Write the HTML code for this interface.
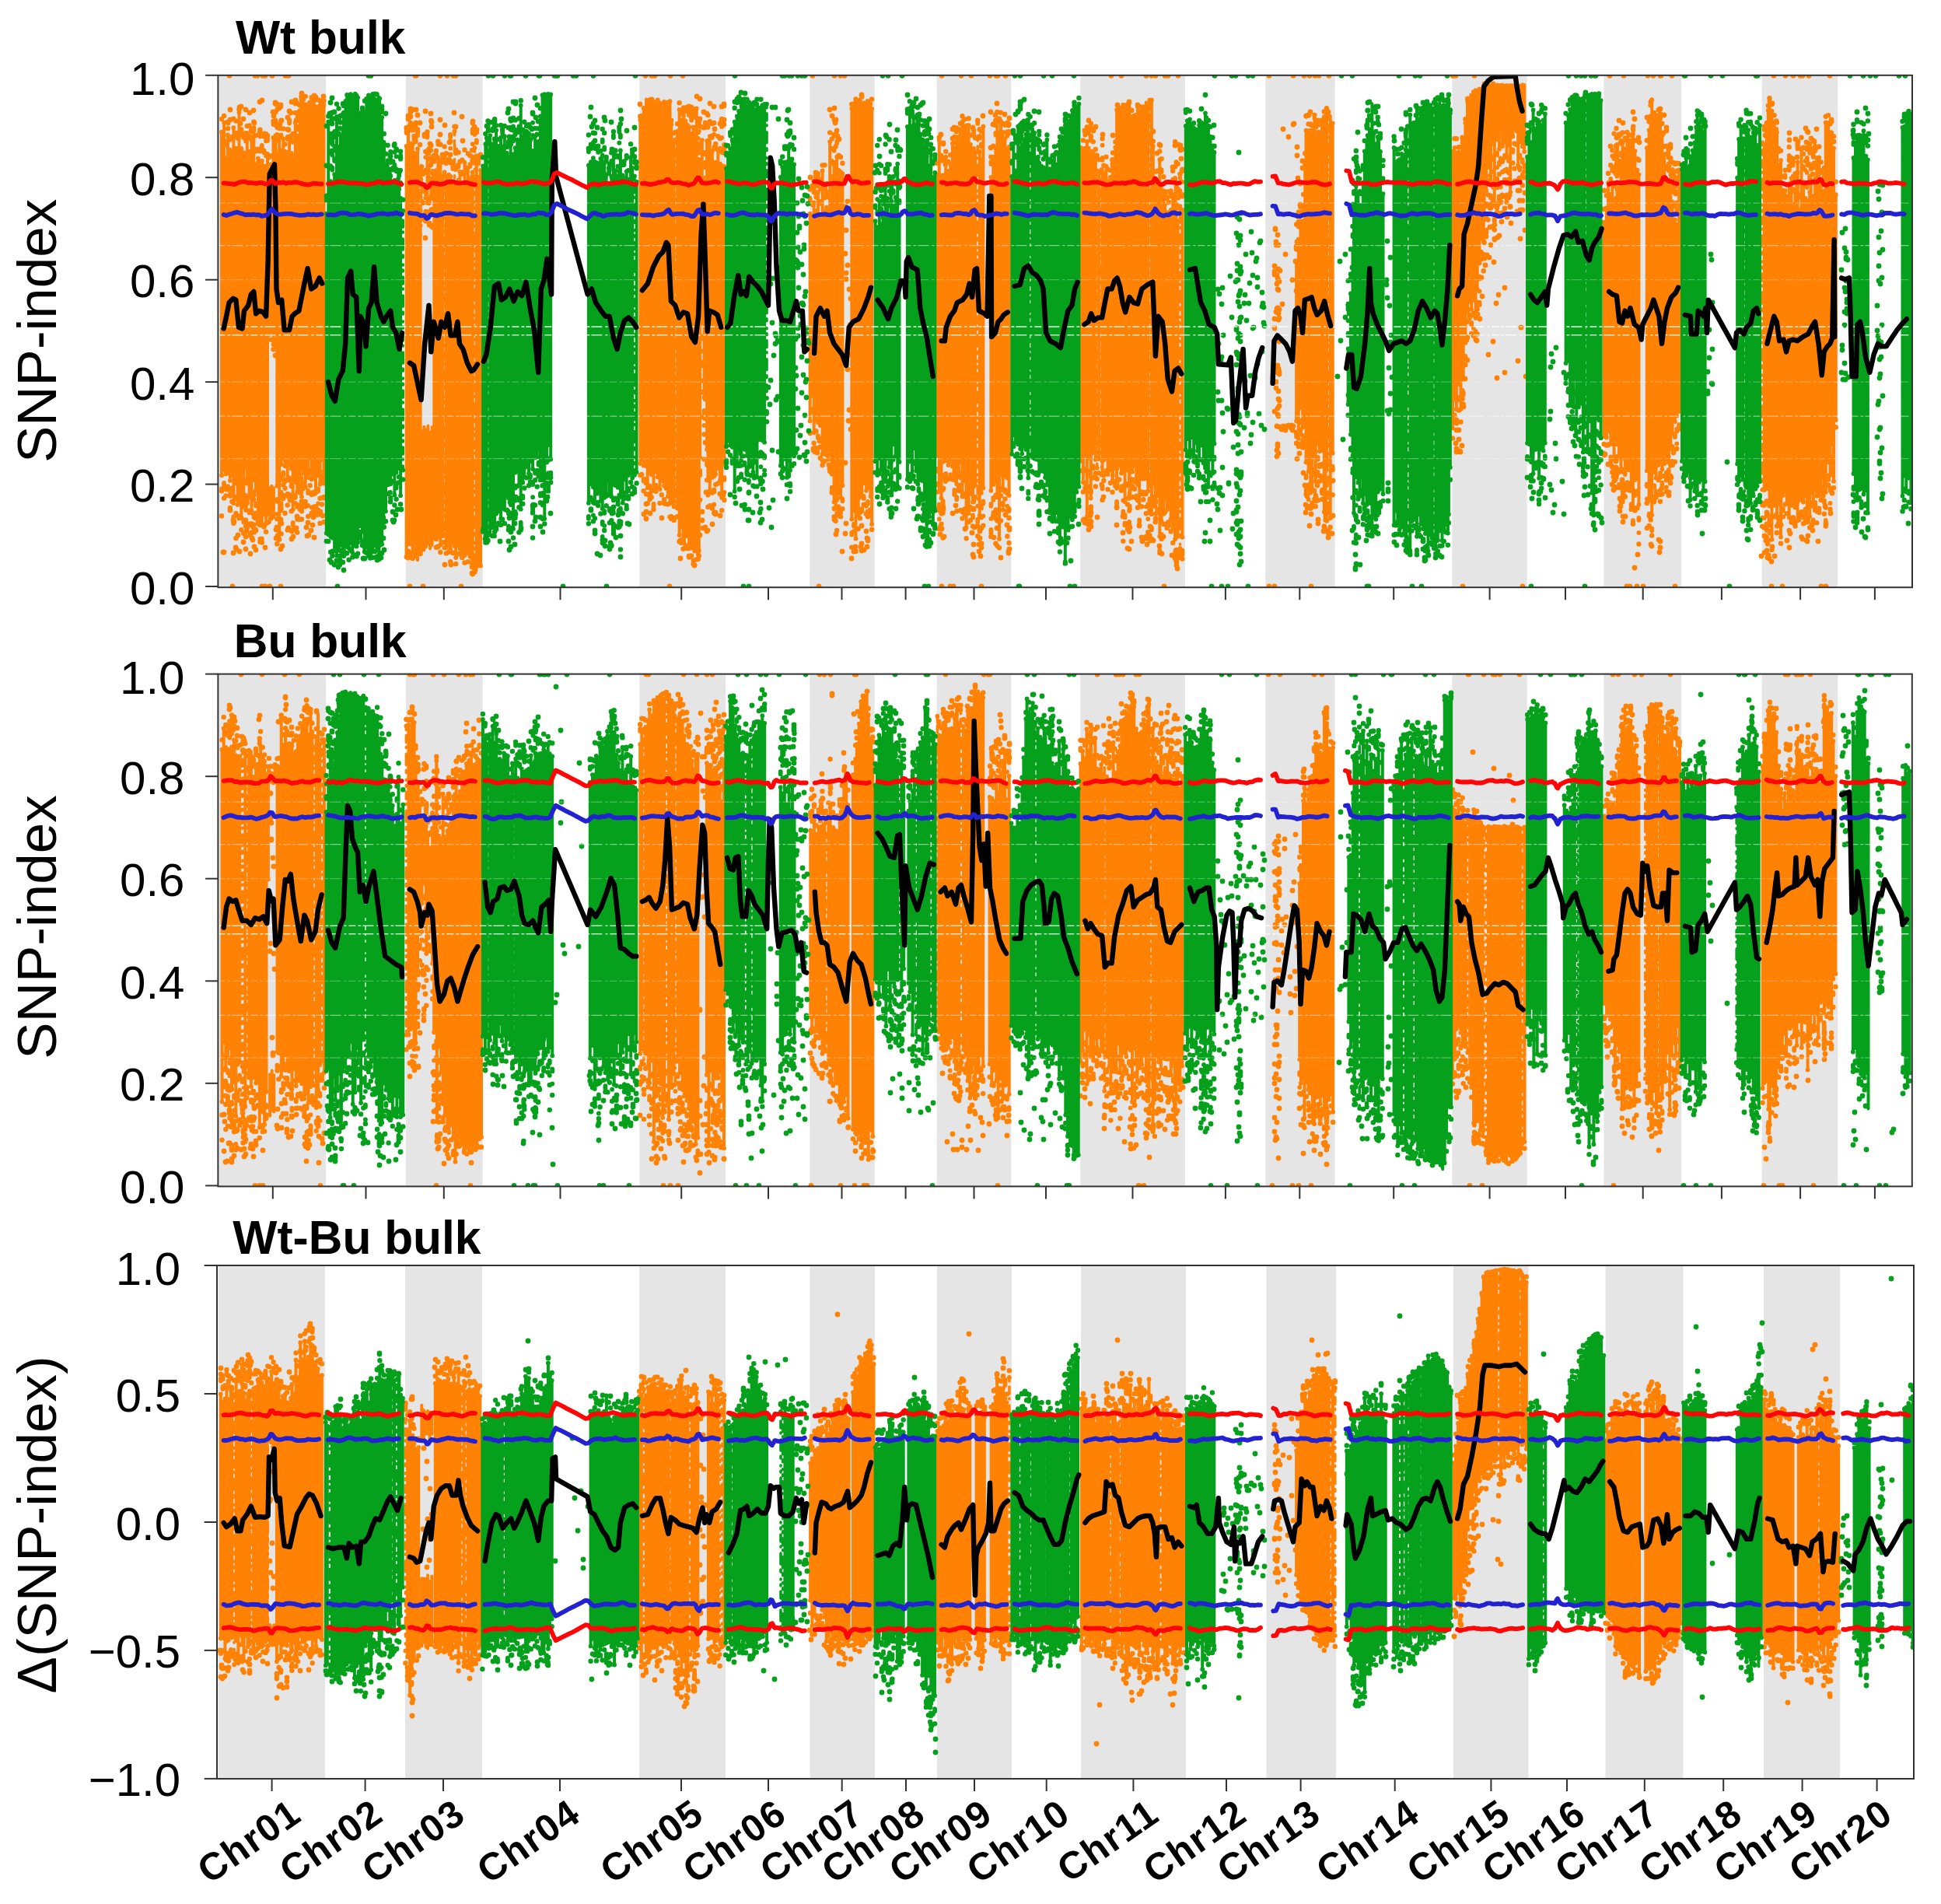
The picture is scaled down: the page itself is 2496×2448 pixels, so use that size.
<!DOCTYPE html><html><head><meta charset="utf-8"><title>SNP-index</title><style>html,body{margin:0;padding:0;background:#fff}</style></head><body><svg width="2496" height="2448" viewBox="0 0 2496 2448" style="display:block;font-family:'Liberation Sans',Arial,sans-serif">
<rect width="2496" height="2448" fill="#fff"/>
<g>
<rect x="281.8" y="96.8" width="137.2" height="658.4" fill="#E5E5E5"/>
<rect x="521.8" y="96.8" width="98.8" height="658.4" fill="#E5E5E5"/>
<rect x="822.3" y="96.8" width="110.8" height="658.4" fill="#E5E5E5"/>
<rect x="1041.4" y="96.8" width="83.3" height="658.4" fill="#E5E5E5"/>
<rect x="1204.6" y="96.8" width="95.8" height="658.4" fill="#E5E5E5"/>
<rect x="1389.2" y="96.8" width="134.7" height="658.4" fill="#E5E5E5"/>
<rect x="1627.3" y="96.8" width="89.3" height="658.4" fill="#E5E5E5"/>
<rect x="1867.3" y="96.8" width="96.3" height="658.4" fill="#E5E5E5"/>
<rect x="2062.4" y="96.8" width="99.8" height="658.4" fill="#E5E5E5"/>
<rect x="2265.6" y="96.8" width="97.8" height="658.4" fill="#E5E5E5"/>
<clipPath id="cp0"><rect x="280.4" y="96.3" width="2179.6" height="659.4"/></clipPath>
<g clip-path="url(#cp0)">
<path d="M285 172.8V608.1M288.1 160.8V600.7M290.4 206.4V606.3M293 176.6V605M295.9 195.7V614.8M298.4 197.7V607.3M300.4 167.2V644M303.4 193.8V618.5M305.6 194.1V645.8M307.5 147.7V644.7M310.3 194V662.3M313.3 199.3V648.3M316 201.7V597.8M317.8 174.3V618.6M320.6 198V636.3M323.4 183.3V652.8M326.2 177.8V614.3M326.4 170.4V593M329 214.8V627.5M332 211.8V661.5M334.4 214.6V672.5M336.8 210.1V672.3M339.5 216.5V657.8M342.1 220.5V669.8M344 201.1V657.8M346 222.4V427.1M348.4 214.5V423.9M351.5 180.1V440M353.6 214V424.8M354.4 177.4V425.7M356.3 199.8V621.7M359.2 179V682.4M361.5 196.6V593.9M364.3 181.5V587.4M366.5 197.7V596.2M369.7 199V614.6M372.1 178.7V594M374.7 200V599.4M376.7 202.9V651.8M379.8 160.8V616.9M381.8 197.7V588.3M382.2 181.7V628.7M385.6 145V630.6M388 137.4V599.5M387.5 131.1V594.2M390 136.2V605.3M392.7 137.4V623.2M396.2 136.9V610.9M398.7 138.7V584.5M400.6 138.6V613.2M403.6 138.6V612.3M406 141.2V630.9M409.1 140V608.4M411.5 133.1V619.7M414.1 131.9V587.4M416.5 138.1V618.4M346.7 627V671.9M349.3 624.7V667.4M351.9 627.3V665.4M522.6 191.1V712.7M525 167.2V696.3M528.1 187.4V696.5M530.6 188.6V706.3M532.6 199.9V708.6M534.6 202.4V705.8M537 194.4V720.3M540.1 304.5V703.8M540.6 293V705.5M547.3 241.4V251.5M549.5 196.6V258M551.6 217.2V236.6M554.4 232.4V249M556.3 243.1V252.1M558.3 228V688.6M560.9 222.2V690.5M563.3 205.8V686.5M566.3 208V697.3M569.2 229.5V686.2M573.8 230.3V700.8M577.1 227.8V697.4M579.2 229.8V703.4M582.3 237.2V694.9M586.2 238V714M589.5 234.6V698M591.5 223.9V702.5M594.3 244.3V706.5M597.5 211.9V711.2M599.2 242.1V708.3M601.8 218.4V708.3M604.4 234.2V712.4M607.1 229.8V714.7M607.7 224.4V724.2M612.8 203.6V718M615.2 230.7V720.4M618 222.1V724.3M542.7 554.2V708.2M545.3 548.8V707.3M547.9 552.8V703.5M550.5 547.5V699.4M553.1 555.8V705.5M555.7 549V701M823.3 157.2V592.9M825.2 152V587.2M827.7 142.1V595.5M831 127.6V595.9M832.7 132.3V624.1M835.6 135.4V604.2M837.7 131V607.2M840.5 133.7V627.8M843.5 135.9V603.5M845.8 131.5V610.3M848.5 135.4V626M850.8 136.8V614.9M854 133.9V621.4M856.6 135.2V625M858.8 134.4V635.1M861.5 133.2V644.2M863.2 162.7V643.6M866.5 183.2V648.3M871.1 171.8V650.5M873.6 144.1V684.9M875.9 157.9V674.1M878.5 161.1V691.7M879.1 152V672.5M881.5 158.6V686.1M883.8 163.7V685.7M886.2 166.1V702.1M889.1 174.9V701.5M891.6 166.6V700.1M893.2 172.7V705.5M895.7 142.5V703.5M897.7 217.2V709.4M898.8 207.9V705M900.1 232.2V584.9M902.8 183.2V412.2M905.5 235.2V507.8M906.9 231.7V434.3M909.1 184.3V575M910.4 184V613.6M912.8 178.2V628M915.9 197.2V610.8M918.3 211.9V609.3M920.3 211.8V606.7M923.3 196V598.9M926 213.7V614.4M928.2 216.1V636.8M931.4 217.1V593.8M1041.6 277.7V538.2M1044.7 280.7V505.9M1046.7 263.5V553.2M1049.5 274V536.3M1051.9 249.9V540.1M1054.7 281.9V543.9M1057.6 222.4V580.8M1060.5 274.7V578.7M1062.9 269.7V576.2M1065.2 273.9V574.2M1067.2 185.2V581.7M1069.8 230.1V606.6M1072.6 213.9V642.3M1074.6 211.4V649.9M1076.2 204.7V639.9M1078.5 222.1V631.1M1081 224.1V636.4M1083.4 226.3V621.2M1095.3 142.6V664.5M1098 141V653.6M1100.5 135.5V689.3M1103.7 128.7V658.6M1105.9 131.3V636.2M1108.3 137.3V633.8M1110.7 135.5V617.9M1114 141.5V627.7M1115.9 140.4V624.7M1119.4 136.5V635.1M1121.1 143.1V670.8M1205.3 228V582.8M1207.8 183.4V628.3M1210.5 229V637.3M1212.6 228.5V590.7M1215.8 227.6V589.3M1216.2 204.8V588.9M1219.5 222.9V594.8M1222.2 214.5V590M1224.9 187.5V596.7M1227.4 193.8V609.9M1227.3 196.3V584.7M1230.2 179.4V619.1M1232.9 179.1V603.9M1234.9 169.1V591.2M1237.5 160V635.5M1238 158.9V611.4M1240.5 169.2V615M1242.6 174V675.1M1245.6 164V656.9M1248 189V631.8M1251 194.7V642.4M1254.2 198.3V620.6M1259.7 197.9V659.5M1261.8 208.5V630.6M1264.4 165.4V624.4M1274.4 231.1V627.7M1277.3 205V619.8M1280.4 193.9V616.1M1282.4 160.1V635.9M1285 173.2V689.8M1287 158.8V607.5M1289.7 173.1V626.3M1292.4 181.3V609.4M1295.3 194.6V611.5M1297.5 191.9V633.8M1389.7 199.4V589.7M1392.9 194.6V617M1395.4 193.8V582.5M1397.8 185V660.9M1399.7 193.6V585.9M1402.9 197.7V610.2M1402.7 200.7V637.5M1405.8 198.6V579.1M1408.8 203.2V587.8M1413.1 223.9V587M1417.6 225.9V605.3M1419.4 226V588.5M1422.5 216.7V586.1M1424.6 235.8V606.8M1427.9 230.7V601.6M1430.5 233.4V616.2M1431 214.9V607.9M1434.3 192.6V599.2M1436.1 144.2V624.7M1436.5 144.2V599.1M1439.3 141.5V595.2M1442 143.5V605.4M1444.3 137.8V604.2M1446.6 141.4V642.1M1449.9 142V601.5M1452.1 135.4V617.7M1452.6 143.8V630.4M1455.3 153.2V595.9M1456.1 184.1V603.6M1459 155.5V596.4M1461.2 151.3V617.3M1462.9 139.6V620.4M1465.2 143V648.4M1468.1 142.3V612.1M1470.3 140.2V612.6M1473.8 131.4V612.3M1476.3 140.4V628.1M1480.9 131.3V658.1M1482.8 190.9V618.5M1486.2 233.1V623.2M1485.7 250V648.3M1488.2 239.1V634.7M1491.3 208.3V686.7M1493.6 241.3V666.7M1496.3 248.4V657.8M1498 266V639.5M1500.7 276V652.3M1503 278.1V650.3M1505.7 273V664M1508.2 253.8V675.2M1511.1 252V690.2M1512.6 265.5V686.6M1514.6 287.4V686.7M1520.4 273V687.6M1667.1 339.8V538.5M1669.8 310.7V560.8M1672.4 287.2V520.7M1675.2 292.1V546.3M1676.1 286.9V540.1M1678.2 213.8V543.4M1679.5 170.8V591.3M1682.6 171.2V603.1M1685.2 171V630.6M1687.2 170.9V626.3M1690.4 155.6V583.5M1691.8 179.4V616M1694.7 172.8V567.7M1696.8 173V577.2M1700.1 163.6V576.2M1702.8 153.3V655.2M1704.6 160V645M1706 151.1V601M1710.7 148.8V663.2M1713.6 161.5V579.5M1868 197.9V547.3M1870.5 193V511.1M1872.9 200.1V523.1M1875.7 198.6V490.9M1878.5 199.7V523.2M1880.6 186.4V481.8M1881.7 198.8V484.6M1884.4 161.4V437.8M1887.3 134.5V394M1887 131.5V377.6M1889.7 130.3V384.1M1892.2 125.3V394.8M1894.9 121.3V382.7M1897.6 119.2V405.9M1899.7 117.1V368.3M1902.5 117.5V335.4M1904.7 114.8V303.6M1907.7 109.2V306.5M1908.6 111.1V278.9M1911.2 110.6V241.9M1913.5 109.6V211.9M1915.9 109.3V186.6M1917 109.5V231.3M1919.6 109.3V181.7M1921.8 109.1V261.1M1925.1 108.6V176.2M1927.9 108.9V188.7M1929.6 108.9V164.3M1932.2 108.6V184.9M1935.1 109.5V179.6M1937.5 109V197.2M1940 109.5V183.8M1942.2 109V243.8M1945.4 109.3V172.4M1947.5 109.2V161.6M1950.4 108.9V165.5M1952.2 109.2V209.3M1954.4 109.4V179.4M1957.9 108.2V185.3M1960.3 109V191.8M2062.6 288.8V558.1M2065.8 270.5V559.4M2068.1 237.9V551.4M2071.3 253V567.3M2073.3 239.7V568M2075.6 259.8V584.6M2078.5 257.4V568.1M2079.4 246.8V566.7M2081.9 244.8V583.9M2084.5 220.1V602M2086.5 186.9V583.4M2089.8 198.6V606.9M2089.3 194.2V586.8M2092.4 180.6V600M2094.8 184.2V601.1M2097.7 183.5V628.1M2099.9 175.4V649.1M2100.2 170.9V607.4M2102.5 197.2V613.9M2105.6 221.7V611M2107.4 227.4V645.7M2117.8 193.3V602.2M2120.6 170.6V640.6M2122.6 152.3V640.3M2124.2 131.2V659.2M2127.3 147.7V604M2129.6 151V611.5M2132.6 153.6V594.8M2135 163.3V591M2135 153.7V587.7M2137.4 177.6V600.5M2140.2 201.2V593.1M2142.9 237.1V587.4M2145.8 255.3V583.9M2145.6 236.9V571.7M2148.4 227.2V573.9M2150.6 262.6V553.9M2153.9 285.4V539M2156.3 291.9V531.4M2159.1 221.6V525.9M2268.8 189.1V626.9M2271.8 167.9V623.9M2273.8 145V625.2M2275.5 133.2V647.6M2278.5 145.7V690.6M2281.6 160.6V646.7M2284.2 168.9V641M2285.1 173.1V660.8M2286.8 215.5V644.6M2290 209.2V687.4M2290.3 256.2V661M2292.9 247.5V633.8M2295.6 248.3V628.4M2297.7 255.8V644.2M2300.7 239.2V662.2M2303.5 232.3V646.8M2305.7 265.9V644.7M2308.5 247.5V649.5M2311.6 211.5V666.4M2313.4 273.1V640M2316.5 195V639.7M2319 236.9V642.4M2321.7 258V634.4M2323.8 261V649.8M2327.2 250.1V660.8M2328.7 237.5V630M2331.7 255.2V648.2M2334.2 233.1V625.8M2336.2 205.9V634.7M2339.3 205.4V633.9M2341.6 242.1V628.2M2344.5 248.8V609.9M2345.9 249.4V623.4M2347.7 160.4V629.8M2351 160.9V591.2M2353.5 173.2V607.7M2355.2 173.4V567M2358 193.8V615.6M2360.7 253.2V536.8" stroke="#FF8205" stroke-width="4" stroke-linecap="round" fill="none"/>
<path d="M285 169.8V156.1M285 611.1V628.2M288.1 157.8V152.1M288.1 603.7V637.4M290.4 203.4V184.9M290.4 609.3V634.4M293 173.6V168.2M293 608V626.4M295.9 192.7V182.4M295.9 617.8V650M298.4 194.7V179M298.4 610.3V641.9M300.4 164.2V155.8M300.4 647V669.7M303.4 190.8V158.6M303.4 621.5V656.9M305.6 191.1V180.7M305.6 648.8V659.9M307.5 144.7V144M307.5 647.7V663.2M310.3 191V169.6M310.3 665.3V678.2M313.3 196.3V179.8M313.3 651.3V682.7M316 198.7V174.3M316 600.8V673.5M317.8 171.3V165M317.8 621.6V643.7M320.6 195V164.6M320.6 639.3V670.5M323.4 180.3V168.1M323.4 655.8V681.4M326.2 174.8V167.5M326.2 617.3V639.4M326.4 167.4V159.9M326.4 596V633.5M329 211.8V177.1M329 630.5V678.1M331.9 203.7V194.8M331.9 661V668.2M332 208.8V196.7M332 664.5V670.2M334.4 211.6V169.9M334.4 675.5V693.7M336.8 207.1V177.7M336.8 675.3V694.5M339.5 213.5V178.3M339.5 660.8V674.4M342.1 217.5V175.4M342.1 672.8V680.6M344 198.1V177.3M344 660.8V668.9M346 219.4V205.5M346 430.1V436.3M348.4 211.5V203.6M348.4 426.9V433.7M351.5 177.1V159.1M351.5 443V446.2M353.6 211V185.7M353.6 427.8V440.6M354.4 174.4V146.9M354.4 428.7V436.8M356.3 196.8V176.2M356.3 624.7V664.2M359.2 176V166M359.2 685.4V690.5M361.5 193.6V158.1M361.5 596.9V651.2M364.3 178.5V168.5M364.3 590.4V620.4M366.5 194.7V188.2M366.5 599.2V624.7M369.7 196V169.2M369.7 617.6V646.4M372.1 175.7V157.8M372.1 597V632.9M374.7 197V177.6M374.7 602.4V622M376.7 199.9V175M376.7 654.8V678.1M379.8 157.8V148.1M379.8 619.9V644.2M381.8 194.7V169.2M381.8 591.3V613.2M382.2 178.7V166M382.2 631.7V681.4M385.6 142V138.4M385.6 633.6V664.8M388 134.4V131.6M388 602.5V664.5M387.5 128.1V127.2M387.5 597.2V647M390 133.2V130.5M390 608.3V648.2M392.7 134.4V127.1M392.7 626.2V642M396.2 133.9V126.5M396.2 613.9V660.9M398.7 135.7V134.9M398.7 587.5V621.1M400.6 135.6V128.4M400.6 616.2V658.7M403.6 135.6V132.9M403.6 615.3V653.6M406 138.2V127.9M406 633.9V648.3M409.1 137V131.4M409.1 611.4V658.3M411.5 130.1V129.4M411.5 622.7V637.7M414.1 128.9V128.8M414.1 590.4V613.3M416.5 135.1V132.5M416.5 621.4V636M522.6 188.1V167.4M525 164.2V154.9M525 699.3V711.8M528.1 184.4V161.4M528.1 699.5V709.9M530.6 185.6V170.2M530.6 709.3V714.9M532.6 196.9V178.1M532.6 711.6V712.8M534.6 199.4V160.7M534.6 708.8V712.2M537 191.4V169.3M540.1 301.5V221.2M540.1 706.8V717.3M540.6 290V249.3M540.6 708.5V708.8M542.1 240.1V217.3M542.1 246.1V255.9M544 240.1V226.7M544 246.1V257.8M547.3 238.4V198.1M547.3 254.5V281.1M549.5 193.6V172.6M549.5 261V269.1M551.6 214.2V194.2M551.6 239.6V258M554.4 229.4V190.1M554.4 252V286.4M556.3 240.1V204.8M556.3 255.1V266.5M558.3 225V202.9M558.3 691.6V694.1M560.9 219.2V197.1M560.9 693.5V700.6M563.3 202.8V184.9M563.3 689.5V699.9M566.3 205V188.7M566.3 700.3V707M569.2 226.5V211.6M569.2 689.2V694.3M571.6 221.4V191.6M571.6 696.9V701.2M573.8 227.3V200.4M573.8 703.8V708.4M577.1 224.8V207.7M577.1 700.4V706.6M579.2 226.8V176.3M579.2 706.4V719.2M582.3 234.2V211.8M582.3 697.9V707.9M584.5 168.7V165.7M584.5 701.9V707.5M586.2 235V199.9M586.2 717V722M589.5 231.6V199M589.5 701V708.6M591.5 220.9V210.9M591.5 705.5V709.5M594.3 241.3V208.7M594.3 709.5V713.8M597.5 208.9V195.7M597.5 714.2V720.4M599.2 239.1V218.9M599.2 711.3V717.9M601.8 215.4V200.5M601.8 711.3V719.1M604.4 231.2V202.9M604.4 715.4V716.9M607.1 226.8V196.3M607.1 717.7V720.8M607.7 221.4V161.2M607.7 727.2V735.2M610.4 190.2V166.1M610.4 723.5V732.5M612.8 200.6V172.9M612.8 721V725.2M615.2 227.7V209.9M615.2 723.4V723.9M618 219.1V201.9M618 727.3V727.7M823.3 154.2V152.6M823.3 595.9V607.9M825.2 149V148.2M825.2 590.2V606.9M827.7 139.1V132.2M827.7 598.5V628.2M831 598.9V632.2M832.7 129.3V124.9M832.7 627.1V644.1M835.6 132.4V131.6M835.6 607.2V638.9M837.7 128V127.9M837.7 610.2V636.3M840.5 130.7V128.9M840.5 630.8V652M843.5 132.9V133.3M843.5 606.5V628.6M845.8 128.5V129.2M845.8 613.3V624.2M848.5 132.4V132.7M848.5 629V643.9M850.8 133.8V131.2M850.8 617.9V633.1M854 130.9V129M854 624.4V639.2M856.6 132.2V130.4M856.6 628V645M858.8 131.4V131.7M858.8 638.1V645.3M861.5 130.2V129.4M861.5 647.2V661.7M863.2 159.7V157.9M863.2 646.6V663.8M866.5 180.2V174.2M866.5 651.3V665.8M868.5 179.6V173.3M868.5 651.5V662.4M871.1 168.8V162.2M871.1 653.5V661.2M873.6 141.1V135.2M873.6 687.9V693.3M875.9 154.9V148.8M875.9 677.1V694.8M878.5 158.1V143.6M878.5 694.7V702.6M879.1 149V141.5M879.1 675.5V694.5M881.5 155.6V143.2M881.5 689.1V700.4M883.8 160.7V140.7M883.8 688.7V698.4M886.2 163.1V150.7M886.2 705.1V713.3M889.1 171.9V146.2M889.1 704.5V711.4M891.6 163.6V143.4M891.6 703.1V721.8M893.2 169.7V153.5M893.2 708.5V723.6M895.7 139.5V136.6M895.7 706.5V716.1M897.7 214.2V173.1M897.7 712.4V715.8M898.8 204.9V156M898.8 708V711.5M900.1 229.2V187.8M900.1 587.9V607.5M902.8 180.2V166.4M902.8 415.2V501M905.5 232.2V199.3M905.5 510.8V555.4M906.9 228.7V201.3M906.9 437.3V503.1M909.1 181.3V165.8M909.1 578V614.1M910.4 181V151M910.4 616.6V648.6M912.8 175.2V159.4M912.8 631V647.3M915.9 194.2V162.1M915.9 613.8V650.6M918.3 208.9V161M918.3 612.3V656.6M920.3 208.8V188M920.3 609.7V619.9M923.3 193V178.2M923.3 601.9V618.4M926 210.7V181M926 617.4V632.1M928.2 213.1V156M928.2 639.8V653.2M931.4 214.1V189.2M931.4 596.8V639.9M1041.6 274.7V246.6M1041.6 541.2V554M1044.7 277.7V266.1M1044.7 508.9V526.4M1046.7 260.5V235.7M1046.7 556.2V566.7M1049.5 271V237.2M1049.5 539.3V551.3M1051.9 246.9V226.3M1051.9 543.1V573.3M1054.7 278.9V234.7M1054.7 546.9V571.4M1057.6 219.4V215.5M1057.6 583.8V595M1060.5 271.7V247.3M1060.5 581.7V589.6M1062.9 266.7V239.4M1062.9 579.2V581.7M1065.2 270.9V239.5M1065.2 577.2V587.5M1067.2 182.2V173.5M1067.2 584.7V603M1069.8 227.1V181.5M1069.8 609.6V630.3M1072.6 210.9V176.7M1072.6 645.3V661.5M1074.6 208.4V191.5M1074.6 652.9V666.6M1076.2 201.7V178.2M1076.2 642.9V678.9M1078.5 219.1V202.7M1078.5 634.1V651.4M1081 221.1V204.9M1081 639.4V661.2M1083.4 223.3V212.9M1083.4 624.2V651.2M1095.3 139.6V137.1M1095.3 667.5V700.6M1098 138V136.6M1098 656.6V680.4M1100.5 132.5V130.6M1100.5 692.3V705.8M1103.7 661.6V676.8M1105.9 128.3V129.2M1105.9 639.2V663.3M1108.3 134.3V127.4M1108.3 636.8V653.9M1110.7 132.5V131.2M1110.7 620.9V645.8M1114 138.5V137M1114 630.7V658M1115.9 137.4V133.2M1115.9 627.7V657.5M1119.4 133.5V132M1119.4 638.1V652.1M1121.1 140.1V130.6M1121.1 673.8V677.6M1205.3 225V212.9M1205.3 585.8V629.4M1207.8 180.4V179.7M1207.8 631.3V677M1210.5 226V209.5M1210.5 640.3V670.7M1212.6 225.5V209.3M1212.6 593.7V656.4M1215.8 224.6V214.4M1215.8 592.3V615.7M1216.2 201.8V197.8M1216.2 591.9V612.5M1219.5 219.9V210.9M1219.5 597.8V613M1222.2 211.5V202.4M1222.2 593V610.5M1224.9 184.5V181M1224.9 599.7V613.3M1227.4 190.8V179M1227.4 612.9V632.7M1227.3 193.3V186.4M1227.3 587.7V613.9M1230.2 176.4V167.6M1230.2 622.1V654.2M1232.9 176.1V169.8M1232.9 606.9V627.9M1234.9 166.1V161.7M1234.9 594.2V621M1237.5 157V152.4M1237.5 638.5V663.5M1238 155.9V150.7M1238 614.4V631.3M1240.5 166.2V156.2M1240.5 618V658M1242.6 171V167M1242.6 678.1V689.1M1245.6 161V155.4M1245.6 659.9V668.1M1248 186V177M1248 634.8V666M1251 191.7V176.2M1251 645.4V673.4M1252.1 191V170.4M1252.1 625.3V651.8M1254.2 195.3V180.6M1254.2 623.6V635.9M1257.2 176V157.7M1257.2 650.6V686.1M1259.7 194.9V169.4M1259.7 662.5V689.6M1261.8 205.5V171.8M1261.8 633.6V662.1M1264.4 162.4V149.5M1264.4 627.4V672.6M1274.4 228.1V204.8M1274.4 630.7V686.8M1277.3 202V190.9M1277.3 622.8V659.9M1280.4 190.9V157.8M1280.4 619.1V663.7M1282.4 157.1V147M1282.4 638.9V666.5M1285 170.2V155.6M1285 692.8V701.1M1287 155.8V147.7M1287 610.5V634.4M1289.7 170.1V161.9M1289.7 629.3V652.5M1292.4 178.3V163.7M1292.4 612.4V638.4M1295.3 191.6V160.9M1295.3 614.5V654.3M1297.5 188.9V162.5M1297.5 636.8V662.8M1389.7 196.4V193.3M1389.7 592.7V602.1M1392.9 191.6V183.5M1392.9 620V629.5M1395.4 190.8V171.9M1395.4 585.5V624.4M1397.8 182V166.3M1397.8 663.9V665.9M1399.7 190.6V174.4M1399.7 588.9V622.8M1402.9 194.7V162.1M1402.9 613.2V648.4M1402.7 197.7V178.8M1402.7 640.5V651.4M1405.8 195.6V185.2M1405.8 582.1V611.3M1408.8 200.2V195.1M1408.8 590.8V622.4M1410.7 219.4V202.9M1410.7 601.6V612.6M1413.1 220.9V208.2M1413.1 590V605.1M1416.7 231.7V221.2M1416.7 610.6V619.8M1417.6 222.9V181.3M1417.6 608.3V639.8M1419.4 223V215.9M1419.4 591.5V614.7M1422.5 213.7V204.8M1422.5 589.1V602.3M1424.6 232.8V220.6M1424.6 609.8V626.1M1427.9 227.7V222M1427.9 604.6V617.9M1430.5 230.4V208.4M1430.5 619.2V629.7M1431 211.9V199.6M1431 610.9V615.3M1434.3 189.6V185.5M1434.3 602.2V621.7M1436.1 141.2V141.9M1436.1 627.7V649.8M1436.5 141.2V140.6M1436.5 602.1V623.1M1439.3 138.5V137.1M1439.3 598.2V613.4M1442 140.5V141.3M1442 608.4V627.6M1444.3 134.8V134.5M1444.3 607.2V660.6M1446.6 138.4V133.2M1446.6 645.1V671.9M1449.9 139V137.6M1449.9 604.5V645.4M1452.1 132.4V132.1M1452.1 620.7V680.7M1452.6 140.8V137M1452.6 633.4V651.7M1455.3 150.2V144.9M1455.3 598.9V625M1456.1 181.1V175.7M1456.1 606.6V622.1M1459 152.5V151.6M1459 599.4V625.7M1461.2 148.3V146.1M1461.2 620.3V637.4M1462.9 136.6V137.8M1462.9 623.4V649.6M1465.2 140V140M1465.2 651.4V672.5M1468.1 139.3V138.9M1468.1 615.1V648.1M1470.3 137.2V136.7M1470.3 615.6V639.3M1473.8 615.3V657.1M1476.3 137.4V136.2M1476.3 631.1V681.1M1478.5 135.4V132.1M1478.5 624V653.1M1480.9 128.3V129.1M1480.9 661.1V689.9M1482.8 187.9V184.8M1482.8 621.5V645.2M1486.2 230.1V223.5M1486.2 626.2V657.5M1485.7 247V234.5M1485.7 651.3V668.2M1488.2 236.1V222.9M1488.2 637.7V655.8M1491.3 205.3V197.5M1491.3 689.7V708M1493.6 238.3V207.3M1493.6 669.7V689.8M1496.3 245.4V230.4M1496.3 660.8V670.9M1498 263V252.1M1498 642.5V655.5M1500.7 273V249.5M1500.7 655.3V675.8M1503 275.1V263.1M1503 653.3V672.3M1505.7 270V248.6M1505.7 667V680.3M1508.2 250.8V222.8M1508.2 678.2V694.9M1511.1 249V217.3M1511.1 693.2V714.8M1512.6 262.5V243.6M1512.6 689.6V717.7M1514.6 284.4V245.8M1514.6 689.7V705.8M1517.5 265.2V226.9M1517.5 704.9V714M1520.4 270V220.7M1520.4 690.6V715.4M1667.1 336.8V323.6M1667.1 541.5V566.8M1669.8 307.7V288.4M1669.8 563.8V570.9M1672.4 284.2V269.3M1672.4 523.7V554.9M1675.2 289.1V275.4M1675.2 549.3V572.3M1676.1 283.9V253.1M1676.1 543.1V562.7M1678.2 210.8V200.3M1678.2 546.4V567.3M1679.5 167.8V152.2M1679.5 594.3V632.3M1682.6 168.2V162.5M1682.6 606.1V648.1M1685.2 168V162.6M1685.2 633.6V650.7M1687.2 167.9V164.5M1687.2 629.3V649M1690.4 152.6V151M1690.4 586.5V606.5M1691.8 176.4V166.3M1691.8 619V648.2M1694.7 169.8V163M1694.7 570.7V608.1M1696.8 170V162.8M1696.8 580.2V615.7M1700.1 160.6V157.6M1700.1 579.2V638.9M1702.8 150.3V146.6M1702.8 658.2V673.5M1704.6 157V143.5M1704.6 648V665.6M1706 148.1V142.3M1706 604V666.4M1708.1 148.7V143.3M1708.1 597.2V649.1M1710.7 145.8V145.8M1710.7 666.2V674.7M1713.6 158.5V155.8M1713.6 582.5V601M1868 194.9V186.8M1868 550.3V560.5M1870.5 190V181.2M1870.5 514.1V530.6M1872.9 197.1V181.4M1872.9 526.1V540.4M1875.7 195.6V192.3M1875.7 493.9V524.5M1878.5 196.7V192.4M1878.5 526.2V539.4M1880.6 183.4V179.9M1880.6 484.8V509.7M1881.7 195.8V190.1M1881.7 487.6V516.5M1884.4 158.4V156.4M1884.4 440.8V466.2M1887.3 131.5V129.7M1887.3 397V410.6M1887 128.5V125.9M1887 380.6V410.1M1889.7 127.3V125.1M1889.7 387.1V405.9M1892.2 122.3V123.6M1892.2 397.8V425.9M1894.9 118.3V118.1M1894.9 385.7V428.6M1897.6 116.2V115.9M1897.6 408.9V433.4M1899.7 371.3V394.3M1902.5 114.5V113.7M1902.5 338.4V388.7M1904.7 306.6V330.3M1907.7 309.5V345.3M1908.6 281.9V308.8M1911.2 244.9V292.9M1913.5 214.9V247.4M1915.9 189.6V232.4M1917 234.3V264.5M1919.6 184.7V256.8M1921.8 264.1V292.4M1925.1 179.2V237.9M1927.9 191.7V221M1929.6 167.3V205M1932.2 187.9V217.9M1935.1 182.6V228.1M1937.5 200.2V257M1940 186.8V218.9M1942.2 246.8V262.3M1945.4 175.4V206.4M1947.5 164.6V181.5M1950.4 168.5V183M1952.2 212.3V228.4M1954.4 182.4V228M1957.9 188.3V235.3M1960.3 194.8V217.4M2062.6 285.8V271.8M2062.6 561.1V568M2065.8 267.5V254.6M2065.8 562.4V569.5M2068.1 234.9V225.9M2068.1 554.4V568.7M2071.3 250V215.4M2071.3 570.3V591.9M2073.3 236.7V196.3M2073.3 571V604.1M2075.6 256.8V206.8M2075.6 587.6V615.3M2078.5 254.4V200.2M2078.5 571.1V610.4M2079.4 243.8V189.4M2079.4 569.7V606.7M2081.9 241.8V210.1M2081.9 586.9V624M2084.5 217.1V175.6M2084.5 605V641.9M2086.5 183.9V173.6M2086.5 586.4V642M2089.8 195.6V180.6M2089.8 609.9V635.6M2089.3 191.2V182.7M2089.3 589.8V602.6M2092.4 177.6V173M2092.4 603V620.3M2094.8 181.2V176.5M2094.8 604.1V627.2M2097.7 180.5V176.8M2097.7 631.1V651.8M2099.9 172.4V168.6M2099.9 652.1V670.7M2100.2 167.9V165.7M2100.2 610.4V627.5M2102.5 194.2V183.8M2102.5 616.9V653.3M2105.6 218.7V207.2M2105.6 614V650.1M2107.4 224.4V208.9M2107.4 648.7V696.4M2117.8 190.3V183.6M2117.8 605.2V643.9M2120.6 167.6V159.4M2120.6 643.6V673M2122.6 149.3V138.2M2122.6 643.3V665.3M2124.2 128.2V126.2M2124.2 662.2V685.5M2127.3 144.7V141.1M2127.3 607V636.2M2129.6 148V142.9M2129.6 614.5V636.5M2132.6 150.6V144.3M2132.6 597.8V614M2135 160.3V154.7M2135 594V632.8M2135 150.7V149.2M2135 590.7V609.6M2137.4 174.6V161.9M2137.4 603.5V632.1M2140.2 198.2V191.4M2140.2 596.1V609M2142.9 234.1V190.9M2142.9 590.4V628.9M2145.8 252.3V205.4M2145.8 586.9V612.8M2145.6 233.9V196M2145.6 574.7V613.3M2148.4 224.2V206.3M2148.4 576.9V595.3M2150.6 259.6V221.3M2150.6 556.9V594.8M2153.9 282.4V213.9M2153.9 542V590.7M2156.3 288.9V263.9M2156.3 534.4V573.9M2159.1 218.6V213.3M2159.1 528.9V548.5M2266.2 194.1V186.7M2266.2 629.6V673.6M2268.8 186.1V169.8M2268.8 629.9V675.3M2271.8 164.9V161.3M2271.8 626.9V687.3M2273.8 142V138.7M2273.8 628.2V659.9M2275.5 130.2V129.4M2275.5 650.6V672.3M2278.5 142.7V137.1M2278.5 693.6V703.8M2281.6 157.6V151.3M2281.6 649.7V661.3M2284.2 165.9V158.6M2284.2 644V658.9M2285.1 170.1V160.4M2285.1 663.8V673.4M2286.8 212.5V193.7M2286.8 647.6V670.2M2290 206.2V196.8M2290 690.4V695.6M2290.3 253.2V238M2290.3 664V671.6M2292.9 244.5V230M2292.9 636.8V661.4M2295.6 245.3V221.8M2295.6 631.4V645.4M2297.7 252.8V240.5M2297.7 647.2V657.1M2300.7 236.2V192.1M2300.7 665.2V678.9M2303.5 229.3V209.4M2303.5 649.8V668.4M2305.7 262.9V207.4M2305.7 647.7V665.1M2308.5 244.5V226.4M2308.5 652.5V673.4M2311 258.2V225M2311 634.3V642.3M2311.6 208.5V188.4M2311.6 669.4V680.6M2313.4 270.1V238.1M2313.4 643V664.8M2316.5 192V179.7M2316.5 642.7V655.2M2319 233.9V201.1M2319 645.4V670.1M2321.7 255V210.2M2321.7 637.4V655.6M2323.8 258V194.9M2323.8 652.8V662.5M2327.2 247.1V188.1M2327.2 663.8V675.3M2328.7 234.5V217.4M2328.7 633V642.9M2331.7 252.2V194.4M2331.7 651.2V669.4M2334.2 230.1V191M2334.2 628.8V653M2336.2 202.9V192.7M2336.2 637.7V669.1M2339.3 202.4V191.6M2339.3 636.9V656M2341.6 239.1V211.6M2341.6 631.2V639.8M2344.5 245.8V232.7M2344.5 612.9V634.5M2345.9 246.4V225.5M2345.9 626.4V657.6M2347.7 157.4V152.7M2347.7 632.8V673.4M2351 157.9V151.3M2351 594.2V613.6M2353.5 170.2V162.3M2353.5 610.7V651.7M2355.2 170.4V159.5M2355.2 570V592.8M2358 190.8V178.3M2358 618.6V624.2M2360.7 250.2V236.7M2360.7 539.8V546.1" stroke="#FF8205" stroke-width="5.8" stroke-linecap="round" stroke-dasharray="0.1 17 3 16 0.1 14 5 19 0.1 15 1 20" fill="none"/>
<path d="M285 153.1V145.1M285 631.2V683.8M288.1 149.1V143.5M288.1 640.4V662.3M290.4 181.9V171.6M290.4 637.4V649.7M293 165.2V153.3M293 629.4V657.2M295.9 179.4V169.2M295.9 653V667.8M298.4 176V169.5M298.4 644.9V664.8M300.4 152.8V149.1M300.4 672.7V698.2M303.4 155.6V137.1M303.4 659.9V700.3M305.6 177.7V152.2M305.6 662.9V689.2M307.5 141V139.4M307.5 666.2V686.1M310.3 166.6V153.3M310.3 681.2V701.7M313.3 176.8V165.6M313.3 685.7V701.1M316 171.3V142.8M316 676.5V687.7M317.8 162V147.3M317.8 646.7V681M320.6 161.6V142.8M320.6 673.5V699.7M323.4 165.1V148.3M323.4 684.4V704.1M326.2 164.5V156M326.2 642.4V676M326.4 156.9V142.5M326.4 636.5V662.6M329 174.1V163.4M329 681.1V703.4M331.9 191.8V181M331.9 671.2V677.1M332 193.7V176.4M332 673.2V676M334.4 166.9V138.5M334.4 696.7V698.6M336.8 174.7V153.1M336.8 697.5V704.3M339.5 175.3V152M339.5 677.4V698M342.1 172.4V141.9M342.1 683.6V704.6M344 174.3V168.5M344 671.9V676.7M346 202.5V178.3M348.4 200.6V193.3M348.4 436.7V440.5M351.5 156.1V144.6M351.5 449.2V453.1M353.6 182.7V169M353.6 443.6V450.7M354.4 143.9V134.3M354.4 439.8V455.6M356.3 173.2V139.5M356.3 667.2V701.9M359.2 163V148.4M359.2 693.5V704.7M361.5 155.1V144.3M361.5 654.2V701.9M364.3 165.5V162.8M364.3 623.4V637.6M366.5 185.2V172.8M366.5 627.7V661.8M369.7 166.2V160M369.7 649.4V684.8M372.1 154.8V144.8M372.1 635.9V654.7M374.7 174.6V156M374.7 625V660.8M376.7 172V161M376.7 681.1V701.8M379.8 145.1V138M379.8 647.2V690.9M381.8 166.2V142.5M381.8 616.2V645.6M382.2 163V145.8M382.2 684.4V707.6M385.6 135.4V129.3M385.6 667.8V686.5M388 128.6V122.6M388 667.5V673.8M387.5 124.2V120.6M387.5 650V663.2M390 127.5V121.5M390 651.2V669.2M392.7 124.1V121.2M392.7 645V660.3M396.2 663.9V674.1M398.7 131.9V130.1M398.7 624.1V644.7M400.6 125.4V122.2M400.6 661.7V683.4M403.6 129.9V122.1M403.6 656.6V668.6M406 124.9V123.3M406 651.3V668M409.1 128.4V126.3M409.1 661.3V686.1M411.5 640.7V676M414.1 616.3V655.1M416.5 129.5V126.3M416.5 639V672.1M522.6 164.4V157.2M525 151.9V144.1M525 714.8V716.6M528.1 158.4V153.8M528.1 712.9V714M530.6 167.2V156.9M530.6 717.9V720.7M532.6 175.1V157.6M534.6 157.7V141.8M534.6 715.2V719.8M537 166.3V145.7M540.1 218.2V180.3M540.6 246.3V225.7M540.6 711.8V713.7M542.1 214.3V209M542.1 258.9V271.5M544 223.7V202.8M544 260.8V270.1M547.3 195.1V175.9M547.3 284.1V297.9M549.5 169.6V163.9M549.5 272.1V278.2M551.6 191.2V177.9M551.6 261V284.6M554.4 187.1V153.8M554.4 289.4V304.3M556.3 201.8V174.9M556.3 269.5V288.1M558.3 199.9V180.7M560.9 194.1V175.2M560.9 703.6V708.1M563.3 181.9V159.9M563.3 702.9V710.9M566.3 185.7V157.3M566.3 710V711.4M569.2 208.6V191.1M569.2 697.3V703.3M571.6 188.6V177.4M571.6 704.2V706.2M573.8 197.4V173.7M573.8 711.4V715.1M577.1 204.7V198.7M577.1 709.6V713.8M579.2 173.3V153.6M579.2 722.2V730.4M582.3 208.8V187.3M582.3 710.9V714.3M584.5 162.7V156M584.5 710.5V723M586.2 196.9V184M586.2 725V729.1M589.5 196V189.1M589.5 711.6V716.2M591.5 207.9V187.4M591.5 712.5V716.8M594.3 205.7V191.7M594.3 716.8V720.6M597.5 192.7V179.7M597.5 723.4V726.7M599.2 215.9V203.3M601.8 197.5V175.7M601.8 722.1V726.9M604.4 199.9V182.9M607.1 193.3V167.7M607.1 723.8V727.7M607.7 158.2V149M607.7 738.2V739.3M610.4 163.1V153.8M610.4 735.5V738.3M612.8 169.9V156.4M612.8 728.2V731.3M615.2 206.9V190M615.2 726.9V729.1M618 198.9V190.4M823.3 149.6V147.2M823.3 610.9V633.9M825.2 609.9V619.7M827.7 631.2V658.7M831 635.2V657.2M832.7 647.1V653.5M835.6 128.6V124.6M835.6 641.9V655.3M837.7 639.3V658.8M840.5 655V668.9M843.5 631.6V643.9M845.8 627.2V643.5M848.5 646.9V660.3M850.8 636.1V646.9M854 642.2V649.9M856.6 648V665M858.8 648.3V664.7M861.5 664.7V680.5M863.2 154.9V149.3M863.2 666.8V675.1M866.5 171.2V163.6M866.5 668.8V671.4M868.5 170.3V159.2M868.5 665.4V673.5M871.1 159.2V157.8M871.1 664.2V676.6M873.6 132.2V126.7M873.6 696.3V703.5M875.9 145.8V140.6M875.9 697.8V709.9M878.5 140.6V137.8M878.5 705.6V714.6M879.1 138.5V132.3M879.1 697.5V702.6M881.5 140.2V132.7M881.5 703.4V718.1M883.8 137.7V133.7M883.8 701.4V718.8M886.2 147.7V133.4M886.2 716.3V717.4M889.1 143.2V134.8M889.1 714.4V723.9M891.6 140.4V130.5M891.6 724.8V731.8M893.2 150.5V131.3M893.2 726.6V731.3M895.7 719.1V721.1M897.7 170.1V151.6M897.7 718.8V724M898.8 153V146.1M898.8 714.5V723.2M900.1 184.8V151.9M900.1 610.5V645.1M902.8 163.4V146.3M902.8 504V544.3M905.5 196.3V162M905.5 558.4V601.9M906.9 198.3V174.2M906.9 506.1V540.9M909.1 162.8V154.2M909.1 617.1V642.4M910.4 148V129M910.4 651.6V660.9M912.8 156.4V129.7M912.8 650.3V665.4M915.9 159.1V148.5M915.9 653.6V673.2M918.3 158V139.4M918.3 659.6V668.1M920.3 185V167.8M920.3 622.9V639.8M923.3 175.2V170.8M923.3 621.4V631.9M926 178V172.3M926 635.1V649.5M928.2 153V141.3M928.2 656.2V672.7M931.4 186.2V146.6M931.4 642.9V653.2M1041.6 243.6V235.7M1041.6 557V570.2M1044.7 263.1V256.9M1044.7 529.4V543.8M1046.7 232.7V229.7M1046.7 569.7V573.3M1049.5 234.2V221.5M1049.5 554.3V574.1M1051.9 223.3V219.5M1051.9 576.3V589.8M1054.7 231.7V218.6M1054.7 574.4V586.6M1057.6 212.5V206.9M1057.6 598V601.1M1060.5 244.3V182M1060.5 592.6V600.2M1062.9 236.4V214.3M1062.9 584.7V590.9M1065.2 236.5V222.9M1065.2 590.5V594.2M1067.2 170.5V144.2M1067.2 606V611.7M1069.8 178.5V168.3M1069.8 633.3V645.8M1072.6 173.7V150.6M1072.6 664.5V671.6M1074.6 188.5V178.9M1074.6 669.6V692M1076.2 175.2V153M1076.2 681.9V700.8M1078.5 199.7V181.3M1078.5 654.4V669.7M1081 201.9V197.5M1081 664.2V674.3M1083.4 209.9V196.6M1083.4 654.2V664.5M1095.3 134.1V125.9M1095.3 703.6V720.1M1098 133.6V131M1098 683.4V701.1M1100.5 127.6V125.6M1100.5 708.8V717.1M1103.7 679.8V699.1M1105.9 666.3V675.1M1108.3 124.4V122.9M1108.3 656.9V688.3M1110.7 648.8V679.8M1114 134V127.6M1114 661V684.9M1115.9 130.2V127.7M1115.9 660.5V696.1M1119.4 655.1V665.6M1121.1 127.6V125.9M1121.1 680.6V682.7M1205.3 209.9V192.1M1205.3 632.4V652.2M1207.8 176.7V170M1207.8 680V694.1M1210.5 206.5V184.2M1210.5 673.7V682.7M1212.6 206.3V191.6M1212.6 659.4V698M1215.8 211.4V202.5M1215.8 618.7V639.4M1216.2 194.8V192.8M1216.2 615.5V625.9M1219.5 207.9V205.3M1219.5 616V633.1M1222.2 199.4V195.4M1222.2 613.5V641.1M1224.9 178V171.3M1224.9 616.3V637.5M1227.4 176V171.6M1227.4 635.7V644M1227.3 183.4V180.7M1227.3 616.9V633.1M1230.2 164.6V159.2M1230.2 657.2V667.9M1232.9 166.8V164M1232.9 630.9V637.6M1234.9 158.7V153.3M1234.9 624V677.4M1237.5 149.4V148.2M1237.5 666.5V688.7M1238 634.3V665.5M1240.5 153.2V145.2M1240.5 661V672.2M1242.6 164V158.9M1242.6 692.1V702.8M1245.6 152.4V146.6M1245.6 671.1V688.4M1248 174V167M1248 669V699.6M1251 173.2V157.1M1251 676.4V685.9M1252.1 167.4V158.4M1252.1 654.8V681.1M1254.2 177.6V170.7M1254.2 638.9V665.5M1257.2 154.7V147M1257.2 689.1V720.3M1259.7 166.4V159.1M1259.7 692.6V724.1M1261.8 168.8V159.6M1261.8 665.1V696.6M1264.4 675.6V706.5M1274.4 201.8V175.5M1274.4 689.8V718M1277.3 187.9V178.7M1277.3 662.9V682.7M1280.4 154.8V147.3M1280.4 666.7V727.5M1282.4 144V140.2M1282.4 669.5V714.9M1285 152.6V138.2M1285 704.1V727.3M1287 144.7V142.4M1287 637.4V679M1289.7 158.9V154.2M1289.7 655.5V675.1M1292.4 160.7V155.7M1292.4 641.4V664.3M1295.3 157.9V149.1M1295.3 657.3V689.5M1297.5 159.5V137M1297.5 665.8V698.6M1389.7 190.3V187.9M1389.7 605.1V630.4M1392.9 180.5V174.2M1392.9 632.5V642.9M1395.4 168.9V165.2M1395.4 627.4V650.5M1397.8 163.3V155.6M1397.8 668.9V670.8M1399.7 171.4V159M1399.7 625.8V642.4M1402.9 159.1V156.2M1402.9 651.4V667.7M1402.7 175.8V160.6M1402.7 654.4V678.7M1405.8 182.2V171.1M1405.8 614.3V642.4M1408.8 192.1V180.3M1408.8 625.4V651.5M1410.7 199.9V181.5M1410.7 615.6V640.9M1413.1 205.2V195.6M1413.1 608.1V623.4M1416.7 218.2V213.6M1416.7 622.8V636.1M1417.6 178.3V166.7M1417.6 642.8V664.4M1419.4 212.9V199.7M1419.4 617.7V638.3M1422.5 201.8V195.9M1422.5 605.3V626.8M1424.6 217.6V200.2M1424.6 629.1V637.6M1427.9 219V199.5M1427.9 620.9V624.5M1430.5 205.4V183.4M1430.5 632.7V644.6M1431 196.6V191.5M1431 618.3V627.5M1434.3 182.5V176.9M1434.3 624.7V635.4M1436.1 652.8V669.3M1436.5 626.1V636.2M1439.3 616.4V644.5M1442 630.6V659.8M1444.3 663.6V695.9M1446.6 674.9V698.9M1449.9 134.6V133.1M1449.9 648.4V694.6M1452.1 683.7V703.1M1452.6 654.7V677.9M1455.3 141.9V140.6M1455.3 628V654.5M1456.1 172.7V169.1M1456.1 625.1V638.8M1459 148.6V144.1M1459 628.7V653.1M1461.2 640.4V653.8M1462.9 134.8V132.3M1462.9 652.6V675M1465.2 137V133.1M1465.2 675.5V684.3M1468.1 651.1V662.3M1470.3 642.3V661.1M1473.8 660.1V711.1M1476.3 684.1V704.9M1478.5 129.1V125.8M1478.5 656.1V697.4M1480.9 692.9V710M1482.8 181.8V171M1482.8 648.2V669.9M1486.2 220.5V205.9M1486.2 660.5V671.9M1485.7 231.5V219.3M1485.7 671.2V674.6M1488.2 219.9V216.7M1488.2 658.8V670.5M1491.3 194.5V186.1M1491.3 711V725.4M1493.6 204.3V190.5M1493.6 692.8V706.9M1496.3 227.4V212.6M1496.3 673.9V691.8M1498 249.1V242.9M1498 658.5V671.8M1500.7 246.5V228.7M1500.7 678.8V686.5M1503 260.1V245.2M1503 675.3V689.4M1505.7 245.6V232.5M1505.7 683.3V689.9M1508.2 219.8V193.6M1508.2 697.9V711.5M1511.1 214.3V181.9M1511.1 717.8V721M1512.6 240.6V188.2M1512.6 720.7V728.3M1514.6 242.8V210.4M1514.6 708.8V724.1M1517.5 223.9V191.4M1517.5 717V727.8M1520.4 217.7V194.1M1520.4 718.4V730.7M1667.1 320.6V287.6M1667.1 569.8V588.2M1669.8 285.4V276.9M1669.8 573.9V583.9M1672.4 266.3V242.7M1672.4 557.9V576.4M1675.2 272.4V257.1M1675.2 575.3V595.4M1676.1 250.1V228.7M1676.1 565.7V584.3M1678.2 197.3V174.5M1678.2 570.3V587.8M1679.5 149.2V143.2M1679.5 635.3V657.6M1682.6 159.5V144.6M1682.6 651.1V673.7M1685.2 159.6V146.3M1685.2 653.7V677.4M1687.2 161.5V149.4M1687.2 652V673.4M1690.4 148V146.2M1690.4 609.5V648.9M1691.8 163.3V151.9M1691.8 651.2V673M1694.7 160V152M1694.7 611.1V650.2M1696.8 159.8V149.4M1696.8 618.7V633.9M1700.1 154.6V152.3M1700.1 641.9V662.4M1702.8 143.6V142.4M1702.8 676.5V689.9M1704.6 668.6V693.3M1706 139.3V136M1706 669.4V680.5M1708.1 652.1V688.6M1710.7 677.7V687.1M1713.6 604V645.1M1868 563.5V570.7M1870.5 178.2V174.5M1870.5 533.6V550.6M1872.9 178.4V173.6M1872.9 543.4V574.2M1875.7 189.3V185.6M1875.7 527.5V550.8M1878.5 189.4V180.5M1878.5 542.4V555.9M1880.6 176.9V175.2M1880.6 512.7V520.9M1881.7 187.1V184.8M1881.7 519.5V525.9M1884.4 153.4V150.7M1884.4 469.2V480.7M1887.3 126.7V125.4M1887.3 413.6V438.4M1887 413.1V425.9M1889.7 408.9V422.3M1892.2 428.9V434.4M1894.9 431.6V441.3M1897.6 436.4V438.5M1899.7 397.3V429.9M1902.5 391.7V403.9M1904.7 333.3V351.5M1907.7 348.3V356.5M1908.6 311.8V340.5M1911.2 295.9V332.1M1913.5 250.4V285.4M1915.9 235.4V270.4M1917 267.5V282.4M1919.6 259.8V297.8M1921.8 295.4V301.3M1925.1 240.9V303.1M1927.9 224V296.8M1929.6 208V249.5M1932.2 220.9V261.6M1935.1 231.1V257M1937.5 260V272.1M1940 221.9V261.3M1942.2 265.3V291.6M1945.4 209.4V226.3M1947.5 184.5V227.8M1950.4 186V216.6M1952.2 231.4V249.1M1954.4 231V252.3M1957.9 238.3V258.1M1960.3 220.4V242.4M2062.6 268.8V237.4M2062.6 571V575.7M2065.8 251.6V236.4M2065.8 572.5V583.1M2068.1 222.9V213M2068.1 571.7V589.9M2071.3 212.4V198.7M2071.3 594.9V607.1M2073.3 193.3V188.8M2073.3 607.1V619.2M2075.6 203.8V166.2M2075.6 618.3V627.4M2078.5 197.2V153.6M2078.5 613.4V637.1M2079.4 186.4V173M2079.4 609.7V635.9M2081.9 207.1V154.3M2081.9 627V640.6M2084.5 172.6V151.7M2084.5 644.9V659M2086.5 170.6V166.3M2086.5 645V663.2M2089.8 177.6V175.2M2089.8 638.6V653.9M2089.3 179.7V176.9M2089.3 605.6V638.9M2092.4 170V165.2M2092.4 623.3V629.7M2094.8 173.5V166.7M2094.8 630.2V642.2M2097.7 173.8V165.6M2097.7 654.8V662.5M2099.9 165.6V156.2M2099.9 673.7V680.1M2100.2 162.7V158.4M2100.2 630.5V661.9M2102.5 180.8V174.1M2102.5 656.3V683.9M2105.6 204.2V197.4M2105.6 653.1V669.3M2107.4 205.9V185.7M2107.4 699.4V722M2117.8 180.6V165.1M2117.8 646.9V684M2120.6 156.4V148.9M2120.6 676V683M2122.6 135.2V131.7M2122.6 668.3V690.9M2124.2 688.5V707.5M2127.3 639.2V665.9M2129.6 639.5V650.3M2132.6 141.3V139.8M2132.6 617V644.4M2135 151.7V147.7M2135 635.8V660.5M2135 146.2V141M2135 612.6V645.7M2137.4 158.9V154.2M2137.4 635.1V650.4M2140.2 188.4V177.6M2140.2 612V630.1M2142.9 187.9V158.8M2142.9 631.9V653.9M2145.8 202.4V179.1M2145.8 615.8V640.7M2145.6 193V177.6M2145.6 616.3V630.8M2148.4 203.3V186.9M2148.4 598.3V618.5M2150.6 218.3V197.4M2150.6 597.8V612.1M2153.9 210.9V186.9M2153.9 593.7V617M2156.3 260.9V196.2M2156.3 576.9V590.2M2159.1 210.3V204.2M2159.1 551.5V564.8M2266.2 183.7V178.2M2266.2 676.6V690.9M2268.8 166.8V162.9M2268.8 678.3V713.2M2271.8 158.3V144.9M2271.8 690.3V705.7M2273.8 135.7V133.8M2273.8 662.9V700.9M2275.5 126.4V122.6M2275.5 675.3V693.5M2278.5 134.1V126.1M2278.5 706.8V726.2M2281.6 148.3V143.6M2281.6 664.3V686.8M2284.2 155.6V147.2M2284.2 661.9V677.7M2285.1 157.4V148.9M2285.1 676.4V683.6M2286.8 190.7V180.8M2286.8 673.2V690.7M2290 193.8V190.7M2290 698.6V702.9M2290.3 235V205.2M2290.3 674.6V686.5M2292.9 227V214.3M2292.9 664.4V672.8M2295.6 218.8V207.5M2295.6 648.4V664.1M2297.7 237.5V219.5M2297.7 660.1V678M2300.7 189.1V183.8M2300.7 681.9V696.5M2303.5 206.4V200.7M2303.5 671.4V688.5M2305.7 204.4V176.2M2305.7 668.1V691.1M2308.5 223.4V199.1M2308.5 676.4V689.3M2311 222V206.4M2311 645.3V654.4M2311.6 185.4V175.6M2313.4 235.1V219.7M2313.4 667.8V679.2M2316.5 176.7V157.6M2316.5 658.2V696.3M2319 198.1V186.1M2319 673.1V680.6M2321.7 207.2V178.3M2321.7 658.6V688.9M2323.8 191.9V173.8M2323.8 665.5V684M2327.2 185.1V176.8M2327.2 678.3V690.2M2328.7 214.4V197.5M2328.7 645.9V667.3M2331.7 191.4V178M2331.7 672.4V681M2334.2 188V169.6M2334.2 656V664.7M2336.2 189.7V177.3M2336.2 672.1V688.8M2339.3 188.6V171.5M2339.3 659V682.9M2341.6 208.6V199.7M2341.6 642.8V657.6M2344.5 229.7V219.7M2344.5 637.5V644.6M2345.9 222.5V200.5M2345.9 660.6V677.5M2347.7 149.7V135.8M2347.7 676.4V690.1M2351 148.3V146.5M2351 616.6V643.1M2353.5 159.3V152.9M2353.5 654.7V671.3M2355.2 156.5V151.3M2355.2 595.8V659.9M2358 175.3V174.1M2358 627.2V643.2M2360.7 233.7V230.6M2360.7 549.1V556.6" stroke="#FF8205" stroke-width="6.4" stroke-linecap="round" stroke-dasharray="0.1 32 0.1 44 2 36 0.1 54 0.1 28 2 40" fill="none"/>
<path d="M331.9 206.7V658M571.6 224.4V693.9M584.5 171.7V698.9M610.4 193.2V720.5M868.5 182.6V648.5M1252.1 194V622.3M1257.2 179V647.6M1410.7 222.4V598.6M1416.7 234.7V607.6M1478.5 138.4V621M1517.5 268.2V701.9M1708.1 151.7V594.2M2266.2 197.1V626.6M2311 261.2V631.3" stroke="#FF8205" stroke-width="3.6" stroke-linecap="round" stroke-dasharray="2 7 9 6 1 8 14 7 3 9 1 6" fill="none"/>
<path d="M288 710h0m-1 0h0M293 157h0m0 1h0M296 141h0m0 13h0m0 502h0M300 669h0m1 2h0m-1 40h0M303 704h0m1 2h0M306 688h0M308 138h0m0 571h0M310 137h0m-1 22h0M313 153h0m0 544h0M316 141h0m1 502h0m-1 26h0m1 14h0m-1 7h0m0 16h0M318 675h0M321 145h0M323 169h0m-1 519h0m2 4h0m-2 20h0M326 661h0m0 17h0m0 0h0m1 6h0m-2 10h0m2 9h0M326 142h0m1 16h0m-1 478h0m0 25h0m1 4h0M329 660h0m0 4h0m0 18h0m0 25h0M334 131h0m0 40h0m1 1h0M337 129h0M340 172h0m0 503h0M342 177h0m-1 527h0M351 144h0m1 5h0M354 132h0m1 2h0m-1 323h0M354 133h0m-1 303h0m1 6h0M356 134h0m-1 27h0m2 3h0m-1 514h0m-1 3h0m2 8h0m-2 3h0M359 139h0m1 20h0m-2 533h0M361 135h0m0 2h0m1 18h0m-2 10h0m1 491h0m0 12h0m1 5h0m-1 33h0M364 637h0m0 4h0m-1 61h0M370 151h0m1 16h0M372 143h0m0 496h0m1 4h0m-2 36h0M375 131h0m-1 14h0m1 538h0m0 10h0M377 690h0M380 129h0m0 4h0M382 664h0M382 133h0m1 12h0m0 6h0m-2 4h0m0 524h0M386 655h0M388 645h0m0 3h0M388 120h0m1 530h0M393 651h0m1 27h0M396 672h0m1 16h0m-2 1h0M401 132h0m0 528h0m1 15h0m-2 7h0M404 123h0m-1 542h0m1 26h0M406 662h0M409 656h0m1 5h0M412 658h0M414 620h0m1 20h0M416 124h0m0 516h0m-1 23h0M367 97.3h0M341 754h0M295 97.3h0M350 97.3h0M338 97.3h0M371 97.3h0M299 754h0M341 97.3h0M361 754h0M337 754h0M295 97.3h0M350 97.3h0M328 97.3h0M331 97.3h0M347 754h0M523 716h0M525 149h0m0 4h0m0 556h0m1 2h0m-1 6h0M528 140h0m0 4h0m0 6h0m-1 12h0m2 5h0M531 141h0m-1 21h0M535 141h0m-1 20h0m1 552h0M537 148h0m0 21h0M540 158h0m1 63h0m0 10h0M547 143h0m-1 30h0m0 2h0m0 107h0m1 24h0M552 287h0m0 2h0M554 146h0m1 11h0m0 6h0m-2 22h0m0 19h0m2 87h0M556 292h0M563 703h0M566 154h0m0 19h0M569 199h0M572 161h0m0 565h0M579 182h0m-1 1h0m1 16h0m1 527h0M584 145h0M586 163h0m0 30h0M594 150h0m1 31h0M607 729h0M608 156h0m-1 581h0M610 164h0m1 569h0M613 167h0M593 754h0M534 97.3h0M544 754h0M535 97.3h0M583 97.3h0M566 97.3h0M586 97.3h0M575 97.3h0M527 754h0M823 134h0M828 661h0M831 618h0m0 3h0m0 27h0m0 10h0m0 9h0M836 635h0m-1 2h0m1 23h0M838 128h0m0 501h0M851 666h0M854 647h0M876 143h0m-1 552h0m0 23h0M881 143h0M884 705h0M886 137h0m0 578h0M889 138h0m0 11h0M892 148h0M893 727h0M896 124h0M898 154h0M899 162h0M900 127h0m-1 29h0m2 40h0m-1 492h0M903 658h0m0 11h0M905 144h0m-1 535h0M907 158h0m0 355h0m0 56h0m0 109h0M909 146h0m-1 487h0m1 0h0M910 682h0m-1 1h0M913 133h0M916 674h0M918 137h0m1 29h0M920 659h0m0 2h0M926 159h0m0 476h0m0 28h0M928 137h0m0 18h0m1 5h0M931 134h0m0 2h0m0 24h0m1 29h0m-2 448h0m0 0h0M838 97.3h0M878 97.3h0M830 97.3h0M861 754h0M842 97.3h0M862 97.3h0M1042 228h0M1045 239h0m-1 3h0M1047 247h0m1 329h0m-2 1h0m0 2h0m2 2h0M1049 222h0m0 5h0m1 11h0M1052 239h0m-1 343h0M1055 234h0m-1 333h0m1 22h0M1058 592h0M1061 242h0M1067 141h0m-1 457h0m1 5h0M1070 149h0M1073 139h0m0 15h0m1 3h0m0 1h0m-1 15h0m0 481h0m0 14h0M1075 154h0m0 19h0m-1 1h0M1076 168h0m1 7h0m-2 512h0M1079 179h0M1083 709h0M1095 718h0M1098 709h0M1100 703h0M1108 122h0m0 554h0m0 23h0m-1 4h0m1 5h0M1111 707h0M1114 683h0m1 20h0M1116 658h0m0 3h0m0 3h0m-1 28h0m1 3h0M1087 686h0M1087 326h0M1092 527h0M1094 552h0M1092 456h0M1092 428h0M1087 595h0M1087 266h0M1090 341h0M1093 418h0M1092 372h0M1088 351h0M1093 541h0M1090 475h0M1088 359h0M1091 541h0M1088 673h0M1088 296h0M1090 259h0M1094 384h0M1086 97.3h0M1053 754h0M1073 97.3h0M1081 97.3h0M1045 97.3h0M1205 623h0m1 32h0M1208 656h0m1 22h0m0 9h0M1210 173h0m0 27h0m1 460h0m0 20h0M1213 184h0m0 1h0m-1 18h0m1 425h0m0 24h0m0 3h0m1 35h0M1225 166h0m0 494h0M1227 164h0M1230 169h0m-1 481h0M1241 680h0M1243 162h0M1251 164h0m-1 521h0m2 15h0m0 16h0M1252 654h0m1 24h0m-2 35h0M1257 676h0M1260 683h0m0 9h0m-1 8h0m0 9h0M1262 679h0m0 20h0m0 5h0m-1 11h0M1264 149h0M1274 144h0m0 46h0M1277 160h0m1 531h0M1280 148h0m0 9h0m1 4h0m-1 500h0M1282 133h0m0 546h0M1287 717h0M1292 147h0m1 515h0M1295 170h0m0 505h0M1298 152h0m-1 9h0m1 9h0m0 509h0m0 2h0m0 25h0m-1 3h0m0 2h0M1262 754h0M1273 97.3h0M1293 97.3h0M1249 97.3h0M1222 754h0M1236 97.3h0M1211 97.3h0M1211 754h0M1281 97.3h0M1283 97.3h0M1226 754h0M1281 97.3h0M1393 669h0M1395 168h0m1 454h0m-2 46h0m1 4h0M1400 155h0m0 12h0m1 506h0m-2 1h0m1 7h0M1403 659h0m0 12h0M1403 165h0m-1 498h0m0 7h0m1 7h0M1406 168h0M1409 163h0M1411 665h0M1418 173h0m1 466h0M1431 174h0m0 32h0M1436 652h0M1437 135h0m-1 540h0M1444 664h0m0 21h0M1447 673h0M1450 705h0M1452 131h0m1 547h0m-1 28h0M1455 696h0M1456 161h0m0 478h0M1465 676h0M1468 691h0m1 5h0M1474 690h0M1476 692h0m-1 8h0M1479 131h0m0 526h0m0 2h0m0 18h0m0 18h0M1483 169h0m0 526h0M1486 667h0M1488 197h0M1491 186h0m1 1h0m-1 515h0M1494 712h0M1496 690h0M1508 215h0m-1 499h0M1511 187h0m1 521h0M1513 723h0m0 4h0M1515 186h0m0 66h0m0 2h0m0 460h0m-1 17h0M1518 187h0m0 6h0m1 11h0M1520 192h0m0 28h0m0 493h0M1481 97.3h0M1474 97.3h0M1497 754h0M1429 97.3h0M1442 97.3h0M1515 97.3h0M1498 97.3h0M1502 97.3h0M1502 97.3h0M1486 97.3h0M1667 317h0m0 2h0m0 237h0m1 34h0M1670 273h0m0 18h0m1 292h0M1672 236h0m0 27h0m0 1h0m0 289h0m0 18h0M1675 207h0m0 9h0M1676 608h0M1678 624h0m1 1h0M1680 149h0m1 489h0m-2 11h0m2 4h0m-2 6h0M1683 148h0m-1 481h0M1685 144h0m-1 532h0M1687 651h0m-1 10h0M1690 631h0M1692 163h0m0 476h0m0 5h0M1695 155h0m-1 469h0m1 44h0m0 5h0M1697 160h0m1 452h0M1700 617h0m0 15h0M1703 678h0m1 2h0m-2 3h0M1705 663h0M1706 635h0m0 1h0m0 23h0m-1 3h0M1708 144h0m0 539h0m0 2h0m0 6h0M1714 618h0m0 45h0m-1 23h0M1653 552h0M1653 553h0M1657 547h0M1654 548h0M1661 547h0M1660 549h0M1663 548h0M1648 552h0M1650 548h0M1662 553h0M1662 553h0M1660 550h0M1668 189h0M1667 374h0M1669 229h0M1669 278h0M1657 176h0M1662 360h0M1663 160h0M1649 391h0M1664 159h0M1666 336h0M1650 166h0M1668 311h0M1668 200h0M1653 327h0M1644 403h0M1641 401h0M1643 574h0M1639 478h0M1645 362h0M1639 342h0M1644 535h0M1639 349h0M1643 372h0M1643 533h0M1646 348h0M1644 360h0M1643 358h0M1639 410h0M1639 473h0M1644 397h0M1643 302h0M1642 548h0M1643 396h0M1641 491h0M1645 409h0M1645 398h0M1639 353h0M1643 470h0M1644 373h0M1645 478h0M1645 515h0M1640 295h0M1642 365h0M1643 472h0M1645 549h0M1644 474h0M1640 294h0M1644 346h0M1642 397h0M1643 525h0M1645 481h0M1644 315h0M1641 311h0M1644 480h0M1645 439h0M1641 470h0M1645 522h0M1642 354h0M1639 422h0M1644 583h0M1641 315h0M1639 529h0M1644 513h0M1641 499h0M1644 503h0M1643 571h0M1644 411h0M1642 579h0M1642 587h0M1663 97.3h0M1632 754h0M1691 97.3h0M1639 754h0M1709 97.3h0M1696 97.3h0M1684 97.3h0M1632 97.3h0M1677 97.3h0M1686 754h0M1873 540h0m0 4h0m0 9h0M1876 553h0m0 12h0M1881 179h0M1882 523h0M1884 487h0M1887 463h0M1887 434h0m-1 3h0M1900 404h0m-1 34h0M1903 410h0M1905 357h0m1 24h0M1909 108h0m0 0h0m0 224h0m1 9h0M1911 280h0m0 19h0m0 5h0m1 24h0M1914 263h0M1916 292h0M1917 315h0M1920 108h0m1 133h0m-1 23h0m0 27h0M1922 289h0m0 18h0m0 1h0M1925 262h0m1 1h0m-1 4h0m1 38h0M1928 253h0m0 50h0M1930 260h0m1 14h0m0 11h0M1932 251h0m0 1h0m1 22h0M1935 268h0M1938 279h0M1940 231h0m1 20h0M1942 266h0m1 21h0M1948 233h0M1952 245h0M1954 216h0m0 13h0m0 5h0m0 11h0m0 13h0m1 12h0M1958 258h0m0 12h0M1960 228h0m1 20h0M1915 331h0M1962 484h0M1920 439h0M1927 379h0M1955 307h0M1925 486h0M1921 337h0M1952 464h0M1951 272h0M1914 456h0M1935 370h0M1935 479h0M1924 390h0M1956 421h0M1961 296h0M1872 570h0M1873 577h0M1873 581h0M1877 580h0M1880 573h0M1878 581h0M1945 97.3h0M1868 97.3h0M1881 754h0M1872 97.3h0M1896 97.3h0M1958 754h0M2063 245h0m-1 338h0m2 1h0m-1 1h0M2068 572h0m0 25h0M2071 188h0M2073 600h0m0 23h0M2076 215h0m-1 390h0m0 8h0m2 2h0m-1 11h0m-1 4h0M2078 188h0m0 10h0m0 2h0m1 2h0m-1 21h0m0 378h0m-1 16h0M2079 177h0m0 34h0m-1 382h0m0 8h0m0 26h0M2082 155h0m1 18h0m-1 0h0m1 35h0m0 7h0m0 426h0M2084 184h0m-1 467h0m1 0h0m-1 6h0M2087 158h0m-1 459h0m1 5h0m0 8h0m0 2h0m0 32h0m0 7h0M2090 664h0M2100 144h0M2102 153h0m0 577h0M2106 713h0M2107 177h0m1 6h0M2118 151h0M2123 131h0m0 569h0M2124 702h0M2127 645h0M2133 694h0M2135 696h0m-1 14h0M2135 140h0m0 564h0M2137 628h0M2140 148h0m-1 23h0M2143 164h0m0 4h0m0 449h0M2146 211h0m0 2h0m0 6h0m1 395h0m-1 23h0M2146 633h0M2148 186h0m0 2h0m0 2h0m0 422h0m1 2h0m-1 7h0M2151 209h0m1 17h0m0 356h0M2154 240h0m-1 7h0m1 1h0M2156 210h0m0 10h0m0 27h0m-1 2h0M2119 97.3h0M2105 754h0M2135 97.3h0M2092 754h0M2150 97.3h0M2096 754h0M2126 97.3h0M2070 97.3h0M2113 754h0M2088 97.3h0M2154 754h0M2136 97.3h0M2266 185h0m-1 530h0M2269 163h0m1 11h0m-1 515h0M2272 659h0m0 15h0m0 18h0m-1 3h0m2 4h0m-1 9h0m1 9h0M2274 714h0m1 4h0M2275 683h0m1 2h0M2279 133h0m0 570h0m-1 19h0M2282 715h0M2285 685h0M2298 695h0M2301 171h0m0 9h0m0 25h0m0 1h0m0 8h0m0 490h0M2303 203h0m-1 483h0M2306 232h0m0 434h0m0 6h0M2309 179h0M2311 202h0M2312 182h0m0 6h0M2319 190h0m-1 503h0M2322 165h0m0 491h0m0 5h0m0 10h0m1 24h0M2324 169h0m1 1h0m-2 13h0m1 7h0m1 22h0m0 453h0m0 5h0m-1 1h0m1 18h0m-1 7h0M2327 190h0M2329 178h0m1 497h0M2332 181h0m1 1h0m0 28h0m-2 14h0m1 448h0m-1 10h0M2334 651h0M2336 166h0M2339 654h0m-1 42h0M2346 216h0m1 435h0M2348 673h0M2351 624h0M2354 660h0M2355 154h0m1 451h0m-1 5h0m1 24h0M2358 182h0M2306 97.3h0M2326 97.3h0M2281 97.3h0M2353 97.3h0M2342 754h0M2296 97.3h0M2292 754h0M2315 97.3h0M2348 754h0M2318 97.3h0M2278 754h0" stroke="#FF8205" stroke-width="6.8" stroke-linecap="round" fill="none"/>
<path d="M419.8 277.7V682.5M422.3 159.4V684.1M425.2 236.2V687M427.4 238.7V688.4M430.1 227.2V704.9M433 153V711.3M435.6 192.1V703.7M437.7 177V697.7M440.9 169.4V709.2M442 147.8V694.8M444.5 132.9V699.9M446.1 125.1V698.8M448.6 121.6V701.7M450.9 124.2V694.8M453.3 126.9V707.5M456.7 123.6V698.7M458.6 125.8V699.5M460.1 128.5V694.2M462.8 153.6V672.9M463.4 161.4V668.1M466 145.8V680.8M469 146.8V701.2M471.3 133.2V700.2M474 125.5V712M473.7 127.6V711.1M476.3 130.1V707.6M479.4 128.1V705.8M481.8 130.7V698.5M484.6 132.3V704.2M487.4 129.1V710M488.2 129.7V698.1M491.2 153.9V696.7M493.8 190.3V648.4M493.3 194.8V662.2M496 214.4V654.2M498.6 209.2V620.3M501.7 220.6V619.2M502.3 229.1V619.1M505.3 238.7V606.3M507.4 234.9V633.4M509.6 240.4V604.5M512.2 232.4V599.1M513.1 246.2V594.8M515.1 257.9V634.1M621.1 216.5V677.2M624.3 188.3V685.3M625.8 180.6V688.2M630.2 177.2V684.7M633.4 188.4V675.2M636.2 182.4V669M635.7 181.6V671.3M638.1 170.5V657.5M641.6 191V654.3M644.1 179.8V663.3M646.1 191.4V648.1M648.9 178.3V651.9M651.9 200.1V634.2M653.9 204.8V637.4M657.2 205.8V611.4M656.6 186.7V639.4M660 201.6V676.8M662.6 193.3V604.5M665.2 182.4V602.4M667.4 185.4V620.2M669.7 138.5V651.6M672.3 179.3V617.5M674.3 173.7V609.6M677.1 171.7V597.3M680 174.5V605.6M682 183.4V590.5M685.1 196.9V600M688.1 178.2V585.5M690.7 189V584.5M692.5 185V574.6M694.9 152.5V614.3M697.8 122.5V613.9M697.5 125.1V592M700.3 124.2V663.8M703.1 124.9V591.3M705 123.9V569M708.2 124.5V587.5M756.9 215.4V643.7M759.9 211.3V619.2M762.9 206.3V623.2M764.9 211.1V644.3M768.1 212.6V631.6M769.2 215.9V628.2M772.4 206.9V641.3M774.7 202.8V650.9M777.2 212.4V636.7M779.7 227.6V635M783.1 243.3V615.3M783.9 238.9V633.7M786.3 229.9V635.4M788.9 197.2V620.3M791.5 222.2V621M794.6 229.6V623.7M796.3 222.9V616.6M797.9 196.6V633.5M800.8 228.4V643.4M802.5 232.2V613.3M805.7 223.6V629.6M808 233.8V607.9M811.1 205.3V605.3M813.1 219.1V611.4M818.6 236.8V603.8M934 219.8V571.2M936.1 200.1V563.8M939.1 194.6V569.3M941.8 182.7V569.5M941.8 184.2V571.7M944.7 159.8V628.7M947.8 152.4V595.9M950.1 145.9V575.9M953.1 135.9V589.2M955.4 137.5V572.7M957.7 134.4V574.8M960.5 139.9V582.8M962.9 139.9V597.5M965.4 140.8V596.3M968.4 136.5V603.8M969.9 143.9V591.6M973.5 136.9V610.5M975.5 142.1V562.5M978.4 141.5V561M980.6 142.2V563.1M983.1 141.6V565.6M1003.8 230.7V595.7M1006.2 217.9V597.1M1009 211.7V587M1011.9 211.3V610.8M1014.2 193.9V589.1M1016.1 208.4V601.6M1018.5 207.6V580.9M1021.1 214.6V583.3M1125.6 287.2V590.1M1128.2 295.3V607.8M1130.8 261.5V586.2M1133.1 291.3V600.3M1135.9 276.2V609.3M1135.5 282.6V622.8M1138.6 243.2V610.4M1141.3 258V586.3M1143.6 284.8V597.6M1145.8 252.9V591.3M1146.4 261.7V633.4M1148.7 268V568M1151.6 256.8V583.4M1154.2 213.8V622.2M1156.5 280.9V590.8M1166.9 166V613.5M1169.9 142.3V590.4M1173 165.6V607.6M1174.7 153.8V573.1M1178 163.4V602.5M1180.4 179.3V619.3M1181.5 163V608.1M1183.9 175.5V614.2M1186.9 182.8V615.3M1188.9 191.9V635.8M1191.6 204.1V685.2M1192.4 183.3V649.4M1195.1 216.2V661.3M1197.2 188.6V654.6M1199.8 230.7V671.7M1202.3 225.1V653.7M1301.3 230.1V580.8M1303.3 187.8V556.1M1305.9 222.5V565.6M1309.2 165.4V568.1M1311.8 202.1V568.8M1312.1 193.4V574M1314.2 189.3V580.3M1316.8 182.2V570.6M1319.3 175.7V575M1321.7 163.1V592.2M1322.3 162.1V611.5M1327.3 169.3V584.8M1330.1 173.9V586.4M1332.7 206.1V587.4M1335 204.8V587.9M1336.3 212.7V603.8M1339 216.6V601.9M1341.7 218.2V603M1344.1 220.1V610.9M1346.4 182.7V620.4M1349.8 220.3V636M1350.2 227.9V651.7M1353.5 209.8V660.6M1355.9 201.7V662.6M1358.3 214.7V655.9M1361.1 202.3V667.3M1362.9 184.7V696.4M1364.7 195.8V672M1366.6 179.4V674.6M1369.8 164.6V719M1372 164.1V676.1M1373.6 159.7V678.6M1376.8 152.3V661.2M1378.9 145V665.2M1381.5 138.8V646M1381.8 143.4V651.4M1384.4 141.2V629.6M1387.4 136.7V622.6M1524.8 165V575.3M1526.7 158.3V561.1M1530 156.6V585M1532.2 170.7V559.1M1535.1 167.5V590.4M1537.5 171V566.5M1540 169.4V576.4M1542.1 163.8V588.5M1544.7 163.6V569.4M1547.6 162.9V592.2M1550 148.4V578.6M1551.1 161.3V603.7M1553.9 164.7V622.8M1556.4 178.8V587.4M1559.4 190.4V605.3M1561.5 198.9V567.5M1733.6 451.4V517M1736.9 380.5V555.7M1739.5 324.4V582.5M1741 269V656.5M1743.8 241.9V610.3M1746.4 251.7V617.4M1748.6 269.1V632.5M1750 267.2V610.3M1752.8 238V644M1754.8 197.5V632.1M1757.5 184.9V646M1758.6 177.2V636.3M1761 169.3V643.8M1764.4 133.3V681.1M1766.5 174.9V661.2M1769.3 188.3V664.6M1771.7 178.9V629.4M1773 181.3V626.6M1775 198V625.6M1778.5 252.3V632M1792.6 193V672.1M1795 212.5V653.6M1797.3 209.9V672.2M1799.7 208.2V678.1M1802.4 201V674.5M1805.6 202.9V682.1M1808.2 181.5V686.6M1807.7 195.6V685M1813.3 150.8V704.6M1815.5 171.2V666.9M1818 167.3V664.8M1820.8 160.3V662.8M1822 142V686.7M1824.8 156.2V658.6M1827 151.3V670.5M1830.2 151.8V677M1832.9 147.8V683M1834.9 141.9V681.4M1836.5 142.3V705.4M1839.1 142.3V684.4M1841.7 142.8V689.1M1846.3 144.4V701.8M1846.6 144.7V692.3M1848.8 140V691.7M1851.4 131.6V679.4M1854.5 139.6V691.9M1856.8 138.8V676.9M1859.3 137V671.5M1861.9 135.9V682.5M1862.9 136.2V658.1M1864.9 148.7V597.8M1964 204.7V566.7M1966.4 173.2V568M1969 186.3V590.9M1971.6 144.5V605.8M1974.5 168.5V575M1977.1 162.6V573.3M1979.1 159.2V611.7M1982.2 164.1V574.5M1984.6 157.5V576.4M1986.8 149.4V566.4M2013.6 161.1V463.8M2016.7 151.5V460.7M2019.1 144V517.5M2021.7 134.3V463.6M2023.1 127.4V519.4M2025.4 132.4V483.3M2027.3 130.6V536.2M2029.9 129.8V520.3M2033.4 130.8V515.7M2035.8 129.5V578.3M2037.2 121.5V546.2M2041.6 125.7V578.1M2044.8 124.8V538.5M2047.1 123.9V630.5M2049.4 124.5V659.5M2051.2 119.8V584.5M2053.1 126.4V534M2056 126.9V536.9M2058.6 132.3V560.1M2163 220.8V589.8M2165.5 213.1V606.6M2168.4 206.4V600.9M2170.3 218.3V603.3M2173.6 215.5V639.4M2174 206.4V611.6M2176.7 196.4V610.8M2179.3 186.6V628.4M2181.3 166.4V616.8M2182.7 150.9V633.2M2185 161V616.6M2187.9 166.9V613.5M2190.5 173V627.1M2192.6 166V616.2M2234.1 231.7V593.3M2236.1 182V615.9M2238.6 165.8V608.8M2241.2 181.3V613.6M2245.6 166V623.5M2248.2 170.3V646.5M2251.2 179.6V643.8M2253.8 180.9V632M2254.7 173.4V634.3M2257.4 175.5V625.6M2259.6 190.1V622M2263 164.3V616.2M2383.5 206V605.9M2386 187V625.8M2388.1 177.3V640M2388.3 177.4V637.4M2390.7 182.7V626.6M2393.6 177.7V624.9M2396.5 171.3V632.5M2399.4 203.8V627.5M2401.9 208.5V656.4M2446.5 167.1V634.6M2448.8 165.9V608.6M2451.3 157.9V629.5M2454.5 153.9V611.4M2457.4 156.4V643.1" stroke="#05A01C" stroke-width="4" stroke-linecap="round" fill="none"/>
<path d="M419.8 274.7V254.7M419.8 685.5V692.7M422.3 156.4V152.4M422.3 687.1V693M425.2 233.2V175.1M425.2 690V706.7M427.4 235.7V175.1M427.4 691.4V711.6M430.1 224.2V155.6M430.1 707.9V717.2M433 150V136.7M433 714.3V717.6M435.6 189.1V174.6M435.6 706.7V718M437.7 174V160.5M437.7 700.7V711.5M440.9 166.4V136.4M440.9 712.2V719.8M442 144.8V139.1M442 697.8V711.6M444.5 129.9V128.2M444.5 702.9V708.1M446.1 122.1V121.5M446.1 701.8V708.3M448.6 704.7V716.6M450.9 121.2V120.9M450.9 697.8V704.6M453.3 123.9V122.5M453.3 710.5V713.3M456.7 120.6V121M456.7 701.7V711M458.6 122.8V122.6M458.6 702.5V712.2M460.1 125.5V126.1M460.1 697.2V708.6M462.8 150.6V148.8M462.8 675.9V681.1M463.4 158.4V151.3M463.4 671.1V688.4M466 142.8V141.9M466 683.8V692.8M469 143.8V132.8M469 704.2V706.2M471.3 130.2V130.4M471.3 703.2V707.7M474 122.5V122.9M474 715V714M473.7 124.6V125M473.7 714.1V714.1M476.3 127.1V124.5M476.3 710.6V714.4M479.4 125.1V124.4M479.4 708.8V713.6M481.8 127.7V125.3M481.8 701.5V706.2M484.6 129.3V124.4M484.6 707.2V712.8M487.4 126.1V122.9M487.4 713V716M488.2 126.7V122.4M488.2 701.1V711.1M491.2 150.9V143.6M491.2 699.7V708M493.8 187.3V175.1M493.8 651.4V674.6M493.3 191.8V186.3M493.3 665.2V674.3M496 211.4V200.8M496 657.2V667.2M498.6 206.2V189.7M498.6 623.3V631.8M501.7 217.6V202.5M501.7 622.2V630.3M502.3 226.1V198.2M502.3 622.1V636.9M505.3 235.7V210.7M505.3 609.3V615.8M507.4 231.9V188.3M507.4 636.4V646.5M509.6 237.4V194.6M509.6 607.5V638.7M512.2 229.4V222M512.2 602.1V617.4M513.1 243.2V224.4M513.1 597.8V610.1M515.1 254.9V197.8M515.1 637.1V645.2M518.2 271.1V259.7M518.2 604.4V613.5M621.1 213.5V205.4M621.1 680.2V680.5M624.3 185.3V175M624.3 688.3V694.4M625.8 177.6V165M625.8 691.2V694.2M627.5 180.9V158.6M627.5 685.4V691.8M630.2 174.2V160.4M630.2 687.7V698.1M633.4 185.4V159.8M633.4 678.2V686M636.2 179.4V156.4M636.2 672V680.6M635.7 178.6V160.3M635.7 674.3V686M638.1 167.5V164.2M638.1 660.5V677.7M641.6 188V182.3M641.6 657.3V669.5M644.1 176.8V164.1M644.1 666.3V671.6M646.1 188.4V169.5M646.1 651.1V664.8M648.9 175.3V165.1M648.9 654.9V670M651.9 197.1V191.9M651.9 637.2V652.8M653.9 201.8V167.2M653.9 640.4V678.1M657.2 202.8V158M657.2 614.4V645.8M656.6 183.7V155.9M656.6 642.4V679.1M660 198.6V154.9M660 679.8V688.4M662.6 190.3V157.4M662.6 607.5V663M665.2 179.4V173.3M665.2 605.4V621.9M667.4 182.4V155.4M667.4 623.2V649.3M669.7 135.5V132.4M669.7 654.6V678.5M672.3 176.3V169.9M672.3 620.5V644.7M674.3 170.7V159.9M674.3 612.6V624.4M677.1 168.7V165.1M677.1 600.3V611.1M680 171.5V163.3M680 608.6V621.2M682 180.4V166.8M682 593.5V616.3M685.1 193.9V149.5M685.1 603V656.3M688.1 175.2V168M688.1 588.5V614.3M690.7 186V175.8M690.7 587.5V622.6M692.5 182V168.4M692.5 577.6V609.4M694.9 149.5V142.3M694.9 617.3V643.3M697.8 616.9V644M697.5 122.1V123.6M697.5 595V621.3M700.3 121.2V121.7M700.3 666.8V670.4M703.1 121.9V123M703.1 594.3V618.3M705 120.9V120M705 572V628.3M708.2 121.5V122.3M708.2 590.5V617.1M756.9 212.4V176.6M756.9 646.7V670.2M759.9 208.3V188.9M759.9 622.2V651.5M762.9 203.3V173.9M762.9 626.2V667.2M764.9 208.1V174.3M764.9 647.3V663.5M768.1 209.6V192.8M768.1 634.6V642.9M769.2 212.9V190.7M769.2 631.2V647M772.4 203.9V197M772.4 644.3V657.5M774.7 199.8V169.1M774.7 653.9V691.2M777.2 209.4V174.1M777.2 639.7V678.8M779.7 224.6V205.1M779.7 638V647.3M783.1 240.3V219.3M783.1 618.3V632.6M783.9 235.9V215.5M783.9 636.7V669.2M786.3 226.9V199.4M786.3 638.4V666.1M788.9 194.2V172.2M788.9 623.3V678.8M791.5 219.2V196.5M791.5 624V637.7M794.6 226.6V217M794.6 626.7V645.1M796.3 219.9V166.3M796.3 619.6V674.2M797.9 193.6V162.4M797.9 636.5V671.4M800.8 225.4V214.7M800.8 646.4V657.3M802.5 229.2V210.5M802.5 616.3V637.9M805.7 220.6V203.3M805.7 632.6V651.2M808 230.8V222.3M808 610.9V635.1M811.1 202.3V188.2M811.1 608.3V616.9M813.1 216.1V195.7M813.1 614.4V623M816 226.6V204.4M816 610.7V630.1M818.6 233.8V211.4M818.6 606.8V618.3M934 216.8V189.7M934 574.2V597.8M936.1 197.1V190.2M936.1 566.8V577.8M939.1 191.6V173.2M939.1 572.3V582.2M941.8 179.7V169.6M941.8 572.5V592.3M941.8 181.2V173.7M941.8 574.7V590.6M944.7 156.8V141.9M944.7 631.7V636M947.8 149.4V130.4M947.8 598.9V616M950.1 142.9V132.9M950.1 578.9V610.9M953.1 132.9V129.8M953.1 592.2V609.9M952.6 132.1V130.7M952.6 583.7V595.5M955.4 134.5V135M955.4 575.7V583.4M957.7 131.4V130.6M957.7 577.8V613.7M960.5 136.9V130.9M960.5 585.8V604.1M962.9 136.9V134.5M962.9 600.5V630.7M965.4 137.8V136.8M965.4 599.3V608.3M968.4 133.5V134.1M968.4 606.8V621.5M969.9 140.9V137.3M969.9 594.6V622.5M973.5 133.9V130.8M973.5 613.5V622.5M975.5 139.1V134.3M975.5 565.5V583.8M978.4 138.5V130.7M978.4 564V619M980.6 139.2V138.6M980.6 566.1V583.7M983.1 138.6V137.4M983.1 568.6V607.3M986 133.7V130.8M986 511.8V539.1M1003.8 227.7V210.2M1003.8 598.7V606.2M1006.2 214.9V204.5M1006.2 600.1V602.5M1009 208.7V191.5M1009 590V600M1011.9 208.3V175.9M1011.9 613.8V620.1M1014.2 190.9V172.2M1014.2 592.1V619.4M1016.1 205.4V171.2M1016.1 604.6V629M1018.5 204.6V189.5M1018.5 583.9V596M1021.1 211.6V195M1021.1 586.3V593.2M1125.6 284.2V249.9M1125.6 593.1V604.4M1128.2 292.3V222.1M1128.2 610.8V635.9M1130.8 258.5V214.3M1130.8 589.2V626.7M1133.1 288.3V248.1M1133.1 603.3V628.7M1135.9 273.2V242.1M1135.9 612.3V632.4M1135.5 279.6V247.3M1135.5 625.8V636.9M1138.6 240.2V220.6M1138.6 613.4V633.7M1141.3 255V214.3M1141.3 589.3V642.5M1143.6 281.8V214.5M1143.6 600.6V619M1145.8 249.9V232M1145.8 594.3V629.6M1146.4 258.7V233.7M1146.4 636.4V649.7M1148.7 265V230.2M1148.7 571V624.7M1151.6 253.8V222M1151.6 586.4V626.1M1154.2 210.8V191.9M1154.2 625.2V641.5M1156.5 277.9V236.1M1156.5 593.8V624.7M1166.9 163V143.5M1166.9 616.5V623.3M1169.9 139.3V133.2M1169.9 593.4V615.8M1173 162.6V140.6M1173 610.6V624.1M1174.7 150.8V139.7M1174.7 576.1V609M1178 160.4V153.7M1178 605.5V616.1M1180.4 176.3V159M1180.4 622.3V640.2M1181.5 160V151.7M1181.5 611.1V643.4M1183.9 172.5V157.3M1183.9 617.2V639.3M1186.9 179.8V164.5M1186.9 618.3V665.3M1188.9 188.9V158.3M1188.9 638.8V659.1M1191.6 201.1V172.2M1191.6 688.2V699.6M1192.4 180.3V158.7M1192.4 652.4V687.3M1195.1 213.2V188.7M1195.1 664.3V690.7M1197.2 185.6V180M1197.2 657.6V668M1199.8 227.7V194.2M1199.8 674.7V684M1202.3 222.1V202M1202.3 656.7V676.3M1301.3 227.1V188.3M1301.3 583.8V583.9M1303.3 184.8V174.6M1303.3 559.1V570.8M1305.9 219.5V181.6M1305.9 568.6V583.5M1309.2 162.4V147M1309.2 571.1V586.4M1311.8 199.1V166.4M1311.8 571.8V599.4M1312.1 190.4V172.8M1312.1 577V595.5M1314.2 186.3V161M1314.2 583.3V597.4M1316.8 179.2V158.9M1316.8 573.6V586.9M1319.3 172.7V169.3M1319.3 578V586M1321.7 160.1V157.3M1321.7 595.2V601.9M1322.3 159.1V150.1M1322.3 614.5V638M1324.7 160.5V153M1324.7 584.8V596.2M1327.3 166.3V163.8M1327.3 587.8V603.1M1330.1 170.9V161.2M1330.1 589.4V605.2M1332.7 203.1V181.6M1332.7 590.4V619.7M1335 201.8V182.7M1335 590.9V623.9M1336.3 209.7V172M1336.3 606.8V659.3M1339 213.6V199.6M1339 604.9V616.8M1341.7 215.2V207.5M1341.7 606V634.3M1344.1 217.1V197.9M1344.1 613.9V636.3M1346.4 179.7V176.5M1346.4 623.4V654.9M1349.8 217.3V211.4M1349.8 639V664.1M1350.2 224.9V210.7M1350.2 654.7V662.9M1353.5 206.8V203.1M1353.5 663.6V666.9M1355.9 198.7V191.6M1355.9 665.6V680.1M1358.3 211.7V199M1358.3 658.9V666.9M1361.1 199.3V190.1M1361.1 670.3V676.2M1362.9 181.7V179M1362.9 699.4V706.4M1364.7 192.8V186M1364.7 675V694.8M1366.6 176.4V173M1366.6 677.6V693.9M1369.8 161.6V159M1369.8 722V721.3M1372 161.1V158.4M1372 679.1V695.2M1373.6 156.7V151.8M1373.6 681.6V688.6M1376.8 149.3V144.4M1376.8 664.2V674.3M1378.9 142V142.2M1378.9 668.2V673.6M1381.5 135.8V134.9M1381.5 649V654.7M1381.8 140.4V139.2M1381.8 654.4V660.9M1384.4 138.2V136.1M1384.4 632.6V646.2M1387.4 133.7V129.1M1387.4 625.6V648M1524.8 162V144.2M1524.8 578.3V602.5M1526.7 155.3V144.1M1526.7 564.1V583.3M1530 153.6V145.7M1530 588V623.7M1532.2 167.7V166.2M1532.2 562.1V581M1535.1 164.5V161.2M1535.1 593.4V607.9M1537.5 168V160.7M1537.5 569.5V591.2M1540 166.4V160.2M1540 579.4V603M1542.1 160.8V158.3M1542.1 591.5V611.4M1544.7 160.6V160.8M1544.7 572.4V588.1M1547.6 159.9V157.1M1547.6 595.2V622.7M1550 145.4V147.1M1550 581.6V630.1M1551.1 158.3V154.6M1551.1 606.7V641.9M1553.9 161.7V157.7M1553.9 625.8V641.9M1556.4 175.8V166M1556.4 590.4V608.3M1559.4 187.4V179.9M1559.4 608.3V639.5M1561.5 195.9V190.9M1561.5 570.5V621.9M1733.6 448.4V396.1M1733.6 520V530.8M1736.9 377.5V355.5M1736.9 558.7V587.5M1739.5 321.4V294M1739.5 585.5V604.6M1741 266V239.3M1741 659.5V694.5M1743.8 238.9V196.9M1743.8 613.3V695.1M1746.4 248.7V218.7M1746.4 620.4V638.4M1748.6 266.1V222.8M1748.6 635.5V654.1M1750 264.2V252.1M1750 613.3V634.2M1752.8 235V215.7M1752.8 647V671.2M1754.8 194.5V184M1754.8 635.1V657.6M1757.5 181.9V164.6M1757.5 649V672.9M1758.6 174.2V145.3M1758.6 639.3V684.5M1761 166.3V151.7M1761 646.8V669.7M1764.4 684.1V686.2M1766.5 171.9V161.5M1766.5 664.2V674.1M1769.3 185.3V172M1769.3 667.6V681.1M1771.7 175.9V153.9M1771.7 632.4V652M1773 178.3V163.4M1773 629.6V652M1775 195V174.8M1775 628.6V648.4M1778.5 249.3V209.2M1778.5 635V641M1792.6 190V178.6M1792.6 675.1V684.7M1795 209.5V194.8M1795 656.6V672.3M1797.3 206.9V200.9M1797.3 675.2V684M1799.7 205.2V194.5M1799.7 681.1V683.4M1802.4 198V192.8M1802.4 677.5V684.7M1805.6 199.9V186.7M1805.6 685.1V697.4M1808.2 178.5V170M1808.2 689.6V698.9M1807.7 192.6V173.7M1807.7 688V692.5M1810.2 180.8V165.6M1810.2 682V702.2M1813.3 147.8V144.1M1813.3 707.6V710.1M1815.5 168.2V164.4M1815.5 669.9V679.4M1818 164.3V161.2M1818 667.8V672.9M1820.8 157.3V151.2M1820.8 665.8V675.6M1822 139V135.4M1822 689.7V710.2M1824.8 153.2V142.5M1824.8 661.6V684.5M1827 148.3V148.2M1827 673.5V686.6M1830.2 148.8V144.1M1830.2 680V690.1M1832.9 144.8V139.5M1832.9 686V705.2M1834.9 138.9V134M1834.9 684.4V702.3M1836.5 139.3V130.9M1836.5 708.4V709.9M1839.1 139.3V138.6M1839.1 687.4V695M1841.7 139.8V137.4M1841.7 692.1V697.1M1844.2 139.9V134.7M1844.2 695.2V701.8M1846.3 141.4V136.9M1846.3 704.8V708.8M1846.6 141.7V138.5M1846.6 695.3V710.2M1848.8 137V128.6M1848.8 694.7V705.8M1851.4 128.6V127.1M1851.4 682.4V699M1854.5 136.6V129.1M1854.5 694.9V698.4M1856.8 135.8V132.5M1856.8 679.9V692.9M1859.3 134V134M1859.3 674.5V681.1M1861.9 132.9V130.7M1861.9 685.5V697.6M1862.9 133.2V130.5M1862.9 661.1V669.2M1864.9 145.7V144.6M1864.9 600.8V613.7M1964 201.7V179.8M1964 569.7V587.1M1966.4 170.2V165.1M1966.4 571V587.7M1969 183.3V169.6M1969 593.9V615.2M1971.6 141.5V139.2M1971.6 608.8V615.2M1974.5 165.5V156.1M1974.5 578V599M1977.1 159.6V157.5M1977.1 576.3V591.5M1979.1 156.2V148.7M1979.1 614.7V644.9M1982.2 161.1V138.1M1982.2 577.5V624.7M1984.6 154.5V141.6M1984.6 579.4V611.9M1986.8 146.4V142.4M1986.8 569.4V597M2013.6 158.1V148.7M2013.6 466.8V489.7M2016.7 148.5V137.5M2016.7 463.7V500.6M2019.1 141V131.4M2019.1 520.5V540.5M2021.7 131.3V128.4M2021.7 466.6V526.3M2023.1 124.4V122.3M2023.1 522.4V544.6M2025.4 129.4V125.6M2025.4 486.3V547M2027.3 127.6V125.7M2027.3 539.2V551.5M2029.9 126.8V123.9M2029.9 523.3V552.3M2033.4 127.8V127.5M2033.4 518.7V537.9M2035.8 126.5V122.1M2035.8 581.3V603.4M2037.2 549.2V577.2M2039.2 121V121.1M2039.2 544.4V575M2041.6 122.7V123.3M2041.6 581.1V597.1M2044.8 121.8V122.1M2044.8 541.5V580.4M2047.1 120.9V121.7M2047.1 633.5V657.3M2049.4 121.5V120M2049.4 662.5V669.2M2051.2 587.5V622.8M2053.1 123.4V122.9M2053.1 537V596.6M2056 123.9V123.5M2056 539.9V627.3M2058.6 129.3V126.8M2058.6 563.1V588.3M2163 217.8V215M2163 592.8V599.4M2165.5 210.1V197.6M2165.5 609.6V615.9M2168.4 203.4V194.3M2168.4 603.9V607.9M2170.3 215.3V196.4M2170.3 606.3V622.1M2173.6 212.5V204.6M2173.6 642.4V647.5M2174 203.4V188.1M2174 614.6V623.6M2176.7 193.4V178.5M2176.7 613.8V619.1M2179.3 183.6V178.3M2179.3 631.4V638M2181.3 163.4V159.3M2181.3 619.8V628.9M2182.7 147.9V145.6M2182.7 636.2V647M2185 158V147.5M2185 619.6V632.7M2187.9 163.9V157M2187.9 616.5V641.7M2190.5 170V162M2190.5 630.1V638.4M2192.6 163V159.5M2192.6 619.2V628.2M2234.1 228.7V207.1M2234.1 596.3V620M2236.1 179V161.7M2236.1 618.9V648.6M2238.6 162.8V156.8M2238.6 611.8V630.5M2241.2 178.3V172.6M2241.2 616.6V638.7M2243.4 165.8V164.4M2243.4 637.9V653.8M2245.6 163V144.7M2245.6 626.5V647.2M2248.2 167.3V160.3M2248.2 649.5V672M2251.2 176.6V149M2251.2 646.8V677.9M2253.8 177.9V166.2M2253.8 635V652.6M2254.7 170.4V167.7M2254.7 637.3V651.9M2257.4 172.5V168.2M2257.4 628.6V645.9M2259.6 187.1V160.2M2259.6 625V653.9M2263 161.3V154.5M2263 619.2V641.9M2383.5 203V162.9M2383.5 608.9V667.4M2386 184V178.2M2386 628.8V636M2388.1 174.3V157.4M2388.1 643V665.8M2388.3 174.4V159.5M2388.3 640.4V655.8M2390.7 179.7V177.1M2390.7 629.6V637.3M2393.6 174.7V160.6M2393.6 627.9V649.5M2396.5 168.3V162.4M2396.5 635.5V646.8M2399.4 200.8V178.3M2399.4 630.5V656.1M2401.9 205.5V190.6M2401.9 659.4V675.5M2446.5 164.1V159.1M2446.5 637.6V654.3M2448.8 162.9V153.4M2448.8 611.6V640M2451.3 154.9V149.9M2451.3 632.5V648.4M2454.5 150.9V146M2454.5 614.4V642.6M2457.4 153.4V150.1M2457.4 646.1V651.1" stroke="#05A01C" stroke-width="5.8" stroke-linecap="round" stroke-dasharray="0.1 17 3 16 0.1 14 5 19 0.1 15 1 20" fill="none"/>
<path d="M419.8 251.7V229M419.8 695.7V699.5M422.3 149.4V146.6M422.3 696V701.2M425.2 172.1V142.7M425.2 709.7V715.9M427.4 172.1V153.5M427.4 714.6V717.5M430.1 152.6V145.1M433 133.7V130.8M433 720.6V727.1M435.6 171.6V131.7M437.7 157.5V147.1M437.7 714.5V727.8M440.9 133.4V125.8M440.9 722.8V726.5M442 136.1V133.6M442 714.6V719.1M444.5 711.1V713.4M446.1 711.3V732.5M448.6 719.6V723.4M450.9 707.6V718.1M453.3 716.3V720.5M456.7 714V722M458.6 715.2V724.4M460.1 711.6V714.4M462.8 145.8V137.8M462.8 684.1V692.5M463.4 148.3V139.7M463.4 691.4V704.3M466 138.9V135.6M466 695.8V704.2M469 129.8V126.9M469 709.2V712.3M471.3 127.4V124.2M471.3 710.7V713.3M476.3 717.4V723.1M479.4 121.4V119M479.4 716.6V722.4M481.8 709.2V715.4M484.6 121.4V119M484.6 715.8V722.6M487.4 719V722.3M488.2 714.1V718.9M491.2 140.6V134.6M491.2 711V713.9M493.8 172.1V164.6M493.8 677.6V695.6M493.3 183.3V173.6M493.3 677.3V685.5M496 197.8V184.5M496 670.2V684.1M498.6 186.7V182.3M498.6 634.8V654.4M501.7 199.5V185.1M501.7 633.3V648.3M502.3 195.2V189.1M502.3 639.9V659.6M505.3 207.7V199.4M505.3 618.8V629.4M507.4 185.3V173.9M507.4 649.5V659.4M509.6 191.6V174.4M509.6 641.7V654.5M512.2 219V209.3M512.2 620.4V626.3M513.1 221.4V200M513.1 613.1V628.8M515.1 194.8V180.9M515.1 648.2V654.3M518.2 256.7V250M518.2 616.5V618.6M621.1 202.4V192.3M621.1 683.5V686.4M624.3 172V161.1M624.3 697.4V699.7M625.8 162V149.7M625.8 697.2V700.4M627.5 155.6V148.5M627.5 694.8V700.3M630.2 157.4V142.7M633.4 156.8V153.5M633.4 689V703.2M636.2 153.4V138.7M636.2 683.6V697.3M635.7 157.3V144.7M635.7 689V709.1M638.1 161.2V156.3M638.1 680.7V691.9M641.6 179.3V169.2M641.6 672.5V686.1M644.1 161.1V156.7M644.1 674.6V686M646.1 166.5V154.3M646.1 667.8V671.9M648.9 162.1V155.2M648.9 673V678.9M651.9 188.9V176.2M651.9 655.8V666.9M653.9 164.2V135.5M653.9 681.1V688M657.2 155V133.6M657.2 648.8V698.5M656.6 152.9V143.3M656.6 682.1V697.9M660 151.9V135.7M660 691.4V698.3M662.6 154.4V132.4M662.6 666V683.1M665.2 170.3V162.1M665.2 624.9V636M667.4 152.4V134.7M667.4 652.3V692.1M669.7 129.4V127.1M669.7 681.5V686.8M672.3 166.9V155.7M672.3 647.7V655.7M674.3 156.9V151.2M674.3 627.4V634.9M677.1 162.1V159.6M677.1 614.1V631.8M680 160.3V154.2M680 624.2V639M682 163.8V159.8M682 619.3V629.7M685.1 146.5V141.7M685.1 659.3V696.3M688.1 165V160.3M688.1 617.3V652.6M690.7 172.8V164.5M690.7 625.6V639.5M692.5 165.4V153.7M692.5 612.4V643M694.9 139.3V128M694.9 646.3V670.4M697.8 647V673.3M697.5 624.3V639.7M700.3 673.4V679.1M703.1 621.3V634.8M705 631.3V650.5M708.2 620.1V644.7M756.9 173.6V154.2M756.9 673.2V700.1M759.9 185.9V154.6M759.9 654.5V680.2M762.9 170.9V162M762.9 670.2V685.7M764.9 171.3V146.9M764.9 666.5V688M768.1 189.8V178.4M768.1 645.9V659.1M769.2 187.7V179.2M769.2 650V672.8M772.4 194V173.5M772.4 660.5V674.3M774.7 166.1V155M774.7 694.2V706.6M777.2 171.1V160.6M777.2 681.8V697.8M779.7 202.1V193.8M779.7 650.3V658.6M783.1 216.3V203.7M783.1 635.6V652.6M783.9 212.5V182.3M783.9 672.2V684.1M786.3 196.4V165.4M786.3 669.1V701.4M788.9 169.2V164M788.9 681.8V703.2M791.5 193.5V189M791.5 640.7V665M794.6 214V194.8M794.6 648.1V663.4M796.3 163.3V143.7M796.3 677.2V697.5M797.9 159.4V150.6M797.9 674.4V714.1M800.8 211.7V206.4M800.8 660.3V663.8M802.5 207.5V198.4M802.5 640.9V648.8M805.7 200.3V190.4M805.7 654.2V666.9M808 219.3V207.7M808 638.1V657.1M811.1 185.2V181.7M811.1 619.9V642.4M813.1 192.7V181.4M813.1 626V637.2M816 201.4V187.2M816 633.1V653.1M818.6 208.4V190.8M818.6 621.3V644.2M934 186.7V167.5M934 600.8V605.7M936.1 187.2V173.9M936.1 580.8V594.4M939.1 170.2V158.1M939.1 585.2V600.5M941.8 166.6V157.2M941.8 595.3V606.4M941.8 170.7V155M941.8 593.6V606.5M944.7 138.9V131.8M944.7 639V643.7M947.8 127.4V125.8M947.8 619V638.6M950.1 129.9V126.8M950.1 613.9V631M953.1 612.9V633.9M952.6 127.7V126.7M952.6 598.5V626.2M955.4 132V129.6M955.4 586.4V598.8M957.7 127.6V124.2M957.7 616.7V653.9M960.5 127.9V125.7M960.5 607.1V634M962.9 131.5V129.9M962.9 633.7V641M965.4 133.8V132M965.4 611.3V623.7M968.4 624.5V640.1M969.9 134.3V131.9M969.9 625.5V641.5M973.5 127.8V126.2M973.5 625.5V642.1M975.5 586.8V598.7M978.4 127.7V124.6M978.4 622V660.2M980.6 135.6V130.4M980.6 586.7V624.7M983.1 134.4V128.9M983.1 610.3V635.9M986 542.1V573M1003.8 207.2V199.6M1003.8 609.2V614.1M1006.2 201.5V189.5M1006.2 605.5V610.7M1009 188.5V176.9M1009 603V609.9M1011.9 172.9V147M1011.9 623.1V637.6M1014.2 169.2V151.2M1014.2 622.4V647.7M1016.1 168.2V150.3M1016.1 632V638M1018.5 186.5V177.4M1018.5 599V606.1M1021.1 192V177.4M1021.1 596.2V603.2M1125.6 246.9V220.1M1125.6 607.4V618.6M1128.2 219.1V183.4M1128.2 638.9V657.7M1130.8 211.3V171.6M1130.8 629.7V660.8M1133.1 245.1V182.1M1133.1 631.7V642.5M1135.9 239.1V231.4M1135.9 635.4V645.2M1135.5 244.3V232M1135.5 639.9V654.3M1138.6 217.6V173.2M1138.6 636.7V646.3M1141.3 211.3V200M1141.3 645.5V666.9M1143.6 211.5V170.6M1143.6 622V658.5M1145.8 229V204.2M1145.8 632.6V670.2M1146.4 230.7V210.7M1146.4 652.7V677.8M1148.7 227.2V206.5M1148.7 627.7V659.5M1151.6 219V176.6M1151.6 629.1V641M1154.2 188.9V179.1M1154.2 644.5V654.2M1156.5 233.1V190.2M1156.5 627.7V643.7M1166.9 140.5V126.7M1166.9 626.3V633.2M1169.9 130.2V127.1M1169.9 618.8V625.1M1173 137.6V131.6M1173 627.1V643.9M1174.7 136.7V125.5M1174.7 612V626.3M1178 150.7V133.7M1178 619.1V640.6M1180.4 156V132.7M1180.4 643.2V666.1M1181.5 148.7V130M1181.5 646.4V669M1183.9 154.3V129.3M1183.9 642.3V673.3M1186.9 161.5V142.1M1186.9 668.3V678.7M1188.9 155.3V144.8M1188.9 662.1V693.8M1191.6 169.2V161.9M1191.6 702.6V704.6M1192.4 155.7V150M1192.4 690.3V707.4M1195.1 185.7V170.5M1195.1 693.7V703.6M1197.2 177V168.6M1197.2 671V692.1M1199.8 191.2V167.2M1199.8 687V691.3M1202.3 199V180.5M1202.3 679.3V693.3M1301.3 185.3V171.6M1303.3 171.6V152.9M1303.3 573.8V579M1305.9 178.6V162.9M1305.9 586.5V592.3M1309.2 144V134.8M1309.2 589.4V599.2M1311.8 163.4V136.4M1311.8 602.4V612.6M1312.1 169.8V132.3M1312.1 598.5V612.2M1314.2 158V147.1M1314.2 600.4V608.8M1316.8 155.9V141.3M1316.8 589.9V616.9M1319.3 166.3V158.8M1319.3 589V598M1321.7 154.3V151.3M1321.7 604.9V619.9M1322.3 147.1V135.5M1322.3 641V647.6M1324.7 150V144.4M1324.7 599.2V622.9M1327.3 160.8V156.7M1327.3 606.1V614.9M1330.1 158.2V154.2M1330.1 608.2V627.2M1332.7 178.6V173.1M1332.7 622.7V641.9M1335 179.7V169.1M1335 626.9V633.1M1336.3 169V159.7M1336.3 662.3V685.4M1339 196.6V179.4M1339 619.8V646M1341.7 204.5V184.3M1341.7 637.3V644.3M1344.1 194.9V170.4M1344.1 639.3V671.2M1346.4 173.5V171.9M1346.4 657.9V675.4M1349.8 208.4V202.9M1349.8 667.1V678.5M1350.2 207.7V201.7M1350.2 665.9V677.5M1353.5 200.1V197.7M1353.5 669.9V674.9M1355.9 188.6V186.1M1355.9 683.1V696.6M1358.3 196V186.8M1358.3 669.9V676.8M1361.1 187.1V173.6M1361.1 679.2V685.2M1362.9 176V172.9M1362.9 709.4V713.9M1364.7 183V169.4M1364.7 697.8V709.6M1366.6 170V156.9M1366.6 696.9V702.9M1369.8 156V154.7M1369.8 724.3V726M1372 155.4V148.3M1372 698.2V714.9M1373.6 148.8V147.7M1373.6 691.6V694.9M1376.8 677.3V688.6M1378.9 676.6V678.8M1381.5 131.9V130.5M1381.5 657.7V663.6M1381.8 136.2V133.5M1381.8 663.9V677.6M1384.4 649.2V659.9M1387.4 126.1V123.5M1387.4 651V664.7M1524.8 141.2V137.7M1524.8 605.5V621.9M1526.7 141.1V135.8M1526.7 586.3V621M1530 142.7V137.5M1530 626.7V636.2M1532.2 163.2V160.7M1532.2 584V603.4M1535.1 158.2V154.2M1535.1 610.9V614.2M1537.5 594.2V604.9M1540 606V611.9M1542.1 155.3V153.3M1542.1 614.4V623.9M1544.7 157.8V154.2M1544.7 591.1V618.9M1547.6 625.7V639.7M1550 633.1V647.7M1551.1 151.6V147.9M1551.1 644.9V664.3M1553.9 154.7V152.2M1553.9 644.9V675.2M1556.4 163V158.1M1556.4 611.3V638.1M1559.4 176.9V166.5M1559.4 642.5V670.2M1561.5 187.9V176.9M1561.5 624.9V645.8M1733.6 393.1V359.4M1733.6 533.8V549.8M1736.9 352.5V311.5M1736.9 590.5V598.7M1739.5 291V275.2M1739.5 607.6V650.3M1741 236.3V196M1741 697.5V719.7M1743.8 193.9V181.1M1743.8 698.1V711.1M1746.4 215.7V205.5M1746.4 641.4V657.3M1748.6 219.8V203.4M1748.6 657.1V674.3M1750 249.1V220.8M1750 637.2V666.1M1752.8 212.7V188.9M1752.8 674.2V683.4M1754.8 181V178.5M1754.8 660.6V679.5M1757.5 161.6V152.7M1757.5 675.9V691.3M1758.6 142.3V138.3M1758.6 687.5V694.9M1761 148.7V139.2M1761 672.7V700.1M1764.4 689.2V695.2M1766.5 158.5V149.5M1766.5 677.1V697M1769.3 169V133.2M1769.3 684.1V691M1771.7 150.9V141.6M1771.7 655V670.8M1773 160.4V141.3M1773 655V663.2M1775 171.8V164.6M1775 651.4V662M1778.5 206.2V179.7M1778.5 644V647.7M1792.6 175.6V169.5M1792.6 687.7V702.5M1795 191.8V182.3M1795 675.3V685M1797.3 197.9V189.3M1797.3 687V690.3M1799.7 191.5V185M1799.7 686.4V691.5M1802.4 189.8V178.4M1802.4 687.7V692.4M1805.6 183.7V165.6M1805.6 700.4V706.8M1808.2 167V144.1M1808.2 701.9V714M1807.7 170.7V160.5M1807.7 695.5V706.3M1810.2 162.6V152.2M1810.2 705.2V715.2M1813.3 141.1V138.9M1813.3 713.1V714.4M1815.5 161.4V153.5M1815.5 682.4V693.8M1818 158.2V151.2M1818 675.9V689.6M1820.8 148.2V145.5M1820.8 678.6V687.2M1822 713.2V720.6M1824.8 139.5V132.8M1824.8 687.5V706.5M1827 145.2V140.8M1827 689.6V694.3M1830.2 141.1V134.9M1830.2 693.1V716M1832.9 136.5V133.7M1832.9 708.2V714.8M1834.9 131V126M1834.9 705.3V716.1M1836.5 712.9V717.2M1839.1 135.6V133.8M1839.1 698V704M1841.7 700.1V702.2M1844.2 131.7V127.8M1844.2 704.8V706.8M1846.3 133.9V123.1M1846.3 711.8V720M1846.6 135.5V127.1M1846.6 713.2V719.9M1848.8 125.6V122.2M1848.8 708.8V715.8M1851.4 702V704.8M1854.5 126.1V122M1854.5 701.4V707.7M1856.8 129.5V124.3M1856.8 695.9V698.6M1859.3 684.1V691M1861.9 127.7V124.1M1861.9 700.6V706.9M1862.9 672.2V680M1864.9 141.6V140.1M1864.9 616.7V633.6M1964 176.8V165.9M1964 590.1V603.2M1966.4 162.1V158.9M1966.4 590.7V609.9M1969 166.6V141.2M1969 618.2V628.1M1971.6 618.2V625.5M1974.5 153.1V148.5M1974.5 602V621.6M1977.1 154.5V150.6M1977.1 594.5V616M1979.1 145.7V129.8M1979.1 647.9V651.4M1982.2 135.1V131M1982.2 627.7V655.9M1984.6 138.6V135M1984.6 614.9V629.2M1986.8 139.4V133.7M1986.8 600V616.5M2013.6 145.7V141.9M2013.6 492.7V510.2M2016.7 134.5V123.5M2016.7 503.6V539.6M2019.1 128.4V123.8M2019.1 543.5V552.9M2021.7 125.4V123.2M2021.7 529.3V552.5M2023.1 547.6V563.4M2025.4 122.6V118.6M2025.4 550V569.5M2027.3 122.7V118.9M2027.3 554.5V586M2029.9 555.3V602.1M2033.4 540.9V574.8M2035.8 606.4V629.7M2037.2 580.2V618M2039.2 578V612.2M2041.6 600.1V615.2M2044.8 583.4V594.2M2047.1 660.3V665.3M2049.4 672.2V680.3M2051.2 625.8V642.7M2053.1 599.6V636.7M2056 120.5V119M2056 630.3V654.3M2058.6 591.3V647.4M2163 212V198.7M2163 602.4V610.7M2165.5 194.6V189.7M2165.5 618.9V624.3M2168.4 191.3V189.6M2168.4 610.9V618.2M2170.3 193.4V185.1M2170.3 625.1V636.9M2173.6 201.6V193.1M2173.6 650.5V653.8M2174 185.1V174.6M2174 626.6V641.5M2176.7 175.5V166.2M2176.7 622.1V626.1M2179.3 175.3V165.7M2179.3 641V645.1M2181.3 156.3V154.8M2181.3 631.9V639.5M2182.7 142.6V138.2M2182.7 650V662.4M2185 144.5V142M2185 635.7V656.2M2187.9 154V150.8M2187.9 644.7V658M2190.5 159V156M2190.5 641.4V644.9M2192.6 156.5V154.8M2192.6 631.2V639.5M2234.1 204.1V189.8M2234.1 623V630.1M2236.1 158.7V147.8M2236.1 651.6V673.8M2238.6 153.8V151.1M2238.6 633.5V651.3M2241.2 169.6V163M2241.2 641.7V655.6M2243.4 161.4V155.1M2243.4 656.8V662.8M2245.6 141.7V139.3M2245.6 650.2V676.7M2248.2 157.3V148.6M2248.2 675V686.1M2251.2 146V134.2M2251.2 680.9V689.7M2253.8 163.2V155.7M2253.8 655.6V659.8M2254.7 164.7V156.7M2254.7 654.9V662.1M2257.4 165.2V162M2257.4 648.9V652.4M2259.6 157.2V147M2259.6 656.9V672.1M2263 151.5V144.3M2263 644.9V652.7M2383.5 159.9V149.3M2383.5 670.4V683.3M2386 175.2V169.5M2386 639V658.6M2388.1 154.4V144.6M2388.1 668.8V674.2M2388.3 156.5V153.3M2388.3 658.8V687.3M2390.7 174.1V165.8M2390.7 640.3V655.3M2393.6 157.6V154.1M2393.6 652.5V675.2M2396.5 159.4V149.8M2396.5 649.8V657.1M2399.4 175.3V158.3M2399.4 659.1V682.5M2401.9 187.6V141.4M2401.9 678.5V693M2446.5 156.1V151.3M2446.5 657.3V664.4M2448.8 150.4V147.2M2448.8 643V662.1M2451.3 146.9V144.3M2451.3 651.4V681.5M2454.5 143V141.6M2454.5 645.6V672.1M2457.4 147.1V141.9M2457.4 654.1V661.5" stroke="#05A01C" stroke-width="6.4" stroke-linecap="round" stroke-dasharray="0.1 32 0.1 44 2 36 0.1 54 0.1 28 2 40" fill="none"/>
<path d="M518.2 274.1V601.4M627.5 183.9V682.4M816 229.6V607.7M952.6 135.1V580.7M986 136.7V508.8M1324.7 163.5V581.8M1810.2 183.8V679M1844.2 142.9V692.2M2039.2 124V541.4M2243.4 168.8V634.9" stroke="#05A01C" stroke-width="3.6" stroke-linecap="round" stroke-dasharray="2 7 9 6 1 8 14 7 3 9 1 6" fill="none"/>
<path d="M420 162h0m0 51h0M425 132h0m-1 14h0m1 2h0m-1 572h0m2 3h0M427 126h0m0 19h0m0 8h0m0 6h0m0 35h0m1 0h0M430 144h0m-1 32h0m2 17h0m-1 533h0M433 721h0M436 155h0m1 10h0m0 561h0m-2 3h0M438 149h0m0 559h0m-1 12h0M442 709h0m0 24h0M466 701h0m1 17h0M469 718h0M476 712h0M482 121h0M485 720h0M491 137h0m0 7h0m-1 573h0M494 707h0M493 692h0M496 146h0M502 201h0m0 444h0M505 658h0m0 11h0M507 187h0m0 482h0m-1 2h0M510 193h0m1 462h0m-2 7h0M515 203h0m-1 17h0m2 435h0M434 754h0M477 97.3h0M474 97.3h0M474 97.3h0M624 693h0M626 697h0M628 168h0M636 156h0M642 674h0m1 22h0M654 140h0m-1 5h0m2 31h0m0 490h0m-1 30h0m1 11h0M657 154h0m0 25h0m0 1h0m-1 466h0m1 57h0M657 155h0m0 529h0M660 131h0m-1 36h0m1 9h0M663 131h0m0 2h0m-1 34h0m1 472h0m0 22h0m-1 12h0m0 27h0M670 679h0M685 145h0m-1 21h0m2 483h0m-1 1h0m0 27h0M688 126h0m1 25h0m0 514h0m-1 5h0M691 135h0m1 21h0M695 665h0m0 12h0M698 649h0m0 18h0m0 17h0M703 644h0M705 614h0m-1 25h0M708 614h0m0 46h0M757 191h0M760 138h0m-1 12h0m2 13h0m-1 493h0M763 159h0M765 155h0m0 26h0m0 501h0m0 4h0M768 164h0m0 548h0M772 714h0M775 698h0M777 151h0m1 4h0m0 540h0m0 7h0M784 211h0m0 492h0m0 0h0m0 3h0M786 157h0m1 35h0m0 468h0m-2 38h0m1 4h0M789 652h0m-1 5h0m2 19h0m-1 10h0M792 691h0M796 657h0m-1 5h0m1 15h0m-1 1h0M798 142h0m1 11h0m-1 518h0m0 18h0m0 27h0M806 168h0M808 641h0m-1 32h0m2 1h0M813 635h0M816 164h0m0 28h0M717 97.3h0M713 97.3h0M676 97.3h0M737 97.3h0M657 97.3h0M741 97.3h0M817 97.3h0M649 97.3h0M780 754h0M628 97.3h0M724 754h0M694 97.3h0M715 97.3h0M693 97.3h0M634 97.3h0M693 97.3h0M656 97.3h0M763 97.3h0M934 595h0M939 636h0M945 131h0m1 516h0M948 618h0M950 125h0m1 504h0M953 119h0m1 531h0M958 120h0m0 535h0M961 610h0M963 633h0m0 22h0m-1 14h0m1 0h0M968 659h0M970 132h0M973 638h0M978 617h0m0 29h0m-1 13h0m1 13h0M981 629h0m-1 39h0M1006 614h0M1012 154h0m0 487h0M1014 141h0m-1 1h0m0 33h0M1016 158h0m0 13h0M1021 177h0M1001 153h0M1000 438h0M1000 344h0M997 138h0M991 489h0M993 415h0M1001 439h0M997 442h0M992 678h0M993 138h0M994 358h0M991 365h0M989 653h0M995 286h0M995 457h0M993 579h0M994 643h0M998 514h0M990 520h0M1001 581h0M989 284h0M988 498h0M1000 510h0M997 429h0M998 432h0M1037 287h0M1031 459h0M1024 434h0M1039 262h0M1036 491h0M1038 581h0M1034 447h0M1031 390h0M1033 353h0M1037 429h0M1030 417h0M1035 534h0M1037 488h0M1027 230h0M1025 261h0M1032 258h0M1031 505h0M1030 547h0M1029 406h0M1027 278h0M1033 275h0M1025 336h0M1035 586h0M1026 318h0M1040 441h0M1037 593h0M1034 320h0M1040 554h0M1023 582h0M1034 315h0M1031 340h0M1036 375h0M1024 553h0M1028 293h0M1035 278h0M1033 392h0M1025 577h0M1035 251h0M1038 464h0M1037 511h0M1026 344h0M1026 525h0M1039 438h0M1034 585h0M1032 390h0M1028 588h0M1025 299h0M1038 240h0M1026 422h0M1027 370h0M1023 473h0M1024 335h0M1024 483h0M1026 432h0M1023 436h0M1029 560h0M1026 338h0M1038 252h0M1031 406h0M1028 291h0M1031 241h0M1023 334h0M1029 324h0M1035 381h0M1033 444h0M1035 569h0M1033 482h0M1032 258h0M1037 422h0M1023 500h0M1031 97.3h0M1026 97.3h0M1009 97.3h0M1006 97.3h0M963 754h0M1035 97.3h0M956 754h0M1018 97.3h0M945 97.3h0M1015 97.3h0M1126 213h0m-1 9h0m2 20h0M1131 201h0m0 447h0M1139 174h0m1 2h0M1141 217h0m-1 402h0M1144 160h0m-1 78h0m1 395h0M1146 659h0m1 1h0M1146 195h0m0 466h0M1152 180h0m0 37h0m1 6h0m-1 431h0M1154 167h0M1157 192h0m1 1h0m-1 47h0M1167 122h0M1170 610h0M1173 136h0m0 12h0m1 480h0M1175 132h0m-1 483h0m1 39h0M1178 127h0m-1 24h0M1180 138h0m0 10h0m0 14h0m1 486h0m0 16h0m-1 0h0m-1 3h0M1182 147h0m1 493h0M1184 135h0m1 502h0m-2 6h0m1 36h0m0 3h0M1187 132h0m-1 1h0m1 509h0m1 7h0m-2 18h0m1 2h0m0 11h0m1 2h0m-1 8h0M1189 173h0m-1 490h0m2 23h0m0 15h0M1192 158h0m0 5h0m0 533h0M1192 685h0M1195 153h0m0 13h0m-1 6h0m1 530h0M1197 698h0M1200 686h0M1142 97.3h0M1189 754h0M1135 97.3h0M1160 97.3h0M1194 754h0M1303 168h0M1306 147h0m0 28h0m1 8h0M1309 143h0m-1 441h0m1 10h0m0 3h0M1312 131h0m1 0h0m-1 4h0m-1 39h0m2 1h0m-1 438h0M1312 140h0m0 21h0m-1 429h0m0 8h0m1 8h0m0 8h0M1314 166h0m0 462h0M1317 128h0m-1 32h0m1 440h0M1330 143h0M1333 625h0m-1 1h0M1335 642h0M1336 144h0m0 0h0m1 38h0m-1 456h0m0 20h0m0 3h0m0 1h0m0 12h0M1342 186h0M1344 185h0M1350 205h0m0 481h0M1361 685h0m0 12h0M1365 166h0M1370 147h0m0 6h0M1377 721h0M1387 674h0M1353 97.3h0M1312 97.3h0M1310 754h0M1342 97.3h0M1376 754h0M1381 97.3h0M1311 754h0M1305 97.3h0M1382 754h0M1525 598h0m0 3h0m0 7h0M1527 594h0m0 11h0m-1 4h0m0 1h0m1 4h0m0 4h0m-1 5h0m1 4h0m0 2h0M1532 628h0M1545 140h0m-1 505h0M1548 629h0M1550 685h0m-1 11h0M1551 633h0M1556 669h0m0 27h0M1561 161h0M1568 634h0M1570 463h0M1573 431h0M1572 531h0M1571 391h0M1572 601h0M1568 378h0M1580 622h0M1578 525h0M1573 555h0M1571 459h0M1585 680h0M1567 442h0M1565 648h0M1584 408h0M1586 575h0M1569 627h0M1580 621h0M1566 655h0M1586 660h0M1572 637h0M1571 515h0M1567 515h0M1569 682h0M1566 628h0M1579 526h0M1572 370h0M1582 355h0M1566 372h0M1566 504h0M1616 332h0M1607 364h0M1613 482h0M1611 543h0M1603 412h0M1608 483h0M1601 490h0M1623 394h0M1625 395h0M1609 559h0M1626 552h0M1599 476h0M1600 390h0M1617 357h0M1623 376h0M1617 369h0M1623 452h0M1604 531h0M1622 547h0M1619 532h0M1608 570h0M1612 421h0M1600 550h0M1625 415h0M1610 325h0M1602 327h0M1620 312h0M1613 484h0M1614 486h0M1611 422h0M1624 390h0M1621 310h0M1604 534h0M1626 419h0M1601 379h0M1609 298h0M1615 336h0M1606 390h0M1617 468h0M1611 354h0M1550 122h0M1593 196h0M1590 424h0M1593 611h0M1590 622h0M1594 282h0M1592 435h0M1591 674h0M1591 279h0M1592 388h0M1595 309h0M1595 546h0M1595 690h0M1594 536h0M1590 609h0M1592 503h0M1593 429h0M1596 408h0M1590 515h0M1592 583h0M1590 453h0M1595 704h0M1591 700h0M1594 378h0M1595 631h0M1593 684h0M1593 533h0M1593 692h0M1592 305h0M1595 431h0M1592 572h0M1594 414h0M1595 439h0M1596 722h0M1593 702h0M1592 499h0M1595 607h0M1590 658h0M1595 374h0M1591 670h0M1594 394h0M1594 545h0M1590 555h0M1590 604h0M1593 544h0M1591 360h0M1591 348h0M1596 274h0M1590 300h0M1590 656h0M1593 461h0M1591 516h0M1596 349h0M1595 343h0M1596 611h0M1591 456h0M1595 409h0M1592 558h0M1595 681h0M1596 670h0M1594 636h0M1590 422h0M1590 469h0M1595 352h0M1594 726h0M1590 687h0M1591 339h0M1596 607h0M1592 652h0M1593 455h0M1590 644h0M1593 315h0M1591 626h0M1590 672h0M1593 380h0M1589 362h0M1595 303h0M1595 712h0M1595 614h0M1592 360h0M1596 581h0M1594 491h0M1589 97.3h0M1571 754h0M1584 97.3h0M1611 97.3h0M1558 754h0M1562 97.3h0M1605 97.3h0M1589 97.3h0M1605 754h0M1579 754h0M1734 391h0m1 12h0M1739 232h0m1 31h0m-1 419h0M1744 202h0m0 6h0m1 5h0m-2 450h0m1 29h0m-1 21h0m1 12h0m-1 5h0m0 2h0M1746 170h0m0 501h0m1 20h0M1749 726h0M1758 161h0m-1 534h0M1759 132h0m0 10h0m-1 539h0M1761 131h0m0 23h0m0 524h0m0 10h0M1767 139h0m1 544h0M1769 138h0m0 6h0m1 533h0m-1 7h0M1772 137h0m0 521h0m0 1h0m-1 3h0m1 24h0M1773 659h0M1793 181h0m0 516h0M1795 672h0m0 15h0m1 14h0M1802 166h0M1808 147h0m0 561h0M1808 145h0M1810 693h0m0 17h0M1813 710h0M1821 136h0M1830 132h0m0 7h0m0 557h0m0 10h0M1833 135h0m-1 582h0m1 3h0m-1 1h0M1835 131h0M1837 714h0M1846 128h0m-1 4h0m1 585h0M1847 135h0M1851 714h0M1854 122h0m0 594h0M1857 129h0M1862 131h0M1863 122h0M1789 431h0M1790 485h0M1785 644h0M1787 393h0M1788 506h0M1784 310h0M1788 440h0M1788 527h0M1784 528h0M1785 632h0M1786 532h0M1785 629h0M1785 621h0M1788 331h0M1783 366h0M1783 360h0M1784 383h0M1786 473h0M1723 336h0M1720 484h0M1740 447h0M1735 516h0M1727 565h0M1734 508h0M1730 327h0M1724 438h0M1730 408h0M1739 344h0M1799 97.3h0M1758 754h0M1826 97.3h0M1861 97.3h0M1739 97.3h0M1725 97.3h0M1816 754h0M1828 754h0M1820 97.3h0M1760 754h0M1964 161h0m1 10h0m-1 10h0m0 433h0M1969 134h0m1 1h0m-1 23h0m0 454h0m-1 14h0m2 15h0M1972 633h0M1974 154h0M1979 146h0m0 489h0m0 8h0M1982 621h0m-1 11h0M1985 616h0M1987 640h0M2017 503h0m0 18h0M2019 539h0M2022 536h0m-1 15h0M2023 568h0M2025 523h0m0 15h0m0 8h0m1 14h0m-1 13h0M2027 587h0M2030 565h0m1 32h0M2033 550h0m0 0h0m0 18h0M2036 612h0M2037 590h0m0 5h0m1 31h0m-1 11h0M2039 119h0M2042 636h0M2045 625h0M2047 649h0m-1 5h0M2049 675h0M2051 617h0m0 15h0m0 10h0m0 3h0m0 36h0M2053 589h0m1 72h0M2056 606h0m-1 55h0m1 2h0M2059 666h0m1 6h0M1997 659h0M2011 661h0M2011 479h0M1993 539h0M1995 630h0M2001 590h0M1999 649h0M1997 465h0M2000 570h0M1994 529h0M2009 619h0M1994 472h0M1993 623h0M2001 447h0M1995 455h0M2046 97.3h0M2027 97.3h0M2038 97.3h0M2017 97.3h0M2052 97.3h0M2038 754h0M2051 97.3h0M2033 97.3h0M1969 754h0M2165 199h0m0 415h0M2168 177h0M2170 625h0m1 19h0M2174 165h0M2183 658h0m0 4h0M2188 147h0m0 2h0m0 498h0m0 9h0M2191 154h0m1 502h0M2193 162h0m0 479h0m-1 8h0m1 1h0M2236 649h0m0 7h0M2239 640h0M2241 665h0m0 5h0M2246 650h0m0 32h0M2248 146h0m1 0h0m-2 547h0m1 1h0M2260 660h0m0 5h0M2263 669h0M2198 424h0M2202 494h0M2196 506h0M2198 460h0M2196 503h0M2200 327h0M2202 395h0M2202 389h0M2201 493h0M2202 449h0M2201 334h0M2196 478h0M2221 594h0M2189 686h0M2167 97.3h0M2215 97.3h0M2200 97.3h0M2258 97.3h0M2260 97.3h0M2166 97.3h0M2224 754h0M2383 168h0m0 5h0m1 4h0m-1 459h0M2386 678h0M2388 665h0M2388 144h0m0 528h0M2394 684h0M2396 667h0M2399 139h0m-1 551h0m1 1h0M2402 146h0m1 26h0m-1 8h0m0 501h0M2449 147h0m1 504h0m-2 1h0M2454 673h0M2369 444h0M2373 480h0M2372 418h0M2374 331h0M2368 479h0M2372 370h0M2372 319h0M2375 385h0M2377 485h0M2368 347h0M2376 334h0M2372 401h0M2374 324h0M2373 294h0M2373 488h0M2375 403h0M2370 488h0M2375 389h0M2374 361h0M2374 333h0M2369 450h0M2375 397h0M2373 375h0M2372 467h0M2369 299h0M2414 425h0M2419 608h0M2417 446h0M2415 246h0M2416 438h0M2415 520h0M2419 459h0M2420 273h0M2420 357h0M2421 509h0M2418 481h0M2421 238h0M2417 552h0M2417 596h0M2418 444h0M2421 321h0M2418 365h0M2421 635h0M2420 576h0M2418 550h0M2415 432h0M2421 275h0M2416 256h0M2420 418h0M2420 641h0M2414 562h0M2416 516h0M2418 582h0M2419 297h0M2416 361h0M2416 342h0M2416 305h0M2417 325h0M2414 393h0M2417 237h0M2418 615h0M2417 486h0M2419 440h0M2417 462h0M2417 593h0M2405 97.3h0M2450 97.3h0M2396 97.3h0M2442 97.3h0M2412 97.3h0M2379 97.3h0" stroke="#05A01C" stroke-width="6.8" stroke-linecap="round" fill="none"/>
<line x1="280.4" x2="2459" y1="420.1" y2="420.1" stroke="#fff" stroke-opacity="0.75" stroke-width="1.6" stroke-dasharray="9 3 4 2 14 4 3 3"/>
<line x1="280.4" x2="2459" y1="430.7" y2="430.7" stroke="#fff" stroke-opacity="0.75" stroke-width="1.6" stroke-dasharray="9 3 4 2 14 4 3 3"/>
<line x1="280.4" x2="2459" y1="535.2" y2="535.2" stroke="#fff" stroke-opacity="0.5" stroke-width="1.2" stroke-dasharray="9 3 4 2 14 4 3 3"/>
<line x1="280.4" x2="2459" y1="315.6" y2="315.6" stroke="#fff" stroke-opacity="0.5" stroke-width="1.2" stroke-dasharray="9 3 4 2 14 4 3 3"/>
<line x1="280.4" x2="2459" y1="589.7" y2="589.7" stroke="#fff" stroke-opacity="0.4" stroke-width="1.0" stroke-dasharray="9 3 4 2 14 4 3 3"/>
<line x1="280.4" x2="2459" y1="261.1" y2="261.1" stroke="#fff" stroke-opacity="0.4" stroke-width="1.0" stroke-dasharray="9 3 4 2 14 4 3 3"/>
<line x1="280.4" x2="2459" y1="491.1" y2="491.1" stroke="#fff" stroke-opacity="0.35" stroke-width="1.0" stroke-dasharray="9 3 4 2 14 4 3 3"/>
<line x1="280.4" x2="2459" y1="359.7" y2="359.7" stroke="#fff" stroke-opacity="0.35" stroke-width="1.0" stroke-dasharray="9 3 4 2 14 4 3 3"/>
<polyline points="287.6,422.5 291.1,406.7 294.6,389.1 299.9,383.8 303.4,385.6 306.9,420.8 311.5,422.5 314,399.6 319.3,392.6 322.8,378.5 326.3,375 329.1,403.2 333.3,399.6 338.6,401.4 342.1,406.7 344.6,336.3 346.7,223.7 350.2,216.7 353,211.4 354.4,265.9 355.5,371.5 358,389.1 362.2,385.6 365.7,424.3 372,424.3 375.6,406.7 379.1,403.2 384.4,399.6 387.9,382 391.4,364.5 395.6,345.1 400.2,371.5 405.5,368 410.7,357.4 414.3,364.5" fill="none" stroke="#000" stroke-width="6.4" stroke-linejoin="round" stroke-linecap="round"/>
<polyline points="422,491.1 426.6,508.7 430.8,515.8 435.4,487.6 440.7,477.1 444.2,441.9 447,357.4 451.2,348.6 453.7,378.5 458.2,382 461.8,477.1 463.5,406.7 467,413.7 470.6,445.4 474.1,396.1 477.6,389.1 481.1,343.3 484.6,389.1 489.9,406.7 493.4,413.7 497,406.7 502.2,399.6 505,420.8 509.3,427.8 513.5,448.9 517,427.8" fill="none" stroke="#000" stroke-width="6.4" stroke-linejoin="round" stroke-linecap="round"/>
<polyline points="526.9,466.5 532.1,470 537.4,494.6 541.6,514 546.2,441.9 551.5,392.6 554.3,452.4 557.8,413.7 563.8,434.8 567.3,413.7 571.9,420.8 576.1,403.2 579.6,431.3 584.9,431.3 588.4,413.7 590.9,441.9 595.5,448.9 600.8,466.5 606,477.1 609.5,475.3 614.1,468.3" fill="none" stroke="#000" stroke-width="6.4" stroke-linejoin="round" stroke-linecap="round"/>
<polyline points="621.9,464.7 625.4,455.9 630.7,420.8 635.9,368 641.2,364.5 644.7,385.6 650,382 655.3,371.5 660.6,387.3 665.8,375 671.1,380.3 676.4,362.7 681.7,396.1 687,424.3 692.2,478.8 695.8,371.5 699.3,360.9 703.5,332.8 706.3,357.4 709.1,378.5 709.8,230.7 713.3,182.2 715.1,227.2 755.6,378.5 760.9,371.5 766.1,389.1 773.2,399.6 778.4,406.7 783.7,406.7 789,434.8 793.6,448.9 797.8,427.8 803.1,412 808.4,408.4 813.6,413.7 818.2,420.8" fill="none" stroke="#000" stroke-width="6.4" stroke-linejoin="round" stroke-linecap="round"/>
<polyline points="825.9,373.3 833,364.5 840,343.3 847.1,329.3 852.3,324 856.9,311.7 859.4,315.2 862.9,387.3 868.2,392.6 873.4,408.4 878.7,401.4 884,403.2 889.3,433.1 893.9,440.1 898.1,406.7 901.6,301.1 904.4,262.4 906.9,336.3 909.7,426 912.2,399.6 917.4,401.4 922.7,404.9 927.3,420.8" fill="none" stroke="#000" stroke-width="6.4" stroke-linejoin="round" stroke-linecap="round"/>
<polyline points="935.2,420.8 939.4,415.5 944,382 949.3,353.9 952.8,378.5 956.3,375 959.8,380.3 963.3,355.7 968.6,362.7 973.9,368 979.2,375 984.4,385.6 988,392.6 989.7,301.1 990.8,202.6 993.2,213.2 995.7,258.9 998.5,343.3 1002,399.6 1005.6,412 1010.8,412 1016.1,413.7 1021.4,396.1 1023.9,387.3 1026.7,399.6 1031.9,399.6 1034.4,452.4 1037.9,448.9" fill="none" stroke="#000" stroke-width="6.4" stroke-linejoin="round" stroke-linecap="round"/>
<polyline points="1047.1,454.2 1049.5,406.7 1054.8,396.1 1060.1,406.7 1063.6,399.6 1067.1,427.8 1072.4,441.9 1077.7,448.9 1083,455.9 1088.2,470 1091.8,420.8 1097,413.7 1104.1,410.2 1111.1,396.1 1116.4,382 1119.9,369.7" fill="none" stroke="#000" stroke-width="6.4" stroke-linejoin="round" stroke-linecap="round"/>
<polyline points="1128.7,385.6 1135.7,396.1 1142.1,410.2 1146.3,396.1 1153.3,382 1158.6,360.9 1163.2,360.9 1164.6,382 1165.7,336.3 1168.1,331 1172.7,343.3 1179.7,346.9 1183.3,396.1 1186.8,413.7 1192,434.8 1196.3,463 1199.8,484.1" fill="none" stroke="#000" stroke-width="6.4" stroke-linejoin="round" stroke-linecap="round"/>
<polyline points="1210.7,438.3 1214.9,438.3 1216.7,420.8 1222,406.7 1227.2,399.6 1230.8,389.1 1237.8,385.6 1243.1,378.5 1246.6,364.5 1250.1,382 1253.6,346.9 1256.1,345.1 1258.9,399.6 1265.9,403.2 1269.5,406.7 1272.3,251.9 1274.4,251.9 1275.1,433.1 1280,427.8 1283.5,413.7 1287.1,410.2 1290.6,404.9 1295.8,401.4" fill="none" stroke="#000" stroke-width="6.4" stroke-linejoin="round" stroke-linecap="round"/>
<polyline points="1304.6,368 1311.7,366.2 1317,345.1 1322.2,341.6 1327.5,350.4 1332.8,353.9 1338.1,360.9 1341.6,371.5 1345.1,427.8 1350.4,438.3 1357.4,441.9 1363.8,447.1 1368,424.3 1373.3,399.6 1378.5,392.6 1382.1,371.5 1385.6,362.7" fill="none" stroke="#000" stroke-width="6.4" stroke-linejoin="round" stroke-linecap="round"/>
<polyline points="1394.4,417.2 1399.6,413.7 1403.2,403.2 1406.7,412 1412,408.4 1417.2,408.4 1420.1,392.6 1424.3,371.5 1429.6,371.5 1433.1,360.9 1436.6,357.4 1440.1,368 1443.6,389.1 1447.1,401.4 1452.4,382 1457.7,389.1 1463,390.8 1468.3,371.5 1475.3,366.2 1482.3,362.7 1484.1,406.7 1485.9,457.7 1489.4,406.7 1494.7,413.7 1498.2,441.9 1501.7,487.6 1507,503.4 1510.5,477.1 1515.1,473.5 1519.3,480.6" fill="none" stroke="#000" stroke-width="6.4" stroke-linejoin="round" stroke-linecap="round"/>
<polyline points="1530,346.9 1537,345.1 1540.6,368 1544.1,389.1 1549.4,399.6 1554.6,417.2 1561.7,420.8 1565.2,429.5 1566.9,468.3 1579.3,469.3 1582.8,459.5 1586.3,543.9 1589.1,540.4 1593.3,494.6 1598.6,448.9 1602.1,524.6 1604.6,508.7 1610.2,508.7 1614.4,477.1 1618.7,459.5 1623.2,447.1" fill="none" stroke="#000" stroke-width="6.4" stroke-linejoin="round" stroke-linecap="round"/>
<polyline points="1636.6,492.9 1638.4,438.3 1642.6,431.3 1647.9,436.6 1653.2,441.9 1658.4,452.4 1661.9,464.7 1665.5,399.6 1669,396.1 1672.5,406.7 1675,427.8 1677.8,385.6 1683.1,383.8 1686.6,382 1690.1,396.1 1693.6,404.9 1698.9,399.6 1703.1,387.3 1707.7,406.7 1711.2,419" fill="none" stroke="#000" stroke-width="6.4" stroke-linejoin="round" stroke-linecap="round"/>
<polyline points="1731.3,473.5 1734.1,455.9 1738.3,455.9 1741.1,498.2 1744.6,499.9 1749.9,484.1 1755.2,441.9 1758.7,399.6 1761.2,345.1 1762.9,389.1 1765.7,403.2 1771,417.2 1776.3,427.8 1781.6,438.3 1786.2,450.7 1792.1,441.9 1797.4,440.1 1802.7,438.3 1808,441.9 1813.3,438.3 1818.5,424.3 1823.8,399.6 1829.1,387.3 1834.4,396.1 1839.6,408.4 1844.9,399.6 1848.4,403.2 1852,424.3 1854.4,443.6 1857.9,413.7 1861.5,371.5 1864.3,315.2" fill="none" stroke="#000" stroke-width="6.4" stroke-linejoin="round" stroke-linecap="round"/>
<polyline points="1874.1,380.3 1876.6,371.5 1880.1,368 1882.6,301.1 1887.1,287 1892.4,262.4 1897.7,237.8 1901.2,213.2 1904.7,160.4 1908.3,111.1 1913.5,104.1 1920.6,98.8 1948.7,97.7 1950.5,111.1 1954,130.5 1957.5,142.8" fill="none" stroke="#000" stroke-width="6.4" stroke-linejoin="round" stroke-linecap="round"/>
<polyline points="1968.1,378.5 1972.6,385.6 1976.9,389.1 1982.1,382 1986.7,375 1989.2,392.6 1990.9,371.5 1998,343.3 2005,318.7 2010.3,302.9 2015.6,301.1 2020.9,304.6 2026.1,297.6 2029.6,311.7 2034.9,309.9 2040.2,329.3 2043.7,334.5 2047.2,318.7 2050.8,311.7 2056,304.6 2059.6,294.1" fill="none" stroke="#000" stroke-width="6.4" stroke-linejoin="round" stroke-linecap="round"/>
<polyline points="2069.1,375 2073.6,378.5 2078.9,380.3 2082.4,413.7 2085.9,415.5 2089.5,399.6 2093,406.7 2096.5,396.1 2101.8,417.2 2107.1,420.8 2110.6,436.6 2112.3,417.2 2117.6,406.7 2122.9,396.1 2126.4,385.6 2129.9,396.1 2133.4,406.7 2137,441.9 2140.5,413.7 2144,396.1 2149.3,382 2154.6,376.8 2158.1,369.7" fill="none" stroke="#000" stroke-width="6.4" stroke-linejoin="round" stroke-linecap="round"/>
<polyline points="2166.9,404.9 2173.9,406.7 2174.9,429.5 2181.6,429.5 2183.7,399.6 2188,403.2 2190.8,406.7 2193.2,396.1 2195,427.8 2196.8,385.6 2230.9,447.1 2233,427.8 2237.2,424.3 2242.5,429.5 2246,420.8 2251.3,415.5 2254.8,399.6 2259,396.1 2261.2,403.2" fill="none" stroke="#000" stroke-width="6.4" stroke-linejoin="round" stroke-linecap="round"/>
<polyline points="2272.4,441.9 2275.9,427.8 2281.2,406.7 2284.7,413.7 2288.2,438.3 2293.5,436.6 2297,452.4 2300.6,438.3 2305.8,436.6 2311.1,438.3 2318.2,433.1 2325.2,429.5 2330.5,419 2334,413.7 2338.6,441.9 2342.8,482.3 2345.6,452.4 2349.8,445.4 2353.3,441.9 2356.2,434.8 2358.6,308.2 2359.3,433.1" fill="none" stroke="#000" stroke-width="6.4" stroke-linejoin="round" stroke-linecap="round"/>
<polyline points="2368.1,357.4 2372.7,359.2 2378,357.4 2379.7,406.7 2381.5,484.1 2386.8,484.1 2388.5,417.2 2392,413.7 2394.9,427.8 2399.1,459.5 2404.4,478.8 2409.6,455.9 2414.9,441.9 2420.2,445.4 2425.5,445.4 2432.5,434.8 2439.5,424.3 2446.6,415.5 2451.9,410.2" fill="none" stroke="#000" stroke-width="6.4" stroke-linejoin="round" stroke-linecap="round"/>
<polyline points="287.6,235.5 291.1,235.6 294.6,236.2 298.1,236.3 301.6,237.1 305.1,235.5 308.6,234.2 312.1,233.6 315.6,233.7 319.1,235.2 322.6,234.9 326.1,235.3 329.6,235.9 333.1,235 336.6,234.8 340.1,236.2 343.6,236.5 345.5,235.2 347.1,233.8 348,231.9 350,232.1 350.6,232 352.5,234.3 354.1,236.1 357.6,234.5 361.1,234.9 364.6,234.3 368.1,235.8 371.6,234.7 375.1,235.1 378.6,234 382.1,234.3 385.6,235.4 389.1,236.4 392.6,237.1 396.1,237.7 399.6,236.9 403.1,235.6 406.6,235.9 410.1,236.3 413.6,236.5" fill="none" stroke="#FF0505" stroke-width="5.8" stroke-linejoin="round" stroke-linecap="round"/>
<polyline points="287.6,275.9 291.1,277 294.6,275.7 298.1,274.7 301.6,273.6 305.1,272.8 308.6,274.1 312.1,274.9 315.6,276.4 319.1,275.8 322.6,276.1 326.1,275.7 329.6,276.5 333.1,276.2 336.6,277.9 340.1,277.1 343.6,276.3 345.5,273.7 347.1,271.9 348,270.2 350,268.7 350.6,270.5 352.5,272.2 354.1,273.7 357.6,275.3 361.1,275.7 364.6,275.2 368.1,274.8 371.6,274.8 375.1,275 378.6,275.8 382.1,276.4 385.6,276.8 389.1,276.7 392.6,276.5 396.1,275.4 399.6,276.2 403.1,275.6 406.6,276.4 410.1,275.8 413.6,275.4" fill="none" stroke="#2222D2" stroke-width="5.8" stroke-linejoin="round" stroke-linecap="round"/>
<polyline points="422,236.4 425.5,235.8 429,235.7 432.5,234.4 436,233.7 439.5,234 443,234 446.5,235 450,235.5 453.5,235.2 457,235.4 460.5,235.7 464,236 467.5,236.1 471,237.6 474.5,237 478,235.8 481.5,235.6 485,234 488.5,233.8 492,235.5 495.5,235.1 499,234.9 502.5,234.5 506,233.7 509.5,234 513,235.9 516.5,237" fill="none" stroke="#FF0505" stroke-width="5.8" stroke-linejoin="round" stroke-linecap="round"/>
<polyline points="422,276.3 425.5,276 429,276.5 432.5,276.2 436,274.4 439.5,273.7 443,273.8 446.5,274.2 450,276.1 453.5,276.2 457,275.9 460.5,274.8 464,275.1 467.5,275.8 471,276.6 474.5,277.6 478,276.6 481.5,276.2 485,274.8 488.5,274.7 492,274.4 495.5,275 499,275.6 502.5,274.9 506,274.8 509.5,273.5 513,274.9 516.5,275.7" fill="none" stroke="#2222D2" stroke-width="5.8" stroke-linejoin="round" stroke-linecap="round"/>
<polyline points="526.9,234.7 530.4,234.1 533.9,233.8 537.4,234.2 540.9,236.2 544.4,237.1 546.2,238.5 547.9,240.7 548.7,241.4 550.7,240.6 551.4,239.6 553.2,236.9 554.9,235.5 558.4,235.6 561.9,236 565.4,236.9 568.9,236.5 572.4,235.6 575.9,233.8 579.4,233.8 582.9,233.3 586.4,234.9 589.9,235.4 593.4,235.4 596.9,234.9 600.4,234.6 603.9,235.9 607.4,236.9 610.9,237.3" fill="none" stroke="#FF0505" stroke-width="5.8" stroke-linejoin="round" stroke-linecap="round"/>
<polyline points="526.9,273.8 530.4,274.4 533.9,274.7 537.4,275.2 540.9,277.3 544.4,276.8 546.2,277.4 547.9,280.4 548.7,280.9 550.7,280.2 551.4,279.1 553.2,276.5 554.9,275.7 558.4,276.6 561.9,277.3 565.4,276.1 568.9,275.3 572.4,274.1 575.9,274 579.4,274 582.9,274.5 586.4,275.6 589.9,275.3 593.4,274.9 596.9,275.4 600.4,275.3 603.9,275.5 607.4,277.5 610.9,277.3" fill="none" stroke="#2222D2" stroke-width="5.8" stroke-linejoin="round" stroke-linecap="round"/>
<polyline points="621.9,234.4 625.4,235.4 628.9,235.1 632.4,235.3 635.9,234.3 639.4,233.5 642.9,234 646.4,236.1 649.9,236.4 653.4,237.2 656.9,236.3 660.4,236.6 663.9,235.2 667.4,235.6 670.9,236.6 674.4,235.7 677.9,235.3 681.4,233.6 684.9,233.1 688.4,234.1 691.9,234.2 695.4,235.3 698.9,236.6 702.4,235.8 705.9,235.6 709.4,232.1 712.9,223.4 716.4,221.8 719.9,223.7 723.4,225.5 726.9,227.1 730.4,228.8 733.9,230.4 737.4,232.2 740.9,234.1 744.4,235.9 747.9,237.8 751.4,239.4 754.9,241.3 758.4,237.8 761.9,236.7 765.4,236.5 768.9,237.8 772.4,237 775.9,236 779.4,235.9 782.9,235.9 786.4,236.2 789.9,235.3 793.4,235 796.9,234.9 800.4,233.5 803.9,233.8 807.4,234.5 810.9,235.8 814.4,236.7 817.9,237" fill="none" stroke="#FF0505" stroke-width="5.8" stroke-linejoin="round" stroke-linecap="round"/>
<polyline points="621.9,274.6 625.4,274.2 628.9,275.2 632.4,275.9 635.9,275.4 639.4,274.8 642.9,273.9 646.4,274 649.9,274.4 653.4,275.5 656.9,276.2 660.4,277 663.9,277.2 667.4,276 670.9,276.1 674.4,275.6 677.9,276.8 681.4,276.6 684.9,275.3 688.4,275.3 691.9,273.5 695.4,274.1 698.9,274.1 702.4,276 705.9,276.5 709.4,272.3 712.9,263.6 716.4,261.8 719.9,263.7 723.4,265.5 726.9,267.5 730.4,269.3 733.9,270.9 737.4,272.5 740.9,274.1 744.4,275.8 747.9,277.9 751.4,279.6 754.9,281.4 758.4,278 761.9,274.4 765.4,274 768.9,275.6 772.4,276.3 775.9,278.1 779.4,276.6 782.9,276 786.4,275.8 789.9,275.6 793.4,275.4 796.9,275.9 800.4,275.5 803.9,274.8 807.4,273 810.9,273.5 814.4,274.4 817.9,275.6" fill="none" stroke="#2222D2" stroke-width="5.8" stroke-linejoin="round" stroke-linecap="round"/>
<polyline points="825.9,235.9 829.4,235.7 832.9,236.4 836.4,237.4 839.9,236.5 843.4,235.9 846.9,234.5 850.4,234.3 853.9,233.3 855.5,233.2 857.4,230.9 858,231 860,230.8 860.9,232.5 862.5,234 864.4,234.9 867.9,235.2 871.4,234.5 874.9,235.2 878.4,236.3 881.9,236.6 885.4,238.1 888.9,237.1 892.4,235.8 894.5,232.9 895.9,230.1 897,228.6 899,228.7 899.4,229.7 901.5,233 902.9,235.1 906.4,235.7 909.9,235.5 913.4,235 916.9,234.2 920.4,233.4 923.9,234.7" fill="none" stroke="#FF0505" stroke-width="5.8" stroke-linejoin="round" stroke-linecap="round"/>
<polyline points="825.9,276.2 829.4,276.4 832.9,276.5 836.4,276.5 839.9,277.5 843.4,276.5 846.9,276 850.4,275.6 853.9,274.7 855.5,273.2 857.4,271.2 858,270.6 860,269.7 860.9,271 862.5,274.1 864.4,275.8 867.9,275.2 871.4,274.9 874.9,274.9 878.4,274.7 881.9,275.9 885.4,276.4 888.9,278 892.4,278 894.5,274.7 895.9,272.7 897,270.6 899,269.8 899.4,270.6 901.5,273.2 902.9,275.7 906.4,275.3 909.9,275.2 913.4,276.2 916.9,274.6 920.4,273.6 923.9,274.3" fill="none" stroke="#2222D2" stroke-width="5.8" stroke-linejoin="round" stroke-linecap="round"/>
<polyline points="935.2,233.3 938.7,233.3 942.2,234.9 945.7,235.4 949.2,236.4 952.7,236.2 956.2,235.3 959.7,235.3 963.2,236.3 966.7,237.3 970.2,237.5 973.7,235.9 977.2,234.9 980.7,234 984.2,234.2 987.7,234.3 988.5,236.2 991,241.6 991.2,241.8 993,241.9 994.7,238.4 995.5,237 998.2,235.2 1001.7,235.4 1005.2,234.8 1008.7,236 1012.2,236.6 1015.7,237.9 1019.2,237.9 1022.7,237.1 1026.2,236.4 1029.7,235.5 1033.2,234.8 1036.7,234.6" fill="none" stroke="#FF0505" stroke-width="5.8" stroke-linejoin="round" stroke-linecap="round"/>
<polyline points="935.2,275.6 938.7,276.9 942.2,277 945.7,276.5 949.2,275.1 952.7,273.6 956.2,273.5 959.7,274.7 963.2,275.9 966.7,276.4 970.2,276.5 973.7,275.6 977.2,276.1 980.7,276.3 984.2,276.3 987.7,278.5 988.5,278.9 991,284.3 991.2,284.1 993,284 994.7,279.5 995.5,278.5 998.2,275.7 1001.7,273.9 1005.2,274.7 1008.7,274.3 1012.2,275.7 1015.7,274.5 1019.2,275 1022.7,274.5 1026.2,275.2 1029.7,275.7 1033.2,276.6 1036.7,277" fill="none" stroke="#2222D2" stroke-width="5.8" stroke-linejoin="round" stroke-linecap="round"/>
<polyline points="1047.1,233.7 1050.6,233.5 1054.1,234.4 1057.6,236.4 1061.1,237.4 1064.6,236.3 1068.1,236.1 1071.6,235.7 1075.1,235.7 1078.6,235.9 1082.1,236.5 1085.6,236 1086.5,234.4 1089,227.5 1089.1,226.9 1091,226.5 1092.6,229.5 1093.5,231.2 1096.1,233.9 1099.6,233.2 1103.1,233.9 1106.6,235.5 1110.1,235.7 1113.6,235 1117.1,234.7" fill="none" stroke="#FF0505" stroke-width="5.8" stroke-linejoin="round" stroke-linecap="round"/>
<polyline points="1047.1,277.9 1050.6,276.8 1054.1,275.8 1057.6,275.6 1061.1,275.4 1064.6,276.1 1068.1,276.4 1071.6,275.4 1075.1,274 1078.6,272.9 1082.1,274.1 1085.6,273.9 1086.5,272.9 1089,267.1 1089.1,266.8 1091,267.4 1092.6,271.2 1093.5,274.3 1096.1,276.3 1099.6,275.8 1103.1,275.1 1106.6,275.6 1110.1,277.1 1113.6,276.9 1117.1,276.8" fill="none" stroke="#2222D2" stroke-width="5.8" stroke-linejoin="round" stroke-linecap="round"/>
<polyline points="1128.7,237.8 1132.2,236.9 1135.7,236.9 1139.2,236.3 1142.7,234.7 1146.2,234.9 1149.7,234.9 1153.2,235.2 1156.7,234.9 1159.5,233.2 1160.2,233.2 1162,230.3 1163.7,229.6 1164,230 1166.5,233.2 1167.2,234 1170.7,234.8 1174.2,236.6 1177.7,237.5 1181.2,237.3 1184.7,237.2 1188.2,235.6 1191.7,235 1195.2,236.1 1198.7,236.5" fill="none" stroke="#FF0505" stroke-width="5.8" stroke-linejoin="round" stroke-linecap="round"/>
<polyline points="1128.7,275.6 1132.2,275.1 1135.7,274.3 1139.2,275.3 1142.7,276 1146.2,277.2 1149.7,277.2 1153.2,277.3 1156.7,276.5 1159.5,274.7 1160.2,272.9 1162,271.5 1163.7,271.1 1164,271.4 1166.5,273.8 1167.2,275.4 1170.7,275.2 1174.2,275.3 1177.7,274.3 1181.2,274 1184.7,273.7 1188.2,275.3 1191.7,275.8 1195.2,277.1 1198.7,276.6" fill="none" stroke="#2222D2" stroke-width="5.8" stroke-linejoin="round" stroke-linecap="round"/>
<polyline points="1210.7,234.5 1214.2,234.9 1217.7,236.5 1221.2,235.8 1224.7,235.5 1228.2,235 1231.7,235.4 1235.2,236.5 1238.7,236.5 1242.2,236.9 1245.7,236 1248.5,234.2 1249.2,232.6 1251,230 1252.7,229.3 1253,229.3 1255.5,232.7 1256.2,233.6 1259.7,233.9 1263.2,235 1266.7,235.8 1270.2,234.9 1273.7,234.4 1277.2,234.1 1280.7,235.1 1284.2,237 1287.7,237.2 1291.2,237.3 1294.7,235.9" fill="none" stroke="#FF0505" stroke-width="5.8" stroke-linejoin="round" stroke-linecap="round"/>
<polyline points="1210.7,276.3 1214.2,275.8 1217.7,276.4 1221.2,276.5 1224.7,276.6 1228.2,274.3 1231.7,273.9 1235.2,274.2 1238.7,275 1242.2,274.8 1245.7,276.2 1248.5,274.5 1249.2,272.8 1251,270.8 1252.7,270.6 1253,269.9 1255.5,273.4 1256.2,275.5 1259.7,276.6 1263.2,276.6 1266.7,278 1270.2,277.5 1273.7,276.7 1277.2,275.9 1280.7,274.5 1284.2,274.8 1287.7,275.9 1291.2,274.7 1294.7,274.9" fill="none" stroke="#2222D2" stroke-width="5.8" stroke-linejoin="round" stroke-linecap="round"/>
<polyline points="1304.6,233.6 1308.1,233.3 1311.6,234.5 1315.1,235.8 1318.6,236 1322.1,237.4 1325.6,237.1 1329.1,236.4 1332.6,235.9 1336.1,235.3 1339.6,236.7 1343.1,236.5 1346.6,235.5 1350.1,234 1353.6,233.2 1357.1,233.3 1360.6,234.7 1364.1,235 1367.6,235.9 1371.1,236 1374.6,235.3 1378.1,234.6 1381.6,235.5 1385.1,236.9" fill="none" stroke="#FF0505" stroke-width="5.8" stroke-linejoin="round" stroke-linecap="round"/>
<polyline points="1304.6,273.6 1308.1,274.1 1311.6,274.9 1315.1,275.7 1318.6,276.6 1322.1,277.5 1325.6,276.6 1329.1,275.5 1332.6,275.8 1336.1,275.8 1339.6,276.4 1343.1,275.9 1346.6,276.4 1350.1,274.7 1353.6,273 1357.1,273.7 1360.6,274.8 1364.1,274.9 1367.6,275.2 1371.1,275.1 1374.6,275.1 1378.1,275.8 1381.6,275.6 1385.1,277" fill="none" stroke="#2222D2" stroke-width="5.8" stroke-linejoin="round" stroke-linecap="round"/>
<polyline points="1394.4,235.2 1397.9,235.3 1401.4,235.1 1404.9,234.3 1408.4,234.4 1411.9,234.2 1415.4,235.4 1418.9,236.4 1422.4,237.7 1425.9,237.3 1429.4,236.7 1432.9,235.2 1436.4,235.6 1439.9,235.6 1443.4,235.1 1446.9,235.9 1450.4,234.7 1453.9,234.4 1457.4,233.2 1460.9,234 1464.4,236 1467.9,236.4 1471.4,236.6 1474.9,236.9 1478.4,235.1 1481.9,234.6 1482.5,234 1485,229.6 1485.4,229.4 1487,231.1 1488.9,234.6 1489.5,234.8 1492.4,237.4 1495.9,236.7 1499.4,234.2 1502.9,234 1506.4,234.4 1509.9,234.6 1513.4,235.7 1516.9,235.1" fill="none" stroke="#FF0505" stroke-width="5.8" stroke-linejoin="round" stroke-linecap="round"/>
<polyline points="1394.4,273.6 1397.9,273.9 1401.4,274.5 1404.9,274.8 1408.4,275.1 1411.9,274.6 1415.4,274.5 1418.9,275.3 1422.4,276.1 1425.9,277.9 1429.4,277.3 1432.9,276.7 1436.4,276.1 1439.9,275 1443.4,275.9 1446.9,276.3 1450.4,275.3 1453.9,275.1 1457.4,274.5 1460.9,272.9 1464.4,273.3 1467.9,274.1 1471.4,275.8 1474.9,277.1 1478.4,276.8 1481.9,274.6 1482.5,273.7 1485,269.8 1485.4,268.6 1487,270.2 1488.9,273.5 1489.5,274.2 1492.4,276.3 1495.9,277.6 1499.4,276.3 1502.9,276.3 1506.4,274.1 1509.9,273.3 1513.4,274.7 1516.9,274.3" fill="none" stroke="#2222D2" stroke-width="5.8" stroke-linejoin="round" stroke-linecap="round"/>
<polyline points="1530,237.4 1533.5,238.2 1537,237.2 1540.5,236 1544,234.8 1547.5,234.5 1551,234.2 1554.5,234.9 1558,235.8 1561.5,234.8 1565,233.4 1568.5,233.2 1572,235 1575.5,235.2 1579,236.3 1582.5,237.5 1586,236 1589.5,236.2 1593,235.6 1596.5,235.7 1600,236.1 1603.5,236.8 1607,236.3 1610.5,234.5 1614,233 1617.5,233.8 1621,233.7" fill="none" stroke="#FF0505" stroke-width="5.8" stroke-linejoin="round" stroke-linecap="round"/>
<polyline points="1530,275 1533.5,274.4 1537,275.5 1540.5,275.7 1544,275.2 1547.5,274.6 1551,274 1554.5,275.4 1558,276.2 1561.5,277.3 1565,276.8 1568.5,276.5 1572,276.2 1575.5,275.3 1579,275.9 1582.5,276.7 1586,276.4 1589.5,275 1593,274.1 1596.5,273.2 1600,273.8 1603.5,275.5 1607,276.6 1610.5,276.2 1614,275.9 1617.5,275.8 1621,275.2" fill="none" stroke="#2222D2" stroke-width="5.8" stroke-linejoin="round" stroke-linecap="round"/>
<polyline points="1636.6,226.8 1640.1,226.4 1643.6,235.4 1647.1,235.6 1650.6,236.7 1654.1,237 1657.6,237.6 1661.1,236.4 1664.6,235.3 1668.1,234.3 1671.6,234 1675.1,234.7 1678.6,234.8 1682.1,235.2 1685.6,234.3 1689.1,233.8 1692.6,234.2 1696.1,235.7 1699.6,236.9 1703.1,237.8 1706.6,237.4 1710.1,236.3" fill="none" stroke="#FF0505" stroke-width="5.8" stroke-linejoin="round" stroke-linecap="round"/>
<polyline points="1636.6,264.8 1640.1,265.2 1643.6,275.3 1647.1,275 1650.6,275.9 1654.1,275.1 1657.6,274.9 1661.1,275.8 1664.6,276.6 1668.1,277.8 1671.6,278.2 1675.1,276.6 1678.6,275.8 1682.1,275.1 1685.6,275.5 1689.1,275.4 1692.6,275 1696.1,274.9 1699.6,274.2 1703.1,273.1 1706.6,273.8 1710.1,274.3" fill="none" stroke="#2222D2" stroke-width="5.8" stroke-linejoin="round" stroke-linecap="round"/>
<polyline points="1731.3,219.5 1734.8,220.1 1738.3,234.1 1741.8,235 1745.3,235.6 1748.8,235.8 1752.3,235.6 1755.8,235.7 1759.3,235.3 1762.8,237.3 1766.3,237.2 1769.8,237.4 1773.3,236 1776.8,235.3 1780.3,234.5 1783.8,234 1787.3,234.4 1790.8,234.6 1794.3,235.1 1797.8,234.6 1801.3,234.6 1804.8,234.8 1808.3,235.4 1811.8,236.2 1815.3,237.1 1818.8,237.1 1822.3,235.5 1825.8,235.3 1829.3,235.3 1832.8,235.9 1836.3,235.4 1839.8,236 1843.3,234.3 1846.8,233.6 1850.3,233.8 1853.8,234.3 1857.3,234.8 1860.8,236.7 1864.3,236.7" fill="none" stroke="#FF0505" stroke-width="5.8" stroke-linejoin="round" stroke-linecap="round"/>
<polyline points="1731.3,261.8 1734.8,263.3 1738.3,276.2 1741.8,275.4 1745.3,276 1748.8,276.7 1752.3,276.6 1755.8,276.8 1759.3,275.9 1762.8,274.8 1766.3,274.7 1769.8,273.1 1773.3,274.1 1776.8,274.8 1780.3,276 1783.8,274.9 1787.3,274.2 1790.8,274.8 1794.3,276 1797.8,276.7 1801.3,277.7 1804.8,277.4 1808.3,277.2 1811.8,275.6 1815.3,274.3 1818.8,274.7 1822.3,275.6 1825.8,274.8 1829.3,274.3 1832.8,274.1 1836.3,274.2 1839.8,274.4 1843.3,275.3 1846.8,277 1850.3,277.3 1853.8,276.9 1857.3,276.2 1860.8,275.8 1864.3,276" fill="none" stroke="#2222D2" stroke-width="5.8" stroke-linejoin="round" stroke-linecap="round"/>
<polyline points="1874.1,236.9 1877.6,236.1 1881.1,235 1884.6,234.1 1888.1,233.4 1891.6,233.7 1895.1,234.8 1898.6,235.6 1902.1,235.5 1905.6,234.7 1909.1,234.9 1912.6,235.8 1916.1,237.5 1919.6,237 1923.1,237.1 1926.6,236.9 1930.1,234.8 1933.6,234.6 1937.1,234.7 1940.6,235.6 1944.1,235.8 1947.6,234.9 1951.1,234.1 1954.6,234.3" fill="none" stroke="#FF0505" stroke-width="5.8" stroke-linejoin="round" stroke-linecap="round"/>
<polyline points="1874.1,276.1 1877.6,277 1881.1,276.9 1884.6,276.5 1888.1,274.7 1891.6,274.8 1895.1,273.2 1898.6,274.5 1902.1,274.4 1905.6,275.9 1909.1,274.8 1912.6,275 1916.1,274.8 1919.6,275.6 1923.1,276.4 1926.6,278.1 1930.1,277.8 1933.6,276.1 1937.1,274.9 1940.6,275.1 1944.1,274.9 1947.6,275.9 1951.1,275.6 1954.6,274.9" fill="none" stroke="#2222D2" stroke-width="5.8" stroke-linejoin="round" stroke-linecap="round"/>
<polyline points="1968.1,234.2 1971.6,234.7 1975.1,236.9 1978.6,237.4 1982.1,237.2 1985.6,235.7 1989.1,235.9 1992.6,235.5 1996.1,236.8 1999.5,238.3 1999.6,239 2002,242 2003.1,243.6 2004,242.7 2006.5,236.9 2006.6,236.5 2010.1,233.2 2013.6,233.1 2017.1,233.7 2020.6,234.9 2024.1,235.8 2027.6,235.1 2031.1,235.6 2034.6,234.4 2038.1,236.1 2041.6,236.4 2045.1,237.7 2048.6,237.7 2052.1,236.4 2055.6,235.7 2059.1,235.1" fill="none" stroke="#FF0505" stroke-width="5.8" stroke-linejoin="round" stroke-linecap="round"/>
<polyline points="1968.1,275.8 1971.6,274.2 1975.1,274 1978.6,273.6 1982.1,274.8 1985.6,275.1 1989.1,276.7 1992.6,276.4 1996.1,276.3 1999.5,278 1999.6,277.4 2002,281.8 2003.1,284.2 2004,282.2 2006.5,278.5 2006.6,278 2010.1,277.3 2013.6,277 2017.1,275.8 2020.6,274.3 2024.1,273.6 2027.6,274.2 2031.1,275 2034.6,275.1 2038.1,275.3 2041.6,274.9 2045.1,275.2 2048.6,275.8 2052.1,275.6 2055.6,277.6 2059.1,277.2" fill="none" stroke="#2222D2" stroke-width="5.8" stroke-linejoin="round" stroke-linecap="round"/>
<polyline points="2069.1,236.8 2072.6,235.5 2076.1,235.5 2079.6,234.7 2083.1,235.4 2086.6,235 2090.1,234.8 2093.6,234 2097.1,233.8 2100.6,234.2 2104.1,234.5 2107.6,235.7 2111.1,236.7 2114.6,236.3 2118.1,235.8 2121.6,236 2125.1,236.3 2128.6,236.8 2132.1,237.1 2135.6,236 2136.5,234.1 2139,228.2 2139.1,229.1 2141,227.9 2142.6,229.9 2143.5,231.3 2146.1,233 2149.6,233.7 2153.1,235.5 2156.6,236.2" fill="none" stroke="#FF0505" stroke-width="5.8" stroke-linejoin="round" stroke-linecap="round"/>
<polyline points="2069.1,274.5 2072.6,274.5 2076.1,274.8 2079.6,275 2083.1,274.9 2086.6,274.1 2090.1,273.5 2093.6,274.8 2097.1,275.6 2100.6,277.2 2104.1,277.7 2107.6,276.9 2111.1,276 2114.6,276.4 2118.1,275.9 2121.6,276.3 2125.1,276.2 2128.6,275.8 2132.1,274.8 2135.6,273.8 2136.5,271.6 2139,266.7 2139.1,267.7 2141,267.7 2142.6,270.1 2143.5,273 2146.1,275.6 2149.6,275.8 2153.1,275.5 2156.6,275.3" fill="none" stroke="#2222D2" stroke-width="5.8" stroke-linejoin="round" stroke-linecap="round"/>
<polyline points="2166.9,236.6 2170.4,237.4 2173.9,238 2177.4,236.3 2180.9,234.9 2184.4,234.7 2187.9,234.4 2191.4,234.4 2194.9,235.8 2198.4,235.3 2201.9,233.8 2205.4,234.2 2208.9,233.7 2212.4,234.8 2215.9,236.5 2219.4,237.8 2222.9,236.6 2226.4,235.8 2229.9,236 2233.4,235 2236.9,235.8 2240.4,236.6 2243.9,235.4 2247.4,234.9 2250.9,233.2 2254.4,233.1 2257.9,233.5" fill="none" stroke="#FF0505" stroke-width="5.8" stroke-linejoin="round" stroke-linecap="round"/>
<polyline points="2166.9,273.8 2170.4,273.7 2173.9,275.2 2177.4,275.4 2180.9,274.7 2184.4,275 2187.9,274.1 2191.4,274.5 2194.9,276.5 2198.4,277.4 2201.9,277.1 2205.4,277.8 2208.9,275.8 2212.4,274.8 2215.9,275.2 2219.4,275.1 2222.9,275.7 2226.4,275.1 2229.9,275 2233.4,273.4 2236.9,273.6 2240.4,274.9 2243.9,276 2247.4,276.9 2250.9,276.7 2254.4,276.2 2257.9,276.1" fill="none" stroke="#2222D2" stroke-width="5.8" stroke-linejoin="round" stroke-linecap="round"/>
<polyline points="2272.4,234.6 2275.9,236 2279.4,235.2 2282.9,235 2286.4,235.2 2289.9,235.1 2293.4,236 2296.9,237.3 2300.4,237.5 2303.9,236.1 2307.4,234.5 2310.9,234.1 2314.4,233.7 2317.9,235.2 2321.4,235.4 2324.9,234.5 2328.4,234.4 2331.9,233.7 2335.4,234 2337.5,233.7 2338.9,232.1 2340,230.8 2342,231.4 2342.4,231.8 2344.5,236 2345.9,237.7 2349.4,237.8 2352.9,236 2356.4,236.1" fill="none" stroke="#FF0505" stroke-width="5.8" stroke-linejoin="round" stroke-linecap="round"/>
<polyline points="2272.4,274.6 2275.9,275.7 2279.4,275.3 2282.9,275.2 2286.4,275.9 2289.9,275.2 2293.4,276.6 2296.9,276.6 2300.4,278.2 2303.9,276.5 2307.4,275.9 2310.9,275 2314.4,274.9 2317.9,275.2 2321.4,275.6 2324.9,275.3 2328.4,275.2 2331.9,273.9 2335.4,274.4 2337.5,273.3 2338.9,270.9 2340,269.9 2342,271.2 2342.4,271.9 2344.5,275.3 2345.9,277.8 2349.4,277.8 2352.9,277.3 2356.4,276.5" fill="none" stroke="#2222D2" stroke-width="5.8" stroke-linejoin="round" stroke-linecap="round"/>
<polyline points="2368.1,233.9 2371.6,233.3 2375.1,235.3 2378.6,235.6 2382.1,236.1 2385.6,236.5 2389.1,235.7 2392.6,235.8 2396.1,235.8 2399.6,236.2 2403.1,236.7 2406.6,236.8 2410.1,235.6 2413.6,234.7 2417.1,233.4 2420.6,233.9 2424.1,234.3 2427.6,235.6 2431.1,235.7 2434.6,235.4 2438.1,234.8 2441.6,235.4 2445.1,235.9 2448.6,236.9" fill="none" stroke="#FF0505" stroke-width="5.8" stroke-linejoin="round" stroke-linecap="round"/>
<polyline points="2368.1,275.4 2371.6,275.9 2375.1,273.9 2378.6,273.4 2382.1,273.4 2385.6,274.6 2389.1,275 2392.6,276.2 2396.1,276.9 2399.6,275.7 2403.1,275.4 2406.6,275.8 2410.1,276.6 2413.6,277.3 2417.1,276.4 2420.6,276.5 2424.1,273.9 2427.6,274 2431.1,274 2434.6,275.1 2438.1,275.6 2441.6,275.1 2445.1,274.6 2448.6,275.3" fill="none" stroke="#2222D2" stroke-width="5.8" stroke-linejoin="round" stroke-linecap="round"/>
</g>
<rect x="280.4" y="96.8" width="2178.6" height="658.4" fill="none" stroke="#333" stroke-width="2"/>
<line x1="264.1" x2="280.4" y1="754" y2="754" stroke="#333" stroke-width="2"/>
<text x="250.4" y="776.5" font-size="60" text-anchor="end">0.0</text>
<line x1="264.1" x2="280.4" y1="622.6" y2="622.6" stroke="#333" stroke-width="2"/>
<text x="250.4" y="645.1" font-size="60" text-anchor="end">0.2</text>
<line x1="264.1" x2="280.4" y1="491.1" y2="491.1" stroke="#333" stroke-width="2"/>
<text x="250.4" y="513.6" font-size="60" text-anchor="end">0.4</text>
<line x1="264.1" x2="280.4" y1="359.7" y2="359.7" stroke="#333" stroke-width="2"/>
<text x="250.4" y="382.2" font-size="60" text-anchor="end">0.6</text>
<line x1="264.1" x2="280.4" y1="228.2" y2="228.2" stroke="#333" stroke-width="2"/>
<text x="250.4" y="250.7" font-size="60" text-anchor="end">0.8</text>
<line x1="264.1" x2="280.4" y1="96.8" y2="96.8" stroke="#333" stroke-width="2"/>
<text x="250.4" y="121.8" font-size="60" text-anchor="end">1.0</text>
<line x1="350.8" x2="350.8" y1="755.2" y2="771.2" stroke="#333" stroke-width="2"/>
<line x1="470.5" x2="470.5" y1="755.2" y2="771.2" stroke="#333" stroke-width="2"/>
<line x1="570.8" x2="570.8" y1="755.2" y2="771.2" stroke="#333" stroke-width="2"/>
<line x1="720.5" x2="720.5" y1="755.2" y2="771.2" stroke="#333" stroke-width="2"/>
<line x1="876.2" x2="876.2" y1="755.2" y2="771.2" stroke="#333" stroke-width="2"/>
<line x1="988" x2="988" y1="755.2" y2="771.2" stroke="#333" stroke-width="2"/>
<line x1="1082.5" x2="1082.5" y1="755.2" y2="771.2" stroke="#333" stroke-width="2"/>
<line x1="1164.6" x2="1164.6" y1="755.2" y2="771.2" stroke="#333" stroke-width="2"/>
<line x1="1252.5" x2="1252.5" y1="755.2" y2="771.2" stroke="#333" stroke-width="2"/>
<line x1="1345" x2="1345" y1="755.2" y2="771.2" stroke="#333" stroke-width="2"/>
<line x1="1456.5" x2="1456.5" y1="755.2" y2="771.2" stroke="#333" stroke-width="2"/>
<line x1="1575.9" x2="1575.9" y1="755.2" y2="771.2" stroke="#333" stroke-width="2"/>
<line x1="1671.3" x2="1671.3" y1="755.2" y2="771.2" stroke="#333" stroke-width="2"/>
<line x1="1792.2" x2="1792.2" y1="755.2" y2="771.2" stroke="#333" stroke-width="2"/>
<line x1="1915.6" x2="1915.6" y1="755.2" y2="771.2" stroke="#333" stroke-width="2"/>
<line x1="2013" x2="2013" y1="755.2" y2="771.2" stroke="#333" stroke-width="2"/>
<line x1="2112.7" x2="2112.7" y1="755.2" y2="771.2" stroke="#333" stroke-width="2"/>
<line x1="2213.9" x2="2213.9" y1="755.2" y2="771.2" stroke="#333" stroke-width="2"/>
<line x1="2315.1" x2="2315.1" y1="755.2" y2="771.2" stroke="#333" stroke-width="2"/>
<line x1="2410.9" x2="2410.9" y1="755.2" y2="771.2" stroke="#333" stroke-width="2"/>
<text x="303" y="68.7" font-size="60.5" font-weight="bold">Wt bulk</text>
<text transform="translate(72 425.4) rotate(-90)" font-size="71" text-anchor="middle">SNP-index</text>
</g>
<g>
<rect x="281.8" y="866.6" width="137.2" height="658.8" fill="#E5E5E5"/>
<rect x="521.8" y="866.6" width="98.8" height="658.8" fill="#E5E5E5"/>
<rect x="822.3" y="866.6" width="110.8" height="658.8" fill="#E5E5E5"/>
<rect x="1041.4" y="866.6" width="83.3" height="658.8" fill="#E5E5E5"/>
<rect x="1204.6" y="866.6" width="95.8" height="658.8" fill="#E5E5E5"/>
<rect x="1389.2" y="866.6" width="134.7" height="658.8" fill="#E5E5E5"/>
<rect x="1627.3" y="866.6" width="89.3" height="658.8" fill="#E5E5E5"/>
<rect x="1867.3" y="866.6" width="96.3" height="658.8" fill="#E5E5E5"/>
<rect x="2062.4" y="866.6" width="99.8" height="658.8" fill="#E5E5E5"/>
<rect x="2265.6" y="866.6" width="97.8" height="658.8" fill="#E5E5E5"/>
<clipPath id="cp1"><rect x="280.4" y="866.1" width="2179.4" height="659.8"/></clipPath>
<g clip-path="url(#cp1)">
<path d="M285.5 966.8V1413.3M287.7 939.5V1336.6M290.3 963.9V1369.6M293 966V1356.1M295.4 968.5V1344.1M298 963.9V1396.7M298 963.3V1359.1M301 954.5V1388.2M303.3 974.5V1431.8M305.5 975.6V1365.5M308.2 975.5V1362.3M315.3 968.3V1419.7M320.2 967.6V1382.4M322.9 965.9V1393.9M325.1 1006.9V1382.2M326.2 1001.9V1382.5M329.2 990.6V1389.5M331.3 985.7V1386.9M333.8 976.5V1446.4M335.1 962.2V1399.8M337.8 978.1V1426.5M340.1 981.7V1442.8M342.5 999V1400.7M344.9 997.8V1127.5M345.9 994.6V1001.8M348.1 997.5V1001.5M351.5 997.8V1003.3M353.6 989.9V999.6M356.5 988.1V1349.2M358.4 989.6V1350.8M361.7 926.5V1380.7M364.2 961.1V1372.2M367 948.8V1348.1M367.1 947.4V1352.9M369.4 963V1365.8M371.8 959V1373.9M374.9 971.5V1373.2M375.4 962.2V1404.6M377.8 973.1V1370.8M380.8 969.3V1393.2M382.9 955V1386.6M386.3 949.2V1385.5M388.2 936.9V1390.2M391.3 929.8V1409.7M391.8 928.1V1403.7M394.5 934.9V1402.2M396.6 947.8V1414.8M399.5 919.6V1394M401.4 943.9V1388.3M406.7 950.4V1421.2M409 917.5V1397.9M411.2 959.7V1366.2M417 954V1375.9M347.1 1381.2V1434.7M349.7 1376.5V1427.4M352.3 1382.2V1429.4M525.5 935.3V1327.5M527.5 942.3V1320.1M530 927.5V1318.6M532.6 931.7V1346.1M534.6 982.7V1338M537 1012.6V1249.7M537.7 1009V1195.3M539.9 1036.7V1161.1M542.6 1054.6V1158.4M545.4 1053.3V1132.5M548.3 1094.5V1223M547.9 1065.5V1148M550.2 1077.2V1182.9M553.2 1093.2V1195.6M556.1 1067.9V1235.6M558.1 1058.6V1324.2M561.3 981.2V1284.9M561.9 1071.3V1438.8M564.3 1077.8V1342.8M567.2 1081.7V1374.9M569.7 1023.8V1416.2M572.1 1081.9V1430.7M572.8 1078.9V1428.8M575.3 1071.3V1447.1M577.4 1064.3V1452.9M580.3 1061V1443.3M582.9 1026.9V1459.6M585.5 1044.1V1490.6M586.7 1011.6V1466.5M589.7 1026.3V1465.8M591.7 1020.8V1459.3M594.1 996.5V1465.4M597 995.2V1475.1M599.9 985.1V1468M600.3 988.5V1471.5M603.3 980.8V1475.9M605.9 974.2V1469.5M608.7 986.9V1465.2M611.5 985.9V1469.3M613.4 978.3V1469.4M616.3 980.7V1461.2M619 984.7V1458.8M823.2 960V1351.6M825.3 944V1344.9M830.2 937.9V1351.4M833.5 929.5V1368.4M835.2 915.5V1389.4M838 923.3V1360.3M840.9 907.9V1464.7M843.6 912.3V1406.5M845.8 904.7V1368.4M849.8 896.7V1390.3M852.2 901.6V1433.8M854.4 901.8V1407M860 900.4V1436.2M861 898.7V1349.3M863.4 903.7V1395.1M866.6 910.9V1377.4M871.6 926.4V1361.4M874.1 923.3V1376.2M874.8 931.4V1372.3M877.7 930V1397.9M879.9 949.1V1406.2M883.3 959.9V1412M885.7 967.7V1422.1M887.8 974V1448.6M889.8 981.4V1429.4M891.8 991.9V1438.9M894.7 973.6V1467.8M897.4 972.8V1459.4M908.9 984.2V1379M911.5 987.5V1469.9M914.1 986.7V1373.6M916.9 994.2V1398.4M919.4 1026.8V1383.1M920.9 995.1V1382.1M923.6 1008.2V1382.9M925.8 1019.9V1374.9M928.3 1034V1410.8M931 983.6V1473.1M1042.3 1070.7V1304.5M1044.2 1076.4V1318.5M1047 1057.4V1303.5M1049.3 1075.6V1319.3M1052.7 1066.4V1323.1M1055 1066.3V1327.8M1057.4 1065.2V1351.7M1060.2 1062.3V1344.3M1065.4 1051.8V1364.6M1067.6 1040.9V1357.4M1068.7 1067.2V1366.1M1071.3 1067V1372.7M1074.1 1070.7V1388.3M1076.4 1072.3V1389.6M1079.7 1056V1417.5M1081.7 1066.3V1410.5M1082.7 1056V1421.3M1085.3 1009.7V1413.4M1088.2 1005.4V1404.6M1090.5 1038V1434.7M1096.9 999.3V1448.8M1100.1 979V1453.4M1101.8 959.9V1449.3M1104.7 933.8V1452.6M1107.7 909.9V1456M1107.6 913V1462.9M1110.4 903V1464.9M1113 900V1466M1114.7 892V1453.8M1116.7 922.1V1487.7M1120 952.9V1449.4M1122.3 969.3V1457.9M1207.4 948.5V1323.4M1210.7 949.5V1338.5M1213 933V1347.3M1215.5 935.4V1346.4M1216.5 947.4V1326.7M1219.4 940.8V1343.8M1221.7 940.8V1337.2M1224.2 939.4V1330.3M1227.6 925.6V1361.8M1229.8 921.5V1347.1M1230.7 916.7V1368.7M1233.2 932.9V1349.2M1239 937V1346.6M1241.6 942.7V1352.9M1243.4 946.7V1351.4M1244.4 916.8V1386.4M1247.3 916V1408.7M1249.6 913.7V1375.1M1253.1 898.7V1364.1M1254.1 894.5V1399.3M1256.7 897.3V1375.4M1258.6 899.4V1375.6M1261.7 903.1V1353.5M1264.2 900.1V1367.6M1272.6 1028V1365M1275.3 1029.5V1392.2M1277.9 1032.9V1372.9M1281.3 1001.2V1386.2M1283.6 1022.6V1434.2M1286 1005.1V1376.3M1287.5 1017.8V1384M1289.6 981.5V1409.8M1292.1 969.6V1392.5M1295 1031.6V1390.4M1297.6 1000.8V1403.7M1389.5 985V1361.4M1392.2 968.7V1347.7M1394.9 978.6V1320.1M1397.5 940.4V1378.9M1400 968.2V1327M1402.4 944.7V1354.6M1403 943.4V1325M1406 974.6V1360.4M1408.4 951.9V1331.4M1410.6 991.6V1343.2M1413.4 992.8V1330M1416.1 986.1V1346.6M1418.6 998.8V1349M1423.2 1001.8V1355.4M1426.4 1007.7V1368.5M1428.4 1005.5V1402.7M1431.6 957.7V1374.3M1433.5 996.3V1354.7M1435.2 998.8V1370.1M1437.6 969.2V1338.6M1440.5 962.3V1376M1442.2 938.6V1366.1M1443.4 933.3V1344.3M1446 928.1V1350.7M1448.3 919.8V1355.5M1451.9 920.2V1344.4M1453.7 911.3V1347.1M1456 903.7V1413.7M1458.3 911.4V1344.8M1461 940.1V1359.2M1462.5 951.4V1386.7M1465.3 946.5V1369.9M1468.3 944.3V1365.3M1470.6 928.3V1354M1473.8 934.7V1386.9M1476 930.3V1356.6M1477.5 908.5V1405.2M1482.5 939.5V1443.8M1482.5 988.6V1385.4M1484.9 977.3V1410.7M1487.3 982.4V1355.4M1490 988.4V1362.3M1492.9 963.3V1371.3M1495.2 1001.8V1356.8M1498.3 1011.9V1358.3M1498.6 990.9V1352.8M1501.1 977.6V1358.8M1503 997.8V1358.2M1505.8 1000.7V1378.9M1508.8 1005.8V1367.1M1510.9 1016.8V1398.5M1512.5 997.7V1409M1514.4 991.7V1389.9M1517.3 1017.6V1398.1M1520.2 1000.8V1367.3M1671.2 1138.9V1358.8M1672.9 1115.7V1389.6M1676 1033.1V1383.6M1677.4 1016V1434.2M1680 1035.6V1388.1M1682.5 1026.8V1397.8M1684.5 1014.9V1402.4M1687.8 1000.8V1439.7M1690 986.2V1441.9M1692.2 959.8V1408M1695 963V1406.7M1694.9 964.7V1399.4M1697.7 971.1V1416.2M1700.3 973V1405.3M1702.9 920.8V1428.2M1705.8 955.7V1454.6M1706 940.5V1404.9M1708.9 965.6V1410.6M1711.5 970.8V1403.7M1714.1 964.5V1426.6M1867.9 1040.9V1382.3M1870.7 1045.2V1358.7M1872.8 1050.3V1319.9M1875.4 1032.7V1315.9M1878.4 1051.8V1324.6M1880.7 1041.6V1338.4M1881.7 1051.2V1321.2M1884.7 1061.4V1342.6M1890.2 1063.1V1368M1892.1 1065.9V1395M1895.1 1043.9V1441.2M1899 1064.6V1438.4M1901.4 1066.9V1437.6M1903.7 1063V1449.8M1906.5 1070.4V1456.9M1913.9 1062V1487.8M1914 1061.4V1492M1916 1062.6V1481.4M1918.9 1062.4V1480M1921.6 1061.6V1483M1924.3 1062V1484.8M1927 1062V1480.2M1928.7 1062.2V1481.7M1932.2 1062.6V1482.2M1934 1061.2V1481.8M1935 1061.3V1486.7M1937.2 1062.4V1491.5M1940 1062.4V1478.5M1942.1 1062.5V1482.4M1944.6 1061.6V1485.1M1948.1 1062.3V1483.7M1950.2 1061.9V1485.3M1951.9 1062.2V1477.1M1954.9 1063.7V1474M1960.4 1066.3V1465M2063.1 1052.4V1287M2066.1 1055V1302.9M2067.9 1034.2V1301.3M2070.9 1041.1V1307.5M2073.5 1037.9V1315.1M2077 1041.9V1367M2079.7 1006.5V1340.3M2082 990.6V1348.9M2085.1 961.1V1348.3M2085.7 933.9V1422.7M2088.4 933.4V1409.4M2090.8 941.9V1396M2093.5 938.4V1391M2096.8 929.9V1397.3M2098.6 947.4V1393.6M2101.4 965.3V1417.9M2104.4 974.7V1393.3M2107.3 1000.3V1373M2118.3 936.4V1388.9M2120.9 918.5V1412.6M2124.3 909.6V1413.1M2127.7 909.9V1399.2M2130 918.4V1427.8M2134.8 932.2V1386.5M2134.7 926.2V1390.6M2137.5 930.9V1408.3M2140.7 949V1377.3M2141.9 965.9V1368M2144.7 941.1V1350M2147.2 946.9V1423.8M2149.9 925.4V1353.3M2153 966.3V1337.5M2155 969.7V1354.7M2157.5 978.2V1316M2160 962.2V1363.2M2266.6 988.3V1396.2M2268.6 957.1V1388.9M2271.7 946.7V1386.5M2274.2 922.4V1422.8M2275.9 912.4V1442.8M2278.5 925.5V1392.7M2281.2 930.1V1402.5M2283.4 944.5V1416.1M2284.3 944.8V1378.9M2287.2 987.7V1368.7M2290.3 1017.4V1350.5M2291.8 1045.6V1345.7M2294.9 1023.1V1326M2297 1033.8V1354.4M2299.6 1002.6V1317M2301.8 1016.6V1319.2M2305 1019.3V1315.8M2307.6 1021.2V1313.3M2307.2 1021.4V1327.5M2310.5 988.7V1341.2M2310.8 957.2V1307.1M2313.4 967.9V1309.8M2316.8 973.2V1343.8M2318.9 993.2V1308.9M2321.5 989V1311.3M2324.6 985.7V1372.3M2325.4 1006.1V1331M2328.1 1003.4V1332.2M2330.7 991V1298.8M2333.2 997.3V1322.2M2335.4 991.8V1300.4M2338.2 994.8V1330.7M2341 1013.3V1285.6M2342.6 1011V1280.4M2345.7 937.9V1294.7M2345.8 909.6V1299.7M2349.3 917.9V1288.9M2351.8 923.6V1291.6M2353.7 921.3V1286.6M2355.1 919.9V1306M2357.4 956V1256M2360.3 1001V1248.8" stroke="#FF8205" stroke-width="4" stroke-linecap="round" fill="none"/>
<path d="M285.5 963.8V954.3M285.5 1416.3V1430.5M287.7 936.5V925M287.7 1339.6V1394.4M290.3 960.9V935.1M290.3 1372.6V1416.9M293 963V945.1M293 1359.1V1412.7M295.4 965.5V930.6M295.4 1347.1V1434.3M298 960.9V922.6M298 1399.7V1437.2M298 960.3V929.9M298 1362.1V1397.5M301 951.5V937.3M301 1391.2V1452.2M303.3 971.5V955.6M303.3 1434.8V1475.2M305.5 972.6V962.1M305.5 1368.5V1405.8M308.2 972.5V961.2M308.2 1365.3V1411.9M311.5 964.4V959.6M311.5 1371.1V1439.6M312.5 964V957.1M312.5 1436.1V1466.3M315.3 965.3V958.9M315.3 1422.7V1464.7M317.4 987V974.8M317.4 1380.2V1408.4M320.2 964.6V965.6M320.2 1385.4V1402.1M322.9 1396.9V1433M325.1 1003.9V988.4M325.1 1385.2V1413M326.2 998.9V980.4M326.2 1385.5V1451.7M329.2 987.6V967M329.2 1392.5V1419.6M331.3 982.7V973.7M331.3 1389.9V1418.1M333.8 973.5V952.5M333.8 1449.4V1460M335.1 959.2V943.6M335.1 1402.8V1424.4M337.8 975.1V964.1M337.8 1429.5V1451.9M340.1 978.7V973.5M340.1 1445.8V1451.5M342.5 996V988.6M342.5 1403.7V1430.5M344.9 994.8V988.8M344.9 1130.5V1152.7M345.9 991.6V978.1M345.9 1004.8V1008.1M348.1 994.5V988.2M348.1 1004.5V1003.5M351.5 994.8V988.8M351.5 1006.3V1004.7M353.6 986.9V986.4M353.6 1002.6V1002.4M356.5 985.1V978.6M356.5 1352.2V1373.4M358.4 986.6V977.8M358.4 1353.8V1384.5M361.7 923.5V922.6M361.7 1383.7V1401.2M364.2 958.1V947.6M364.2 1375.2V1396.9M367 945.8V939.4M367 1351.1V1372M367.1 944.4V915.2M367.1 1355.9V1383M369.4 960V931.5M369.4 1368.8V1404.2M371.8 956V947.9M371.8 1376.9V1403.8M374.9 968.5V960.1M374.9 1376.2V1396.9M375.4 959.2V945.9M375.4 1407.6V1433.3M377.8 970.1V955M377.8 1373.8V1386.4M380.8 966.3V949.4M380.8 1396.2V1421.9M382.9 952V939.5M382.9 1389.6V1421.8M386.3 946.2V933.3M386.3 1388.5V1421.6M388.2 933.9V923.8M388.2 1393.2V1423.3M391.3 926.8V915.8M391.3 1412.7V1432.2M391.8 925.1V912.8M391.8 1406.7V1419.4M394.5 931.9V910.2M394.5 1405.2V1462.2M396.6 944.8V919.2M396.6 1417.8V1463.3M399.5 916.6V915.1M399.5 1397V1455.1M401.4 940.9V932.8M401.4 1391.3V1409.5M403.4 960.5V949.7M403.4 1395.1V1417.3M406.7 947.4V940.1M406.7 1424.2V1451M409 1400.9V1443.1M411.2 956.7V945.1M411.2 1369.2V1405.8M414.1 951V946.9M414.1 1364.2V1385.6M417 951V940.8M417 1378.9V1395.8M522.4 933.4V927.9M522.4 1330.7V1346.5M525.5 932.3V929.1M525.5 1330.5V1342.8M527.5 939.3V927.9M527.5 1323.1V1342.7M530 924.5V916.5M530 1321.6V1361.7M532.6 928.7V913.8M532.6 1349.1V1368.3M534.6 979.7V961.8M534.6 1341V1355.1M537 1009.6V991.5M537 1252.7V1313.1M537.7 1006V985.7M537.7 1198.3V1265.1M539.9 1033.7V1020.9M539.9 1164.1V1232.3M542.6 1051.6V1030.5M542.6 1161.4V1205.7M545.4 1050.3V1017M545.4 1135.5V1217.5M548.3 1091.5V1039.4M548.3 1226V1257.5M547.9 1062.5V1044M547.9 1151V1178.6M550.2 1074.2V1056.9M550.2 1185.9V1211.5M553.2 1090.2V1053.8M553.2 1198.6V1219.6M556.1 1064.9V1037.6M556.1 1238.6V1281.3M558.1 1055.6V1026.9M558.1 1327.2V1405.4M561.3 978.2V975.9M561.3 1287.9V1356.6M561.9 1068.3V1025.2M561.9 1441.8V1464.7M564.3 1074.8V1009.4M564.3 1345.8V1439.7M567.2 1078.7V1066.6M567.2 1377.9V1405.6M569.7 1020.8V1013.2M569.7 1419.2V1439.3M572.1 1078.9V1062.5M572.1 1433.7V1461.8M572.8 1075.9V1063M572.8 1431.8V1475.9M575.3 1068.3V1028.2M575.3 1450.1V1481M577.4 1061.3V1029.7M577.4 1455.9V1469.6M580.3 1058V1037.6M580.3 1446.3V1462.4M582.9 1023.9V996.9M582.9 1462.6V1481.8M585.5 1041.1V994.2M585.5 1493.6V1496M586.7 1008.6V981.5M586.7 1469.5V1480.6M589.7 1023.3V1008.8M589.7 1468.8V1470.8M591.7 1017.8V993.2M591.7 1462.3V1469.9M594.1 993.5V980.6M594.1 1468.4V1476.8M597 992.2V975M597 1478.1V1478.4M599.9 982.1V973.3M599.9 1471V1474.9M600.3 985.5V962.4M600.3 1474.5V1480.7M603.3 977.8V971M603.3 1478.9V1479M605.9 971.2V961.4M605.9 1472.5V1478.3M608.7 983.9V956.9M608.7 1468.2V1472.9M611.5 982.9V975.4M611.5 1472.3V1474.9M613.4 975.3V967.1M613.4 1472.4V1476.3M616.3 977.7V946.6M616.3 1464.2V1471.6M619 981.7V971.2M619 1461.8V1471.8M823.2 957V934.4M823.2 1354.6V1390.8M825.3 941V926.8M825.3 1347.9V1387.2M828 937.8V927.4M828 1368.1V1403.9M830.2 934.9V929.1M830.2 1354.4V1370.6M833.5 926.5V924.5M833.5 1371.4V1394.3M835.2 912.5V908M835.2 1392.4V1410.8M838 920.3V911.2M838 1363.3V1422.6M840.9 904.9V901.3M840.9 1467.7V1473.3M843.6 909.3V903.4M843.6 1409.5V1437.4M845.8 901.7V900.1M845.8 1371.4V1404.4M847.4 900.1V895.6M847.4 1382.2V1417.1M849.8 893.7V894.9M849.8 1393.3V1460.7M852.2 898.6V895.3M852.2 1436.8V1463.7M854.4 898.8V894.4M854.4 1410V1451.5M857 894.4V893.1M857 1359.9V1418.2M860 897.4V896.9M860 1439.2V1462.7M861 895.7V895.7M861 1352.3V1382.2M863.4 900.7V901.8M863.4 1398.1V1426.6M866.6 907.9V907.7M866.6 1380.4V1392.1M868.4 907.5V905.6M868.4 1402.9V1412.3M871.6 923.4V907.5M871.6 1364.4V1389.8M874.1 920.3V907.3M874.1 1379.2V1408.3M874.8 928.4V920.9M874.8 1375.3V1439.3M877.7 927V918.3M877.7 1400.9V1424.9M879.9 946.1V929.5M879.9 1409.2V1454M883.3 956.9V928.5M883.3 1415V1457.9M885.7 964.7V943.6M885.7 1425.1V1443.1M887.8 971V962.7M887.8 1451.6V1471M889.8 978.4V971.6M889.8 1432.4V1450.1M891.8 988.9V969.1M891.8 1441.9V1469.4M894.7 970.6V957.1M894.7 1470.8V1484.6M897.4 969.8V952.8M897.4 1462.4V1481.8M908.9 981.2V952M908.9 1382V1419.4M911.5 984.5V950.2M911.5 1472.9V1478.1M914.1 983.7V943.6M914.1 1376.6V1416M916.9 991.2V967.1M916.9 1401.4V1437.8M919.4 1023.8V977.6M919.4 1386.1V1452.8M920.9 992.1V961.8M920.9 1385.1V1438.1M923.6 1005.2V935.1M923.6 1385.9V1460M925.8 1016.9V951.4M925.8 1377.9V1432.3M928.3 1031V946.7M928.3 1413.8V1446.5M931 980.6V962.2M931 1476.1V1487M1042.3 1067.7V1047.7M1042.3 1307.5V1324.9M1044.2 1073.4V1046.1M1044.2 1321.5V1337.8M1047 1054.4V1026.1M1047 1306.5V1334.7M1049.3 1072.6V1064M1049.3 1322.3V1329.4M1052.7 1063.4V1044.3M1052.7 1326.1V1331.3M1055 1063.3V1058.4M1055 1330.8V1343.8M1057.4 1062.2V1020.4M1057.4 1354.7V1366.9M1060.2 1059.3V1048.3M1060.2 1347.3V1363.6M1062.3 1072.2V1060.1M1062.3 1351.7V1369.4M1065.4 1048.8V1035.3M1065.4 1367.6V1378.9M1067.6 1037.9V1011.1M1067.6 1360.4V1381M1068.7 1064.2V1036.7M1068.7 1369.1V1383.2M1071.3 1064V1036.8M1071.3 1375.7V1402.9M1074.1 1067.7V1055M1074.1 1391.3V1405.9M1076.4 1069.3V1052.1M1076.4 1392.6V1411.6M1079.7 1053V1031.4M1079.7 1420.5V1437.2M1081.7 1063.3V1040M1081.7 1413.5V1421.3M1082.7 1053V1030.7M1082.7 1424.3V1432.2M1085.3 1006.7V993.4M1085.3 1416.4V1437M1088.2 1002.4V998.5M1088.2 1407.6V1431.5M1090.5 1035V1018.7M1090.5 1437.7V1446.6M1096.9 996.3V984M1096.9 1451.8V1461.2M1100.1 976V961.2M1100.1 1456.4V1466.3M1101.8 956.9V951.9M1101.8 1452.3V1455.1M1104.7 930.8V928M1104.7 1455.6V1461.3M1107.7 906.9V905.6M1107.7 1459V1469.5M1107.6 910V905.2M1107.6 1465.9V1472M1110.4 900V895.1M1110.4 1467.9V1480.4M1113 897V897.3M1113 1469V1476.1M1114.7 889V888.8M1114.7 1456.8V1465.6M1116.7 919.1V913.9M1116.7 1490.7V1491.8M1120 949.9V940.3M1120 1452.4V1465.6M1122.3 966.3V950.5M1122.3 1460.9V1485.2M1205.4 920.7V918.4M1205.4 1325.5V1332.7M1207.4 945.5V936.3M1207.4 1326.4V1332.4M1210.7 946.5V939M1210.7 1341.5V1344.7M1213 930V915M1213 1350.3V1356.6M1215.5 932.4V921.5M1215.5 1349.4V1363.1M1216.5 944.4V930.3M1216.5 1329.7V1355.8M1219.4 937.8V928.9M1219.4 1346.8V1364.7M1221.7 937.8V912.3M1221.7 1340.2V1380.6M1224.2 936.4V912.2M1224.2 1333.3V1355.1M1227.6 922.6V909.6M1227.6 1364.8V1390.2M1229.8 918.5V909.8M1229.8 1350.1V1371M1230.7 913.7V911M1230.7 1371.7V1390.1M1233.2 929.9V909.7M1233.2 1352.2V1376.8M1235.5 912.6V909.9M1235.5 1340.3V1368.3M1239 934V928.1M1239 1349.6V1355.9M1241.6 939.7V930M1241.6 1355.9V1376M1243.4 943.7V934.2M1243.4 1354.4V1365.2M1244.4 913.8V908.5M1244.4 1389.4V1398.3M1247.3 913V902M1247.3 1411.7V1421.6M1249.6 910.7V902.8M1249.6 1378.1V1403.1M1253.1 895.7V892.2M1253.1 1367.1V1389.1M1254.1 891.5V886.7M1254.1 1402.3V1409M1256.7 894.3V887.9M1256.7 1378.4V1404.9M1258.6 896.4V894.1M1258.6 1378.6V1385.7M1261.7 900.1V896.6M1261.7 1356.5V1384.1M1264.2 897.1V893.6M1264.2 1370.6V1402.9M1272.6 1025V1011M1272.6 1368V1381.6M1275.3 1026.5V970.7M1275.3 1395.2V1412M1277.9 1029.9V963.4M1277.9 1375.9V1413M1281.3 998.2V960M1281.3 1389.2V1408.4M1283.6 1019.6V976.2M1283.6 1437.2V1438.8M1286 1002.1V959.5M1286 1379.3V1392.1M1287.5 1014.8V970.5M1287.5 1387V1413.1M1289.6 978.5V966.5M1289.6 1412.8V1420.1M1292.1 966.6V951.9M1292.1 1395.5V1406.4M1295 1028.6V968.6M1295 1393.4V1422.7M1297.6 997.8V968.7M1297.6 1406.7V1438.5M1389.5 982V954.7M1389.5 1364.4V1378.5M1392.2 965.7V954.9M1392.2 1350.7V1382.1M1394.9 975.6V955.9M1394.9 1323.1V1364.9M1397.5 937.4V931.8M1397.5 1381.9V1390.4M1400 965.2V956.8M1400 1330V1348.3M1402.4 941.7V935.4M1402.4 1357.6V1374M1403 940.4V937.8M1403 1328V1344M1406 971.6V952.8M1406 1363.4V1384.1M1408.4 948.9V940.8M1408.4 1334.4V1360.3M1410.6 988.6V974M1410.6 1346.2V1367.4M1413.4 989.8V977.8M1413.4 1333V1353.9M1416.1 983.1V975.6M1416.1 1349.6V1383.3M1418.6 995.8V977.9M1418.6 1352V1380.8M1420.3 974.8V960.3M1420.3 1402.7V1430.6M1423.2 998.8V970.3M1423.2 1358.4V1406.2M1426.4 1004.7V990.5M1426.4 1371.5V1402.4M1428.4 1002.5V967.7M1428.4 1405.7V1437.4M1431.6 954.7V944.3M1431.6 1377.3V1400.9M1433.5 993.3V965.5M1433.5 1357.7V1391.7M1435.2 995.8V975.9M1435.2 1373.1V1397.2M1437.6 966.2V953.5M1437.6 1341.6V1375.5M1440.5 959.3V933.8M1440.5 1379V1402.6M1442.2 935.6V930.2M1442.2 1369.1V1395.9M1443.4 930.3V920M1443.4 1347.3V1394.7M1446 925.1V918M1446 1353.7V1375M1448.3 916.8V910.9M1448.3 1358.5V1376.8M1451.9 917.2V914.3M1451.9 1347.4V1383.9M1453.7 908.3V900.3M1453.7 1350.1V1435.6M1456 900.7V898M1456 1416.7V1455.7M1458.3 908.4V906M1458.3 1347.8V1412.1M1461 937.1V928.5M1461 1362.2V1405.8M1462.5 948.4V943.8M1462.5 1389.7V1406.9M1465.3 943.5V935.4M1465.3 1372.9V1403.3M1468.3 941.3V934.5M1468.3 1368.3V1402M1470.6 925.3V920.8M1470.6 1357V1384.9M1473.8 931.7V918.9M1473.8 1389.9V1409.6M1476 927.3V916.3M1476 1359.6V1412.1M1477.5 905.5V903M1477.5 1408.2V1427.9M1479.4 937.8V927.4M1479.4 1385.3V1428.1M1482.5 936.5V935M1482.5 1446.8V1451.6M1482.5 985.6V960.3M1482.5 1388.4V1415.5M1484.9 974.3V955.1M1484.9 1413.7V1425.9M1487.3 979.4V953.7M1487.3 1358.4V1396.4M1490 985.4V956.9M1490 1365.3V1408.7M1492.9 960.3V938.5M1492.9 1374.3V1411.2M1495.2 998.8V980.5M1495.2 1359.8V1396.2M1498.3 1008.9V996.1M1498.3 1361.3V1400.1M1498.6 987.9V974.4M1498.6 1355.8V1375.7M1501.1 974.6V954.2M1501.1 1361.8V1405.1M1503 994.8V974M1503 1361.2V1378.8M1505.8 997.7V976.7M1505.8 1381.9V1403.1M1508.8 1002.8V972.9M1508.8 1370.1V1399.6M1510.9 1013.8V972M1510.9 1401.5V1422.4M1512.5 994.7V958.7M1512.5 1412V1428.7M1514.4 988.7V941.1M1514.4 1392.9V1424.8M1517.3 1014.6V977.1M1517.3 1401.1V1413.5M1520.2 997.8V978.5M1520.2 1370.3V1388.3M1671.2 1135.9V1105M1671.2 1361.8V1403M1672.9 1112.7V1091.5M1672.9 1392.6V1404.2M1676 1030.1V1025.6M1676 1386.6V1436.1M1677.4 1013V1002.2M1677.4 1437.2V1446.7M1680 1032.6V1025M1680 1391.1V1406.8M1682.5 1023.8V1018.8M1682.5 1400.8V1424.1M1684.5 1011.9V1003.1M1684.5 1405.4V1431.8M1687.8 997.8V987.6M1687.8 1442.7V1454.6M1690 983.2V964.5M1690 1444.9V1464.5M1692.2 956.8V950.9M1692.2 1411V1432.2M1695 960V950M1695 1409.7V1429.8M1694.9 961.7V950.2M1694.9 1402.4V1429.6M1697.7 968.1V961M1697.7 1419.2V1441.5M1700.3 970V963.7M1700.3 1408.3V1430.4M1702.9 917.8V911.5M1702.9 1431.2V1458M1705.8 952.7V933.2M1705.8 1457.6V1475.1M1706 937.5V917.1M1706 1407.9V1439.9M1708.9 962.6V947.1M1708.9 1413.6V1427.4M1711.5 967.8V956.5M1711.5 1406.7V1418.8M1714.1 961.5V958.6M1714.1 1429.6V1439.8M1867.9 1037.9V1018.4M1867.9 1385.3V1390.4M1870.7 1042.2V1023.8M1870.7 1361.7V1380.5M1872.8 1047.3V1037.2M1872.8 1322.9V1355.3M1875.4 1029.7V1025M1875.4 1318.9V1380.1M1878.4 1048.8V1042.8M1878.4 1327.6V1367.8M1880.7 1038.6V1028.7M1880.7 1341.4V1378.6M1881.7 1048.2V1044.2M1881.7 1324.2V1357.9M1884.7 1058.4V1053.7M1884.7 1345.6V1371.6M1887.2 1052.6V1045.1M1887.2 1353.2V1383.5M1890.2 1060.1V1056.1M1890.2 1371V1388.5M1892.1 1062.9V1058.8M1892.1 1398V1407.7M1895.1 1040.9V1040.1M1895.1 1444.2V1464.2M1895.9 1063V1051.8M1895.9 1446.6V1452.8M1899 1061.6V1058.3M1899 1441.4V1465.6M1901.4 1063.9V1056.6M1901.4 1440.6V1463.1M1903.7 1060V1060.7M1903.7 1452.8V1466.9M1906.5 1067.4V1066M1906.5 1459.9V1467M1907.9 1069.4V1068.7M1907.9 1471.6V1480.1M1911.3 1476.1V1481.7M1913.9 1490.8V1492.7M1914 1495V1494.8M1916 1484.4V1488.7M1918.9 1483V1485.7M1921.6 1486V1489.9M1924.3 1487.8V1491.5M1927 1483.2V1489.5M1928.7 1484.7V1486.9M1932.2 1485.2V1486.4M1934 1484.8V1488.6M1935 1489.7V1490.3M1937.2 1494.5V1494.2M1940 1481.5V1480.9M1942.1 1485.4V1485.5M1944.6 1488.1V1489.8M1948.1 1486.7V1487.5M1950.2 1488.3V1493.2M1951.9 1480.1V1482.5M1954.9 1477V1479.7M1957.2 1470.4V1473M1960.4 1063.3V1065.5M1960.4 1468V1473.4M2063.1 1049.4V1039.6M2063.1 1290V1315.3M2066.1 1052V1032.1M2066.1 1305.9V1341.9M2067.9 1031.2V1023.9M2067.9 1304.3V1341.4M2070.9 1038.1V1035.3M2070.9 1310.5V1317.6M2073.5 1034.9V1005.8M2073.5 1318.1V1349.1M2075.9 1019.1V1000.3M2075.9 1357.2V1381.3M2077 1038.9V1021.3M2077 1370V1389.7M2079.7 1003.5V977M2079.7 1343.3V1368M2082 987.6V983.2M2082 1351.9V1380.9M2085.1 958.1V948.6M2085.1 1351.3V1382M2085.7 930.9V925.6M2085.7 1425.7V1434.5M2088.4 930.4V924.9M2088.4 1412.4V1421.4M2090.8 938.9V931.7M2090.8 1399V1417.1M2093.5 935.4V929.1M2093.5 1394V1407.3M2095.9 929.9V919.4M2095.9 1375.8V1419.7M2096.8 926.9V919.3M2096.8 1400.3V1419.2M2098.6 944.4V938.4M2098.6 1396.6V1412.4M2101.4 962.3V948.9M2101.4 1420.9V1447.1M2104.4 971.7V961.9M2104.4 1396.3V1430.8M2107.3 997.3V990.3M2107.3 1376V1411.9M2115.8 946.4V944.9M2115.8 1386.7V1399.9M2118.3 933.4V931.6M2118.3 1391.9V1414.9M2120.9 915.5V913.6M2120.9 1415.6V1434M2123.8 911.4V909.3M2123.8 1445.7V1457.4M2124.3 906.6V906.7M2124.3 1416.1V1445.1M2127.7 906.9V907.1M2127.7 1402.2V1438.2M2130 915.4V913.4M2130 1430.8V1442.3M2132.9 921.6V918M2132.9 1415V1439M2134.8 929.2V924M2134.8 1389.5V1420.2M2134.7 923.2V918.6M2134.7 1393.6V1411.2M2137.5 927.9V926.4M2137.5 1411.3V1437M2140.7 946V938.3M2140.7 1380.3V1387.3M2141.9 962.9V953.3M2141.9 1371V1383M2144.7 938.1V933.5M2144.7 1353V1403.1M2147.2 943.9V933.2M2147.2 1426.8V1429.8M2149.9 922.4V919.4M2149.9 1356.3V1401.2M2153 963.3V950.8M2153 1340.5V1380.9M2155 966.7V939.8M2155 1357.7V1393.3M2157.5 975.2V953.8M2157.5 1319V1375.5M2160 959.2V958.1M2160 1366.2V1379.1M2266.6 985.3V975.3M2266.6 1399.2V1414.7M2268.6 954.1V951.2M2268.6 1391.9V1407.5M2271.7 943.7V935.1M2271.7 1389.5V1406.3M2274.2 919.4V907.5M2274.2 1425.8V1447.9M2275.9 909.4V905.9M2275.9 1445.8V1464.1M2278.5 922.5V913.4M2278.5 1395.7V1427.5M2281.2 927.1V920.8M2281.2 1405.5V1417.4M2283.4 941.5V926.4M2283.4 1419.1V1431.7M2284.3 941.8V925.9M2284.3 1381.9V1405.6M2287.2 984.7V969.5M2287.2 1371.7V1381.8M2290.3 1014.4V996.3M2290.3 1353.5V1373.9M2291.8 1042.6V1030.5M2291.8 1348.7V1357.8M2294.9 1020.1V1005M2294.9 1329V1350.6M2297 1030.8V997.8M2297 1357.4V1383.1M2299.6 999.6V987.2M2299.6 1320V1362.4M2301.8 1013.6V960.9M2301.8 1322.2V1364.7M2305 1016.3V1006.4M2305 1318.8V1330.1M2307.6 1018.2V993.6M2307.6 1316.3V1327.8M2307.2 1018.4V1002.5M2307.2 1330.5V1356.6M2310.5 985.7V959.7M2310.5 1344.2V1362.2M2310.8 954.2V937M2310.8 1310.1V1323.2M2313.4 964.9V952.7M2313.4 1312.8V1326.9M2316.8 970.2V949.8M2316.8 1346.8V1355.7M2318.9 990.2V975.9M2318.9 1311.9V1335.9M2321.5 986V975.4M2321.5 1314.3V1333M2324.6 982.7V957.9M2324.6 1375.3V1380.9M2325.4 1003.1V975.6M2325.4 1334V1341.3M2328.1 1000.4V972.4M2328.1 1335.2V1349.9M2330.7 988V965.3M2330.7 1301.8V1322.6M2333.2 994.3V980.6M2333.2 1325.2V1338.6M2335.4 988.8V975.3M2335.4 1303.4V1334.9M2338.2 991.8V979.8M2338.2 1333.7V1340.4M2341 1010.3V996.1M2341 1288.6V1308.2M2342.6 1008V994.5M2342.6 1283.4V1295.9M2345.7 934.9V928.3M2345.7 1297.7V1334.6M2345.8 906.6V897.2M2345.8 1302.7V1340.3M2349.3 914.9V913.5M2349.3 1291.9V1303.7M2351.8 920.6V915.2M2351.8 1294.6V1300.4M2353.7 918.3V906.1M2353.7 1289.6V1305.9M2355.1 916.9V908.5M2355.1 1309V1324.9M2357.4 953V948M2357.4 1259V1291.8M2360.3 998V989.2M2360.3 1251.8V1265.8" stroke="#FF8205" stroke-width="5.8" stroke-linecap="round" stroke-dasharray="0.1 17 3 16 0.1 14 5 19 0.1 15 1 20" fill="none"/>
<path d="M285.5 951.3V933.1M285.5 1433.5V1466.2M287.7 922V919.4M287.7 1397.4V1421M290.3 932.1V925.3M290.3 1419.9V1463.2M293 942.1V932.5M293 1415.7V1461.5M295.4 927.6V915.9M295.4 1437.3V1493.5M298 919.6V910.2M298 1440.2V1473.9M298 926.9V906.8M298 1400.5V1491.7M301 934.3V912.6M301 1455.2V1470.4M303.3 952.6V932.2M303.3 1478.2V1496.3M305.5 959.1V933.4M305.5 1408.8V1477.9M308.2 958.2V947M308.2 1414.9V1458.9M311.5 956.6V954M311.5 1442.6V1472.7M312.5 954.1V951M312.5 1469.3V1477.9M315.3 955.9V953.9M315.3 1467.7V1491.9M317.4 971.8V966.4M317.4 1411.4V1426.2M320.2 1405.1V1455.1M322.9 1436V1452.8M325.1 985.4V966.7M325.1 1416V1486.4M326.2 977.4V968.7M326.2 1454.7V1477.3M329.2 964V953.8M329.2 1422.6V1476.3M331.3 970.7V963.7M331.3 1421.1V1433.1M333.8 949.5V945.3M333.8 1463V1470.4M335.1 940.6V931.5M335.1 1427.4V1446.8M337.8 961.1V948.9M337.8 1454.9V1465.6M340.1 970.5V969.1M340.1 1454.5V1474M342.5 985.6V975.2M342.5 1433.5V1462.4M344.9 985.8V980.4M344.9 1155.7V1159.3M345.9 975.1V971.8M348.1 985.2V982.2M351.5 985.8V979.6M353.6 983.4V981.9M356.5 975.6V964.2M356.5 1376.4V1390.2M358.4 974.8V967.9M358.4 1387.5V1400.4M361.7 919.6V917.3M361.7 1404.2V1451.3M364.2 944.6V931.6M364.2 1399.9V1409.7M367 936.4V931.4M367 1375V1399.3M367.1 912.2V906.5M367.1 1386V1452M369.4 928.5V922.5M369.4 1407.2V1445.7M371.8 944.9V939.3M371.8 1406.8V1436.7M374.9 957.1V948M374.9 1399.9V1421.4M375.4 942.9V939.4M375.4 1436.3V1456.7M377.8 952V943.7M377.8 1389.4V1412.6M380.8 946.4V937.1M380.8 1424.9V1443.5M382.9 936.5V929.3M382.9 1424.8V1449.1M386.3 930.3V926.3M386.3 1424.6V1451.6M388.2 920.8V915.5M388.2 1426.3V1437.3M391.3 912.8V902.3M391.3 1435.2V1450M391.8 909.8V905.4M391.8 1422.4V1437M394.5 907.2V899.7M394.5 1465.2V1497M396.6 916.2V909.2M396.6 1466.3V1496.3M399.5 912.1V910.5M399.5 1458.1V1484.9M401.4 929.8V924.1M401.4 1412.5V1435.6M403.4 946.7V934.3M403.4 1420.3V1449.2M406.7 937.1V924.3M406.7 1454V1467M409 1446.1V1464.9M411.2 942.1V935M411.2 1408.8V1475.3M414.1 943.9V942.3M414.1 1388.6V1413.7M417 937.8V930.6M417 1398.8V1408.8M522.4 924.9V920.4M522.4 1349.5V1359.3M525.5 926.1V925M525.5 1345.8V1351.5M527.5 924.9V904.9M527.5 1345.7V1372.2M530 913.5V907.6M530 1364.7V1372.1M532.6 1371.3V1380.4M534.6 958.8V944.3M534.6 1358.1V1369.7M537 988.5V976.8M537 1316.1V1335.6M537.7 982.7V971.6M537.7 1268.1V1313.2M539.9 1017.9V991.3M539.9 1235.3V1257.3M542.6 1027.5V1017M542.6 1208.7V1265.7M545.4 1014V978.6M545.4 1220.5V1313.1M548.3 1036.4V985.1M548.3 1260.5V1294.7M547.9 1041V1029.1M547.9 1181.6V1199.3M550.2 1053.9V1024.3M550.2 1214.5V1255.7M553.2 1050.8V1023.9M553.2 1222.6V1254.2M556.1 1034.6V1015.2M556.1 1284.3V1315.8M558.1 1023.9V985.1M558.1 1408.4V1436.6M561.3 972.9V967.7M561.3 1359.6V1421.9M561.9 1022.2V988.1M561.9 1467.7V1480.5M564.3 1006.4V988.5M564.3 1442.7V1476.8M567.2 1063.6V1046.5M567.2 1408.6V1425.2M569.7 1010.2V1005.9M569.7 1442.3V1464.4M572.1 1059.5V1031M572.1 1464.8V1491.6M572.8 1060V1048.1M572.8 1478.9V1496.9M575.3 1025.2V1016.5M575.3 1484V1498.1M577.4 1026.7V1004.2M577.4 1472.6V1495.1M580.3 1034.6V993.6M580.3 1465.4V1495.6M582.9 993.9V981M582.9 1484.8V1494.2M585.5 991.2V971.9M586.7 978.5V971.1M586.7 1483.6V1495.4M589.7 1005.8V985.4M589.7 1473.8V1482.2M591.7 990.2V980.1M591.7 1472.9V1476M594.1 977.6V971.7M597 972V959.8M597 1481.4V1482.7M599.9 970.3V961.9M600.3 959.4V929.5M600.3 1483.7V1492.2M603.3 968V957.4M605.9 958.4V942.2M605.9 1481.3V1489.7M608.7 953.9V925.8M608.7 1475.9V1481.2M611.5 972.4V963.7M611.5 1477.9V1480.3M613.4 964.1V946.4M616.3 943.6V932.8M616.3 1474.6V1484.9M619 968.2V939.3M619 1474.8V1479.6M823.2 931.4V917.4M823.2 1393.8V1405.5M825.3 923.8V915.8M825.3 1390.2V1416.8M828 924.4V918.7M828 1406.9V1440.4M830.2 926.1V923.7M830.2 1373.6V1393.4M833.5 1397.3V1415.9M835.2 905V902.6M835.2 1413.8V1453.7M838 1425.6V1466.1M840.9 1476.3V1490.6M843.6 1440.4V1478M845.8 897.1V892.7M845.8 1407.4V1453.7M847.4 1420.1V1479.3M849.8 1463.7V1493.1M852.2 892.3V891.2M852.2 1466.7V1483M854.4 891.4V889.3M854.4 1454.5V1491.7M857 890.1V889M857 1421.2V1449.8M860 893.9V888.2M860 1465.7V1490.8M861 1385.2V1421.1M863.4 1429.6V1438.2M866.6 904.7V901.2M866.6 1395.1V1427.1M868.4 1415.3V1423M871.6 904.5V899.3M871.6 1392.8V1458.9M874.1 904.3V898.1M874.1 1411.3V1437.1M874.8 917.9V907.2M874.8 1442.3V1462.9M877.7 915.3V910.7M877.7 1427.9V1463M879.9 926.5V915.7M879.9 1457V1464.5M883.3 925.5V917.6M883.3 1460.9V1480.5M885.7 940.6V926.8M885.7 1446.1V1497.1M887.8 959.7V948.6M887.8 1474V1485.2M889.8 968.6V960.9M889.8 1453.1V1458.8M891.8 966.1V952.9M891.8 1472.4V1487.9M894.7 954.1V947M894.7 1487.6V1494.3M897.4 949.8V940.8M897.4 1484.8V1493.3M908.9 949V938.1M908.9 1422.4V1478.3M911.5 947.2V938.9M911.5 1481.1V1494.7M914.1 940.6V929.4M914.1 1419V1454.1M916.9 964.1V917.9M916.9 1440.8V1475.1M919.4 974.6V947.9M919.4 1455.8V1497.7M920.9 958.8V918.6M920.9 1441.1V1475.3M923.6 932.1V921.5M923.6 1463V1490.5M925.8 948.4V926.6M925.8 1435.3V1492.7M928.3 943.7V912.1M928.3 1449.5V1463.7M931 959.2V934M931 1490V1492.7M1042.3 1044.7V1039.7M1042.3 1327.9V1351.2M1044.2 1043.1V1020.2M1044.2 1340.8V1349.2M1047 1023.1V1010.6M1047 1337.7V1368.9M1049.3 1061V1053.3M1049.3 1332.4V1338.7M1052.7 1041.3V1032.4M1052.7 1334.3V1343.9M1055 1055.4V1038.9M1055 1346.8V1352.6M1057.4 1017.4V994.7M1057.4 1369.9V1376.2M1060.2 1045.3V1039.7M1060.2 1366.6V1372.7M1062.3 1057.1V1034M1062.3 1372.4V1385M1065.4 1032.3V1021.1M1065.4 1381.9V1397.1M1067.6 1008.1V970.1M1067.6 1384V1418.1M1068.7 1033.7V1009.7M1068.7 1386.2V1397.2M1071.3 1033.8V1009.1M1071.3 1405.9V1426M1074.1 1052V1039.6M1074.1 1408.9V1424.3M1076.4 1049.1V1037.8M1076.4 1414.6V1437.7M1079.7 1028.4V1004.5M1079.7 1440.2V1454M1081.7 1037V1020.6M1081.7 1424.3V1431.5M1082.7 1027.7V1015.7M1082.7 1435.2V1446.9M1085.3 990.4V977.2M1085.3 1440V1453.4M1088.2 995.5V979.3M1088.2 1434.5V1460M1090.5 1015.7V991.2M1090.5 1449.6V1456.3M1096.9 981V976.5M1096.9 1464.2V1473.7M1100.1 958.2V948.9M1100.1 1469.3V1474.8M1101.8 948.9V946.1M1101.8 1458.1V1464.7M1104.7 1464.3V1471.1M1107.7 1472.5V1483.1M1107.6 902.2V900.9M1107.6 1475V1486.8M1110.4 1483.4V1496.9M1113 1479.1V1483.5M1114.7 1468.6V1477.5M1116.7 910.9V909.5M1120 937.3V916.6M1120 1468.6V1490.7M1122.3 947.5V920M1122.3 1488.2V1495.9M1205.4 1335.7V1344.1M1207.4 933.3V921.9M1207.4 1335.4V1341.5M1210.7 936V924.3M1210.7 1347.7V1353.2M1213 912V906.7M1213 1359.6V1371.6M1215.5 918.5V900.3M1215.5 1366.1V1384.6M1216.5 927.3V915M1216.5 1358.8V1365.4M1219.4 925.9V915.6M1219.4 1367.7V1383.7M1221.7 909.3V900M1221.7 1383.6V1393.6M1224.2 909.2V901.1M1224.2 1358.1V1386.5M1227.6 906.6V903.7M1227.6 1393.2V1411.4M1229.8 906.8V901.7M1229.8 1374V1380.3M1230.7 908V903.3M1230.7 1393.1V1409.9M1233.2 906.7V903.6M1233.2 1379.8V1420M1235.5 906.9V899M1235.5 1371.3V1420.1M1239 925.1V922.8M1239 1358.9V1377.5M1241.6 927V923.5M1241.6 1379V1393.6M1243.4 931.2V925.9M1243.4 1368.2V1376.5M1244.4 1401.3V1411.5M1247.3 899V896.7M1247.3 1424.6V1429.4M1249.6 899.8V898.2M1249.6 1406.1V1426.4M1253.1 889.2V886.2M1253.1 1392.1V1409.4M1254.1 883.7V881M1254.1 1412V1417.7M1256.7 1407.9V1434M1258.6 1388.7V1403.5M1261.7 893.6V886.6M1261.7 1387.1V1399.9M1264.2 890.6V889.6M1264.2 1405.9V1413.3M1272.6 1008V978.9M1272.6 1384.6V1394.3M1275.3 967.7V946.3M1275.3 1415V1433.9M1277.9 960.4V939.1M1277.9 1416V1438.9M1281.3 957V926.2M1281.3 1411.4V1432.7M1283.6 973.2V941.5M1286 956.5V943.9M1286 1395.1V1440M1287.5 967.5V931.5M1287.5 1416.1V1437.4M1289.6 963.5V939.7M1289.6 1423.1V1432.2M1292.1 948.9V939.8M1292.1 1409.4V1441.2M1295 965.6V943.4M1295 1425.7V1451.8M1297.6 965.7V960.2M1297.6 1441.5V1446.8M1389.5 951.7V933.2M1389.5 1381.5V1390.1M1392.2 951.9V943.5M1392.2 1385.1V1403.2M1394.9 952.9V946.2M1394.9 1367.9V1391M1397.5 928.8V926.5M1397.5 1393.4V1409.2M1400 953.8V945M1400 1351.3V1385.4M1402.4 932.4V928.1M1402.4 1377V1392.3M1403 934.8V931.8M1403 1347V1376.1M1406 949.8V937.1M1406 1387.1V1401.8M1408.4 937.8V933.2M1408.4 1363.3V1389.9M1410.6 971V958M1410.6 1370.4V1389.1M1413.4 974.8V960.8M1413.4 1356.9V1375.2M1416.1 972.6V961.9M1416.1 1386.3V1409.3M1418.6 974.9V953.7M1418.6 1383.8V1398.8M1420.3 957.3V943M1420.3 1433.6V1447.1M1423.2 967.3V936.1M1423.2 1409.2V1427M1426.4 987.5V940.5M1426.4 1405.4V1433.5M1428.4 964.7V936.1M1428.4 1440.4V1445.2M1431.6 941.3V930.7M1431.6 1403.9V1431.3M1433.5 962.5V945.7M1433.5 1394.7V1430.9M1435.2 972.9V954.3M1435.2 1400.2V1416.9M1437.6 950.5V940.1M1437.6 1378.5V1440.5M1440.5 930.8V924.6M1440.5 1405.6V1440.6M1442.2 927.2V919.5M1442.2 1398.9V1429.8M1443.4 917V912.5M1443.4 1397.7V1411.2M1446 915V911.5M1446 1378V1413M1448.3 907.9V903.7M1448.3 1379.8V1422.2M1451.9 911.3V903.8M1451.9 1386.9V1412.5M1453.7 897.3V890.3M1453.7 1438.6V1478.7M1456 895V892.6M1456 1458.7V1472.1M1458.3 903V899.4M1458.3 1415.1V1464.9M1461 1408.8V1439.3M1462.5 1409.9V1428M1465.3 1406.3V1425.1M1468.3 931.5V924.7M1468.3 1405V1421.1M1470.6 917.8V915.2M1470.6 1387.9V1415.1M1473.8 915.9V908.9M1473.8 1412.6V1452M1476 913.3V911.7M1476 1415.1V1460.9M1477.5 900V899M1477.5 1430.9V1458.3M1479.4 924.4V920.5M1479.4 1431.1V1453.9M1482.5 1454.6V1463.9M1482.5 957.3V952.4M1482.5 1418.5V1452.1M1484.9 952.1V947.2M1484.9 1428.9V1463.2M1487.3 950.7V930M1487.3 1399.4V1457.7M1490 953.9V929.4M1490 1411.7V1446.5M1492.9 935.5V921.3M1492.9 1414.2V1448.4M1495.2 977.5V968M1495.2 1399.2V1415M1498.3 993.1V964.1M1498.3 1403.1V1421.2M1498.6 971.4V945.1M1498.6 1378.7V1405.6M1501.1 951.2V929M1501.1 1408.1V1473.7M1503 971V944.8M1503 1381.8V1431.3M1505.8 973.7V932.3M1505.8 1406.1V1452.8M1508.8 969.9V928.6M1508.8 1402.6V1444.7M1510.9 969V907.7M1510.9 1425.4V1436.9M1512.5 955.7V937.5M1512.5 1431.7V1438.4M1514.4 938.1V924M1514.4 1427.8V1443.7M1517.3 974.1V955.3M1517.3 1416.5V1435.5M1520.2 975.5V965.7M1520.2 1391.3V1411.8M1671.2 1102V1093M1671.2 1406V1423.9M1672.9 1088.5V1075.7M1672.9 1407.2V1416.6M1676 1022.6V1008.3M1676 1439.1V1467.1M1677.4 999.2V997.7M1677.4 1449.7V1478.4M1680 1022V1006.2M1680 1409.8V1421.8M1682.5 1015.8V1007.5M1682.5 1427.1V1448.5M1684.5 1000.1V997.5M1684.5 1434.8V1442.4M1687.8 984.6V974.5M1687.8 1457.6V1477.1M1690 961.5V955.2M1690 1467.5V1484M1692.2 947.9V942.4M1692.2 1435.2V1470.8M1695 947V941.5M1695 1432.8V1441.6M1694.9 947.2V943.7M1694.9 1432.6V1446.8M1697.7 958V943.8M1697.7 1444.5V1460.7M1700.3 960.7V946.1M1700.3 1433.4V1441.7M1702.9 1461V1478.4M1705.8 930.2V918.7M1705.8 1478.1V1488.5M1706 914.1V909.4M1706 1442.9V1486.2M1708.9 944.1V934.1M1708.9 1430.4V1448.7M1711.5 953.5V939.1M1711.5 1421.8V1436.6M1714.1 955.6V952.8M1714.1 1442.8V1455.3M1867.9 1015.4V1002.6M1867.9 1393.4V1396.5M1870.7 1020.8V1015.3M1870.7 1383.5V1394.6M1872.8 1034.2V1009.9M1872.8 1358.3V1379.8M1875.4 1022V1009.8M1875.4 1383.1V1399M1878.4 1039.8V1029.3M1878.4 1370.8V1383.2M1880.7 1025.7V1021.8M1880.7 1381.6V1390.6M1881.7 1041.2V1029.7M1881.7 1360.9V1399M1884.7 1050.7V1045.8M1884.7 1374.6V1380M1887.2 1042.1V1041M1887.2 1386.5V1404.9M1890.2 1053.1V1048.6M1890.2 1391.5V1414.2M1892.1 1055.8V1049M1892.1 1410.7V1418.3M1895.1 1467.2V1470.8M1895.9 1048.8V1044.3M1895.9 1455.8V1473M1899 1055.3V1041.5M1899 1468.6V1479.7M1901.4 1053.6V1048.5M1901.4 1466.1V1470.5M1903.7 1057.7V1054.8M1903.7 1469.9V1472M1906.5 1063V1060.6M1906.5 1470V1474.8M1907.9 1065.7V1062.3M1911.3 1484.7V1491.5M1916 1491.7V1494.4M1918.9 1488.7V1490.3M1921.6 1492.9V1495.5M1927 1492.5V1495M1932.2 1489.4V1491.3M1934 1491.6V1493M1944.6 1492.8V1497.1M1948.1 1490.5V1493.3M1951.9 1485.5V1489.7M1954.9 1482.7V1485.5M1957.2 1476V1481.3M1960.4 1476.4V1479.8M2063.1 1036.6V1025.1M2063.1 1318.3V1336.5M2066.1 1029.1V1018.6M2066.1 1344.9V1361.2M2067.9 1020.9V1013.9M2067.9 1344.4V1353.6M2070.9 1032.3V1025.1M2070.9 1320.6V1331.8M2073.5 1002.8V993.8M2073.5 1352.1V1382.7M2075.9 997.3V995.3M2075.9 1384.3V1403.7M2077 1018.3V988.7M2077 1392.7V1407.8M2079.7 974V964M2079.7 1371V1420.9M2082 980.2V971.9M2082 1383.9V1399.2M2085.1 945.6V932.5M2085.1 1385V1411.6M2085.7 922.6V918.4M2085.7 1437.5V1445.9M2088.4 921.9V920.9M2088.4 1424.4V1435.8M2090.8 928.7V917.4M2090.8 1420.1V1448.5M2093.5 926.1V915.4M2093.5 1410.3V1435.1M2095.9 916.4V910.5M2095.9 1422.7V1440M2096.8 916.3V912.3M2096.8 1422.2V1442.2M2098.6 935.4V932M2098.6 1415.4V1437.6M2101.4 945.9V936M2101.4 1450.1V1455.5M2104.4 958.9V953.2M2104.4 1433.8V1459.2M2107.3 987.3V975.4M2107.3 1414.9V1446.8M2115.8 941.9V937.6M2115.8 1402.9V1416.1M2118.3 1417.9V1432.5M2120.9 910.6V908.2M2120.9 1437V1458.5M2123.8 906.3V904.3M2123.8 1460.4V1468.4M2124.3 1448.1V1454.8M2127.7 1441.2V1448.8M2130 910.4V907.6M2130 1445.3V1470.4M2132.9 915V910.6M2132.9 1442V1454.4M2134.8 921V918.1M2134.8 1423.2V1463.6M2134.7 915.6V913.1M2134.7 1414.2V1450.8M2137.5 923.4V918.5M2137.5 1440V1460.6M2140.7 935.3V930.4M2140.7 1390.3V1404.8M2141.9 950.3V940.7M2141.9 1386V1397.3M2144.7 930.5V922.4M2144.7 1406.1V1431.7M2147.2 930.2V923.4M2147.2 1432.8V1440.3M2149.9 1404.2V1416.9M2153 947.8V922.5M2153 1383.9V1408.6M2155 936.8V914.5M2155 1396.3V1430.5M2157.5 950.8V939M2157.5 1378.5V1401.7M2160 955.1V951M2266.6 972.3V964.6M2266.6 1417.7V1420.8M2268.6 948.2V941.6M2268.6 1410.5V1438.5M2271.7 1409.3V1419.2M2274.2 1450.9V1474.5M2275.9 902.9V897.6M2275.9 1467.1V1476.5M2278.5 910.4V906.3M2278.5 1430.5V1439M2281.2 917.8V915M2281.2 1420.4V1443M2283.4 923.4V918.6M2283.4 1434.7V1452.9M2284.3 922.9V908M2284.3 1408.6V1440.3M2287.2 966.5V959.9M2287.2 1384.8V1399M2290.3 993.3V977.3M2290.3 1376.9V1381.8M2291.8 1027.5V1013M2291.8 1360.8V1367.7M2294.9 1002V993.2M2294.9 1353.6V1371.6M2297 994.8V971.6M2297 1386.1V1400.8M2299.6 984.2V974.8M2299.6 1365.4V1374.7M2301.8 957.9V942.9M2301.8 1367.7V1380.7M2305 1003.4V982.1M2305 1333.1V1351.2M2307.6 990.6V977.5M2307.6 1330.8V1360.5M2307.2 999.5V973.1M2307.2 1359.6V1383.5M2310.5 956.7V934.8M2310.5 1365.2V1381.7M2310.8 934V930.6M2310.8 1326.2V1344.5M2313.4 949.7V942.2M2313.4 1329.9V1356.1M2316.8 946.8V936.4M2316.8 1358.7V1366.7M2318.9 972.9V962.4M2318.9 1338.9V1345.2M2321.5 972.4V950.8M2321.5 1336V1351.4M2324.6 954.9V945.5M2325.4 972.6V952.7M2325.4 1344.3V1355M2328.1 969.4V956.9M2328.1 1352.9V1369.7M2330.7 962.3V951.8M2330.7 1325.6V1349.8M2333.2 977.6V960.8M2333.2 1341.6V1349.4M2335.4 972.3V954.4M2335.4 1337.9V1349M2338.2 976.8V964M2338.2 1343.4V1360.2M2341 993.1V988.9M2341 1311.2V1330.7M2342.6 991.5V985.9M2342.6 1298.9V1322.5M2345.7 925.3V916.7M2345.7 1337.6V1354.2M2345.8 894.2V892.8M2345.8 1343.3V1371.3M2349.3 910.5V908.2M2349.3 1306.7V1330.6M2351.8 1303.4V1312.5M2353.7 903.1V897.9M2353.7 1308.9V1344.4M2355.1 905.5V901.8M2355.1 1327.9V1344.9M2357.4 945V936M2357.4 1294.8V1324.5M2360.3 986.2V966.3M2360.3 1268.8V1283.5" stroke="#FF8205" stroke-width="6.4" stroke-linecap="round" stroke-dasharray="0.1 32 0.1 44 2 36 0.1 54 0.1 28 2 40" fill="none"/>
<path d="M311.5 967.4V1368.1M312.5 967V1433.1M317.4 990V1377.2M403.4 963.5V1392.1M414.1 954V1361.2M522.4 936.4V1327.7M828 940.8V1365.1M847.4 903.1V1379.2M857 897.4V1356.9M868.4 910.5V1399.9M1062.3 1075.2V1348.7M1205.4 923.7V1322.5M1235.5 915.6V1337.3M1420.3 977.8V1399.7M1479.4 940.8V1382.3M1887.2 1055.6V1350.2M1895.9 1066V1443.6M1907.9 1072.4V1468.6M1911.3 1063V1473.1M1957.2 1064.6V1467.4M2075.9 1022.1V1354.2M2095.9 932.9V1372.8M2115.8 949.4V1383.7M2123.8 914.4V1442.7M2132.9 924.6V1412" stroke="#FF8205" stroke-width="3.6" stroke-linecap="round" stroke-dasharray="2 7 9 6 1 8 14 7 3 9 1 6" fill="none"/>
<path d="M288 1433h0m0 47h0M290 1409h0m-1 33h0m1 52h0M293 934h0m0 467h0m-1 92h0M295 907h0m1 3h0m-1 2h0m1 27h0m-1 0h0m0 488h0m0 4h0m-1 39h0M298 1490h0m0 4h0M298 933h0m1 512h0m-1 4h0m0 27h0M301 922h0m1 5h0m-1 7h0m-1 4h0m0 511h0m1 37h0M305 936h0m0 10h0m0 15h0m0 452h0m-1 39h0m1 1h0m0 23h0M308 1440h0M311 947h0m0 473h0m1 6h0m0 5h0m-2 47h0M313 949h0m1 3h0m-1 501h0m0 9h0m1 15h0M315 1446h0m0 2h0m0 4h0m1 32h0m-2 3h0M317 1441h0m0 6h0m-1 18h0M323 1441h0m0 8h0m1 4h0m-1 18h0m-1 5h0M325 974h0m0 503h0m1 10h0M326 1415h0m1 10h0m0 12h0m-2 0h0m0 38h0M329 963h0m0 504h0m0 5h0M334 920h0m-1 5h0M338 1479h0M342 1438h0M345 1166h0M357 1426h0m-1 21h0m1 4h0M358 928h0M362 1419h0m0 31h0M364 1432h0M367 896h0m0 1h0m1 9h0m-2 18h0m2 2h0m-1 468h0m-1 20h0m2 18h0M369 942h0m0 510h0m0 4h0M372 926h0m-1 536h0M375 1412h0M375 935h0m0 10h0m0 490h0m1 19h0m-2 7h0M381 1433h0M392 1462h0m0 9h0M394 900h0m-1 536h0m1 36h0m-1 2h0m1 19h0M397 911h0m-1 14h0m2 547h0m-2 4h0M399 1455h0M407 914h0m0 1h0M409 1448h0m1 47h0M411 1422h0m-1 39h0M414 1464h0m1 6h0M417 1457h0M352 1114h0M349 1058h0M352 1226h0M351 1103h0M351 1354h0M353 1246h0M350 1334h0M349 1079h0M348 1213h0M347 1223h0M351 1357h0M348 1052h0M349 1080h0M348 1020h0M310 867.1h0M338 1524.4h0M366 867.1h0M328 1524.4h0M337 867.1h0M334 1524.4h0M385 867.1h0M412 1524.4h0M527 916h0m0 451h0m0 17h0M530 909h0m1 462h0M533 918h0m-1 453h0m1 5h0M537 974h0m1 16h0m-2 1h0m1 329h0m1 51h0M538 1266h0m-1 82h0m1 24h0M540 1328h0M543 1250h0M545 989h0m-1 259h0m1 5h0m-1 0h0m1 16h0m0 36h0m0 6h0m0 1h0M548 987h0m0 25h0m0 21h0m-1 245h0M548 985h0M558 1001h0m-1 4h0m0 374h0m1 17h0m0 18h0m0 15h0m-1 13h0M561 1399h0m1 13h0m-1 15h0M562 992h0m-1 16h0m1 459h0m0 1h0M564 1014h0m0 24h0m0 354h0m0 33h0m-1 35h0m1 3h0m0 4h0m-1 10h0M567 1414h0m-1 44h0M572 1465h0m-1 31h0M573 1030h0m-1 4h0m1 3h0M575 1026h0m0 6h0m0 445h0M577 1000h0m0 21h0m0 21h0m0 447h0M583 991h0m1 11h0m-1 10h0M585 1005h0M587 979h0m1 12h0m-1 6h0M590 974h0M600 930h0m-1 11h0M606 1495h0M609 937h0M616 926h0M533 867.1h0M608 867.1h0M527 867.1h0M557 867.1h0M531 867.1h0M605 1524.4h0M605 867.1h0M571 867.1h0M590 867.1h0M561 1524.4h0M599 867.1h0M823 1434h0M828 1401h0M835 1435h0M838 1490h0M841 901h0M844 1487h0m0 8h0M846 1421h0m0 6h0m1 5h0m-2 2h0m1 0h0m1 29h0m-2 7h0m1 20h0M847 1452h0m0 11h0M850 1477h0M854 1448h0m0 1h0m1 40h0M857 1407h0M860 1455h0m1 15h0M861 1430h0M872 893h0m0 522h0m0 17h0m0 34h0M874 906h0m0 2h0m0 506h0m0 4h0M875 899h0m1 552h0m-1 2h0M878 906h0m1 11h0m-1 556h0M880 1454h0m1 16h0m-1 2h0m-1 22h0M883 916h0m0 531h0m0 6h0m1 26h0m-2 0h0M886 933h0m0 10h0m-1 518h0M897 948h0m1 9h0m-2 535h0M909 939h0m0 26h0m0 0h0m0 2h0m-1 465h0m1 14h0m0 20h0m0 7h0m0 11h0M912 957h0m1 8h0m-1 530h0M914 926h0m0 33h0m-1 456h0m2 1h0M917 938h0m0 19h0m0 477h0m0 9h0m-1 22h0m0 21h0M919 912h0m0 45h0m0 22h0m0 449h0m0 4h0m0 4h0m1 32h0m-2 2h0m1 21h0M921 903h0m1 27h0m-1 21h0m1 477h0m0 18h0m-1 15h0m0 10h0M924 921h0M926 929h0m-1 11h0m1 3h0m0 42h0m-1 431h0m1 57h0M928 928h0m1 13h0m0 10h0m-1 32h0m-1 459h0m2 10h0m0 22h0m-2 1h0M931 919h0m0 11h0m0 7h0m0 553h0M900 1298h0M900 1299h0M901 1484h0M905 1125h0M906 1179h0M907 1025h0M900 1154h0M901 917h0M906 973h0M900 1415h0M906 1086h0M907 1077h0M900 1435h0M904 1153h0M904 1446h0M900 1508h0M903 973h0M905 1396h0M906 1359h0M904 1017h0M831 867.1h0M872 1524.4h0M879 867.1h0M853 1524.4h0M909 867.1h0M834 867.1h0M896 867.1h0M862 1524.4h0M916 867.1h0M1042 1354h0M1044 1015h0m0 11h0m-1 1h0m1 21h0m0 313h0m1 6h0m0 1h0M1047 1035h0m-1 308h0m1 2h0m0 25h0m0 1h0M1049 1375h0M1053 1380h0M1057 995h0m1 32h0m-2 3h0m0 0h0m0 1h0m0 6h0m1 332h0m1 11h0m-1 6h0M1062 1043h0M1068 1013h0m0 378h0m-1 25h0M1076 1415h0M1080 1442h0M1083 1010h0M1085 968h0m1 18h0M1091 1449h0M1100 1480h0M1108 1489h0M1110 895h0m1 1h0M1115 889h0m1 595h0M1120 939h0m1 549h0M1122 938h0m1 16h0m0 526h0M1070 894h0M1070 892h0M1106 938h0M1098 918h0M1101 941h0M1103 915h0M1106 921h0M1101 867.1h0M1099 1524.4h0M1099 867.1h0M1081 1524.4h0M1054 867.1h0M1115 1524.4h0M1043 1524.4h0M1068 867.1h0M1060 867.1h0M1111 1524.4h0M1207 928h0M1213 917h0m-1 463h0M1215 918h0m0 3h0m0 442h0M1217 917h0M1219 923h0M1222 1386h0M1224 901h0M1228 1389h0m-1 17h0m2 5h0M1230 1394h0M1231 899h0m1 490h0m-2 24h0M1233 897h0m1 501h0m0 11h0m-1 6h0M1236 1366h0m0 9h0M1244 908h0M1247 898h0m0 531h0M1250 890h0m1 517h0m-1 14h0M1253 1397h0m0 5h0m1 30h0M1254 881h0m-1 548h0M1257 890h0M1262 1383h0m-1 5h0m0 49h0M1273 985h0m0 16h0m0 409h0M1275 962h0m0 1h0m1 7h0m-1 22h0m0 5h0M1278 978h0m-1 442h0M1281 953h0m-1 466h0m1 8h0m0 5h0m0 6h0m0 1h0M1284 951h0m0 40h0M1286 919h0m1 8h0M1290 1437h0M1292 946h0m0 3h0m-1 474h0m1 4h0M1295 1442h0m0 18h0M1298 956h0m0 1h0m-1 13h0m1 4h0m-1 460h0M1280 1434h0M1243 1478h0M1218 1468h0M1226 1478h0M1237 1466h0M1245 1448h0M1225 1458h0M1237 1475h0M1263 1443h0M1272 1445h0M1258 1479h0M1264 1460h0M1248 1466h0M1231 1478h0M1273 867.1h0M1265 867.1h0M1283 1524.4h0M1273 867.1h0M1271 867.1h0M1216 867.1h0M1389 1409h0M1392 1381h0m0 11h0M1395 1356h0m1 28h0m-1 16h0m0 11h0M1400 946h0m0 442h0M1402 1419h0M1403 1358h0m0 16h0m-1 11h0M1411 935h0M1419 933h0M1420 1437h0m0 14h0M1423 1388h0m-1 34h0m1 1h0M1426 924h0m-1 30h0m2 5h0m-2 2h0m1 12h0m1 7h0M1428 934h0m-1 9h0m1 478h0m1 6h0M1432 946h0m0 459h0M1434 930h0m1 463h0m-2 24h0M1438 943h0m0 453h0m0 10h0m0 45h0M1440 941h0M1442 905h0M1443 1396h0M1446 1468h0M1448 1405h0M1454 891h0m-1 558h0m1 28h0M1456 893h0m0 0h0M1458 901h0m-1 4h0m1 489h0m1 27h0m0 18h0m0 8h0m-1 29h0M1461 1472h0M1471 1411h0M1474 1427h0m-1 30h0m2 1h0m-1 5h0M1476 899h0m0 10h0m0 11h0m0 483h0m1 37h0M1478 1488h0M1479 1450h0M1483 1446h0m0 4h0M1485 931h0M1487 932h0m-1 32h0m0 430h0M1490 1410h0m0 16h0m0 3h0m0 19h0M1493 917h0m-1 26h0M1495 931h0m0 19h0m1 478h0M1498 973h0m0 479h0M1501 916h0m-1 12h0m2 13h0m0 461h0m0 15h0M1503 907h0m0 528h0M1506 952h0m1 1h0m-1 9h0m-1 5h0m2 443h0m-2 25h0M1509 1399h0m1 3h0m0 13h0m-1 12h0m0 9h0m0 22h0M1511 920h0m-1 4h0m0 45h0m1 472h0m1 17h0M1512 1444h0m1 7h0M1514 924h0M1517 937h0m-1 17h0M1520 964h0m1 434h0M1465 1524.4h0M1461 867.1h0M1444 867.1h0M1464 1524.4h0M1411 867.1h0M1465 867.1h0M1436 867.1h0M1439 867.1h0M1471 1524.4h0M1435 867.1h0M1671 1425h0M1673 1446h0M1676 1447h0M1677 989h0m-1 3h0m0 7h0m0 484h0M1683 1443h0M1684 1468h0M1690 963h0m0 516h0M1692 942h0m1 520h0M1698 1484h0M1703 916h0m0 534h0m0 1h0m1 18h0m-2 1h0m1 2h0M1706 910h0m-1 1h0m0 10h0m2 19h0m0 534h0m-1 23h0M1706 923h0m0 513h0m0 3h0m1 11h0M1666 1073h0M1650 1252h0M1651 1225h0M1659 1256h0M1652 1079h0M1666 1166h0M1662 1145h0M1654 1220h0M1652 1189h0M1664 1134h0M1664 1186h0M1654 1179h0M1667 1271h0M1665 1167h0M1665 1249h0M1660 1302h0M1648 1215h0M1662 1164h0M1659 1278h0M1665 1280h0M1665 1185h0M1648 1197h0M1668 1217h0M1649 1182h0M1652 1091h0M1645 1151h0M1645 1276h0M1642 1401h0M1641 1262h0M1645 1388h0M1642 1120h0M1642 1464h0M1641 1165h0M1645 1144h0M1644 1371h0M1639 1085h0M1641 1462h0M1643 1300h0M1639 1121h0M1640 1466h0M1642 1443h0M1644 1075h0M1643 1184h0M1644 1489h0M1640 1189h0M1641 1318h0M1639 1386h0M1642 1318h0M1641 1381h0M1645 1149h0M1639 1455h0M1645 1358h0M1641 1410h0M1640 1247h0M1639 1095h0M1639 1368h0M1640 1333h0M1645 1366h0M1644 1234h0M1640 1097h0M1645 1117h0M1642 1083h0M1639 1213h0M1643 1167h0M1642 1191h0M1644 1258h0M1642 1330h0M1644 1142h0M1641 1318h0M1645 1122h0M1641 1158h0M1640 1153h0M1645 1247h0M1642 1343h0M1642 1091h0M1642 1214h0M1639 1343h0M1645 1412h0M1645 1134h0M1643 1124h0M1641 1271h0M1640 1138h0M1640 1192h0M1644 1099h0M1640 1260h0M1642 1322h0M1639 1393h0M1645 1425h0M1646 1265h0M1641 1082h0M1640 1158h0M1639 1437h0M1641 1212h0M1644 1082h0M1643 1178h0M1631 867.1h0M1636 1524.4h0M1690 867.1h0M1670 1524.4h0M1700 867.1h0M1662 1524.4h0M1686 1524.4h0M1646 867.1h0M1873 1033h0m0 1h0m-1 369h0m1 8h0M1875 1354h0m1 49h0m-1 2h0M1878 1031h0M1882 1372h0M1885 1398h0M1896 1470h0M1899 1043h0M1901 1053h0m0 2h0M1911 1481h0M1916 1488h0M1940 1496h0M1945 1060h0M1941 997h0M1894 967h0M1946 1029h0M1921 988h0M1889 867.1h0M1920 867.1h0M1923 867.1h0M1929 867.1h0M1954 867.1h0M1906 1524.4h0M1908 867.1h0M1890 1524.4h0M1888 867.1h0M2063 1322h0M2066 1029h0m-1 299h0m0 10h0m2 21h0M2068 1343h0M2073 994h0m0 11h0m0 348h0M2076 995h0m0 4h0m0 373h0m0 21h0m0 2h0M2080 972h0m0 401h0m0 31h0M2082 964h0m-1 448h0M2085 934h0M2086 1448h0M2088 913h0m1 544h0M2091 908h0m0 9h0m0 10h0M2093 1419h0m1 4h0m-1 18h0m1 5h0M2097 908h0m0 3h0M2099 919h0m0 543h0M2104 951h0M2121 1452h0M2124 1442h0m0 8h0m0 11h0M2130 906h0m-1 551h0M2133 1479h0M2135 906h0m-1 543h0M2145 920h0m0 3h0m1 484h0M2147 916h0m0 16h0M2150 915h0M2153 929h0m1 13h0m-1 435h0m0 5h0m1 6h0m-1 44h0m0 2h0M2155 925h0m-1 476h0m0 17h0m1 3h0m-1 3h0M2158 950h0m0 416h0m1 33h0M2160 954h0M2148 867.1h0M2081 867.1h0M2075 1524.4h0M2111 867.1h0M2102 867.1h0M2074 867.1h0M2269 944h0m0 531h0M2272 926h0m-1 564h0M2274 914h0m0 534h0m0 8h0M2284 911h0m1 508h0M2297 957h0m0 6h0M2300 964h0m-1 433h0M2302 937h0m0 40h0m0 12h0m-1 406h0M2308 1367h0M2307 1398h0M2310 1384h0M2325 932h0m0 16h0m-1 17h0m1 424h0M2333 947h0m-1 11h0m1 12h0m1 395h0M2335 946h0m0 3h0M2341 976h0M2346 909h0m-1 19h0m1 399h0m0 21h0m0 14h0M2346 900h0m0 429h0m0 8h0m1 18h0M2349 1341h0M2354 907h0m1 427h0M2355 1344h0m0 4h0M2328 867.1h0M2332 1524.4h0M2314 867.1h0M2296 867.1h0M2288 1524.4h0M2299 867.1h0M2268 1524.4h0M2317 867.1h0M2292 1524.4h0M2310 867.1h0" stroke="#FF8205" stroke-width="6.8" stroke-linecap="round" fill="none"/>
<path d="M419.6 1047V1373.8M422.3 1006.2V1370.8M424.7 970.7V1433.6M427 1003V1422M428.6 991.2V1380.9M431.3 954.5V1411.2M433.8 945.1V1399.1M436 931V1377M438.9 907.4V1444.1M438.4 908.2V1447.2M441 898.5V1374.3M444.2 892.4V1368.5M446.3 895.3V1355.7M448.9 895.2V1349.4M450.8 889.9V1336M453.7 895.4V1416.7M456.5 894.3V1401.1M456.7 895.9V1332.2M459.3 903.6V1344.1M461.4 912.9V1335.1M461.8 903.9V1356.3M464.1 900.8V1415M467.3 897.7V1333.6M472.6 913.5V1346.2M473.9 913.9V1355.3M476.8 918.8V1368.7M479 921.4V1361.2M481.7 928.4V1379.3M484.4 930.3V1388.1M485.1 924.3V1396M487.6 954.4V1437.7M489.4 972.7V1442.6M491.3 976.8V1440.3M493.8 1005.3V1389.5M496.4 1005.9V1398.5M499.6 1010.5V1409.3M502.3 1025.5V1410.5M501.8 1050.8V1412.1M504.8 1038.7V1426.2M507.6 1065.2V1405.6M510.4 1049.8V1432.9M512.5 1002.1V1406.4M515.1 1062V1432.9M518.3 1037.4V1430.5M620.9 928V1329.3M623.8 953.9V1350.8M625.8 959.4V1330.6M630.1 954.9V1334.2M633.6 936.7V1325.7M635.9 958.4V1337.6M638.3 946.6V1365M640.9 982.1V1328.2M642.6 979.1V1312.6M645.5 981.7V1335.4M648 971.6V1327.8M650.7 974V1349.8M652.9 975V1332.7M656.3 1002.6V1340.1M658.9 984.6V1346M663.1 978.8V1362.1M665.4 1003.6V1358.2M668.1 1005.4V1376.6M670.8 991.6V1365.2M673.3 995.8V1360.5M674.3 999.9V1374.6M677.1 993.8V1371.9M680 991.8V1392.1M682.7 974.4V1389M685.3 984.9V1370.8M688 981.7V1371.2M688.5 971.6V1356.8M691.6 976.3V1352M694 972.3V1344.4M696.8 971.7V1343.7M699.2 966.7V1352.8M699.5 973.7V1333.3M701.4 969.8V1328.9M704.7 960.8V1348.9M706.8 972.2V1343.6M710.2 975.6V1354.3M758.8 1009.1V1357.5M761.9 999.2V1340.9M764.8 999.5V1396.9M766.7 975.1V1370.3M769.9 977.7V1354.2M771.6 963.3V1357.1M773.2 964.1V1355.7M776.1 963.9V1368M778.4 958V1376.1M781.4 949V1384.9M783.8 951.1V1378.5M786.1 938.6V1354.1M787.1 945.3V1361.5M789.7 944.8V1391.5M792.7 973.6V1356.9M795 984.1V1336.4M798.1 994V1378M797.8 997V1358.6M800.4 964V1349.8M802.9 996.5V1341M805.5 992.5V1361.8M807.7 1012.3V1326.3M811.2 975.6V1377.8M813.8 1014.5V1345.6M816.3 1015.9V1325.1M818.3 1019V1336.7M933.3 950.3V1269.4M936.1 939V1274.6M939.1 904.6V1290.2M940.7 912.3V1291.6M942.7 914.1V1321.5M945.5 936.5V1309.8M947.4 947.9V1323.6M950.3 958.2V1341.2M952.4 972.8V1331.4M955.4 971.3V1336.9M955.9 988.3V1336.2M961.6 974.4V1361.3M964.4 959.1V1348.5M969.5 953V1359.8M970.1 948.9V1356.7M972.7 944.5V1360.4M975.9 930.9V1357.1M978.4 935V1392.3M980.3 923.3V1412.7M983.2 933V1365.2M1003.7 1015.3V1350.2M1006.2 1023.4V1352.5M1008.8 1002.9V1327.2M1011.4 1037.6V1326M1014.6 1014.2V1318.7M1015.9 1045.2V1326.7M1018.9 1010.7V1315.7M1021.5 1047.5V1337M1125.6 1012.5V1256.4M1127.9 988.1V1259.8M1130.4 948.2V1274.9M1133.4 953.1V1260.9M1135.9 940.1V1277.1M1138.1 946.2V1265M1139.4 951.9V1316.1M1142 940.1V1242.9M1144.7 940.8V1290.5M1146.7 943.8V1259.7M1150.2 960.7V1265.5M1151.8 992.5V1253M1154 981.5V1256.5M1159.3 971.1V1270.3M1162.2 1007.4V1242.5M1168.4 1045.7V1260.8M1170.2 1033.8V1272.1M1173.6 1019.8V1327.3M1175.7 1006.1V1282.4M1180.8 981.3V1293.8M1181.1 985.2V1317.3M1183.6 957.7V1313.9M1186.6 951.6V1352.2M1189.7 912.4V1324.7M1192.1 921.3V1322.3M1191.8 935.5V1332.8M1194.6 942.4V1313.7M1200.1 954.6V1308.2M1202.6 959.9V1322.2M1300.5 1061.6V1315.6M1303.7 1067.5V1322.8M1306.2 1067.5V1326.2M1308.4 1046.2V1329.5M1311.7 1061.8V1323.1M1311.3 1062.2V1329.2M1314.5 1011V1325.5M1316.4 977.3V1319.2M1319.3 927.2V1319.7M1320.6 901.6V1325.8M1322.9 919.5V1367.5M1325.9 922.8V1338.2M1327.9 907V1328M1329.5 931.5V1339.5M1334.6 939.4V1333M1337.5 950.7V1329.4M1339.8 953.9V1339.5M1340 954.5V1343.3M1342.7 939.8V1338.9M1344.5 945.8V1341.7M1348 962.8V1350.6M1350.5 969V1338M1352.8 984.6V1338.9M1353.7 990V1340.4M1356.9 989.5V1344.4M1359 985.4V1349.9M1362.1 956V1384M1364 1002.7V1364.3M1367.2 966.4V1361.9M1367.5 959.2V1380.5M1370.3 977.8V1430.4M1373.3 1005.9V1457.3M1373 994.6V1458M1376.1 1017.6V1468.5M1378.6 1016.2V1469.9M1380.8 1018.7V1482M1381.6 1019.6V1485.8M1384.5 1022.5V1482.7M1386.8 1017.3V1481.9M1524.2 947.7V1325.6M1526.9 958.9V1346.8M1529.8 941.7V1316.7M1532.4 957.8V1342.5M1534.5 964.3V1317.6M1537.4 964.9V1319.6M1539.4 963.2V1330.9M1542.4 955.1V1327.4M1544.6 940.7V1336.4M1547.6 939.2V1337.7M1548 918.3V1329.7M1549.9 945.6V1352.1M1552.4 943.5V1317.8M1555.9 952.5V1313M1556.6 954.3V1370.9M1558.9 983.9V1320.7M1561.3 993V1326.6M1734.4 1105.2V1310.5M1737.1 1103.1V1342.9M1739.7 1022.6V1334M1741.4 980.6V1383M1743.1 973.8V1369.5M1745.2 970.9V1369.4M1750.7 975.3V1392.9M1753 942.8V1411.1M1755.3 1002.1V1383M1757.6 955.8V1379.5M1760.2 983.8V1390M1763.1 973.3V1411.3M1765.8 994.5V1391.2M1768.7 980.1V1417.1M1770.4 998.9V1408.1M1772.7 967.1V1437.7M1775.6 1003V1380.8M1777.8 968V1384M1792.6 1020.6V1429.1M1794.4 1006.9V1442.2M1797.3 999.8V1470.2M1800.3 971.1V1442.1M1802.2 955.9V1453.5M1807.7 973.5V1463.9M1808.5 978.3V1453.7M1810.2 946.8V1457.4M1813 965.7V1459.2M1815.6 952.8V1467.6M1820.9 975.2V1461.5M1823.2 979.2V1473.9M1826.2 974.4V1483.3M1828.7 953.1V1477.6M1828.8 984.5V1472M1831.5 988.5V1471.9M1833.9 975.7V1480.5M1837 991.1V1488M1839.2 943.4V1484.2M1841.8 982.8V1485.1M1844.6 988.8V1489.7M1846.2 986.7V1491.4M1849.7 999.1V1495.3M1851.7 985.1V1498.5M1854.6 995.8V1501.9M1855.2 1002.7V1503.2M1857.7 903.3V1492.3M1860.1 902.1V1459.4M1863.5 905.2V1419.7M1866.1 901.3V1420.3M1964.1 927.8V1313.7M1966.9 927.8V1312.5M1969.4 914V1292.2M1972.4 923.5V1368.2M1974.7 913.9V1315.9M1976.7 914.8V1352.2M1979.9 923.7V1307.2M1982.4 928.7V1292.6M1984.2 925.5V1322.1M1987.4 932.6V1353.9M2011.7 1038.3V1334.5M2014.4 1045.6V1346.6M2017.1 1048.4V1324.6M2020.2 1041.7V1395.1M2022.7 1041.6V1348.3M2022.6 1032.4V1358.8M2024.9 999.9V1362.9M2032.2 963.3V1410.3M2034.5 958.8V1413.9M2037.7 952.5V1416.4M2040.2 955.3V1412.2M2043.5 920.7V1471.5M2046.1 944.9V1428.1M2049.4 944.4V1468.2M2051.9 942.6V1433.2M2054.4 967.3V1418.8M2054.1 964.7V1438.9M2056.7 971.1V1400.8M2059.5 988.4V1394.4M2162.6 1009.3V1359.8M2165 993.4V1354.1M2167.6 1021.1V1381.5M2170.5 998.6V1362.5M2173 1018.3V1390.9M2175.7 1012.5V1370.4M2178.1 1016.6V1370.5M2180.7 987.9V1400.6M2183.5 1001.2V1371.8M2184.9 1001.7V1388M2186.7 1000.4V1400.8M2190.1 1010.2V1359M2192 997.6V1362.4M2235.2 1010.6V1367.5M2238.2 1005.9V1369.1M2241 963.5V1396M2242.9 973.4V1391.2M2246.3 969.4V1371.9M2248.8 957.4V1387.4M2249.1 948.3V1368.4M2252.5 961V1381.2M2254.7 958.9V1397.2M2256.5 952.7V1401.2M2258.7 963.2V1409.8M2261.7 995.6V1420.8M2382.9 932.3V1349.4M2385.4 950.5V1344M2388.3 919.1V1362.2M2390.5 899.9V1366.9M2393.1 911.6V1377.4M2395.1 916.1V1380M2397.7 918.3V1382.8M2400 979.2V1375.9M2402.5 984.8V1425.4M2447.2 1003.8V1352M2450.4 987.1V1381.4M2452.8 997.9V1393.8M2455.6 994.5V1376.5" stroke="#05A01C" stroke-width="4" stroke-linecap="round" fill="none"/>
<path d="M419.6 1044V1000M419.6 1376.8V1390.2M422.3 1003.2V949M422.3 1373.8V1438.8M424.7 967.7V932.9M424.7 1436.6V1458.3M427 1000V977.6M427 1425V1459.6M428.6 988.2V959.2M428.6 1383.9V1422.8M431.3 951.5V922.6M431.3 1414.2V1450.6M433.8 942.1V923.3M433.8 1402.1V1447.9M436 928V907.4M436 1380V1452M438.9 904.4V900.7M438.9 1447.1V1473.9M438.4 905.2V902.8M438.4 1450.2V1460.9M441 895.5V895.9M441 1377.3V1427.3M444.2 889.4V889M444.2 1371.5V1409.2M446.3 892.3V891.2M446.3 1358.7V1400.7M448.9 892.2V890.9M448.9 1352.4V1369.5M450.8 1339V1379.4M453.7 892.4V891.5M453.7 1419.7V1426.5M456.5 891.3V892.9M456.5 1404.1V1421.1M456.7 892.9V893.6M456.7 1335.2V1378M459.3 900.6V898.7M459.3 1347.1V1374.7M461.4 909.9V907.7M461.4 1338.1V1380.4M461.8 900.9V901M461.8 1359.3V1394.6M464.1 897.8V896.2M464.1 1418V1429.4M467.3 894.7V894.2M467.3 1336.6V1421.5M469.9 909.6V901.5M469.9 1403.2V1441.8M472.6 910.5V906.2M472.6 1349.2V1369.4M473.9 910.9V907M473.9 1358.3V1394.7M476.8 915.8V911M476.8 1371.7V1387M479 918.4V918M479 1364.2V1404.2M481.7 925.4V923.4M481.7 1382.3V1404M484.4 927.3V924.1M484.4 1391.1V1401.9M485.1 921.3V912.6M485.1 1399V1448.8M487.6 951.4V926.1M487.6 1440.7V1466.7M489.4 969.7V925.8M489.4 1445.6V1461.1M491.3 973.8V946.3M491.3 1443.3V1465.8M493.8 1002.3V984.2M493.8 1392.5V1431.8M496.4 1002.9V972M496.4 1401.5V1425M499.6 1007.5V990.7M499.6 1412.3V1434.4M502.3 1022.5V1003.2M502.3 1413.5V1435.3M501.8 1047.8V1003.4M501.8 1415.1V1436.8M504.8 1035.7V1024.3M504.8 1429.2V1445M507.6 1062.2V1052M507.6 1408.6V1431.1M510.4 1046.8V1014.1M510.4 1435.9V1449.1M512.5 999.1V984.2M512.5 1409.4V1465.4M515.1 1059V1044.5M515.1 1435.9V1450.2M518.3 1034.4V1018.4M518.3 1433.5V1445.5M620.9 925V921.1M620.9 1332.3V1352.9M623.8 950.9V933.1M623.8 1353.8V1365.6M625.8 956.4V948.8M625.8 1333.6V1358.3M628.3 961.4V951.9M628.3 1350.3V1362.3M630.1 951.9V947.6M630.1 1337.2V1363.9M633.6 933.7V927.4M633.6 1328.7V1378.7M635.9 955.4V938.2M635.9 1340.6V1364.8M638.3 943.6V934M638.3 1368V1380.6M640.9 979.1V955.1M640.9 1331.2V1353M642.6 976.1V970.7M642.6 1315.6V1328.6M645.5 978.7V956.6M645.5 1338.4V1360.8M648 968.6V962.4M648 1330.8V1341.5M650.7 971V961.7M650.7 1352.8V1361.5M652.9 972V963.4M652.9 1335.7V1350.6M656.3 999.6V991.7M656.3 1343.1V1350.5M658.9 981.6V969.1M658.9 1349V1370.1M660.4 997.1V985.3M660.4 1353.1V1361.5M663.1 975.8V957M663.1 1365.1V1378.7M665.4 1000.6V973.4M665.4 1361.2V1383.8M668.1 1002.4V961.4M668.1 1379.6V1402.8M670.8 988.6V961.2M670.8 1368.2V1395.6M673.3 992.8V965.8M673.3 1363.5V1431.9M674.3 996.9V968.8M674.3 1377.6V1423.1M677.1 990.8V975.4M677.1 1374.9V1391.3M680 988.8V981.7M680 1395.1V1406.6M682.7 971.4V964.3M682.7 1392V1404.8M685.3 981.9V943.4M685.3 1373.8V1423.1M688 978.7V965M688 1374.2V1431.9M688.5 968.6V944.2M688.5 1359.8V1421.3M691.6 973.3V953.2M691.6 1355V1389.7M694 969.3V954.5M694 1347.4V1365.5M696.8 968.7V959M696.8 1346.7V1379.9M699.2 963.7V946.7M699.2 1355.8V1374M699.5 970.7V961.4M699.5 1336.3V1357.2M701.4 966.8V959.9M701.4 1331.9V1353.5M704.7 957.8V950M704.7 1351.9V1375.7M706.8 969.2V957.6M706.8 1346.6V1391.9M710.2 972.6V958.5M710.2 1357.3V1405M758.8 1006.1V979.9M758.8 1360.5V1386.3M761.9 996.2V988.5M761.9 1343.9V1395.2M764.8 996.5V981.6M764.8 1399.9V1419.5M766.7 972.1V961.6M766.7 1373.3V1391.5M769.9 974.7V959.3M769.9 1357.2V1435.2M771.6 960.3V951.7M771.6 1360.1V1388.2M773.2 961.1V958.6M773.2 1358.7V1371.5M776.1 960.9V954.7M776.1 1371V1385.7M778.4 955V953.1M778.4 1379.1V1400.8M781.4 946V943.4M781.4 1387.9V1401.2M783.8 948.1V937.5M783.8 1381.5V1388.7M786.1 935.6V933.3M786.1 1357.1V1380.8M787.1 942.3V920.8M787.1 1364.5V1412.6M789.7 941.8V916.2M789.7 1394.5V1425.6M792.7 970.6V940.1M792.7 1359.9V1427.4M795 981.1V968.2M795 1339.4V1364.3M798.1 991V976.4M798.1 1381V1394.2M797.8 994V978.3M797.8 1361.6V1377.1M800.4 961V951.4M800.4 1352.8V1377M802.9 993.5V976.9M802.9 1344V1400.7M805.5 989.5V963.9M805.5 1364.8V1396.3M807.7 1009.3V973.6M807.7 1329.3V1361.5M811.2 972.6V962.2M811.2 1380.8V1408.6M813.8 1011.5V993.1M813.8 1348.6V1398.1M816.3 1012.9V995.8M816.3 1328.1V1347.7M818.3 1016V998.9M818.3 1339.7V1411.8M933.3 947.3V936.5M933.3 1272.4V1289.3M936.1 936V930.6M936.1 1277.6V1284.4M939.1 901.6V898.5M939.1 1293.2V1312.9M940.7 909.3V900M940.7 1294.6V1322.9M942.7 911.1V900.6M942.7 1324.5V1344.5M945.5 933.5V904.7M945.5 1312.8V1359.5M947.4 944.9V914.7M947.4 1326.6V1350.6M950.3 955.2V925.3M950.3 1344.2V1375.9M952.4 969.8V945.1M952.4 1334.4V1353.9M955.4 968.3V944.5M955.4 1339.9V1380.5M955.9 985.3V978.4M955.9 1339.2V1354.1M959.1 971.1V946.3M959.1 1368.1V1380M961.6 971.4V958.7M961.6 1364.3V1372M964.4 956.1V947.7M964.4 1351.5V1368.5M966.7 952.3V940.8M966.7 1367.2V1382.8M969.5 950V936.3M969.5 1362.8V1378.1M970.1 945.9V932.2M970.1 1359.7V1381.4M972.7 941.5V931.2M972.7 1363.4V1382.6M975.9 927.9V917.1M975.9 1360.1V1377.4M978.4 932V916M978.4 1395.3V1412.8M980.3 920.3V913.2M980.3 1415.7V1419.7M983.2 930V908.2M983.2 1368.2V1399.4M1003.7 1012.3V964.3M1003.7 1353.2V1374.2M1006.2 1020.4V953.9M1006.2 1355.5V1365M1008.8 999.9V963.1M1008.8 1330.2V1359.8M1011.4 1034.6V950.5M1011.4 1329V1373M1014.6 1011.2V985M1014.6 1321.7V1346.4M1015.9 1042.2V995.8M1015.9 1329.7V1364.4M1018.9 1007.7V978.9M1018.9 1318.7V1345.6M1021.5 1044.5V978.2M1021.5 1340V1369.1M1125.6 1009.5V985.1M1125.6 1259.4V1277.2M1127.9 985.1V957.5M1127.9 1262.8V1280.5M1130.4 945.2V929.1M1130.4 1277.9V1286.5M1133.4 950.1V929.9M1133.4 1263.9V1277.8M1135.9 937.1V920.2M1135.9 1280.1V1303.6M1138.1 943.2V936.4M1138.1 1268V1280.4M1139.4 948.9V923.8M1139.4 1319.1V1325.4M1142 937.1V923.4M1142 1245.9V1294.6M1144.7 937.8V931.2M1144.7 1293.5V1328.4M1146.7 940.8V928.3M1146.7 1262.7V1320.7M1150.2 957.7V939.6M1150.2 1268.5V1319.4M1151.8 989.5V967.4M1151.8 1256V1287.6M1154 978.5V958.1M1154 1259.5V1275.3M1156.5 945.5V929.6M1156.5 1257.8V1315.7M1159.3 968.1V955M1159.3 1273.3V1291.2M1162.2 1004.4V954.7M1162.2 1245.5V1282.3M1168.4 1042.7V1014.4M1168.4 1263.8V1294.4M1170.2 1030.8V1013.1M1170.2 1275.1V1294.4M1173.6 1016.8V975.2M1173.6 1330.3V1352.7M1175.7 1003.1V986.5M1175.7 1285.4V1298.5M1178 988.8V970.5M1178 1364V1367.2M1180.8 978.3V973.5M1180.8 1296.8V1330M1181.1 982.2V977.1M1181.1 1320.3V1333M1183.6 954.7V946.1M1183.6 1316.9V1333.3M1186.6 948.6V940M1186.6 1355.2V1364.3M1189.7 909.4V909.9M1189.7 1327.7V1334.1M1192.1 918.3V907.4M1192.1 1325.3V1344.6M1191.8 932.5V918.3M1191.8 1335.8V1346.4M1194.6 939.4V928.9M1194.6 1316.7V1326.1M1197.7 948.4V944.5M1197.7 1318.2V1322.7M1200.1 951.6V946.2M1200.1 1311.2V1317.4M1202.6 956.9V949.5M1202.6 1325.2V1330.6M1300.5 1058.6V1051.7M1300.5 1318.6V1331.5M1303.7 1064.5V1044.7M1303.7 1325.8V1336.4M1306.2 1064.5V1046.1M1306.2 1329.2V1341.3M1308.4 1043.2V1026.6M1308.4 1332.5V1338.5M1311.7 1058.8V1038.6M1311.7 1326.1V1345.9M1311.3 1059.2V1052.4M1311.3 1332.2V1340.8M1314.5 1008V1002.8M1314.5 1328.5V1338.8M1316.4 974.3V966.6M1316.4 1322.2V1337.3M1319.3 924.2V918.9M1319.3 1322.7V1330.7M1320.6 898.6V894.1M1320.6 1328.8V1353.6M1322.9 916.5V905.7M1322.9 1370.5V1375.3M1325.9 919.8V914.8M1325.9 1341.2V1363.5M1327.9 904V896M1327.9 1331V1344.8M1329.5 928.5V921.9M1329.5 1342.5V1356.6M1331.6 928.8V912.4M1331.6 1327.9V1342.6M1334.6 936.4V927.9M1334.6 1336V1342.6M1337.5 947.7V932.5M1337.5 1332.4V1341.7M1339.8 950.9V928.8M1339.8 1342.5V1346.6M1340 951.5V930M1340 1346.3V1347.9M1342.7 936.8V922.8M1342.7 1341.9V1352.1M1344.5 942.8V930.8M1344.5 1344.7V1355.7M1348 959.8V939.5M1348 1353.6V1357.6M1350.5 966V947.4M1350.5 1341V1356.7M1352.8 981.6V960.2M1352.8 1341.9V1363.8M1353.7 987V955.1M1353.7 1343.4V1355.9M1356.9 986.5V967.6M1356.9 1347.4V1350.4M1359 982.4V967.9M1359 1352.9V1364.1M1362.1 953V939.9M1362.1 1387V1390.7M1364 999.7V974.6M1364 1367.3V1376.8M1367.2 963.4V956.7M1367.2 1364.9V1382.6M1367.5 956.2V956.1M1367.5 1383.5V1396M1370.3 974.8V963.4M1370.3 1433.4V1441M1373.3 1002.9V995.4M1373.3 1460.3V1469.1M1373 991.6V979.2M1373 1461V1475.7M1376.1 1014.6V1003.2M1376.1 1471.5V1477.8M1378.6 1013.2V1003.3M1378.6 1472.9V1474.4M1380.8 1015.7V1009.1M1380.8 1485V1486.7M1381.6 1016.6V1007.2M1381.6 1488.8V1489.4M1384.5 1019.5V1009.1M1384.5 1485.7V1488M1386.8 1014.3V1007.2M1386.8 1484.9V1485.9M1524.2 944.7V938.3M1524.2 1328.6V1356.9M1526.9 955.9V946M1526.9 1349.8V1378.9M1529.8 938.7V926.9M1529.8 1319.7V1375.5M1532.4 954.8V951.2M1532.4 1345.5V1372M1534.5 961.3V944.5M1534.5 1320.6V1366.5M1537.4 961.9V952.2M1537.4 1322.6V1343.5M1539.4 960.2V954.7M1539.4 1333.9V1363.1M1542.4 952.1V940.6M1542.4 1330.4V1356.5M1544.6 937.7V922.5M1544.6 1339.4V1408.4M1547.6 936.2V929.7M1547.6 1340.7V1403.7M1548 915.3V910.1M1548 1332.7V1390.7M1549.9 942.6V933.4M1549.9 1355.1V1401.7M1552.4 940.5V934.1M1552.4 1320.8V1407.4M1555.9 949.5V941.3M1555.9 1316V1357.8M1556.6 951.3V935M1556.6 1373.9V1420.7M1558.9 980.9V972.6M1558.9 1323.7V1362.9M1561.3 990V979.5M1561.3 1329.6V1365.3M1734.4 1102.2V1095M1734.4 1313.5V1351.9M1737.1 1100.1V1061.1M1737.1 1345.9V1372.2M1739.7 1019.6V1007.1M1739.7 1337V1353.5M1741.4 977.6V961.9M1741.4 1386V1417.2M1743.1 970.8V956.6M1743.1 1372.5V1394.6M1745.2 967.9V950.7M1745.2 1372.4V1409.3M1748.2 947.1V937.7M1748.2 1424.9V1433.7M1750.7 972.3V948M1750.7 1395.9V1406.9M1753 939.8V933.3M1753 1414.1V1423M1755.3 999.1V963.3M1755.3 1386V1401.3M1757.6 952.8V936.7M1757.6 1382.5V1420.1M1760.2 980.8V928M1760.2 1393V1410.6M1763.1 970.3V943.6M1763.1 1414.3V1427M1765.8 991.5V952.4M1765.8 1394.2V1440.2M1768.7 977.1V957.1M1768.7 1420.1V1448.6M1770.4 995.9V956.2M1770.4 1411.1V1433M1772.7 964.1V942.3M1772.7 1440.7V1463.5M1775.6 1000V983.2M1775.6 1383.8V1413.8M1777.8 965V961.1M1777.8 1387V1422.2M1792.6 1017.6V1012M1792.6 1432.1V1437.8M1794.4 1003.9V1000.7M1794.4 1445.2V1456.5M1797.3 996.8V985.1M1797.3 1473.2V1481.9M1800.3 968.1V963.3M1800.3 1445.1V1466.1M1802.2 952.9V953.3M1802.2 1456.5V1466M1804.9 980.3V966.8M1804.9 1468.6V1474.9M1807.7 970.5V953.5M1807.7 1466.9V1473.6M1808.5 975.3V964.8M1808.5 1456.7V1468.1M1810.2 943.8V931.4M1810.2 1460.4V1485.5M1813 962.7V945.7M1813 1462.2V1486.2M1815.6 949.8V937.9M1815.6 1470.6V1483.3M1817.9 965.6V950.3M1817.9 1467.4V1481.6M1820.9 972.2V953.6M1820.9 1464.5V1479.7M1823.2 976.2V945.6M1823.2 1476.9V1490.2M1826.2 971.4V949.6M1826.2 1486.3V1490.2M1828.7 950.1V945.2M1828.7 1480.6V1488.9M1828.8 981.5V965.4M1828.8 1475V1483.2M1831.5 985.5V959.1M1831.5 1474.9V1490.1M1833.9 972.7V945.1M1833.9 1483.5V1486.3M1837 988.1V967M1837 1491V1495.1M1839.2 940.4V938.5M1839.2 1487.2V1488.9M1841.8 979.8V962.5M1841.8 1488.1V1489M1844.6 985.8V950.3M1844.6 1492.7V1494.4M1846.2 983.7V974.6M1846.2 1494.4V1492.6M1849.7 996.1V983.3M1851.7 982.1V974M1854.6 992.8V970.8M1855.2 999.7V967.8M1857.7 900.3V898.2M1857.7 1495.3V1494.3M1860.1 899.1V899.5M1860.1 1462.4V1477.2M1863.5 902.2V897.7M1863.5 1422.7V1432.9M1866.1 898.3V898.4M1866.1 1423.3V1435.9M1964.1 924.8V922.1M1964.1 1316.7V1329.7M1966.9 924.8V918.9M1966.9 1315.5V1340M1969.4 911V910.1M1969.4 1295.2V1332.4M1972.4 920.5V915.1M1972.4 1371.2V1373.8M1974.7 910.9V907.2M1974.7 1318.9V1333.1M1976.7 911.8V909.3M1976.7 1355.2V1366.3M1979.9 920.7V916.8M1979.9 1310.2V1321.6M1982.4 925.7V920.7M1982.4 1295.6V1322.9M1984.2 922.5V915.2M1984.2 1325.1V1340.9M1987.4 929.6V922.1M1987.4 1356.9V1366.7M2011.7 1035.3V1026.6M2011.7 1337.5V1348.5M2014.4 1042.6V1029.9M2014.4 1349.6V1358.1M2017.1 1045.4V1022M2017.1 1327.6V1347.9M2020.2 1038.7V1007.3M2020.2 1398.1V1411.2M2022.7 1038.6V1023.2M2022.7 1351.3V1366.2M2022.6 1029.4V1013.2M2022.6 1361.8V1392.4M2024.9 996.9V988.8M2024.9 1365.9V1396.6M2027.9 956.5V952.5M2027.9 1406.8V1423.3M2029.7 951.7V946.9M2029.7 1386.4V1410.6M2032.2 960.3V951.4M2032.2 1413.3V1438.5M2034.5 955.8V953.6M2034.5 1416.9V1424.9M2037.7 949.5V947.2M2037.7 1419.4V1429.2M2040.2 952.3V947.6M2040.2 1415.2V1437.9M2042.3 937V932.4M2042.3 1432.8V1441.7M2043.5 917.7V917.3M2043.5 1474.5V1481.1M2046.1 941.9V935.8M2046.1 1431.1V1458.7M2049.4 941.4V930.4M2049.4 1471.2V1487.8M2051.9 939.6V935.1M2051.9 1436.2V1449.7M2054.4 964.3V955.8M2054.4 1421.8V1431.2M2054.1 961.7V954.9M2054.1 1441.9V1449.3M2056.7 968.1V960.1M2056.7 1403.8V1423.4M2059.5 985.4V977.6M2059.5 1397.4V1421.9M2162.6 1006.3V1000.7M2162.6 1362.8V1368.4M2165 990.4V985.6M2165 1357.1V1372.7M2167.6 1018.1V1004M2167.6 1384.5V1401.3M2170.5 995.6V985.5M2170.5 1365.5V1398.5M2173 1015.3V1001.9M2173 1393.9V1421.7M2175.7 1009.5V997.5M2175.7 1373.4V1389.2M2178.1 1013.6V1001.5M2178.1 1373.5V1388.9M2180.7 984.9V975.4M2180.7 1403.6V1417.5M2183.5 998.2V981.3M2183.5 1374.8V1403.8M2184.9 998.7V972.2M2184.9 1391V1414.5M2186.7 997.4V977.4M2186.7 1403.8V1409.8M2190.1 1007.2V989M2190.1 1362V1396.3M2192 994.6V984M2192 1365.4V1392.9M2233.2 1037.8V1016.5M2233.2 1349.3V1363.3M2235.2 1007.6V983.3M2235.2 1370.5V1378.8M2238.2 1002.9V981.2M2238.2 1372.1V1382.8M2241 960.5V954.4M2241 1399V1408.9M2242.9 970.4V956.6M2242.9 1394.2V1403.5M2246.3 966.4V957.8M2246.3 1374.9V1382.5M2248.8 954.4V939.3M2248.8 1390.4V1395.4M2249.1 945.3V939.8M2249.1 1371.4V1382.6M2252.5 958V929.4M2252.5 1384.2V1425.3M2254.7 955.9V940.5M2254.7 1400.2V1434.6M2256.5 949.7V943.6M2256.5 1404.2V1441.9M2258.7 960.2V948M2258.7 1412.8V1453.3M2261.7 992.6V985M2261.7 1423.8V1433.7M2382.9 929.3V921.8M2382.9 1352.4V1374.7M2385.4 947.5V938.5M2385.4 1347V1372.2M2388.3 916.1V907.5M2388.3 1365.2V1373.3M2390.5 896.9V893.1M2390.5 1369.9V1390.1M2393.1 908.6V905.3M2393.1 1380.4V1387.6M2395.1 913.1V904.3M2395.1 1383V1392.2M2397.7 915.3V902.1M2397.7 1385.8V1398.3M2400 976.2V956M2400 1378.9V1392.8M2402.5 981.8V977.9M2447.2 1000.8V988.3M2447.2 1355V1375.4M2450.4 984.1V975.2M2450.4 1384.4V1395M2452.8 994.9V990.3M2452.8 1396.8V1403.8M2455.6 991.5V987.5M2455.6 1379.5V1386.7" stroke="#05A01C" stroke-width="5.8" stroke-linecap="round" stroke-dasharray="0.1 17 3 16 0.1 14 5 19 0.1 15 1 20" fill="none"/>
<path d="M419.6 997V965.8M419.6 1393.2V1414.8M422.3 946V910.5M422.3 1441.8V1478.6M424.7 929.9V917.4M424.7 1461.3V1491.1M427 974.6V954.5M427 1462.6V1487.6M428.6 956.2V906.3M428.6 1425.8V1460.7M431.3 919.6V908.9M431.3 1453.6V1489.4M433.8 920.3V898.5M433.8 1450.9V1482.4M436 904.4V897.9M436 1455V1475.2M438.9 1476.9V1492M438.4 899.8V898.7M438.4 1463.9V1481.6M441 892.9V891.9M441 1430.3V1448M444.2 1412.2V1453.1M446.3 1403.7V1422.6M448.9 1372.5V1408M450.8 1382.4V1408.9M453.7 1429.5V1435.8M456.5 1424.1V1434M456.7 1381V1410.4M459.3 895.7V893.7M459.3 1377.7V1394.6M461.4 904.7V902.4M461.4 1383.4V1407.5M461.8 898V895.6M461.8 1397.6V1426.3M464.1 1432.4V1463M467.3 1424.5V1469.6M469.9 898.5V893.4M469.9 1444.8V1472.4M472.6 1372.4V1388.7M473.9 1397.7V1408.5M476.8 1390V1399.6M479 915V910.5M479 1407.2V1429.9M481.7 920.4V913.2M481.7 1407V1423.7M484.4 921.1V920.1M484.4 1404.9V1427.7M485.1 909.6V902.4M485.1 1451.8V1469.4M487.6 923.1V918.7M487.6 1469.7V1483.9M489.4 922.8V915.7M489.4 1464.1V1492.9M491.3 943.3V919.6M491.3 1468.8V1479.5M493.8 981.2V968.1M493.8 1434.8V1444.7M496.4 969V960M496.4 1428V1438.5M499.6 987.7V974.7M499.6 1437.4V1481.2M502.3 1000.2V986.9M502.3 1438.3V1466M501.8 1000.4V981.9M501.8 1439.8V1464.8M504.8 1021.3V1002.5M504.8 1448V1460.5M507.6 1049V1041M507.6 1434.1V1449.9M510.4 1011.1V986M510.4 1452.1V1468.3M512.5 981.2V978.3M512.5 1468.4V1484.3M515.1 1041.5V1026M515.1 1453.2V1464.9M518.3 1015.4V1013.1M518.3 1448.5V1476M620.9 918.1V912.8M620.9 1355.9V1362.1M623.8 930.1V927.8M623.8 1368.6V1391.4M625.8 945.8V929.4M625.8 1361.3V1369.7M628.3 948.9V944.6M628.3 1365.3V1371.7M630.1 944.6V940.5M630.1 1366.9V1371.1M633.6 924.4V917.7M633.6 1381.7V1394.5M635.9 935.2V927.5M635.9 1367.8V1386.9M638.3 931V925.4M638.3 1383.6V1388.4M640.9 952.1V925.7M640.9 1356V1392.6M642.6 967.7V955.9M642.6 1331.6V1351M645.5 953.6V929.2M645.5 1363.8V1378.7M648 959.4V953.2M648 1344.5V1353.9M650.7 958.7V957.5M650.7 1364.5V1372.1M652.9 960.4V950.4M652.9 1353.6V1374.8M656.3 988.7V979.2M656.3 1353.5V1363.4M658.9 966.1V953.9M658.9 1373.1V1380.2M660.4 982.3V968.3M660.4 1364.5V1373.5M663.1 954V943M663.1 1381.7V1414.8M665.4 970.4V950.3M665.4 1386.8V1417M668.1 958.4V944.2M668.1 1405.8V1440.5M670.8 958.2V945.6M670.8 1398.6V1438.6M673.3 962.8V952.8M673.3 1434.9V1467.9M674.3 965.8V951.1M674.3 1426.1V1450.4M677.1 972.4V966.3M677.1 1394.3V1422.7M680 978.7V962.9M680 1409.6V1432.4M682.7 961.3V947.8M682.7 1407.8V1415.8M685.3 940.4V924.8M685.3 1426.1V1453.5M688 962V945.2M688 1434.9V1448.7M688.5 941.2V929.7M688.5 1424.3V1449.5M691.6 950.2V943.3M691.6 1392.7V1406.9M694 951.5V945.5M694 1368.5V1408M696.8 956V944.8M696.8 1382.9V1404.6M699.2 943.7V930.8M699.2 1377V1408.5M699.5 958.4V940.2M699.5 1360.2V1391.8M701.4 956.9V946.4M701.4 1356.5V1379.3M704.7 947V939.5M704.7 1378.7V1393.4M706.8 954.6V948.9M706.8 1394.9V1429.3M710.2 955.5V946.9M710.2 1408V1434.1M758.8 976.9V974.7M758.8 1389.3V1407.4M761.9 985.5V964.6M761.9 1398.2V1425.9M764.8 978.6V961M764.8 1422.5V1430.8M766.7 1394.5V1413.6M769.9 956.3V943M769.9 1438.2V1449.5M771.6 948.7V942.7M771.6 1391.2V1424.6M773.2 955.6V951.7M773.2 1374.5V1404.9M776.1 951.7V945.8M776.1 1388.7V1416.1M778.4 950.1V947.7M778.4 1403.8V1421.3M781.4 940.4V937.2M781.4 1404.2V1409.6M783.8 934.5V929.6M783.8 1391.7V1404.4M786.1 930.3V928.1M786.1 1383.8V1408.4M787.1 917.8V907.1M787.1 1415.6V1428.2M789.7 913.2V905.2M789.7 1428.6V1441.5M792.7 937.1V928.1M792.7 1430.4V1439.9M795 965.2V950.1M795 1367.3V1391.1M798.1 973.4V959.3M798.1 1397.2V1407.6M797.8 975.3V968.8M797.8 1380.1V1405.6M800.4 948.4V941.1M800.4 1380V1402.1M802.9 973.9V957.4M802.9 1403.7V1437.7M805.5 960.9V951.5M805.5 1399.3V1427.5M807.7 970.6V951.8M807.7 1364.5V1398.3M811.2 959.2V955.3M811.2 1411.6V1448.1M813.8 990.1V963.8M813.8 1401.1V1420.6M816.3 992.8V978.3M816.3 1350.7V1367.6M818.3 995.9V984.3M818.3 1414.8V1440.6M933.3 933.5V932M933.3 1292.3V1297.5M936.1 927.6V921.1M936.1 1287.4V1300.1M939.1 895.5V890.7M939.1 1315.9V1344.3M940.7 897V891.5M940.7 1325.9V1354.1M942.7 897.6V889.9M942.7 1347.5V1354.1M945.5 901.7V898.5M945.5 1362.5V1373.2M947.4 911.7V890.2M947.4 1353.6V1365.6M950.3 922.3V905.1M950.3 1378.9V1386.4M952.4 942.1V926.2M952.4 1356.9V1368.5M955.4 941.5V936.2M955.4 1383.5V1390.7M955.9 975.4V965.8M955.9 1357.1V1365.7M959.1 943.3V936M959.1 1383V1397.5M961.6 955.7V942.5M961.6 1375V1384.3M964.4 944.7V937.7M964.4 1371.5V1388.2M966.7 937.8V933.9M966.7 1385.8V1389.6M969.5 933.3V929.2M969.5 1381.1V1394.8M970.1 929.2V918.3M970.1 1384.4V1392.4M972.7 928.2V924.1M972.7 1385.6V1390.8M975.9 914.1V907.1M975.9 1380.4V1399.8M978.4 913V902M978.4 1415.8V1426.8M980.3 910.2V897.1M980.3 1422.7V1424M983.2 905.2V886.4M983.2 1402.4V1419.7M1003.7 961.3V940.6M1003.7 1377.2V1393.9M1006.2 950.9V936.8M1006.2 1368V1377.5M1008.8 960.1V949.4M1008.8 1362.8V1388M1011.4 947.5V908.1M1011.4 1376V1394.1M1014.6 982V922.6M1014.6 1349.4V1373.4M1015.9 992.8V900.2M1015.9 1367.4V1408.5M1018.9 975.9V953.2M1018.9 1348.6V1364.3M1021.5 975.2V934.2M1021.5 1372.1V1375.4M1125.6 982.1V966.6M1125.6 1280.2V1292.9M1127.9 954.5V940.4M1127.9 1283.5V1298.2M1130.4 926.1V902.6M1130.4 1289.5V1313M1133.4 926.9V896.4M1133.4 1280.8V1303M1135.9 917.2V904.5M1135.9 1306.6V1330M1138.1 933.4V929M1138.1 1283.4V1287.7M1139.4 920.8V912.4M1139.4 1328.4V1330.3M1142 920.4V910.3M1142 1297.6V1342.7M1144.7 928.2V915.7M1144.7 1331.4V1334.1M1146.7 925.3V920.8M1146.7 1323.7V1333M1150.2 936.6V928.3M1150.2 1322.4V1347.1M1151.8 964.4V941.9M1151.8 1290.6V1305.2M1154 955.1V938.6M1154 1278.3V1294M1156.5 926.6V922.2M1156.5 1318.7V1335.1M1159.3 952V945.3M1159.3 1294.2V1309.6M1162.2 951.7V937.3M1162.2 1285.3V1334.2M1168.4 1011.4V996.3M1168.4 1297.4V1304.4M1170.2 1010.1V993M1170.2 1297.4V1322M1173.6 972.2V962.6M1173.6 1355.7V1369.2M1175.7 983.5V974.4M1175.7 1301.5V1328.8M1178 967.5V954.2M1178 1370.2V1376.6M1180.8 970.5V965.6M1180.8 1333V1355.3M1181.1 974.1V965.2M1181.1 1336V1365.3M1183.6 943.1V936.5M1183.6 1336.3V1358.1M1186.6 937V925.8M1186.6 1367.3V1371.6M1189.7 1337.1V1345.5M1192.1 904.4V901.2M1192.1 1347.6V1353.6M1191.8 915.3V906.8M1191.8 1349.4V1361.9M1194.6 925.9V922.5M1194.6 1329.1V1331.7M1197.7 941.5V939.2M1197.7 1325.7V1335.8M1200.1 943.2V941.8M1200.1 1320.4V1321.7M1202.6 946.5V938.1M1202.6 1333.6V1341.1M1300.5 1048.7V1030.3M1300.5 1334.5V1339.9M1303.7 1041.7V1023.7M1303.7 1339.4V1345.6M1306.2 1043.1V1026.3M1306.2 1344.3V1348.3M1308.4 1023.6V1021M1308.4 1341.5V1356.6M1311.7 1035.6V1018.6M1311.7 1348.9V1363M1311.3 1049.4V1033.2M1311.3 1343.8V1350.3M1314.5 999.8V993.9M1314.5 1341.8V1350.3M1316.4 963.6V954.4M1316.4 1340.3V1344.6M1319.3 915.9V914.7M1319.3 1333.7V1349.4M1320.6 1356.6V1361.6M1322.9 902.7V897.8M1322.9 1378.3V1384.1M1325.9 911.8V897.3M1325.9 1366.5V1381.3M1327.9 893V887.8M1327.9 1347.8V1370.9M1329.5 918.9V914.7M1329.5 1359.6V1367.8M1331.6 909.4V897.8M1331.6 1345.6V1364.6M1334.6 924.9V910.3M1334.6 1345.6V1348.2M1337.5 929.5V916.7M1337.5 1344.7V1345.8M1339.8 925.8V904M1339.8 1349.6V1351.5M1340 927V911.6M1340 1350.9V1352.3M1342.7 919.8V903.8M1342.7 1355.1V1360.7M1344.5 927.8V919.1M1344.5 1358.7V1361M1348 936.5V922.8M1348 1360.6V1366.5M1350.5 944.4V895.7M1350.5 1359.7V1364.4M1352.8 957.2V923.8M1352.8 1366.8V1375.2M1353.7 952.1V926M1353.7 1358.9V1383M1356.9 964.6V950.6M1356.9 1353.4V1357.3M1359 964.9V959.6M1359 1367.1V1373.8M1362.1 936.9V928.2M1362.1 1393.7V1402.5M1364 971.6V962.3M1364 1379.8V1391.9M1367.2 1385.6V1396.8M1367.5 953.1V950M1367.5 1399V1419.1M1370.3 960.4V956.7M1370.3 1444V1455.9M1373.3 992.4V980.2M1373.3 1472.1V1477.4M1373 976.2V966.3M1373 1478.7V1491M1376.1 1000.2V994.5M1378.6 1000.3V993.8M1380.8 1006.1V997.1M1380.8 1489.7V1491.1M1384.5 1006.1V999M1386.8 1004.2V1002.6M1524.2 935.3V927.1M1524.2 1359.9V1383.7M1526.9 943V930.1M1526.9 1381.9V1392.4M1529.8 923.9V917.9M1529.8 1378.5V1392.1M1532.4 948.2V934.5M1532.4 1375V1383.8M1534.5 941.5V929.7M1534.5 1369.5V1411.3M1537.4 949.2V919.5M1537.4 1346.5V1397.2M1539.4 951.7V941.8M1539.4 1366.1V1371.8M1542.4 937.6V935.8M1542.4 1359.5V1380.2M1544.6 919.5V917.1M1544.6 1411.4V1448.5M1547.6 926.7V909.6M1547.6 1406.7V1454.8M1548 1393.7V1423.2M1549.9 930.4V911.7M1549.9 1404.7V1418.8M1552.4 931.1V924M1552.4 1410.4V1434.8M1555.9 938.3V931.8M1555.9 1360.8V1410.7M1556.6 932V930.4M1556.6 1423.7V1435.4M1558.9 969.6V957.4M1558.9 1365.9V1397.5M1561.3 1368.3V1420.7M1734.4 1092V1089.1M1734.4 1354.9V1364.3M1737.1 1058.1V1049.4M1737.1 1375.2V1388M1739.7 1004.1V995.5M1739.7 1356.5V1405.8M1741.4 958.9V948.2M1741.4 1420.2V1426.3M1743.1 953.6V943.8M1743.1 1397.6V1410.6M1745.2 947.7V922.5M1745.2 1412.3V1440.7M1748.2 934.7V910.5M1748.2 1436.7V1444.6M1750.7 945V918.7M1750.7 1409.9V1442M1753 930.3V917.1M1753 1426V1432.5M1755.3 960.3V939.1M1755.3 1404.3V1427.9M1757.6 933.7V912.8M1757.6 1423.1V1444.3M1760.2 925V913.9M1760.2 1413.6V1444M1763.1 940.6V927.7M1763.1 1430V1456.9M1765.8 949.4V927.8M1765.8 1443.2V1456.7M1768.7 954.1V937.9M1768.7 1451.6V1468.3M1770.4 953.2V934.4M1770.4 1436V1460.6M1772.7 939.3V922.8M1772.7 1466.5V1468.9M1775.6 980.2V950.6M1775.6 1416.8V1445.7M1777.8 958.1V957.1M1777.8 1425.2V1455.1M1792.6 1009V1006.9M1792.6 1440.8V1449.6M1794.4 997.7V991.8M1794.4 1459.5V1469.1M1797.3 982.1V969.8M1797.3 1484.9V1486.5M1800.3 1469.1V1479M1802.2 1469V1477.6M1804.9 963.8V948.6M1804.9 1477.9V1487M1807.7 950.5V937M1807.7 1476.6V1490M1808.5 961.8V939.2M1808.5 1471.1V1484.9M1810.2 928.4V925.9M1810.2 1488.5V1496.1M1813 942.7V930.7M1813 1489.2V1496.2M1815.6 934.9V927.5M1815.6 1486.3V1490.4M1817.9 947.3V942.8M1817.9 1484.6V1491.1M1820.9 950.6V928.2M1820.9 1482.7V1497.3M1823.2 942.6V938.2M1823.2 1493.2V1496M1826.2 946.6V943M1828.7 942.2V931M1828.8 962.4V932.9M1828.8 1486.2V1491.5M1831.5 956.1V937.1M1833.9 942.1V933M1833.9 1489.3V1496.8M1837 964V935.2M1839.2 935.5V930.8M1839.2 1491.9V1496.5M1841.8 959.5V951.4M1841.8 1492V1494.6M1844.6 947.3V943.5M1846.2 971.6V966.7M1849.7 980.3V974M1851.7 971V943.4M1854.6 967.8V952.9M1855.2 964.8V956.6M1857.7 895.2V892.8M1860.1 896.5V895M1860.1 1480.2V1485.1M1863.5 1435.9V1472.3M1866.1 895.4V892.7M1866.1 1438.9V1468.2M1964.1 919.1V915.9M1964.1 1332.7V1348.4M1966.9 915.9V904.2M1966.9 1343V1361.5M1969.4 1335.4V1352.2M1972.4 912.1V906.6M1974.7 1336.1V1369.9M1976.7 906.3V903.9M1976.7 1369.3V1370.5M1979.9 913.8V910.8M1979.9 1324.6V1358.5M1982.4 917.7V910M1982.4 1325.9V1363M1984.2 912.2V909.3M1984.2 1343.9V1377.9M1987.4 919.1V915.1M1987.4 1369.7V1371.1M2011.7 1023.6V1016.2M2011.7 1351.5V1375.1M2014.4 1026.9V1017.5M2014.4 1361.1V1372.5M2017.1 1019V1000.7M2017.1 1350.9V1388M2020.2 1004.3V996.7M2020.2 1414.2V1415.5M2022.7 1020.2V995.9M2022.7 1369.2V1414.8M2022.6 1010.2V998.8M2022.6 1395.4V1414.2M2024.9 985.8V978.3M2024.9 1399.6V1422.3M2027.9 949.5V948.3M2027.9 1426.3V1438.7M2029.7 943.9V935.1M2029.7 1413.6V1457.8M2032.2 948.4V943.3M2032.2 1441.5V1452M2034.5 950.6V947.3M2034.5 1427.9V1447.7M2037.7 1432.2V1441.6M2040.2 944.6V940.5M2040.2 1440.9V1449.9M2042.3 929.4V928.3M2042.3 1444.7V1460.8M2043.5 1484.1V1497.8M2046.1 932.8V929.5M2046.1 1461.7V1488.1M2049.4 927.4V926.1M2051.9 932.1V929.9M2051.9 1452.7V1470.4M2054.4 952.8V949.6M2054.4 1434.2V1442.8M2054.1 951.9V950M2054.1 1452.3V1456.2M2056.7 957.1V955.6M2056.7 1426.4V1429.5M2059.5 974.6V957.3M2059.5 1424.9V1431.7M2162.6 997.7V986M2162.6 1371.4V1381.8M2165 982.6V981M2165 1375.7V1395.9M2167.6 1001V989M2167.6 1404.3V1407.7M2170.5 982.5V976.7M2170.5 1401.5V1425.7M2173 998.9V978.6M2173 1424.7V1429.7M2175.7 994.5V981.8M2175.7 1392.2V1415.4M2178.1 998.5V991.7M2178.1 1391.9V1407M2180.7 972.4V969.1M2180.7 1420.5V1422.6M2183.5 978.3V953.7M2183.5 1406.8V1429.8M2184.9 969.2V950.3M2184.9 1417.5V1425.4M2186.7 974.4V965.1M2186.7 1412.8V1416.9M2190.1 986V967.4M2190.1 1399.3V1420.7M2192 981V971.5M2192 1395.9V1407.3M2233.2 1013.5V992.5M2233.2 1366.3V1375.3M2235.2 980.3V970.8M2235.2 1381.8V1389.2M2238.2 978.2V957.8M2238.2 1385.8V1392.2M2241 951.4V930.8M2241 1411.9V1418.4M2242.9 953.6V927.2M2242.9 1406.5V1411.7M2246.3 954.8V941M2246.3 1385.5V1388.6M2248.8 936.3V930.2M2248.8 1398.4V1401.9M2249.1 936.8V924.5M2249.1 1385.6V1398.9M2252.5 926.4V917.5M2252.5 1428.3V1440.5M2254.7 937.5V932.7M2254.7 1437.6V1450.4M2256.5 940.6V936.4M2256.5 1444.9V1468M2258.7 945V941.3M2258.7 1456.3V1466.8M2261.7 982V979.4M2261.7 1436.7V1439.9M2382.9 918.8V911.8M2382.9 1377.7V1390.7M2385.4 935.5V925.9M2385.4 1375.2V1387.2M2388.3 904.5V902.9M2388.3 1376.3V1389.1M2390.5 1393.1V1402M2393.1 902.3V898.7M2393.1 1390.6V1402.6M2395.1 901.3V897.9M2395.1 1395.2V1400.8M2397.7 899.1V895.8M2397.7 1401.3V1410.6M2400 953V949M2400 1395.8V1415.3M2402.5 974.9V971.2M2447.2 985.3V980.2M2447.2 1378.4V1383.8M2450.4 1398V1400.5M2452.8 987.3V982.3M2455.6 1389.7V1391.6" stroke="#05A01C" stroke-width="6.4" stroke-linecap="round" stroke-dasharray="0.1 32 0.1 44 2 36 0.1 54 0.1 28 2 40" fill="none"/>
<path d="M469.9 912.6V1400.2M628.3 964.4V1347.3M660.4 1000.1V1350.1M959.1 974.1V1365.1M966.7 955.3V1364.2M1156.5 948.5V1254.8M1178 991.8V1361M1197.7 951.4V1315.2M1331.6 931.8V1324.9M1748.2 950.1V1421.9M1804.9 983.3V1465.6M1817.9 968.6V1464.4M2027.9 959.5V1403.8M2029.7 954.7V1383.4M2042.3 940V1429.8M2233.2 1040.8V1346.3" stroke="#05A01C" stroke-width="3.6" stroke-linecap="round" stroke-dasharray="2 7 9 6 1 8 14 7 3 9 1 6" fill="none"/>
<path d="M420 1457h0M422 911h0m0 13h0m0 35h0m1 13h0m-2 450h0m1 5h0m0 50h0m1 1h0M425 916h0m-1 538h0m1 37h0M427 917h0m0 23h0m0 1h0m0 14h0m-1 9h0m1 488h0m0 19h0m0 17h0M429 926h0m0 2h0m0 4h0m1 22h0m0 472h0m-1 62h0m1 1h0M431 925h0m1 2h0m-1 1h0m0 548h0m0 13h0m0 4h0M434 914h0m1 522h0M436 894h0m-1 6h0m1 4h0m-1 538h0M438 893h0M441 891h0m-1 523h0m1 35h0M446 1406h0m0 26h0M449 1392h0M457 1369h0m-1 63h0M459 1377h0m0 51h0M462 1401h0M464 1451h0m-1 9h0M467 1462h0m0 8h0M470 899h0m-1 567h0M473 1469h0M485 1435h0m0 27h0m1 19h0M488 1498h0M489 934h0m-1 531h0m0 8h0m1 13h0M494 951h0m-1 537h0M496 966h0m0 6h0m-1 486h0M500 944h0m0 549h0m0 0h0M502 998h0M510 1472h0m-1 19h0M513 1448h0m1 6h0M515 1463h0m0 18h0M437 867.1h0M442 1524.4h0M455 1524.4h0M487 867.1h0M468 867.1h0M441 1524.4h0M429 867.1h0M624 1376h0M634 925h0m0 434h0m0 35h0M638 921h0m-1 10h0M641 939h0m-1 449h0m0 7h0M645 1361h0m1 22h0M648 1397h0M660 1384h0M665 1405h0m-1 9h0m0 27h0m0 3h0M668 971h0m0 3h0m0 449h0M671 1438h0M673 958h0m0 10h0m0 428h0m-1 2h0M674 1422h0m-1 48h0M680 953h0M683 941h0M685 1456h0M688 928h0m-1 501h0m2 1h0M688 928h0m0 7h0m1 3h0m0 488h0m-1 10h0M692 922h0m-1 11h0m2 466h0m-1 18h0M694 1459h0M710 1450h0m1 47h0M759 976h0m-1 407h0m1 7h0m0 0h0m1 4h0m0 35h0M762 977h0m0 418h0m0 25h0M765 955h0m0 458h0M770 943h0m0 447h0m0 54h0m-1 3h0m1 19h0M776 1415h0M787 915h0m-1 0h0m1 6h0m1 507h0m-1 2h0m0 15h0M790 921h0m1 9h0m0 521h0M793 947h0m0 7h0m0 454h0m0 14h0m0 4h0M798 1424h0M800 946h0m-1 499h0M803 962h0m0 477h0m0 3h0M805 963h0m1 450h0m-1 10h0m-1 25h0M808 985h0m0 4h0m-1 407h0m1 2h0m-1 4h0m1 4h0m0 0h0m-1 33h0m1 4h0M811 1447h0M814 1384h0m0 36h0m0 3h0m-1 7h0M816 997h0m0 383h0M818 992h0m1 388h0m-2 10h0m1 16h0m1 8h0m-1 24h0m-1 0h0M721 1058h0M748 1088h0M714 1289h0M724 1215h0M722 1031h0M717 1101h0M721 939h0M716 1279h0M745 981h0M715 883h0M744 1217h0M726 1226h0M642 867.1h0M729 867.1h0M771 1524.4h0M658 867.1h0M809 1524.4h0M701 867.1h0M784 867.1h0M717 1524.4h0M694 867.1h0M679 1524.4h0M701 867.1h0M688 1524.4h0M657 867.1h0M661 1524.4h0M776 1524.4h0M705 867.1h0M699 867.1h0M686 1524.4h0M939 1324h0m0 10h0m0 6h0m1 8h0M941 1341h0M943 895h0m-1 4h0m1 4h0m-1 441h0M946 1359h0M947 1381h0M950 1369h0M952 952h0m1 402h0m-2 44h0M955 1389h0m0 4h0M959 931h0m1 17h0m-2 451h0m1 3h0M962 1417h0M967 907h0M973 1426h0M978 898h0M980 887h0M983 893h0m-1 497h0M1004 961h0m1 14h0m-1 419h0m1 4h0M1006 936h0m-1 13h0m2 19h0m0 2h0m-1 8h0M1009 923h0m0 479h0M1011 928h0m-1 11h0m0 11h0m1 28h0m1 381h0M1015 1369h0m-1 29h0M1019 914h0m1 46h0m0 390h0m-2 12h0m0 7h0m1 2h0m1 3h0M1021 932h0m0 4h0m0 3h0m0 12h0m0 30h0m0 28h0m-1 359h0M979 1450h0M980 1480h0M963 1439h0M953 1446h0M963 1458h0M967 1457h0M963 1435h0M962 1421h0M977 1435h0M966 1489h0M953 1442h0M981 1446h0M1005 1423h0M1016 1454h0M1035 1439h0M1027 1433h0M1025 1412h0M1019 1412h0M1011 1457h0M1005 1437h0M1007 1387h0M1035 1400h0M1033 1423h0M1008 1416h0M991 1220h0M1000 1225h0M995 1408h0M989 1135h0M999 1265h0M1001 1338h0M999 1291h0M999 1281h0M992 1073h0M992 1097h0M1038 1285h0M1031 1078h0M1028 1254h0M1025 1158h0M1035 1187h0M1040 1183h0M1029 1141h0M1036 1218h0M1030 1286h0M1025 1094h0M1030 1067h0M1024 1199h0M1037 1309h0M1036 1180h0M1024 1099h0M1034 1127h0M1023 1073h0M1034 1224h0M1025 1126h0M1024 1213h0M1024 1298h0M1028 1164h0M1028 1153h0M1035 1229h0M1034 1076h0M1037 1306h0M1030 1293h0M1026 1079h0M1023 1314h0M1024 1226h0M1026 1284h0M1035 1238h0M1038 1036h0M1037 1272h0M1030 1213h0M1032 1194h0M1032 1345h0M1027 1022h0M1033 1213h0M1032 1325h0M1030 1386h0M1028 1292h0M1029 1242h0M1038 1124h0M1033 1363h0M1036 1191h0M1027 1224h0M1024 1047h0M1024 1219h0M1034 1244h0M1038 1329h0M1034 1019h0M1035 1053h0M1025 1143h0M1038 1331h0M1027 1177h0M1032 1116h0M1026 1382h0M1036 1068h0M1031 1081h0M1028 1318h0M1025 1258h0M1031 1173h0M1033 1218h0M1025 1024h0M1037 1038h0M1036 1048h0M1039 1227h0M1026 1136h0M1033 1329h0M978 867.1h0M976 1524.4h0M1023 1524.4h0M960 867.1h0M985 867.1h0M949 867.1h0M1002 867.1h0M960 1524.4h0M1036 867.1h0M946 1524.4h0M1126 966h0m1 18h0M1128 921h0m0 7h0m0 27h0M1130 923h0m0 0h0m0 368h0m0 18h0M1133 927h0m0 381h0M1136 911h0m1 399h0m0 16h0m0 0h0M1139 904h0m0 7h0m-1 14h0m2 11h0M1142 1274h0m0 11h0m0 47h0m1 6h0M1145 910h0m-1 5h0m1 6h0m0 390h0m0 35h0M1147 1301h0m0 23h0m-1 11h0M1150 914h0m-1 1h0M1152 917h0m0 13h0m1 26h0m0 354h0m-1 26h0m0 4h0M1154 1307h0m-1 18h0M1156 1293h0m0 30h0m0 8h0m0 2h0m0 11h0M1159 930h0m1 375h0m0 4h0m-1 14h0m1 13h0m0 2h0m-1 4h0M1162 959h0m0 17h0m1 311h0m-1 16h0M1174 968h0m1 8h0m-1 3h0m0 13h0m1 354h0m0 1h0m-1 17h0M1178 972h0M1181 963h0m1 372h0m0 15h0m-2 36h0m1 7h0M1181 1363h0M1190 1360h0M1192 1353h0M1192 901h0m0 11h0m-1 1h0m1 10h0M1203 1336h0M1160 1399h0M1200 1418h0M1160 1351h0M1193 1425h0M1176 1401h0M1160 1412h0M1190 1360h0M1148 1387h0M1170 1349h0M1169 1428h0M1181 1408h0M1184 1430h0M1145 1405h0M1169 1392h0M1196 1360h0M1157 1381h0M1183 1366h0M1194 1427h0M1199 1524.4h0M1191 867.1h0M1151 867.1h0M1193 867.1h0M1308 1014h0M1312 1016h0M1316 1369h0M1321 1358h0m-1 16h0m2 13h0M1323 1382h0m-1 4h0M1326 1383h0M1329 893h0M1340 895h0m-1 460h0m2 2h0m-1 1h0M1340 925h0M1345 1366h0M1348 1371h0M1350 929h0m-1 7h0M1353 912h0m-1 11h0m0 6h0m1 4h0m-1 12h0m2 7h0M1354 921h0m-1 20h0M1362 928h0M1364 939h0m0 458h0M1367 950h0M1370 1451h0M1373 973h0m-1 3h0m1 509h0M1373 1473h0M1351 1446h0M1331 1381h0M1363 1438h0M1324 1465h0M1351 1393h0M1357 1431h0M1313 1443h0M1317 1453h0M1329 1379h0M1366 1449h0M1342 1465h0M1341 1414h0M1332 1377h0M1312 1405h0M1341 1442h0M1365 1402h0M1325 1458h0M1348 1383h0M1339 1437h0M1347 1401h0M1330 1425h0M1332 1379h0M1333 1379h0M1350 1396h0M1344 1414h0M1330 867.1h0M1321 867.1h0M1381 867.1h0M1375 1524.4h0M1375 867.1h0M1372 1524.4h0M1334 1524.4h0M1524 1390h0M1527 922h0m1 464h0m0 3h0M1530 1366h0m-1 2h0m2 4h0M1535 945h0M1537 1369h0m0 31h0m0 25h0M1545 928h0m1 450h0m-1 21h0m0 20h0m-1 5h0m0 26h0M1548 921h0m1 1h0m0 481h0m0 4h0m0 13h0m0 7h0M1548 913h0m-1 509h0m1 7h0M1550 923h0m0 532h0M1552 1378h0m-1 12h0m2 6h0m-1 2h0m0 23h0m0 30h0M1556 927h0M1557 1402h0m0 1h0m-1 26h0m2 1h0m-1 15h0M1561 1387h0m0 25h0M1574 1355h0M1570 1176h0M1572 1133h0M1569 1157h0M1587 1336h0M1578 1279h0M1582 1289h0M1572 1304h0M1587 1281h0M1579 1154h0M1583 1136h0M1571 1184h0M1584 1286h0M1566 1127h0M1566 1107h0M1574 1188h0M1576 1319h0M1568 1287h0M1580 1252h0M1584 1152h0M1578 1340h0M1575 1215h0M1588 1221h0M1567 1288h0M1568 1350h0M1624 1208h0M1613 1089h0M1610 1227h0M1615 1131h0M1624 1118h0M1624 1166h0M1626 1234h0M1609 1164h0M1623 1212h0M1603 1139h0M1609 1275h0M1622 1308h0M1608 1110h0M1614 1178h0M1609 1131h0M1624 1224h0M1602 1297h0M1626 1106h0M1599 1254h0M1600 1229h0M1613 1238h0M1616 1283h0M1612 1312h0M1618 1250h0M1604 1131h0M1624 1098h0M1621 1138h0M1625 1210h0M1614 1304h0M1625 1269h0M1619 1233h0M1611 1216h0M1613 1172h0M1599 1126h0M1606 1114h0M1592 977h0M1594 1362h0M1595 1029h0M1591 1134h0M1596 1192h0M1593 1086h0M1596 1244h0M1593 1235h0M1593 1449h0M1594 1085h0M1590 1398h0M1593 1314h0M1591 1325h0M1592 1052h0M1596 1100h0M1592 1243h0M1592 1154h0M1595 1405h0M1592 1382h0M1592 1052h0M1594 1431h0M1592 1057h0M1596 1208h0M1595 1461h0M1592 1297h0M1591 1467h0M1594 1053h0M1593 1310h0M1592 1396h0M1592 1264h0M1590 1373h0M1592 1395h0M1591 1417h0M1596 1394h0M1595 1061h0M1590 1313h0M1594 1114h0M1593 1293h0M1594 1433h0M1593 1313h0M1592 1191h0M1591 1041h0M1593 1181h0M1593 1311h0M1595 1351h0M1593 1275h0M1592 1373h0M1592 1034h0M1594 1132h0M1594 1116h0M1590 1096h0M1592 1234h0M1595 1383h0M1590 1073h0M1594 1457h0M1595 1368h0M1593 1333h0M1595 1378h0M1594 1299h0M1593 1099h0M1596 1398h0M1594 1383h0M1593 1102h0M1592 1224h0M1595 1379h0M1590 1139h0M1595 1104h0M1596 1211h0M1593 1303h0M1593 1389h0M1595 1233h0M1590 1319h0M1592 1076h0M1589 1127h0M1591 1211h0M1591 1234h0M1571 867.1h0M1617 1524.4h0M1581 867.1h0M1578 1524.4h0M1616 867.1h0M1557 1524.4h0M1734 1075h0m0 302h0M1737 1057h0M1740 973h0m1 405h0m-2 20h0M1741 929h0m-1 475h0M1743 897h0m-1 41h0m0 476h0m1 6h0M1745 942h0M1748 908h0m0 9h0m-1 523h0M1751 1448h0m1 16h0M1758 1438h0m0 26h0M1760 925h0m0 509h0M1763 914h0M1766 940h0m0 487h0m0 4h0M1769 949h0m0 7h0M1770 947h0m0 14h0m0 502h0m1 2h0M1773 1451h0m0 2h0M1776 957h0m-1 478h0m0 5h0M1778 1460h0m-1 2h0M1793 1005h0m0 457h0M1797 973h0m0 7h0m0 5h0M1800 964h0M1802 950h0M1805 945h0M1808 932h0M1808 945h0M1810 1476h0M1813 953h0m0 522h0M1816 933h0m0 548h0M1818 937h0m1 7h0m0 542h0m-1 3h0M1821 944h0M1823 929h0m0 10h0m1 557h0M1829 962h0M1834 935h0m-1 556h0M1837 930h0M1839 1491h0M1842 953h0m-1 7h0m2 530h0m-1 8h0M1845 935h0M1855 967h0m0 10h0M1855 949h0M1863 1459h0M1866 891h0m-1 572h0M1786 1367h0M1789 1388h0M1785 1400h0M1785 1372h0M1789 1242h0M1786 1308h0M1785 1346h0M1787 1433h0M1788 1029h0M1789 1014h0M1784 1140h0M1789 1332h0M1787 1134h0M1784 1169h0M1788 1138h0M1738 1245h0M1724 1044h0M1723 1272h0M1732 1212h0M1735 993h0M1725 1268h0M1730 1266h0M1737 1044h0M1732 1144h0M1733 967h0M1722 1366h0M1738 1238h0M1724 1076h0M1737 1368h0M1726 1218h0M1790 867.1h0M1833 867.1h0M1779 867.1h0M1736 1524.4h0M1789 867.1h0M1738 867.1h0M1803 1524.4h0M1819 1524.4h0M1844 867.1h0M1743 867.1h0M1967 1335h0m0 3h0M1969 1320h0m0 10h0m-1 37h0M1972 902h0M1982 1367h0M1984 911h0m0 443h0M1987 1371h0M2012 1027h0M2017 993h0m0 20h0m0 15h0m-1 373h0m0 3h0m2 11h0M2020 991h0m1 6h0m-1 20h0m-1 5h0M2023 1380h0m0 12h0M2023 1011h0m1 380h0m-1 27h0m0 11h0M2025 1394h0m0 52h0M2028 955h0m1 482h0m-1 8h0M2030 941h0m-1 519h0m1 8h0M2044 913h0m-1 3h0M2046 1449h0M2049 1494h0m0 3h0M2052 1488h0M2059 973h0M2034 867.1h0M2034 867.1h0M2025 867.1h0M2034 1524.4h0M2020 867.1h0M1981 867.1h0M2022 867.1h0M1994 867.1h0M2163 996h0m0 384h0M2165 1371h0M2168 989h0m-1 420h0m0 5h0m2 1h0M2173 978h0m1 17h0M2178 1000h0m1 428h0m-1 5h0M2184 1398h0M2185 976h0m-1 440h0m1 3h0M2187 957h0m1 15h0m0 7h0m-2 437h0M2190 954h0m-1 14h0m2 7h0m0 435h0M2238 965h0M2243 1430h0M2249 900h0M2253 910h0m0 11h0m0 8h0m-1 6h0m2 478h0m-2 9h0m2 11h0m-1 0h0M2255 1436h0m1 11h0m-2 7h0M2259 1433h0m0 14h0M2196 1196h0M2197 1151h0M2200 1210h0M2197 1107h0M2199 1135h0M2202 1164h0M2221 1290h0M2187 893h0M2236 867.1h0M2200 1524.4h0M2165 1524.4h0M2257 867.1h0M2181 1524.4h0M2244 867.1h0M2243 867.1h0M2395 1409h0M2398 888h0m1 534h0M2447 1406h0M2450 1396h0M2453 959h0M2375 993h0M2371 1019h0M2377 941h0M2370 968h0M2371 1040h0M2376 999h0M2369 972h0M2372 1038h0M2376 1085h0M2373 1069h0M2369 1061h0M2374 1010h0M2372 937h0M2371 1027h0M2369 1020h0M2372 1086h0M2376 1052h0M2374 1068h0M2373 959h0M2371 939h0M2375 1026h0M2374 947h0M2377 954h0M2370 920h0M2375 1035h0M2400 1478h0M2386 1465h0M2384 1454h0M2385 1430h0M2391 1413h0M2383 1472h0M2435 1452h0M2433 1456h0M2419 1067h0M2417 1172h0M2419 1262h0M2419 1152h0M2418 1213h0M2417 1091h0M2420 1272h0M2415 1111h0M2418 1234h0M2421 1251h0M2417 1113h0M2419 1125h0M2416 1070h0M2420 1271h0M2415 1020h0M2420 1274h0M2417 1171h0M2415 1225h0M2416 1156h0M2417 1150h0M2419 1211h0M2417 1276h0M2418 1269h0M2415 1250h0M2415 1066h0M2419 1255h0M2415 1092h0M2417 1270h0M2418 1009h0M2420 1013h0M2418 1136h0M2417 1068h0M2418 1193h0M2417 1028h0M2415 1200h0M2419 1077h0M2421 1172h0M2416 1091h0M2420 1007h0M2417 990h0M2418 1043h0M2416 1121h0M2420 1171h0M2418 1196h0M2418 1151h0M2425 867.1h0M2425 1524.4h0M2429 867.1h0M2371 1524.4h0M2390 867.1h0M2389 867.1h0M2417 1524.4h0M2405 867.1h0M2387 1524.4h0M2407 867.1h0" stroke="#05A01C" stroke-width="6.8" stroke-linecap="round" fill="none"/>
<line x1="280.4" x2="2458.8" y1="1190.2" y2="1190.2" stroke="#fff" stroke-opacity="0.75" stroke-width="1.6" stroke-dasharray="9 3 4 2 14 4 3 3"/>
<line x1="280.4" x2="2458.8" y1="1200.8" y2="1200.8" stroke="#fff" stroke-opacity="0.75" stroke-width="1.6" stroke-dasharray="9 3 4 2 14 4 3 3"/>
<line x1="280.4" x2="2458.8" y1="1305.4" y2="1305.4" stroke="#fff" stroke-opacity="0.5" stroke-width="1.2" stroke-dasharray="9 3 4 2 14 4 3 3"/>
<line x1="280.4" x2="2458.8" y1="1085.6" y2="1085.6" stroke="#fff" stroke-opacity="0.5" stroke-width="1.2" stroke-dasharray="9 3 4 2 14 4 3 3"/>
<line x1="280.4" x2="2458.8" y1="1360" y2="1360" stroke="#fff" stroke-opacity="0.4" stroke-width="1.0" stroke-dasharray="9 3 4 2 14 4 3 3"/>
<line x1="280.4" x2="2458.8" y1="1031.1" y2="1031.1" stroke="#fff" stroke-opacity="0.4" stroke-width="1.0" stroke-dasharray="9 3 4 2 14 4 3 3"/>
<line x1="280.4" x2="2458.8" y1="1261.3" y2="1261.3" stroke="#fff" stroke-opacity="0.35" stroke-width="1.0" stroke-dasharray="9 3 4 2 14 4 3 3"/>
<line x1="280.4" x2="2458.8" y1="1129.7" y2="1129.7" stroke="#fff" stroke-opacity="0.35" stroke-width="1.0" stroke-dasharray="9 3 4 2 14 4 3 3"/>
<polyline points="287.6,1192.5 291.1,1166.1 294.6,1155.6 298.9,1159.1 303.4,1157.3 306.9,1169.6 311.5,1183.7 317.5,1183.7 322.8,1189 328.1,1180.2 333.3,1182 338.6,1178.4 343.2,1187.2 345.7,1145 349.2,1159.1 351.6,1155.6 354.4,1215.4 359.7,1208.3 363.2,1166.1 366.8,1130.9 370.3,1132.7 373.8,1123.9 377.3,1155.6 382.6,1187.2 386.8,1210.1 391.4,1176.7 394.9,1183.7 400.2,1208.3 405.5,1197.8 409,1169.6 413.6,1150.3" fill="none" stroke="#000" stroke-width="6.4" stroke-linejoin="round" stroke-linecap="round"/>
<polyline points="422,1196 426.6,1211.9 431.2,1218.9 437.1,1190.8 441.7,1180.2 444.2,1106.3 447,1035.9 450.2,1043 453,1078.2 456.5,1088.7 460,1095.7 462.8,1146.8 467,1138 470.6,1159.1 474.8,1138 480.4,1120.4 484.6,1152 489.9,1194.3 495.2,1229.5 502.2,1234.7 509.3,1240 516.3,1243.5 517,1255.8" fill="none" stroke="#000" stroke-width="6.4" stroke-linejoin="round" stroke-linecap="round"/>
<polyline points="526.9,1143.3 532.1,1146.8 536.7,1159.1 540.2,1173.2 541.6,1190.8 546.2,1173.2 549.7,1176.7 551.5,1162.6 555.7,1171.4 558.5,1211.9 562,1264.6 565.6,1287.5 570.8,1278.7 575.4,1261.1 579.6,1257.6 584.2,1269.9 588.4,1287.5 592,1275.2 597.2,1257.6 602.5,1241.8 607.8,1227.7 614.1,1217.1" fill="none" stroke="#000" stroke-width="6.4" stroke-linejoin="round" stroke-linecap="round"/>
<polyline points="623.6,1134.5 627.1,1166.1 630.7,1173.2 634.2,1159.1 639.5,1155.6 643,1141.5 648.3,1139.7 651.8,1145 657.1,1143.3 661.3,1132.7 664.1,1141.5 667.6,1152 671.1,1176.7 674.6,1187.2 679.9,1189 685.2,1183.7 688.7,1192.5 692.2,1199.5 696.5,1166.1 701,1162.6 705.6,1157.3 708.1,1197.8 709.8,1159.1 714.1,1092.2 755.6,1189 759.1,1169.6 766.1,1178.4 773.2,1166.1 778.4,1152 782,1141.5 785.5,1129.2 790.1,1138 794.3,1176.7 797.8,1218.9 803.1,1220.7 808.4,1225.9 813.6,1229.5 818.2,1229.5" fill="none" stroke="#000" stroke-width="6.4" stroke-linejoin="round" stroke-linecap="round"/>
<polyline points="825.9,1159.1 830.2,1157.3 834.7,1153.8 838.3,1160.8 843.5,1167.9 848.8,1159.1 852.3,1138 855.2,1106.3 858.3,1051.8 861.1,1088.7 863.9,1169.6 868.2,1167.9 873.4,1166.1 878.7,1160.8 884,1162.6 887.5,1180.2 892.8,1194.3 896.3,1176.7 899.8,1113.3 903.4,1060.6 906.2,1071.1 908.6,1141.5 911.1,1187.2 915.7,1192.5 919.2,1197.8 922.7,1218.9 926.2,1240" fill="none" stroke="#000" stroke-width="6.4" stroke-linejoin="round" stroke-linecap="round"/>
<polyline points="935.2,1102.8 938.7,1116.9 942.9,1118.6 945.7,1102.8 949.3,1101 952.1,1159.1 954.5,1178.4 959.1,1178.4 962.6,1145 966.9,1152 970.4,1162.6 975.7,1169.6 980.9,1176.7 986.2,1194.3 988,1106.3 989.7,1053.5 992.2,1064.1 995,1141.5 998.5,1194.3 1001.3,1217.1 1005.6,1199.5 1012.6,1197.8 1017.9,1196 1022.4,1201.3 1026,1222.4 1030.2,1211.9 1033.7,1248.8 1037.2,1250.6" fill="none" stroke="#000" stroke-width="6.4" stroke-linejoin="round" stroke-linecap="round"/>
<polyline points="1047.8,1146.8 1049.5,1173.2 1053.1,1197.8 1056.6,1211.9 1060.1,1211.9 1063.6,1215.4 1067.1,1240 1072.4,1243.5 1077.7,1250.6 1083,1269.9 1088.2,1287.5 1092.8,1236.5 1097,1225.9 1102.3,1234.7 1107.6,1240 1112.9,1257.6 1116.4,1275.2 1119.9,1291" fill="none" stroke="#000" stroke-width="6.4" stroke-linejoin="round" stroke-linecap="round"/>
<polyline points="1128.7,1071.1 1134,1078.2 1139.3,1088.7 1144.5,1101 1149.8,1102.8 1154,1074.6 1156.9,1072.9 1159.7,1141.5 1163.2,1215.4 1164.6,1113.3 1169.2,1141.5 1174.5,1155.6 1179.7,1169.6 1185,1152 1190.3,1127.4 1195.6,1109.8 1200.8,1111.6" fill="none" stroke="#000" stroke-width="6.4" stroke-linejoin="round" stroke-linecap="round"/>
<polyline points="1209.6,1146.8 1214.9,1141.5 1218.4,1152 1223.7,1146.8 1229,1162.6 1232.5,1141.5 1236,1138 1239.5,1152 1244.8,1169.6 1249,1185.5 1251.2,1071.1 1252.6,926.9 1254.7,983.2 1257.1,1035.9 1259.6,1088.7 1262.4,1106.3 1265.2,1085.2 1267.7,1139.7 1270.2,1071.1 1273,1141.5 1276.5,1159.1 1280,1180.2 1285.3,1208.3 1289.9,1218.9 1294.1,1225.9" fill="none" stroke="#000" stroke-width="6.4" stroke-linejoin="round" stroke-linecap="round"/>
<polyline points="1304.6,1206.6 1312.4,1206.6 1315.2,1159.1 1320.5,1145 1325.8,1138 1331,1134.5 1336.3,1132.7 1339.8,1138 1342.6,1166.1 1344.1,1187.2 1348.6,1185.5 1352.1,1155.6 1355.7,1148.5 1360.2,1152 1364.5,1176.7 1368,1204.8 1373.3,1218.9 1378.5,1236.5 1384.9,1252.3" fill="none" stroke="#000" stroke-width="6.4" stroke-linejoin="round" stroke-linecap="round"/>
<polyline points="1395.4,1183.7 1398.9,1194.3 1402.5,1187.2 1406.7,1194.3 1412,1201.3 1417.2,1203.1 1420.8,1243.5 1425,1238.3 1429.6,1238.3 1433.1,1204.8 1438.4,1176.7 1443.6,1162.6 1448.9,1145 1454.2,1139.7 1457.7,1166.1 1463,1157.3 1468.3,1153.8 1473.5,1150.3 1478.8,1148.5 1483.4,1141.5 1485.9,1130.9 1488.3,1166.1 1492.9,1169.6 1496.4,1190.8 1501,1210.1 1505.2,1211.9 1510.5,1197.8 1515.8,1192.5 1519.3,1189" fill="none" stroke="#000" stroke-width="6.4" stroke-linejoin="round" stroke-linecap="round"/>
<polyline points="1530,1141.5 1535.3,1159.1 1540.6,1146.8 1545.8,1145 1551.1,1141.5 1554.6,1141.5 1558.1,1169.6 1561.7,1178.4 1564.1,1211.9 1565.2,1298.1 1566.9,1243.5 1572.2,1204.8 1577.5,1176.7 1581,1171.4 1584.5,1173.2 1586.3,1211.9 1588.1,1282.2 1590.5,1215.4 1594,1215.4 1596.2,1183.7 1600.4,1169.6 1605.7,1167.9 1610.9,1171.4 1616.2,1178.4 1622.2,1180.2" fill="none" stroke="#000" stroke-width="6.4" stroke-linejoin="round" stroke-linecap="round"/>
<polyline points="1636.6,1294.6 1638.4,1262.9 1642.6,1261.1 1647.9,1266.4 1651.4,1247.1 1656.7,1211.9 1660.9,1183.7 1664.4,1164.4 1667.9,1169.6 1670.7,1211.9 1672.5,1291 1675,1247.1 1679.5,1248.8 1683.1,1257.6 1686.6,1243.5 1690.1,1218.9 1693.6,1187.2 1698.2,1197.8 1702.4,1203.1 1705.9,1215.4 1709.5,1197.8" fill="none" stroke="#000" stroke-width="6.4" stroke-linejoin="round" stroke-linecap="round"/>
<polyline points="1729.9,1255.8 1731.3,1224.2 1737.6,1224.2 1740.4,1174.9 1744.6,1176.7 1749.9,1182 1755.2,1197.8 1760.5,1174.9 1765,1190.8 1769.3,1194.3 1774.5,1206.6 1779.1,1211.9 1781.6,1233 1786.9,1224.2 1792.1,1211.9 1797.4,1211.9 1802.7,1194.3 1807.3,1192.5 1811.5,1203.1 1816.8,1215.4 1822,1222.4 1827.3,1213.6 1832.6,1222.4 1837.9,1233 1843.2,1247.1 1846.7,1273.4 1850.9,1287.5 1854.4,1282.2 1857.9,1247.1 1860.8,1176.7 1864.3,1087" fill="none" stroke="#000" stroke-width="6.4" stroke-linejoin="round" stroke-linecap="round"/>
<polyline points="1874.1,1159.1 1876.6,1162.6 1878.3,1183.7 1881.9,1166.1 1885.4,1174.9 1888.9,1178.4 1892.4,1211.9 1896.6,1233 1901.2,1250.6 1906.5,1278.7 1911.8,1277 1917.1,1269.9 1922.3,1264.6 1927.6,1266.4 1932.9,1262.9 1938.2,1264.6 1943.4,1269.9 1948.7,1275.2 1952.2,1292.8 1958.6,1298.1" fill="none" stroke="#000" stroke-width="6.4" stroke-linejoin="round" stroke-linecap="round"/>
<polyline points="1968.1,1139.7 1973.3,1138 1978.6,1130.9 1983.9,1123.9 1987.4,1120.4 1990.9,1102.8 1994.5,1113.3 1999.7,1130.9 2005,1146.8 2009.2,1160.8 2010.3,1180.2 2013.8,1166.1 2017.3,1162.6 2022.6,1152 2026.1,1148.5 2029.6,1162.6 2033.9,1173.2 2038.4,1190.8 2043,1201.3 2047.2,1197.8 2050.8,1208.3 2055,1215.4 2058.9,1224.2" fill="none" stroke="#000" stroke-width="6.4" stroke-linejoin="round" stroke-linecap="round"/>
<polyline points="2068.4,1248.8 2073.6,1247.1 2075.4,1233 2078.9,1227.7 2082.4,1201.3 2085.9,1173.2 2089.5,1148.5 2093,1143.3 2096.5,1148.5 2100,1166.1 2105.3,1174.9 2109.9,1176.7 2112.3,1109.8 2115.9,1120.4 2118.3,1113.3 2121.8,1141.5 2126.4,1164.4 2131.7,1166.1 2135.9,1166.1 2138,1148.5 2141.5,1148.5 2144,1183.7 2146.5,1118.6 2151,1122.1 2156.3,1122.1" fill="none" stroke="#000" stroke-width="6.4" stroke-linejoin="round" stroke-linecap="round"/>
<polyline points="2166.9,1190.8 2173.9,1192.5 2175.7,1224.2 2180.2,1222.4 2183.7,1189 2188,1183.7 2192.2,1174.9 2195.7,1197.8 2230.9,1134.5 2233,1169.6 2237.2,1166.1 2242.5,1159.1 2247.1,1152 2251.3,1162.6 2254.8,1197.8 2259,1231.2 2261.9,1233" fill="none" stroke="#000" stroke-width="6.4" stroke-linejoin="round" stroke-linecap="round"/>
<polyline points="2271.7,1211.9 2275.9,1190.8 2279.5,1169.6 2283,1138 2285.1,1122.1 2287.2,1152 2291.8,1150.3 2297,1145 2302.3,1141.5 2307.6,1139.7 2309.4,1102.8 2311.1,1138 2316.4,1132.7 2321.7,1127.4 2325.2,1102.8 2328.7,1127.4 2334,1138 2337.5,1130.9 2340.3,1178.4 2342.8,1134.5 2346.3,1116.9 2351.6,1109.8 2356.9,1102.8 2358.6,1043" fill="none" stroke="#000" stroke-width="6.4" stroke-linejoin="round" stroke-linecap="round"/>
<polyline points="2368.1,1021.9 2372.7,1020.1 2378,1018.3 2379.7,1078.2 2381.5,1173.2 2385.7,1169.6 2388.5,1120.4 2392,1141.5 2395.6,1169.6 2399.1,1211.9 2402.6,1241.8 2406.1,1211.9 2411.4,1166.1 2416,1148.5 2419.5,1150.3 2423.7,1130.9 2429,1141.5 2434.3,1152 2439.5,1162.6 2444.8,1173.2 2446.6,1189 2451.9,1182" fill="none" stroke="#000" stroke-width="6.4" stroke-linejoin="round" stroke-linecap="round"/>
<polyline points="287.6,1004 291.1,1003.5 294.6,1003.2 298.1,1003.1 301.6,1005 305.1,1004.9 308.6,1006.2 312.1,1006 315.6,1005.5 319.1,1005.8 322.6,1005.8 326.1,1007.2 329.6,1007.2 333.1,1006.8 336.6,1004.6 340.1,1004.4 343.6,1004 345.5,1002.7 347.1,999.7 348,998 350,999.6 350.6,1000.3 352.5,1002.6 354.1,1004.4 357.6,1003.8 361.1,1004.3 364.6,1003.7 368.1,1004.4 371.6,1005.4 375.1,1007.2 378.6,1006.4 382.1,1006.4 385.6,1005 389.1,1004.3 392.6,1005.7 396.1,1005.6 399.6,1005.8 403.1,1004.2 406.6,1003.2 410.1,1003.4" fill="none" stroke="#FF0505" stroke-width="5.8" stroke-linejoin="round" stroke-linecap="round"/>
<polyline points="287.6,1051.2 291.1,1049.6 294.6,1048.5 298.1,1048.4 301.6,1049.7 305.1,1050.8 308.6,1050.8 312.1,1051.4 315.6,1051.4 319.1,1051.4 322.6,1050.6 326.1,1051.8 329.6,1053 333.1,1052.1 336.6,1050.8 340.1,1050 343.6,1048.6 345.5,1047.3 347.1,1044.6 348,1044.7 350,1044.9 350.6,1045.9 352.5,1049.3 354.1,1050.2 357.6,1049.5 361.1,1048.9 364.6,1049.7 368.1,1050.1 371.6,1051.4 375.1,1052.5 378.6,1052.3 382.1,1052.6 385.6,1051 389.1,1050.2 392.6,1051.1 396.1,1050.4 399.6,1050.7 403.1,1049.9 406.6,1048.9 410.1,1048.7" fill="none" stroke="#2222D2" stroke-width="5.8" stroke-linejoin="round" stroke-linecap="round"/>
<polyline points="422,1005.6 425.5,1005.8 429,1004.8 432.5,1006.5 436,1005.7 439.5,1007 443,1005.4 446.5,1004.6 450,1002.6 453.5,1003.8 457,1004.1 460.5,1004.1 464,1005 467.5,1004.5 471,1005.1 474.5,1004.8 478,1005.9 481.5,1006.3 485,1006.8 488.5,1006.4 492,1005.3 495.5,1004.5 499,1004.3 502.5,1003.7 506,1004.5 509.5,1005.4 513,1004 516.5,1004.2" fill="none" stroke="#FF0505" stroke-width="5.8" stroke-linejoin="round" stroke-linecap="round"/>
<polyline points="422,1048.1 425.5,1048.5 429,1049.1 432.5,1049.9 436,1051.2 439.5,1051.6 443,1051.5 446.5,1050.8 450,1051.4 453.5,1051.4 457,1052 460.5,1052.5 464,1050.7 467.5,1050.1 471,1049.5 474.5,1049 478,1049.6 481.5,1050.2 485,1050.3 488.5,1049.8 492,1049 495.5,1050.2 499,1050.4 502.5,1051.9 506,1052.8 509.5,1051.7 513,1051.7 516.5,1050.3" fill="none" stroke="#2222D2" stroke-width="5.8" stroke-linejoin="round" stroke-linecap="round"/>
<polyline points="526.9,1006.1 530.4,1006.5 533.9,1005.4 537.4,1005.5 540.9,1006.2 544.4,1005.6 546.2,1007.1 547.9,1009.5 548.7,1010.5 550.7,1009.8 551.4,1008.6 553.2,1005.6 554.9,1004.2 558.4,1003.1 561.9,1003.4 565.4,1004.4 568.9,1004.8 572.4,1005.7 575.9,1004.8 579.4,1005.5 582.9,1005.7 586.4,1005.5 589.9,1006.4 593.4,1006.4 596.9,1006.9 600.4,1005 603.9,1004 607.4,1003.8 610.9,1004.5" fill="none" stroke="#FF0505" stroke-width="5.8" stroke-linejoin="round" stroke-linecap="round"/>
<polyline points="526.9,1051.3 530.4,1050.6 533.9,1051.1 537.4,1049.4 540.9,1049.1 544.4,1048.7 546.2,1049.6 547.9,1053 548.7,1054.4 550.7,1054.1 551.4,1053.3 553.2,1052.7 554.9,1051.4 558.4,1051.1 561.9,1051.8 565.4,1051.2 568.9,1050.9 572.4,1051.3 575.9,1051.7 579.4,1052 582.9,1051.6 586.4,1049.6 589.9,1048.7 593.4,1048.5 596.9,1049 600.4,1049.4 603.9,1050.3 607.4,1049.9 610.9,1050.3" fill="none" stroke="#2222D2" stroke-width="5.8" stroke-linejoin="round" stroke-linecap="round"/>
<polyline points="623.6,1003.5 627.1,1003.3 630.6,1003.9 634.1,1005.3 637.6,1006.5 641.1,1007 644.6,1006 648.1,1005.8 651.6,1004.4 655.1,1004.8 658.6,1005.2 662.1,1005.7 665.6,1004.6 669.1,1003.9 672.6,1003.4 676.1,1003.1 679.6,1003.5 683.1,1005.2 686.6,1005.5 690.1,1005.5 693.6,1006.1 697.1,1005.2 700.6,1005.8 704.1,1006.3 707.6,1006.9 711.1,997.7 714.6,990.5 718.1,992 721.6,993.7 725.1,995.6 728.6,997.4 732.1,999.3 735.6,1001.2 739.1,1002.8 742.6,1004.7 746.1,1006.4 749.6,1008.4 753.1,1010.4 756.6,1010.1 760.1,1006.6 763.6,1005.2 767.1,1005.4 770.6,1004 774.1,1004.4 777.6,1004.7 781.1,1004.3 784.6,1003.7 788.1,1003.5 791.6,1003.2 795.1,1003.7 798.6,1005.7 802.1,1005.9 805.6,1006.2 809.1,1005.7 812.6,1005.3 816.1,1005.7" fill="none" stroke="#FF0505" stroke-width="5.8" stroke-linejoin="round" stroke-linecap="round"/>
<polyline points="623.6,1049.9 627.1,1050.7 630.6,1052.5 634.1,1053.1 637.6,1052.6 641.1,1050.4 644.6,1050.4 648.1,1050.9 651.6,1051.2 655.1,1050.6 658.6,1050.7 662.1,1048.9 665.6,1048.9 669.1,1048.3 672.6,1050.2 676.1,1051.7 679.6,1051.7 683.1,1051.3 686.6,1050.7 690.1,1050.3 693.6,1051.7 697.1,1051.5 700.6,1052.1 704.1,1052.2 707.6,1050.7 711.1,1042.2 714.6,1035.7 718.1,1037.4 721.6,1039.4 725.1,1041.2 728.6,1043.2 732.1,1044.8 735.6,1046.5 739.1,1048.5 742.6,1050.3 746.1,1052.2 749.6,1054.1 753.1,1055.9 756.6,1054.9 760.1,1051.4 763.6,1049.3 767.1,1050.4 770.6,1051 774.1,1049.7 777.6,1050.2 781.1,1048.3 784.6,1048.5 788.1,1050.6 791.6,1051.5 795.1,1051.4 798.6,1051.7 802.1,1051.2 805.6,1051.1 809.1,1051 812.6,1050.8 816.1,1052.2" fill="none" stroke="#2222D2" stroke-width="5.8" stroke-linejoin="round" stroke-linecap="round"/>
<polyline points="825.9,1005.3 829.4,1003.9 832.9,1003.2 836.4,1002.9 839.9,1004 843.4,1004.6 846.9,1005.3 850.4,1005.3 853.9,1005 855.5,1004 857.4,1002.1 858,1000.7 860,1000.9 860.9,1003.1 862.5,1004.5 864.4,1006.3 867.9,1006.8 871.4,1006.6 874.9,1005.6 878.4,1004 881.9,1003.3 885.4,1004.5 888.9,1004.1 892.4,1005.4 894.5,1002.8 895.9,1000.2 897,997.5 899,997.8 899.4,998.4 901.5,1002.2 902.9,1003.9 906.4,1004.4 909.9,1005.7 913.4,1006.9 916.9,1007.4 920.4,1006.9 923.9,1006.4" fill="none" stroke="#FF0505" stroke-width="5.8" stroke-linejoin="round" stroke-linecap="round"/>
<polyline points="825.9,1051.7 829.4,1051.1 832.9,1050.4 836.4,1049.4 839.9,1049.2 843.4,1049.6 846.9,1049.7 850.4,1050 853.9,1050.2 855.5,1049.9 857.4,1047.3 858,1046.2 860,1045.7 860.9,1046.8 862.5,1048.8 864.4,1049.9 867.9,1051.1 871.4,1052.5 874.9,1052.3 878.4,1052.6 881.9,1050.4 885.4,1050.5 888.9,1050.3 892.4,1049.5 894.5,1048.5 895.9,1045.8 897,1044 899,1044.4 899.4,1044.6 901.5,1047.6 902.9,1049.6 906.4,1048.5 909.9,1048.4 913.4,1050.3 916.9,1050.7 920.4,1052.1 923.9,1052.8" fill="none" stroke="#2222D2" stroke-width="5.8" stroke-linejoin="round" stroke-linecap="round"/>
<polyline points="935.2,1005.2 938.7,1006.1 942.2,1004.4 945.7,1003.9 949.2,1003 952.7,1003.6 956.2,1004.5 959.7,1005.3 963.2,1006 966.7,1006 970.2,1005.4 973.7,1005.4 977.2,1005.4 980.7,1006.7 984.2,1007.5 987.7,1006.6 988.5,1008.6 991,1012 991.2,1012.2 993,1011.9 994.7,1008.1 995.5,1005.3 998.2,1003 1001.7,1004.6 1005.2,1004.9 1008.7,1004.7 1012.2,1004.9 1015.7,1003.3 1019.2,1004.1 1022.7,1005 1026.2,1005.7 1029.7,1006.7 1033.2,1006.4 1036.7,1006.5" fill="none" stroke="#FF0505" stroke-width="5.8" stroke-linejoin="round" stroke-linecap="round"/>
<polyline points="935.2,1051.3 938.7,1051.1 942.2,1051.1 945.7,1050.9 949.2,1049.5 952.7,1048.3 956.2,1048.5 959.7,1050.1 963.2,1050.1 966.7,1050.6 970.2,1051.1 973.7,1050.5 977.2,1051.1 980.7,1050.8 984.2,1052.9 987.7,1052.2 988.5,1054.6 991,1059.1 991.2,1059 993,1058 994.7,1053.7 995.5,1052 998.2,1049.8 1001.7,1049.5 1005.2,1050 1008.7,1050.3 1012.2,1050.2 1015.7,1049.3 1019.2,1049.5 1022.7,1050 1026.2,1049.4 1029.7,1050.6 1033.2,1052.7 1036.7,1052.9" fill="none" stroke="#2222D2" stroke-width="5.8" stroke-linejoin="round" stroke-linecap="round"/>
<polyline points="1047.8,1006.7 1051.3,1006 1054.8,1005.2 1058.3,1004.7 1061.8,1005.7 1065.3,1005.3 1068.8,1004.5 1072.3,1004.3 1075.8,1003.4 1079.3,1002.7 1082.8,1004.4 1086.3,1002.9 1086.5,1002.2 1089,996.9 1089.8,994.8 1091,996.7 1093.3,1003.3 1093.5,1002.9 1096.8,1005.4 1100.3,1005.7 1103.8,1006.1 1107.3,1006.4 1110.8,1006.6 1114.3,1007.2 1117.8,1006" fill="none" stroke="#FF0505" stroke-width="5.8" stroke-linejoin="round" stroke-linecap="round"/>
<polyline points="1047.8,1049.4 1051.3,1049.6 1054.8,1052.1 1058.3,1051.5 1061.8,1052.4 1065.3,1051 1068.8,1051.5 1072.3,1050.9 1075.8,1051.2 1079.3,1052.1 1082.8,1051.3 1086.3,1048.1 1086.5,1047.7 1089,1041.2 1089.8,1038.3 1091,1040.2 1093.3,1045.6 1093.5,1045.6 1096.8,1049 1100.3,1050.6 1103.8,1051.2 1107.3,1051.1 1110.8,1051 1114.3,1050.2 1117.8,1050.2" fill="none" stroke="#2222D2" stroke-width="5.8" stroke-linejoin="round" stroke-linecap="round"/>
<polyline points="1128.7,1004.8 1132.2,1005.4 1135.7,1005.8 1139.2,1006.9 1142.7,1007.2 1146.2,1006.6 1149.7,1005.5 1153.2,1004.5 1156.7,1004.9 1159.5,1003.9 1160.2,1002.6 1162,1000.9 1163.7,1001.1 1164,1001.4 1166.5,1004 1167.2,1004 1170.7,1003.9 1174.2,1002.6 1177.7,1003.3 1181.2,1005.2 1184.7,1005.9 1188.2,1006.5 1191.7,1006.5 1195.2,1006 1198.7,1005.5" fill="none" stroke="#FF0505" stroke-width="5.8" stroke-linejoin="round" stroke-linecap="round"/>
<polyline points="1128.7,1049.7 1132.2,1051.8 1135.7,1051.8 1139.2,1052.1 1142.7,1051.9 1146.2,1050.6 1149.7,1049.4 1153.2,1049.2 1156.7,1049.7 1159.5,1049.2 1160.2,1048.9 1162,1046.7 1163.7,1045.7 1164,1045.8 1166.5,1049.3 1167.2,1049.6 1170.7,1048.9 1174.2,1048.8 1177.7,1050.1 1181.2,1051.4 1184.7,1052.3 1188.2,1051.9 1191.7,1051.3 1195.2,1051.5 1198.7,1050.8" fill="none" stroke="#2222D2" stroke-width="5.8" stroke-linejoin="round" stroke-linecap="round"/>
<polyline points="1209.6,1004.3 1213.1,1003.6 1216.6,1003.8 1220.1,1004.4 1223.6,1005.6 1227.1,1005.7 1230.6,1006.1 1234.1,1005 1237.6,1004.5 1241.1,1006.1 1244.6,1006 1248.1,1006.3 1248.5,1005.4 1251,1001.9 1251.6,1001 1253,1001.3 1255.1,1003.2 1255.5,1003.6 1258.6,1004.6 1262.1,1003.7 1265.6,1004.6 1269.1,1004.7 1272.6,1004.8 1276.1,1003.8 1279.6,1004 1283.1,1003.3 1286.6,1004 1290.1,1006 1293.6,1007.2" fill="none" stroke="#FF0505" stroke-width="5.8" stroke-linejoin="round" stroke-linecap="round"/>
<polyline points="1209.6,1050.1 1213.1,1048.9 1216.6,1048.4 1220.1,1048.1 1223.6,1048.8 1227.1,1050.2 1230.6,1050.4 1234.1,1051.2 1237.6,1050.5 1241.1,1050.1 1244.6,1050.5 1248.1,1051.5 1248.5,1050.1 1251,1047.8 1251.6,1047 1253,1047.3 1255.1,1049.9 1255.5,1051.4 1258.6,1050.4 1262.1,1050 1265.6,1050 1269.1,1049.4 1272.6,1049.7 1276.1,1050.3 1279.6,1050.2 1283.1,1048.8 1286.6,1049.5 1290.1,1049.8 1293.6,1051.1" fill="none" stroke="#2222D2" stroke-width="5.8" stroke-linejoin="round" stroke-linecap="round"/>
<polyline points="1304.6,1005.2 1308.1,1005.4 1311.6,1007 1315.1,1006 1318.6,1005.2 1322.1,1005.8 1325.6,1005.5 1329.1,1005.9 1332.6,1005.3 1336.1,1005.2 1339.6,1004 1343.1,1003.6 1346.6,1003.4 1350.1,1003.4 1353.6,1004.6 1357.1,1005.6 1360.6,1006 1364.1,1005.5 1367.6,1005.3 1371.1,1005.5 1374.6,1006 1378.1,1007 1381.6,1006.7" fill="none" stroke="#FF0505" stroke-width="5.8" stroke-linejoin="round" stroke-linecap="round"/>
<polyline points="1304.6,1050.7 1308.1,1050.3 1311.6,1051.2 1315.1,1050.5 1318.6,1050.1 1322.1,1050.5 1325.6,1048.8 1329.1,1049.1 1332.6,1049.2 1336.1,1049.6 1339.6,1050.9 1343.1,1052 1346.6,1051 1350.1,1051.6 1353.6,1051 1357.1,1052.1 1360.6,1052.4 1364.1,1051.5 1367.6,1051.5 1371.1,1049.4 1374.6,1048.7 1378.1,1048.6 1381.6,1049.4" fill="none" stroke="#2222D2" stroke-width="5.8" stroke-linejoin="round" stroke-linecap="round"/>
<polyline points="1395.4,1007.3 1398.9,1006.9 1402.4,1006.2 1405.9,1004.6 1409.4,1003.9 1412.9,1004.6 1416.4,1005.2 1419.9,1005 1423.4,1004.2 1426.9,1003.7 1430.4,1003.3 1433.9,1003.8 1437.4,1004.7 1440.9,1005.5 1444.4,1007.4 1447.9,1007 1451.4,1006.1 1454.9,1005.2 1458.4,1005.1 1461.9,1005.5 1465.4,1006.5 1468.9,1005.8 1472.4,1004.5 1475.9,1002.8 1479.4,1003.7 1482.5,1001.5 1482.9,1001.2 1485,997.7 1486.4,997.9 1487,998.8 1489.5,1003.7 1489.9,1004 1493.4,1005.9 1496.9,1005.2 1500.4,1005.3 1503.9,1005.5 1507.4,1006.8 1510.9,1007.5 1514.4,1006.8 1517.9,1006.5" fill="none" stroke="#FF0505" stroke-width="5.8" stroke-linejoin="round" stroke-linecap="round"/>
<polyline points="1395.4,1051.2 1398.9,1051.1 1402.4,1052.8 1405.9,1052.7 1409.4,1052.3 1412.9,1050.5 1416.4,1050.2 1419.9,1050 1423.4,1050.8 1426.9,1051 1430.4,1050.2 1433.9,1049.2 1437.4,1048.3 1440.9,1048.6 1444.4,1050 1447.9,1050.9 1451.4,1051.7 1454.9,1052 1458.4,1051.5 1461.9,1051.1 1465.4,1051.4 1468.9,1050.9 1472.4,1051.5 1475.9,1051.4 1479.4,1049.8 1482.5,1047.5 1482.9,1046.3 1485,1041.8 1486.4,1041.5 1487,1042.1 1489.5,1046.6 1489.9,1047.3 1493.4,1050.5 1496.9,1051.3 1500.4,1050.2 1503.9,1050.5 1507.4,1050.5 1510.9,1050.4 1514.4,1051.4 1517.9,1052.5" fill="none" stroke="#2222D2" stroke-width="5.8" stroke-linejoin="round" stroke-linecap="round"/>
<polyline points="1530,1006.1 1533.5,1007.3 1537,1006.6 1540.5,1006.8 1544,1005.4 1547.5,1004.1 1551,1003.8 1554.5,1005.1 1558,1004.7 1561.5,1005.1 1565,1003.7 1568.5,1003.4 1572,1003.4 1575.5,1003.6 1579,1004.7 1582.5,1005.9 1586,1006.7 1589.5,1006.1 1593,1004.9 1596.5,1005.6 1600,1005.8 1603.5,1006.9 1607,1005.4 1610.5,1005.3 1614,1003.3 1617.5,1002.5 1621,1002.8" fill="none" stroke="#FF0505" stroke-width="5.8" stroke-linejoin="round" stroke-linecap="round"/>
<polyline points="1530,1052.9 1533.5,1052.4 1537,1051.4 1540.5,1050.3 1544,1050.2 1547.5,1049.1 1551,1050.3 1554.5,1050.8 1558,1050.7 1561.5,1049.1 1565,1049.1 1568.5,1048.6 1572,1050.1 1575.5,1050.8 1579,1052.7 1582.5,1051.9 1586,1051.5 1589.5,1050.9 1593,1051 1596.5,1051 1600,1051.3 1603.5,1050.8 1607,1051.1 1610.5,1049.6 1614,1048 1617.5,1048.1 1621,1049" fill="none" stroke="#2222D2" stroke-width="5.8" stroke-linejoin="round" stroke-linecap="round"/>
<polyline points="1636.6,997 1640.1,994.8 1643.6,1004 1647.1,1004 1650.6,1004.6 1654.1,1005.2 1657.6,1004.9 1661.1,1004.4 1664.6,1004.6 1668.1,1004.3 1671.6,1006 1675.1,1006.4 1678.6,1007 1682.1,1006.4 1685.6,1005.3 1689.1,1005.4 1692.6,1004.2 1696.1,1005.6 1699.6,1005.3 1703.1,1004.6 1706.6,1003.4" fill="none" stroke="#FF0505" stroke-width="5.8" stroke-linejoin="round" stroke-linecap="round"/>
<polyline points="1636.6,1040.7 1640.1,1040.6 1643.6,1050.8 1647.1,1049.9 1650.6,1050.1 1654.1,1050.4 1657.6,1050.6 1661.1,1050.8 1664.6,1051.6 1668.1,1053 1671.6,1052.2 1675.1,1050.8 1678.6,1050.9 1682.1,1049.7 1685.6,1049.9 1689.1,1050.1 1692.6,1050.9 1696.1,1050.5 1699.6,1049.6 1703.1,1048.5 1706.6,1049.3" fill="none" stroke="#2222D2" stroke-width="5.8" stroke-linejoin="round" stroke-linecap="round"/>
<polyline points="1729.9,990.8 1733.4,992.1 1736.9,1006.5 1740.4,1005.6 1743.9,1005.4 1747.4,1005.5 1750.9,1006 1754.4,1006.9 1757.9,1007.1 1761.4,1006 1764.9,1004.2 1768.4,1004 1771.9,1004 1775.4,1004.6 1778.9,1004.1 1782.4,1005.4 1785.9,1004.5 1789.4,1004.7 1792.9,1005 1796.4,1005 1799.9,1006.1 1803.4,1007.8 1806.9,1006.7 1810.4,1005.3 1813.9,1004.5 1817.4,1003.9 1820.9,1005.1 1824.4,1005.5 1827.9,1005.1 1831.4,1004.2 1834.9,1003.5 1838.4,1003.2 1841.9,1003.8 1845.4,1005.8 1848.9,1006.2 1852.4,1006.4 1855.9,1005.8 1859.4,1005.6 1862.9,1005.9" fill="none" stroke="#FF0505" stroke-width="5.8" stroke-linejoin="round" stroke-linecap="round"/>
<polyline points="1729.9,1035.9 1733.4,1035.4 1736.9,1047.8 1740.4,1049.1 1743.9,1050.4 1747.4,1050.8 1750.9,1051.8 1754.4,1050.9 1757.9,1051.1 1761.4,1050.6 1764.9,1051.4 1768.4,1051.8 1771.9,1052.8 1775.4,1051.5 1778.9,1050.7 1782.4,1049.3 1785.9,1048.8 1789.4,1049.9 1792.9,1050.3 1796.4,1050.7 1799.9,1050.2 1803.4,1048.7 1806.9,1050 1810.4,1050.6 1813.9,1051.5 1817.4,1052.7 1820.9,1052.9 1824.4,1050.7 1827.9,1050.9 1831.4,1051 1834.9,1051.1 1838.4,1050.5 1841.9,1050.8 1845.4,1050.3 1848.9,1049.3 1852.4,1048.5 1855.9,1049.6 1859.4,1050.1 1862.9,1051.5" fill="none" stroke="#2222D2" stroke-width="5.8" stroke-linejoin="round" stroke-linecap="round"/>
<polyline points="1874.1,1004.5 1877.6,1005.4 1881.1,1005.5 1884.6,1005.3 1888.1,1005.5 1891.6,1005.2 1895.1,1005.7 1898.6,1006.6 1902.1,1006.5 1905.6,1006.5 1909.1,1005.4 1912.6,1003.8 1916.1,1003.3 1919.6,1003.2 1923.1,1004.6 1926.6,1004.7 1930.1,1004 1933.6,1004.6 1937.1,1003.6 1940.6,1004.3 1944.1,1005.6 1947.6,1007.3 1951.1,1007.3 1954.6,1006.5 1958.1,1005.2" fill="none" stroke="#FF0505" stroke-width="5.8" stroke-linejoin="round" stroke-linecap="round"/>
<polyline points="1874.1,1051.2 1877.6,1051.2 1881.1,1049.5 1884.6,1048.9 1888.1,1048.8 1891.6,1050 1895.1,1050.5 1898.6,1051.2 1902.1,1050.9 1905.6,1050.4 1909.1,1050.6 1912.6,1050.6 1916.1,1051.9 1919.6,1052.7 1923.1,1052.1 1926.6,1051.2 1930.1,1049.7 1933.6,1050.3 1937.1,1050.3 1940.6,1050.2 1944.1,1049.9 1947.6,1050.4 1951.1,1049.6 1954.6,1048.7 1958.1,1049.7" fill="none" stroke="#2222D2" stroke-width="5.8" stroke-linejoin="round" stroke-linecap="round"/>
<polyline points="1968.1,1003.8 1971.6,1003.1 1975.1,1003.2 1978.6,1004.5 1982.1,1004.5 1985.6,1006.4 1989.1,1006.6 1992.6,1005.7 1996.1,1005 1999.5,1007.9 1999.6,1007.1 2002,1012.7 2003.1,1013.5 2004,1011.8 2006.5,1008.2 2006.6,1008.7 2010.1,1006.6 2013.6,1004.9 2017.1,1003.8 2020.6,1003.2 2024.1,1002.9 2027.6,1003.6 2031.1,1004.8 2034.6,1004.4 2038.1,1005.1 2041.6,1005 2045.1,1004.3 2048.6,1005.5 2052.1,1006.2 2055.6,1007.8" fill="none" stroke="#FF0505" stroke-width="5.8" stroke-linejoin="round" stroke-linecap="round"/>
<polyline points="1968.1,1051.3 1971.6,1050.2 1975.1,1050.9 1978.6,1051.5 1982.1,1051.1 1985.6,1049.9 1989.1,1049.3 1992.6,1048.7 1996.1,1048.9 1999.5,1052.9 1999.6,1052.2 2002,1057.6 2003.1,1059.7 2004,1058.1 2006.5,1053.1 2006.6,1053.5 2010.1,1051.2 2013.6,1051 2017.1,1050.6 2020.6,1051.2 2024.1,1052.1 2027.6,1052.2 2031.1,1050.6 2034.6,1049.4 2038.1,1049.5 2041.6,1049.1 2045.1,1049.9 2048.6,1049.9 2052.1,1050.1 2055.6,1049.6" fill="none" stroke="#2222D2" stroke-width="5.8" stroke-linejoin="round" stroke-linecap="round"/>
<polyline points="2068.4,1006 2071.9,1007.3 2075.4,1007 2078.9,1006.1 2082.4,1005.4 2085.9,1004.3 2089.4,1004.4 2092.9,1005.1 2096.4,1005.3 2099.9,1004.7 2103.4,1004.2 2106.9,1002.8 2110.4,1002.9 2113.9,1004.2 2117.4,1005.4 2120.9,1005.6 2124.4,1005.3 2127.9,1005.6 2131.4,1006 2134.9,1006.3 2136.5,1004.8 2138.4,1001.8 2139,999.7 2141,999.7 2141.9,1002.5 2143.5,1004.1 2145.4,1005.3 2148.9,1004.6 2152.4,1004 2155.9,1003.9" fill="none" stroke="#FF0505" stroke-width="5.8" stroke-linejoin="round" stroke-linecap="round"/>
<polyline points="2068.4,1050.4 2071.9,1050.9 2075.4,1049.8 2078.9,1049.5 2082.4,1049.1 2085.9,1049.4 2089.4,1049.6 2092.9,1051.9 2096.4,1052.3 2099.9,1052.5 2103.4,1052.4 2106.9,1050.6 2110.4,1050.9 2113.9,1050.6 2117.4,1051.1 2120.9,1051 2124.4,1050.1 2127.9,1048.8 2131.4,1048.6 2134.9,1048.7 2136.5,1047.7 2138.4,1044.2 2139,1043.5 2141,1044.3 2141.9,1046.2 2143.5,1048.6 2145.4,1050.4 2148.9,1051.5 2152.4,1050.5 2155.9,1050.1" fill="none" stroke="#2222D2" stroke-width="5.8" stroke-linejoin="round" stroke-linecap="round"/>
<polyline points="2166.9,1004.7 2170.4,1004.3 2173.9,1005.2 2177.4,1005.6 2180.9,1006.2 2184.4,1007.7 2187.9,1006.7 2191.4,1005.5 2194.9,1005.1 2198.4,1003.7 2201.9,1004.6 2205.4,1005.3 2208.9,1005.4 2212.4,1004.4 2215.9,1003.9 2219.4,1003.6 2222.9,1004.6 2226.4,1005.9 2229.9,1006.9 2233.4,1006.3 2236.9,1006 2240.4,1006 2243.9,1005.3 2247.4,1006 2250.9,1005.6 2254.4,1006.4 2257.9,1005 2261.4,1004.2" fill="none" stroke="#FF0505" stroke-width="5.8" stroke-linejoin="round" stroke-linecap="round"/>
<polyline points="2166.9,1048.9 2170.4,1048.4 2173.9,1049.2 2177.4,1050.9 2180.9,1050.3 2184.4,1049.6 2187.9,1049.1 2191.4,1050.5 2194.9,1051 2198.4,1051.8 2201.9,1052.5 2205.4,1052 2208.9,1051.8 2212.4,1050.3 2215.9,1050 2219.4,1050 2222.9,1050.1 2226.4,1050.7 2229.9,1049.4 2233.4,1048.9 2236.9,1047.9 2240.4,1049.4 2243.9,1051.1 2247.4,1051.6 2250.9,1051.9 2254.4,1051.6 2257.9,1051.4 2261.4,1051.2" fill="none" stroke="#2222D2" stroke-width="5.8" stroke-linejoin="round" stroke-linecap="round"/>
<polyline points="2271.7,1002.5 2275.2,1004 2278.7,1004.3 2282.2,1005.3 2285.7,1005.6 2289.2,1005.1 2292.7,1004.6 2296.2,1005.3 2299.7,1006.4 2303.2,1006.9 2306.7,1006.2 2310.2,1006.2 2313.7,1004.3 2317.2,1003.4 2320.7,1003.7 2324.2,1005 2327.7,1005 2331.2,1005 2334.7,1004.3 2337.5,1001.5 2338.2,1001.6 2340,997.9 2341.7,997.8 2342,998.8 2344.5,1004.2 2345.2,1004.7 2348.7,1007.3 2352.2,1007 2355.7,1006" fill="none" stroke="#FF0505" stroke-width="5.8" stroke-linejoin="round" stroke-linecap="round"/>
<polyline points="2271.7,1050 2275.2,1050.5 2278.7,1050.5 2282.2,1051.2 2285.7,1050.9 2289.2,1052 2292.7,1051.6 2296.2,1052 2299.7,1052.1 2303.2,1050.9 2306.7,1050.3 2310.2,1049.5 2313.7,1050 2317.2,1050.6 2320.7,1050.5 2324.2,1049.6 2327.7,1049.6 2331.2,1049.6 2334.7,1049.4 2337.5,1049.5 2338.2,1049.2 2340,1046.4 2341.7,1045.8 2342,1046.5 2344.5,1051.1 2345.2,1052.4 2348.7,1051.3 2352.2,1050.4 2355.7,1050.9" fill="none" stroke="#2222D2" stroke-width="5.8" stroke-linejoin="round" stroke-linecap="round"/>
<polyline points="2368.1,1005.1 2371.6,1006 2375.1,1006.3 2378.6,1006.7 2382.1,1006.2 2385.6,1005.8 2389.1,1006.3 2392.6,1006.3 2396.1,1006.8 2399.6,1005.9 2403.1,1004.4 2406.6,1004.1 2410.1,1003.3 2413.6,1003 2417.1,1003.8 2420.6,1005.4 2424.1,1004.8 2427.6,1004.4 2431.1,1005 2434.6,1005.1 2438.1,1005.6 2441.6,1007 2445.1,1007.7 2448.6,1006.5" fill="none" stroke="#FF0505" stroke-width="5.8" stroke-linejoin="round" stroke-linecap="round"/>
<polyline points="2368.1,1052 2371.6,1050.8 2375.1,1050.3 2378.6,1051.1 2382.1,1051.2 2385.6,1051.6 2389.1,1051.5 2392.6,1050.6 2396.1,1049.4 2399.6,1048.1 2403.1,1048.7 2406.6,1050.2 2410.1,1050.9 2413.6,1051.5 2417.1,1050.1 2420.6,1050.5 2424.1,1050.7 2427.6,1051.8 2431.1,1052 2434.6,1052.8 2438.1,1051.9 2441.6,1050.1 2445.1,1049.6 2448.6,1049.3" fill="none" stroke="#2222D2" stroke-width="5.8" stroke-linejoin="round" stroke-linecap="round"/>
</g>
<rect x="280.4" y="866.6" width="2178.4" height="658.8" fill="none" stroke="#333" stroke-width="2"/>
<line x1="264.1" x2="280.4" y1="1524.4" y2="1524.4" stroke="#333" stroke-width="2"/>
<text x="237.5" y="1546.9" font-size="60" text-anchor="end">0.0</text>
<line x1="264.1" x2="280.4" y1="1392.8" y2="1392.8" stroke="#333" stroke-width="2"/>
<text x="237.5" y="1415.3" font-size="60" text-anchor="end">0.2</text>
<line x1="264.1" x2="280.4" y1="1261.3" y2="1261.3" stroke="#333" stroke-width="2"/>
<text x="237.5" y="1283.8" font-size="60" text-anchor="end">0.4</text>
<line x1="264.1" x2="280.4" y1="1129.7" y2="1129.7" stroke="#333" stroke-width="2"/>
<text x="237.5" y="1152.2" font-size="60" text-anchor="end">0.6</text>
<line x1="264.1" x2="280.4" y1="998.2" y2="998.2" stroke="#333" stroke-width="2"/>
<text x="237.5" y="1020.7" font-size="60" text-anchor="end">0.8</text>
<line x1="264.1" x2="280.4" y1="866.6" y2="866.6" stroke="#333" stroke-width="2"/>
<text x="237.5" y="891.6" font-size="60" text-anchor="end">1.0</text>
<line x1="350.8" x2="350.8" y1="1525.4" y2="1541.4" stroke="#333" stroke-width="2"/>
<line x1="470.5" x2="470.5" y1="1525.4" y2="1541.4" stroke="#333" stroke-width="2"/>
<line x1="570.8" x2="570.8" y1="1525.4" y2="1541.4" stroke="#333" stroke-width="2"/>
<line x1="720.5" x2="720.5" y1="1525.4" y2="1541.4" stroke="#333" stroke-width="2"/>
<line x1="876.2" x2="876.2" y1="1525.4" y2="1541.4" stroke="#333" stroke-width="2"/>
<line x1="988" x2="988" y1="1525.4" y2="1541.4" stroke="#333" stroke-width="2"/>
<line x1="1082.5" x2="1082.5" y1="1525.4" y2="1541.4" stroke="#333" stroke-width="2"/>
<line x1="1164.6" x2="1164.6" y1="1525.4" y2="1541.4" stroke="#333" stroke-width="2"/>
<line x1="1252.5" x2="1252.5" y1="1525.4" y2="1541.4" stroke="#333" stroke-width="2"/>
<line x1="1345" x2="1345" y1="1525.4" y2="1541.4" stroke="#333" stroke-width="2"/>
<line x1="1456.5" x2="1456.5" y1="1525.4" y2="1541.4" stroke="#333" stroke-width="2"/>
<line x1="1575.9" x2="1575.9" y1="1525.4" y2="1541.4" stroke="#333" stroke-width="2"/>
<line x1="1671.3" x2="1671.3" y1="1525.4" y2="1541.4" stroke="#333" stroke-width="2"/>
<line x1="1792.2" x2="1792.2" y1="1525.4" y2="1541.4" stroke="#333" stroke-width="2"/>
<line x1="1915.6" x2="1915.6" y1="1525.4" y2="1541.4" stroke="#333" stroke-width="2"/>
<line x1="2013" x2="2013" y1="1525.4" y2="1541.4" stroke="#333" stroke-width="2"/>
<line x1="2112.7" x2="2112.7" y1="1525.4" y2="1541.4" stroke="#333" stroke-width="2"/>
<line x1="2213.9" x2="2213.9" y1="1525.4" y2="1541.4" stroke="#333" stroke-width="2"/>
<line x1="2315.1" x2="2315.1" y1="1525.4" y2="1541.4" stroke="#333" stroke-width="2"/>
<line x1="2410.9" x2="2410.9" y1="1525.4" y2="1541.4" stroke="#333" stroke-width="2"/>
<text x="300.8" y="845.2" font-size="60.5" font-weight="bold">Bu bulk</text>
<text transform="translate(72 1192) rotate(-90)" font-size="71" text-anchor="middle">SNP-index</text>
</g>
<g>
<rect x="280.5" y="1627" width="137.5" height="660" fill="#E5E5E5"/>
<rect x="521" y="1627" width="99" height="660" fill="#E5E5E5"/>
<rect x="822" y="1627" width="111" height="660" fill="#E5E5E5"/>
<rect x="1041.5" y="1627" width="83.5" height="660" fill="#E5E5E5"/>
<rect x="1205" y="1627" width="96" height="660" fill="#E5E5E5"/>
<rect x="1390" y="1627" width="135" height="660" fill="#E5E5E5"/>
<rect x="1628.5" y="1627" width="89.5" height="660" fill="#E5E5E5"/>
<rect x="1869" y="1627" width="96.5" height="660" fill="#E5E5E5"/>
<rect x="2064.5" y="1627" width="100" height="660" fill="#E5E5E5"/>
<rect x="2268" y="1627" width="98" height="660" fill="#E5E5E5"/>
<clipPath id="cp2"><rect x="279" y="1626.5" width="2183" height="661"/></clipPath>
<g clip-path="url(#cp2)">
<path d="M283.8 1795.6V2103.4M286.4 1806.1V2102.8M289.4 1801.5V2129.5M291.5 1787.9V2106.9M293.8 1802.2V2105.5M297 1790.3V2100.9M298.3 1801.2V2102.2M303.7 1776.7V2106M306.4 1793V2135.2M308.1 1791.8V2099.6M311.5 1782.7V2111.5M313.6 1794.3V2132M315.6 1803.9V2099.9M318.6 1795.3V2114.2M320.8 1791.6V2110.9M326.1 1788.7V2114.5M328.9 1787V2105.7M331.5 1777.1V2110.4M333.6 1775.8V2114.6M336.2 1780.6V2107.4M338.3 1785V2112.4M341.5 1789.3V2107.2M343.5 1801V2104.6M346.3 1777.4V1844.5M349 1766.7V1846M351.6 1782V1847.5M353.4 1781.3V1849.2M354.9 1781.4V1851.5M355.9 1804.7V2133.1M358.6 1790.2V2109.1M361.3 1804.5V2127.1M363.7 1798.2V2111.8M366.7 1795.7V2108.1M369.1 1806.5V2112.7M371.8 1806.5V2106M374.1 1800.8V2120.8M375.4 1782.9V2118.4M378.6 1794.9V2109.4M380.5 1751.6V2120.3M383.1 1774.3V2116.7M386.3 1729.2V2100.3M388.6 1751.2V2107.7M391.8 1727.2V2107.2M393.7 1752.2V2103.8M396.8 1747.5V2103.6M399.4 1731.2V2103.3M401.7 1733V2123M403.9 1755.6V2104.4M406.4 1754.3V2113.3M408.8 1763.1V2100.8M411.7 1772.7V2101.7M413.9 1771.2V2104.9M347.1 2089V2114.4M349.7 2092.4V2115.7M352.3 2089.2V2115.5M524.1 1841.2V2127.1M527.1 1829.7V2176.6M529.5 1853.2V2142.9M530.5 1848.4V2133.1M532.5 1858.6V2128.6M536 1866.8V2116.1M538.2 1863.9V2115.1M559.8 1781.7V2108M562.9 1776.6V2112.5M565.3 1778.1V2106.7M568 1781.3V2110.5M571.2 1778.9V2110.9M572.8 1779.9V2106.3M575.5 1770.7V2108.2M576.6 1776V2110.1M578.7 1782.7V2110.8M581.3 1782.5V2118M583.8 1774V2105.7M586.1 1782.6V2114.4M589.6 1762.9V2135M591.4 1785.6V2108.3M596.7 1779V2133.8M601.8 1791.5V2124.9M603.9 1789.3V2111.7M606.9 1792V2137.7M609.6 1789.4V2120.8M611.8 1781.7V2124.1M614.7 1789.1V2105.6M617.1 1798.2V2111.6M542.3 1806.8V1851.6M544.9 1812.9V1849.9M547.5 1815.4V1843.3M550.1 1814.1V1843.8M552.7 1815.5V1851.3M555.3 1816.3V1843.7M542.3 2029.3V2116.5M544.9 2029.6V2111.5M547.5 2029.5V2117.8M550.1 2025.2V2119.5M552.7 2033.1V2114.9M555.3 2026.5V2115.5M822.1 1798.6V2108.4M824.8 1796.6V2133.1M830.8 1797.4V2126.2M833.4 1787.1V2125M835.3 1786.2V2119.7M838.6 1787.5V2114.5M840 1785.3V2107M842.3 1782.6V2114.2M845.3 1788.5V2124.2M847.5 1788.2V2110.7M850.5 1782.9V2111M852.9 1792.6V2111.3M853.6 1792.1V2114.1M856.4 1792.9V2110.4M859.5 1796.5V2106.9M864.2 1798.6V2103.9M867.6 1803.5V2110.2M868.6 1804.4V2127.4M871.2 1797.3V2116.2M873.4 1777.2V2125.5M876.3 1777.7V2150M878.7 1799.9V2132.3M881.4 1805V2130.6M882.3 1800.1V2159.4M884.5 1786.3V2151.5M889.9 1810.4V2118.3M893.1 1808.6V2127.4M895.5 1794.4V2117.1M897.4 1812.6V2113.2M910.9 1792.6V2103.9M912.7 1807.9V2102.6M915.3 1797.7V2102.5M918.5 1808.2V2113.1M920.8 1796.6V2106.3M920.9 1796.4V2104.5M923.3 1797.2V2104.7M931.3 1803.3V2104.8M1042.1 1884.3V2054.5M1044.4 1878.6V2087.3M1047.5 1868.6V2074.3M1050 1867.4V2056.9M1052.4 1865.2V2059.8M1055.1 1849.1V2057.1M1057.2 1856.9V2066.7M1060.2 1853.2V2075.9M1062.8 1834.9V2106.9M1065.1 1846.3V2099.8M1068.3 1840.2V2094.1M1068.7 1838.1V2094M1071 1827.8V2098.4M1074.3 1823.4V2104.6M1076.3 1817.6V2104.6M1078.5 1808.3V2107.6M1081.1 1820.1V2103.7M1084.1 1810V2104.5M1086.1 1814.2V2104.4M1086.9 1820.2V2102.9M1088.9 1826V2103.4M1091.6 1827.6V2105.3M1097 1793.2V2103.9M1099.4 1773.6V2110.9M1102 1772.7V2110M1105.3 1760.6V2105.8M1107.5 1757.6V2111.5M1107.3 1757.6V2108.6M1109.9 1750.4V2107.8M1113 1748V2098.4M1115.8 1741.7V2096.6M1117.7 1734.2V2095.8M1118.6 1734.1V2092.8M1120.5 1738V2090.5M1123.5 1756.8V2085M1205.5 1842.9V2108.5M1208.3 1838.3V2117.3M1211.3 1839.5V2118.5M1213.7 1835.9V2101.1M1216.1 1832.1V2115.4M1216.5 1831.5V2125.5M1219.7 1831.3V2113.4M1222.1 1809.3V2134.3M1224.1 1817.3V2136.7M1227.3 1822.3V2109.6M1229.9 1826.3V2100.6M1231.8 1811.5V2114.7M1234.5 1793.1V2109.5M1236.7 1813.9V2099.7M1239.4 1815.4V2104.6M1242.3 1822.5V2106.5M1245.2 1814V2101.3M1247.2 1818.9V2105M1255.6 1822.1V2103.6M1258.1 1822.8V2116.5M1260.8 1827.6V2110.2M1263.5 1818.2V2114M1265.9 1825.8V2105.3M1274.7 1819.7V2109.8M1277.7 1816.5V2101.8M1280.1 1800V2107.3M1282.1 1775V2100.1M1285.4 1788V2102.7M1287.1 1791.1V2114.3M1290 1788V2108.1M1292.4 1801V2103M1294.5 1806.2V2099.7M1390.8 1813.9V2114.4M1393.1 1807.8V2098.6M1395.6 1806.9V2096.7M1397.9 1825.1V2102.9M1400.9 1819.4V2106.6M1403.7 1827.2V2103.5M1406.4 1833.2V2102.6M1406.7 1818V2110.9M1409.4 1833.9V2113.1M1411.8 1826.4V2108.3M1414.2 1831.8V2115.8M1417.5 1833.9V2104.2M1419.5 1830.9V2102.7M1420.4 1831V2110.2M1423 1824.6V2102.8M1425.7 1827.7V2102.3M1430.8 1817.7V2115M1433.8 1821.9V2127.5M1435 1833V2100.2M1437.8 1833.9V2106M1442.8 1823.5V2126.7M1445 1803.8V2108.7M1448 1811.8V2116.1M1449 1809.5V2148.6M1451.1 1810.9V2133.9M1453.7 1784.3V2110.3M1456.4 1816V2111.5M1458.9 1805.1V2113.4M1461.4 1820.5V2115.7M1463.4 1803.6V2113.6M1465.3 1780.5V2124.2M1468 1787.1V2105M1471.2 1813.7V2112.5M1473.4 1819.4V2121.8M1475.5 1805.6V2122.5M1477.5 1776.2V2112.1M1479.2 1822.4V2112.1M1482.7 1831.8V2120.3M1482.5 1827.8V2128.1M1484.6 1828.1V2117.8M1487.9 1815.1V2140M1489.7 1828.1V2135.8M1495.5 1811.3V2113.8M1498 1829.8V2136.2M1498.6 1835.9V2115.4M1500.8 1816.1V2125.1M1503.6 1831.2V2109.7M1506.1 1832.9V2110.7M1508.1 1839.5V2135.6M1511.1 1831.1V2134.3M1512.5 1840V2116.4M1515.3 1844.5V2113.1M1517.7 1840.2V2121.7M1520 1845.1V2111.4M1522.7 1838.1V2112.2M1667.1 1868.2V2021.9M1669.5 1857.5V2038.4M1672.9 1818.6V2050.8M1675.2 1821.2V2056.5M1676.3 1818.1V2060.6M1678.3 1794.8V2068.2M1681 1804V2069.9M1684 1793.3V2074.6M1684.4 1793.1V2082.1M1687.8 1786V2085.8M1689.6 1771.9V2084.9M1693 1759.5V2088M1695.3 1776V2095M1695 1779.5V2093.5M1697.6 1773.6V2108.5M1700.6 1771.6V2110.2M1702.8 1766.1V2109.8M1705.4 1769.5V2103.3M1705.8 1769.7V2106.6M1708.7 1774.9V2106.4M1713.9 1783.5V2099.7M1869.9 1883.9V2051.6M1872.1 1862.5V2052.5M1875 1833.1V2045M1877.7 1806.6V2062M1878.7 1813.7V2060.3M1881.2 1806.2V2025.1M1883.3 1791.8V2015.4M1885.1 1787.5V2012.3M1887.6 1773.7V1963.2M1890.2 1761.4V1936.3M1893.2 1751V1935.6M1895.4 1735.3V1894.4M1896.1 1735.4V1906.3M1898.5 1715.9V1923.9M1900.8 1703.7V1896.9M1902.7 1690.6V1901M1905.6 1668V1891.2M1908.3 1646.5V1886.3M1907.8 1644.8V1877.8M1911.3 1639.7V1885.8M1913.6 1638.4V1880.5M1916.1 1635.9V1883.5M1917.2 1634.3V1885.8M1920.1 1633.6V1874.5M1922.1 1633.1V1875.3M1924.5 1632.6V1873.1M1930.1 1631.5V1892.2M1932.9 1630.9V1867.4M1934.5 1630.5V1883.3M1936.8 1631.1V1865.5M1939.6 1631.3V1870.9M1942.8 1632.3V1860.2M1944.9 1632.6V1860.9M1947.2 1632.8V1866.1M1949.8 1633.8V1858.5M1952.3 1634.4V1878.1M1957.2 1641.9V1854.1M1960.1 1644.9V1852M1962.8 1652.1V1859.8M2064.6 1855.2V2071.2M2067.5 1844.4V2074.5M2070.4 1844.5V2077.5M2073 1822.3V2080.1M2075.4 1832.7V2097.6M2077.4 1827.6V2113.5M2079.7 1820.1V2104.4M2081.9 1813.8V2108.7M2084.6 1828.4V2115.7M2087.2 1821.4V2127.3M2089.7 1808.7V2128.2M2092.2 1817.6V2130.1M2094.2 1820.3V2144.7M2097.6 1822.3V2138M2099.8 1824.4V2139.9M2100.3 1810.3V2140.2M2103 1824.8V2135.4M2105.7 1808.4V2132.7M2108 1816.8V2149.9M2116.3 1818.2V2146M2118.1 1807.5V2139.2M2121.4 1822.7V2142.4M2123.7 1813.4V2140.2M2125.9 1807.6V2135.3M2127.9 1818.8V2142.7M2131.1 1788V2128M2133 1792.6V2120.3M2135.6 1825.4V2121.6M2138.1 1814.6V2108.6M2139.2 1806V2107.9M2141.3 1829.8V2113.6M2144.3 1829.7V2105.2M2146.8 1836.8V2102.9M2148.7 1842.7V2102.6M2151.6 1841.8V2113.8M2152.4 1834.3V2099.9M2155.4 1846.5V2089M2158.4 1849.2V2089.3M2160.7 1861.5V2083.9M2268.8 1802.3V2101.2M2270.8 1815.2V2108.8M2274.3 1818.5V2109.3M2276.9 1823.5V2112.9M2277.8 1818.1V2119.2M2280.5 1825.6V2141.4M2282.7 1828.7V2121.7M2285.4 1833V2118.5M2286.9 1833.4V2119.8M2289.6 1828.3V2118.6M2291.8 1840V2121.9M2294.3 1835.6V2131.7M2297.3 1838.6V2131.2M2299.4 1851.4V2127.9M2301.1 1839.2V2130.8M2302.8 1851.5V2130.7M2305.5 1857.7V2133.5M2312.8 1850.9V2118.3M2315.3 1836.2V2115.4M2318.2 1847.6V2120.7M2320.6 1850.8V2132.2M2323.7 1829.3V2138.6M2325.9 1850V2117.3M2329 1849.1V2119.8M2329.1 1840.3V2116.9M2331 1852V2118.5M2334.2 1839.1V2115.6M2336.4 1823.1V2117.5M2341.4 1827.2V2114.8M2343.1 1811.1V2117.6M2345 1833.7V2126.1M2347.7 1826.8V2111M2350.5 1821.6V2145.4M2353.3 1809.9V2110.9M2353.2 1818.3V2114.1M2355.5 1845.1V2103.7M2358.4 1850.7V2098.3M2360.7 1851.8V2100.5M2364.2 1862.1V2080.4" stroke="#FF8205" stroke-width="4" stroke-linecap="round" fill="none"/>
<path d="M283.8 1792.6V1769.7M283.8 2106.4V2122.7M286.4 1803.1V1776.3M286.4 2105.8V2119.1M289.4 1798.5V1784.4M289.4 2132.5V2141.4M291.5 1784.9V1764.1M291.5 2109.9V2127.3M293.8 1799.2V1778.7M293.8 2108.5V2132.4M297 1787.3V1775.1M297 2103.9V2125.8M298.3 1798.2V1789.1M298.3 2105.2V2125.9M301.1 1792.2V1777.7M301.1 2140.2V2143.4M303.7 1773.7V1768.3M303.7 2109V2131.9M306.4 1790V1772.2M306.4 2138.2V2145.7M308.1 1788.8V1778.5M308.1 2102.6V2111.4M311.5 1779.7V1758.1M311.5 2114.5V2126.7M313.6 1791.3V1772.2M313.6 2135V2147M315.6 1800.9V1756.7M315.6 2102.9V2119.8M318.6 1792.3V1752.3M318.6 2117.2V2133.6M320.8 1788.6V1760.1M320.8 2113.9V2129.9M323.3 1790.8V1781M323.3 2110.4V2118.9M326.1 1785.7V1769.5M326.1 2117.5V2122.4M328.9 1784V1765.1M328.9 2108.7V2119.5M331.5 1774.1V1765.9M331.5 2113.4V2116.5M333.6 1772.8V1767.8M333.6 2117.6V2125.3M336.2 1777.6V1770.3M336.2 2110.4V2113.8M338.3 1782V1774.4M338.3 2115.4V2120.6M341.5 1786.3V1766M341.5 2110.2V2121.8M343.5 1798V1778.7M343.5 2107.6V2118.8M344.3 1774.8V1759.5M344.3 2107.6V2113.1M346.3 1774.4V1760.3M346.3 1847.5V1848.5M349 1763.7V1748.2M349 1849V1851M351.6 1779V1754.3M351.6 1850.5V1857.3M353.4 1778.3V1766.9M353.4 1852.2V1852.1M354.9 1778.4V1768.2M354.9 1854.5V1854.8M355.9 1801.7V1783.6M355.9 2136.1V2155.2M358.6 1787.2V1781.2M358.6 2112.1V2140.8M361.3 1801.5V1779M361.3 2130.1V2162.7M363.7 1795.2V1786M363.7 2114.8V2120.9M366.7 1792.7V1786.9M366.7 2111.1V2121M369.1 1803.5V1793.3M369.1 2115.7V2126.3M371.8 1803.5V1787.3M371.8 2109V2130.7M374.1 1797.8V1787.4M374.1 2123.8V2129.2M375.4 1779.9V1774.2M375.4 2121.4V2144.7M378.6 1791.9V1773.8M378.6 2112.4V2128.1M380.5 1748.6V1742.5M380.5 2123.3V2139.1M383.1 1771.3V1759.3M383.1 2119.7V2133.2M385.9 1750.8V1740.4M385.9 2117.1V2123.1M386.3 1726.2V1720.5M386.3 2103.3V2114.9M388.6 1748.2V1741.7M388.6 2110.7V2116.5M391.8 1724.2V1717.8M391.8 2110.2V2118.3M393.7 1749.2V1735M393.7 2106.8V2112.9M396.8 1744.5V1727.8M396.8 2106.6V2122.8M399.4 1728.2V1709.9M399.4 2106.3V2117.4M401.7 1730V1711.1M401.7 2126V2135.2M403.9 1752.6V1740.2M403.9 2107.4V2119M406.4 1751.3V1745.1M406.4 2116.3V2120.5M408.8 1760.1V1753.1M408.8 2103.8V2118.3M411.7 1769.7V1751.1M411.7 2104.7V2125.1M413.9 1768.2V1756.5M413.9 2107.9V2124.5M521.4 1824.9V1807.2M521.4 2122.5V2135.2M524.1 1838.2V1821.9M524.1 2130.1V2157.2M527.1 1826.7V1818.4M527.1 2179.6V2182.4M529.5 1850.2V1826.9M529.5 2145.9V2177.7M530.5 1845.4V1838.7M530.5 2136.1V2150.5M532.5 1855.6V1839.8M532.5 2131.6V2147.5M536 1863.8V1852.8M536 2119.1V2131.7M538.2 1860.9V1852.9M538.2 2118.1V2125.8M559.8 1778.7V1772.4M559.8 2111V2114.1M562.9 1773.6V1768.3M562.9 2115.5V2121.1M565.3 1775.1V1767.7M565.3 2109.7V2115.4M568 1778.3V1761.3M568 2113.5V2119.2M571.2 1775.9V1769.9M571.2 2113.9V2120.7M572.8 1776.9V1756.9M572.8 2109.3V2114.2M575.5 1767.7V1754.7M575.5 2111.2V2115.8M576.6 1773V1757.5M576.6 2113.1V2119.3M578.7 1779.7V1758.1M578.7 2113.8V2123.5M581.3 1779.5V1769.5M581.3 2121V2128.3M583.8 1771V1767.9M583.8 2108.7V2114.3M586.1 1779.6V1755.9M586.1 2117.4V2126.9M589.6 1759.9V1755.1M589.6 2138V2145.1M591.4 1782.6V1768.7M591.4 2111.3V2123.9M594.1 1783.8V1769.5M594.1 2113.3V2126.9M596.7 1776V1765.3M596.7 2136.8V2139.2M598.8 1778V1770.7M598.8 2135.1V2138.3M601.8 1788.5V1771.5M601.8 2127.9V2140.6M603.8 1775.9V1769.5M603.8 2119.5V2138.1M603.9 1786.3V1779.1M603.9 2114.7V2133.2M606.9 1789V1781.1M606.9 2140.7V2143.9M609.6 1786.4V1779.1M609.6 2123.8V2131.2M611.8 1778.7V1774.6M611.8 2127.1V2135.9M614.7 1786.1V1786.2M614.7 2108.6V2115.3M617.1 1795.2V1784.7M617.1 2114.6V2124.9M822.1 1795.6V1791.7M822.1 2111.4V2115.8M824.8 1793.6V1783.5M824.8 2136.1V2139.6M827.8 1785.9V1780.4M827.8 2110.4V2127.8M830.8 1794.4V1780.6M830.8 2129.2V2147.3M833.4 1784.1V1779.5M833.4 2128V2134M835.3 1783.2V1777.6M835.3 2122.7V2129.5M838.6 1784.5V1783.2M838.6 2117.5V2126.7M840 1782.3V1776.7M840 2110V2115.1M842.3 1779.6V1773.7M842.3 2117.2V2126.4M845.3 1785.5V1773.5M845.3 2127.2V2133.3M847.5 1785.2V1781.3M847.5 2113.7V2122.8M850.5 1779.9V1777.1M850.5 2114V2121.2M852.9 1789.6V1788.5M852.9 2114.3V2123.1M853.6 1789.1V1783.6M853.6 2117.1V2123.8M856.4 1789.9V1783.8M856.4 2113.4V2128.1M859.5 1793.5V1792.2M859.5 2109.9V2115.7M861.9 1792.1V1785.8M861.9 2119.8V2128.2M864.2 1795.6V1793.1M864.2 2106.9V2125.1M867.6 1800.5V1794.2M867.6 2113.2V2128.9M868.6 1801.4V1790.7M868.6 2130.4V2155.2M871.2 1794.3V1785.5M871.2 2119.2V2157.9M873.4 1774.2V1773.7M873.4 2128.5V2163.4M876.3 1774.7V1772.1M876.3 2153V2167M878.7 1796.9V1793.9M878.7 2135.3V2145.2M881.4 1802V1787.3M881.4 2133.6V2157.9M882.3 1797.1V1787.7M882.3 2162.4V2177M884.5 1783.3V1771.2M884.5 2154.5V2165M887.7 1805.7V1798.1M887.7 2126.9V2143.4M889.9 1807.4V1792.1M889.9 2121.3V2135.1M893.1 1805.6V1793.9M893.1 2130.4V2150.6M895.5 1791.4V1788.2M895.5 2120.1V2135.5M897.4 1809.6V1806.2M897.4 2116.2V2125M910.9 1789.6V1786.9M910.9 2106.9V2117.3M912.7 1804.9V1796.7M912.7 2105.6V2131.3M915.3 1794.7V1779.9M915.3 2105.5V2114.4M918.5 1805.2V1782.5M918.5 2116.1V2134.1M920.8 1793.6V1790M920.8 2109.3V2118.3M920.9 1793.4V1789.6M920.9 2107.5V2114.2M923.3 1794.2V1782.5M923.3 2107.7V2118M925.7 1801.6V1788.9M925.7 2127.2V2138.9M928.4 1799.3V1795.5M928.4 2111.3V2114M931.3 1800.3V1797.1M931.3 2107.8V2111.4M1042.1 1881.3V1862.6M1042.1 2057.5V2070.8M1044.4 1875.6V1863.8M1044.4 2090.3V2098.3M1047.5 1865.6V1843M1047.5 2077.3V2098.3M1050 1864.4V1845.6M1050 2059.9V2085.4M1052.4 1862.2V1839.8M1052.4 2062.8V2085.6M1055.1 1846.1V1830.1M1055.1 2060.1V2086.6M1057.2 1853.9V1838.3M1057.2 2069.7V2089.2M1060.2 1850.2V1843.6M1060.2 2078.9V2088.6M1062.8 1831.9V1824.1M1062.8 2109.9V2115M1065.1 1843.3V1831M1065.1 2102.8V2115M1068.3 1837.2V1820.6M1068.3 2097.1V2105M1068.7 1835.1V1824.1M1068.7 2097V2113.4M1071 1824.8V1820.7M1071 2101.4V2103M1074.3 1820.4V1815.1M1074.3 2107.6V2113.4M1076.3 1814.6V1803.6M1076.3 2107.6V2112.2M1078.5 1805.3V1803.1M1078.5 2110.6V2114.5M1081.1 1817.1V1807.4M1081.1 2106.7V2111M1084.1 1807V1805.7M1084.1 2107.5V2111.7M1086.1 1811.2V1806.4M1086.1 2107.4V2111.8M1086.9 1817.2V1808.6M1086.9 2105.9V2108.6M1088.9 1823V1816.2M1088.9 2106.4V2109.9M1091.6 1824.6V1821.2M1091.6 2108.3V2112.7M1097 1790.2V1782.1M1097 2106.9V2112.3M1099.4 1770.6V1768.9M1099.4 2113.9V2118M1102 1769.7V1763.7M1102 2113V2118.6M1105.3 1757.6V1748.2M1105.3 2108.8V2120.2M1107.5 1754.6V1754.5M1107.5 2114.5V2113.8M1107.3 1754.6V1751.2M1107.3 2111.6V2112.1M1109.9 1747.4V1744.6M1109.9 2110.8V2111.9M1113 1745V1743.6M1113 2101.4V2108.1M1115.8 1738.7V1734.4M1115.8 2099.6V2101.6M1117.7 1731.2V1729.4M1117.7 2098.8V2101.8M1118.6 1731.1V1727.1M1118.6 2095.8V2098M1120.5 1735V1732.5M1120.5 2093.5V2100.1M1123.5 1753.8V1748.6M1123.5 2088V2093.5M1205.5 1839.9V1832.7M1205.5 2111.5V2118.5M1208.3 1835.3V1826.7M1208.3 2120.3V2125.8M1211.3 1836.5V1825.6M1211.3 2121.5V2126.5M1213.7 1832.9V1822M1213.7 2104.1V2122.9M1216.1 1829.1V1826.1M1216.1 2118.4V2124.5M1216.5 1828.5V1818.9M1216.5 2128.5V2139.3M1219.7 1828.3V1809.8M1219.7 2116.4V2146.7M1222.1 1806.3V1798.9M1222.1 2137.3V2145.5M1224.1 1814.3V1804.1M1224.1 2139.7V2144.7M1227.3 1819.3V1811.2M1227.3 2112.6V2128.7M1229.9 1823.3V1814.3M1229.9 2103.6V2113.7M1231.8 1808.5V1796.9M1231.8 2117.7V2127.7M1234.5 1790.1V1780.4M1234.5 2112.5V2132.4M1236.7 1810.9V1801.4M1236.7 2102.7V2115.3M1239.4 1812.4V1788.1M1239.4 2107.6V2116.3M1242.3 1819.5V1792.2M1242.3 2109.5V2122.5M1245.2 1811V1807.2M1245.2 2104.3V2111.5M1247.2 1815.9V1811.9M1247.2 2108V2115.6M1255.6 1819.1V1810.5M1255.6 2106.6V2122.2M1258.1 1819.8V1814.7M1258.1 2119.5V2124.4M1260.8 1824.6V1820.5M1260.8 2113.2V2117.5M1263.5 1815.2V1807.9M1263.5 2117V2128M1265.9 1822.8V1815.8M1265.9 2108.3V2119.7M1274.7 1816.7V1812.1M1274.7 2112.8V2114.9M1277.7 1813.5V1809M1277.7 2104.8V2111.7M1280.1 1797V1789.6M1280.1 2110.3V2112.3M1282.1 1772V1769.3M1282.1 2103.1V2112.9M1285.4 1785V1778.2M1285.4 2105.7V2111M1287.1 1788.1V1778.7M1287.1 2117.3V2120.1M1290 1785V1772.4M1290 2111.1V2129.9M1292.4 1798V1777.3M1292.4 2106V2122.6M1294.5 1803.2V1795.5M1294.5 2102.7V2106.1M1297.9 1771V1765.3M1297.9 2115.1V2123.3M1390.8 1810.9V1801.6M1390.8 2117.4V2121.7M1393.1 1804.8V1801.6M1393.1 2101.6V2115.6M1395.6 1803.9V1802.6M1395.6 2099.7V2107.4M1397.9 1822.1V1817.5M1397.9 2105.9V2111.8M1400.9 1816.4V1815.2M1400.9 2109.6V2110.8M1403.7 1824.2V1814.5M1403.7 2106.5V2113.3M1406.4 1830.2V1812.3M1406.4 2105.6V2111.1M1406.7 1815V1806.4M1406.7 2113.9V2120.1M1409.4 1830.9V1821.6M1409.4 2116.1V2119.2M1411.8 1823.4V1814.7M1411.8 2111.3V2120.4M1414.2 1828.8V1822M1414.2 2118.8V2125.8M1417.5 1830.9V1827.4M1417.5 2107.2V2117.6M1419.5 1827.9V1816.1M1419.5 2105.7V2112.6M1420.4 1828V1816.3M1420.4 2113.2V2116.1M1423 1821.6V1802.3M1423 2105.8V2125.5M1425.7 1824.7V1799.8M1425.7 2105.3V2117M1428.4 1819.5V1810.2M1428.4 2102.7V2126.5M1430.8 1814.7V1801.6M1430.8 2118V2122.4M1433.8 1818.9V1807.7M1433.8 2130.5V2135.1M1435 1830V1810.7M1435 2103.2V2111M1437.8 1830.9V1816.9M1437.8 2109V2115.2M1439.9 1800V1782M1439.9 2111.7V2123.6M1442.8 1820.5V1800.7M1442.8 2129.7V2144.8M1445 1800.8V1779M1445 2111.7V2138.8M1448 1808.8V1782.3M1448 2119.1V2144.9M1449 1806.5V1779.9M1449 2151.6V2153.2M1451.1 1807.9V1794.8M1451.1 2136.9V2150.5M1453.7 1781.3V1777.1M1453.7 2113.3V2136.3M1456.4 1813V1801.9M1456.4 2114.5V2123M1458.9 1802.1V1795M1458.9 2116.4V2135.7M1461.4 1817.5V1804.6M1461.4 2118.7V2131.4M1463.4 1800.6V1795.2M1463.4 2116.6V2135.8M1465.3 1777.5V1777.2M1465.3 2127.2V2154.1M1468 1784.1V1776.2M1468 2108V2138.9M1471.2 1810.7V1790.6M1471.2 2115.5V2141.3M1473.4 1816.4V1811.1M1473.4 2124.8V2143.3M1475.5 1802.6V1793.1M1475.5 2125.5V2151.7M1477.5 1773.2V1771.1M1477.5 2115.1V2152.3M1479.2 1819.4V1797.9M1479.2 2115.1V2140.5M1482.7 1828.8V1820.8M1482.7 2123.3V2133.2M1482.5 1824.8V1822.8M1482.5 2131.1V2133.6M1484.6 1825.1V1815.6M1484.6 2120.8V2142.8M1487.9 1812.1V1808.1M1487.9 2143V2153.4M1489.7 1825.1V1816.4M1489.7 2138.8V2143.8M1492.6 1815.7V1805.7M1492.6 2116.3V2131.8M1495.5 1808.3V1804.1M1495.5 2116.8V2127.7M1498 1826.8V1810.1M1498 2139.2V2142.7M1498.6 1832.9V1823.7M1498.6 2118.4V2132.9M1500.8 1813.1V1800.9M1500.8 2128.1V2136.5M1503.6 1828.2V1823.1M1503.6 2112.7V2119.2M1506.1 1829.9V1828.5M1506.1 2113.7V2121.4M1508.1 1836.5V1820.3M1508.1 2138.6V2155.2M1511.1 1828.1V1822.4M1511.1 2137.3V2155.6M1512.5 1837V1821.5M1512.5 2119.4V2137.4M1515.3 1841.5V1821.8M1515.3 2116.1V2125M1517.7 1837.2V1828.8M1517.7 2124.7V2131.6M1520 1842.1V1840.8M1520 2114.4V2118.9M1522.7 1835.1V1823.2M1522.7 2115.2V2121.9M1667.1 1865.2V1860.7M1667.1 2024.9V2033.2M1669.5 1854.5V1842.9M1669.5 2041.4V2048.5M1672.9 1815.6V1811.8M1672.9 2053.8V2057M1675.2 1818.2V1799.6M1675.2 2059.5V2066.9M1676.3 1815.1V1797M1676.3 2063.6V2067.5M1678.3 1791.8V1780.2M1678.3 2071.2V2075.4M1681 1801V1778.9M1681 2072.9V2080.6M1684 1790.3V1783.9M1684 2077.6V2087.5M1684.4 1790.1V1783.7M1684.4 2085.1V2090.4M1687.8 1783V1778.1M1687.8 2088.8V2090.6M1689.6 1768.9V1763.2M1689.6 2087.9V2091.9M1693 2091V2097.1M1695.3 1773V1762.9M1695.3 2098V2105.9M1695 1776.5V1775.7M1695 2096.5V2098.5M1697.6 1770.6V1766.7M1697.6 2111.5V2112.8M1700.6 1768.6V1762.9M1700.6 2113.2V2116.9M1702.8 1763.1V1762.7M1702.8 2112.8V2118.8M1705.4 1766.5V1765.1M1705.4 2106.3V2112.4M1705.8 1766.7V1763.8M1705.8 2109.6V2111.2M1708.7 1771.9V1769.6M1708.7 2109.4V2113M1711 1776V1774.2M1711 2099.9V2101.3M1713.9 1780.5V1779.8M1713.9 2102.7V2105.8M1716.8 1784.5V1778.2M1716.8 2102.8V2113.8M1869.9 1880.9V1873.8M1869.9 2054.6V2067.3M1872.1 1859.5V1846.8M1872.1 2055.5V2075.3M1875 1830.1V1825M1875 2048V2060.1M1877.7 1803.6V1802M1877.7 2065V2084.7M1878.7 1810.7V1801.9M1878.7 2063.3V2074.5M1881.2 1803.2V1792.2M1881.2 2028.1V2058.6M1883.3 1788.8V1783.8M1883.3 2018.4V2029.9M1885.1 1784.5V1781.7M1885.1 2015.3V2021.6M1887.6 1770.7V1764.9M1887.6 1966.2V2015.5M1890.2 1758.4V1752.1M1890.2 1939.3V1988.6M1893.2 1748V1746.8M1893.2 1938.6V1973.7M1895.4 1732.3V1731.1M1895.4 1897.4V1959.2M1896.1 1732.4V1729.4M1896.1 1909.3V1931.5M1898.5 1712.9V1711.8M1898.5 1926.9V1957.6M1900.8 1700.7V1699.1M1900.8 1899.9V1926M1902.7 1687.6V1686.2M1902.7 1904V1913.7M1905.6 1665V1665.8M1905.6 1894.2V1910.5M1908.3 1643.5V1644.9M1908.3 1889.3V1896.5M1907.8 1641.8V1642.9M1907.8 1880.8V1888.2M1911.3 1636.7V1637.4M1911.3 1888.8V1892.7M1913.6 1635.4V1636.1M1913.6 1883.5V1897.4M1916.1 1886.5V1894.4M1917.2 1888.8V1892.5M1920.1 1877.5V1890.5M1922.1 1878.3V1882.5M1924.5 1876.1V1882.6M1927.9 1884.9V1893.5M1930.1 1895.2V1898.5M1932.9 1870.4V1881.4M1934.5 1886.3V1900.1M1936.8 1868.5V1880M1939.6 1873.9V1880.9M1942.8 1863.2V1870.6M1944.9 1863.9V1877.7M1947.2 1869.1V1872.7M1949.8 1861.5V1871.6M1952.3 1881.1V1899.4M1954.3 1636V1633.9M1954.3 1855.3V1868.2M1957.2 1638.9V1636.4M1957.2 1857.1V1880.2M1960.1 1641.9V1638.8M1960.1 1855V1885.7M1962.8 1649.1V1644.6M1962.8 1862.8V1876M2064.6 1852.2V1842.3M2064.6 2074.2V2084M2067.5 1841.4V1834.9M2067.5 2077.5V2084.7M2070.4 1841.5V1833.5M2070.4 2080.5V2088.2M2073 1819.3V1811.8M2073 2083.1V2091.9M2075.4 1829.7V1824.3M2075.4 2100.6V2108M2077.4 1824.6V1805M2077.4 2116.5V2123.4M2079.7 1817.1V1805.5M2079.7 2107.4V2113.6M2081.9 1810.8V1806.6M2081.9 2111.7V2116.6M2084.6 1825.4V1816.7M2084.6 2118.7V2121.9M2087.2 1818.4V1814.7M2087.2 2130.3V2135.4M2089.7 1805.7V1795.3M2089.7 2131.2V2153.5M2092.2 1814.6V1809.7M2092.2 2133.1V2141.2M2094.2 1817.3V1806.1M2094.2 2147.7V2150.1M2097.6 1819.3V1804.9M2097.6 2141V2148M2099.8 1821.4V1808.9M2099.8 2142.9V2148.5M2100.3 1807.3V1798.7M2100.3 2143.2V2149.2M2103 1821.8V1807.6M2103 2138.4V2143.6M2105.7 1805.4V1796.1M2105.7 2135.7V2144.8M2108 1813.8V1807M2108 2152.9V2153.6M2116.3 1815.2V1807.5M2116.3 2149V2155.3M2118.1 1804.5V1795M2118.1 2142.2V2155.1M2121.4 1819.7V1809.3M2121.4 2145.4V2154.7M2123.7 1810.4V1802.6M2123.7 2143.2V2148.6M2125.9 1804.6V1794.6M2125.9 2138.3V2156.3M2127.9 1815.8V1791M2127.9 2145.7V2152.9M2131.1 1785V1782.6M2131.1 2131V2148.5M2133 1789.6V1784.8M2133 2123.3V2134.6M2135.6 1822.4V1808.2M2135.6 2124.6V2131.1M2138.1 1811.6V1803.6M2138.1 2111.6V2121.1M2139.2 1803V1798.3M2139.2 2110.9V2129.1M2141.3 1826.8V1813.2M2141.3 2116.6V2123.7M2144.3 1826.7V1820.3M2144.3 2108.2V2114.4M2146.8 1833.8V1828.8M2146.8 2105.9V2111.1M2148.7 1839.7V1832.3M2148.7 2105.6V2113.7M2151.6 1838.8V1835.6M2151.6 2116.8V2116.8M2152.4 1831.3V1823.6M2152.4 2102.9V2119.4M2155.4 1843.5V1829.2M2155.4 2092V2111.6M2158.4 1846.2V1841.1M2158.4 2092.3V2102.1M2160.7 1858.5V1853M2160.7 2086.9V2095.3M2268.8 1799.3V1792.3M2268.8 2104.2V2114.4M2270.8 1812.2V1803.3M2270.8 2111.8V2122.2M2274.3 1815.5V1809.7M2274.3 2112.3V2121.6M2276.9 1820.5V1801.1M2276.9 2115.9V2124.3M2277.8 1815.1V1794.8M2277.8 2122.2V2131.7M2280.5 1822.6V1803.5M2280.5 2144.4V2145.6M2282.7 1825.7V1815.2M2282.7 2124.7V2128.2M2285.4 1830V1821.3M2285.4 2121.5V2130.7M2286.9 1830.4V1823.8M2286.9 2122.8V2132.3M2289.6 1825.3V1819.7M2289.6 2121.6V2131.6M2291.8 1837V1814.9M2291.8 2124.9V2149.7M2294.3 1832.6V1816.5M2294.3 2134.7V2152.6M2297.3 1835.6V1825.4M2297.3 2134.2V2141.9M2299.4 1848.4V1843.3M2299.4 2130.9V2142.7M2301.1 1836.2V1827.4M2301.1 2133.8V2141.1M2302.8 1848.5V1844.7M2302.8 2133.7V2141.5M2305.5 1854.7V1847.6M2305.5 2136.5V2141.8M2312.8 1847.9V1837.7M2312.8 2121.3V2132.9M2315.3 1833.2V1832.3M2315.3 2118.4V2128.1M2318.2 1844.6V1827.6M2318.2 2123.7V2137.5M2320.6 1847.8V1826.3M2320.6 2135.2V2143.8M2323.7 1826.3V1816.6M2323.7 2141.6V2144.2M2325.9 1847V1833.9M2325.9 2120.3V2132.2M2329 1846.1V1829.1M2329 2122.8V2128.7M2329.1 1837.3V1820.8M2329.1 2119.9V2139M2331 1849V1838.7M2331 2121.5V2132M2334.2 1836.1V1821.8M2334.2 2118.6V2123.2M2336.4 1820.1V1814M2336.4 2120.5V2137.8M2339 1828.7V1809M2339 2128.1V2144.4M2341.4 1824.2V1820.6M2341.4 2117.8V2129.9M2343.1 1808.1V1794.2M2343.1 2120.6V2133.4M2345 1830.7V1803M2345 2129.1V2145.4M2347.7 1823.8V1803.1M2347.7 2114V2132.2M2350.5 1818.6V1811.8M2350.5 2148.4V2158.9M2353.3 1806.9V1804.4M2353.3 2113.9V2146M2353.2 1815.3V1802.8M2353.2 2117.1V2134.9M2355.5 1842.1V1830M2355.5 2106.7V2137.6M2358.4 1847.7V1841.2M2358.4 2101.3V2129.3M2360.7 1848.8V1842.2M2360.7 2103.5V2111.9M2364.2 1859.1V1851M2364.2 2083.4V2095.4" stroke="#FF8205" stroke-width="5.8" stroke-linecap="round" stroke-dasharray="0.1 17 3 16 0.1 14 5 19 0.1 15 1 20" fill="none"/>
<path d="M283.8 1766.7V1754.9M283.8 2125.7V2145.2M286.4 1773.3V1765.5M286.4 2122.1V2151.2M289.4 1781.4V1767.4M289.4 2144.4V2147.8M291.5 1761.1V1756.7M291.5 2130.3V2141.8M293.8 1775.7V1769.8M293.8 2135.4V2142.4M297 1772.1V1763.2M297 2128.8V2141.1M298.3 1786.1V1756.3M298.3 2128.9V2142.8M301.1 1774.7V1762.7M303.7 1765.3V1752M303.7 2134.9V2139.7M306.4 1769.2V1745.9M308.1 1775.5V1773.1M308.1 2114.4V2116M311.5 1755.1V1738.4M311.5 2129.7V2136.3M313.6 1769.2V1742.8M313.6 2150V2153.9M315.6 1753.7V1734.1M315.6 2122.8V2131.3M318.6 1749.3V1733.7M318.6 2136.6V2142.1M320.8 1757.1V1735.7M320.8 2132.9V2143.8M323.3 1778V1758.2M323.3 2121.9V2131.4M326.1 1766.5V1752M326.1 2125.4V2133.2M328.9 1762.1V1758.3M328.9 2122.5V2132.3M331.5 1762.9V1757.3M331.5 2119.5V2121.1M333.6 1764.8V1755M333.6 2128.3V2131.8M336.2 1767.3V1756.4M336.2 2116.8V2121.3M338.3 1771.4V1758.2M338.3 2123.6V2131.9M341.5 1763V1754.5M341.5 2124.8V2129.1M343.5 1775.7V1765.4M343.5 2121.8V2128.3M344.3 1756.5V1750.6M344.3 2116.1V2119.9M346.3 1757.3V1754.3M349 1745.2V1741.3M349 1854V1861.3M351.6 1751.3V1740M351.6 1860.3V1863.5M353.4 1763.9V1762.3M353.4 1855.1V1856.6M354.9 1765.2V1753.1M354.9 1857.8V1858.8M355.9 1780.6V1765.6M355.9 2158.2V2171.2M358.6 1778.2V1773.2M358.6 2143.8V2148.4M361.3 1776V1766.3M361.3 2165.7V2171.9M363.7 1783V1778.2M363.7 2123.9V2129.9M366.7 1783.9V1775.7M366.7 2124V2137.3M369.1 1790.3V1773.8M369.1 2129.3V2140.6M371.8 1784.3V1781.5M371.8 2133.7V2153.6M374.1 1784.4V1775.7M374.1 2132.2V2138.6M375.4 1771.2V1762.9M375.4 2147.7V2153.7M378.6 1770.8V1762.5M378.6 2131.1V2140.3M380.5 1739.5V1735.1M380.5 2142.1V2156.1M383.1 1756.3V1745.6M383.1 2136.2V2138.6M385.9 1737.4V1726.6M385.9 2126.1V2128M386.3 1717.5V1714.5M386.3 2117.9V2127M388.6 1738.7V1734.8M388.6 2119.5V2127.1M391.8 1714.8V1710.1M391.8 2121.3V2129.5M393.7 1732V1721M393.7 2115.9V2124.7M396.8 1724.8V1720.5M396.8 2125.8V2133.8M399.4 1706.9V1705.3M399.4 2120.4V2147M401.7 1708.1V1698.8M401.7 2138.2V2146.7M403.9 1737.2V1729.8M403.9 2122V2128.1M406.4 1742.1V1734.9M406.4 2123.5V2131.1M408.8 1750.1V1746.7M408.8 2121.3V2128M411.7 1748.1V1744M411.7 2128.1V2137.6M413.9 1753.5V1749.2M413.9 2127.5V2129.3M521.4 1804.2V1802.2M521.4 2138.2V2155.7M524.1 1818.9V1813.5M524.1 2160.2V2166.2M527.1 1815.4V1808.9M529.5 1823.9V1797.4M529.5 2180.7V2195.6M530.5 1835.7V1826M530.5 2153.5V2163.1M532.5 1836.8V1829.5M532.5 2150.5V2159.4M536 1849.8V1831.9M536 2134.7V2145M538.2 1849.9V1835.1M538.2 2128.8V2138.8M559.8 1769.4V1767.9M559.8 2117.1V2118.2M562.9 1765.3V1756M562.9 2124.1V2127M565.3 1764.7V1749.8M565.3 2118.4V2126.2M568 1758.3V1746.5M568 2122.2V2123.7M571.2 1766.9V1754.4M571.2 2123.7V2126.3M572.8 1753.9V1750.7M572.8 2117.2V2121.6M575.5 1751.7V1748.1M575.5 2118.8V2121.5M576.6 1754.5V1748.4M576.6 2122.3V2128.4M578.7 1755.1V1744.8M578.7 2126.5V2132.7M581.3 1766.5V1759.2M581.3 2131.3V2134.6M583.8 1764.9V1763.2M583.8 2117.3V2124.7M586.1 1752.9V1742.2M586.1 2129.9V2132.6M589.6 1752.1V1738.4M589.6 2148.1V2152.5M591.4 1765.7V1762.4M591.4 2126.9V2132.9M594.1 1766.5V1754.6M594.1 2129.9V2134.9M596.7 1762.3V1753.2M596.7 2142.2V2154.4M598.8 1767.7V1765.3M598.8 2141.3V2149.6M601.8 1768.5V1757.2M601.8 2143.6V2160.7M603.8 2141.1V2164.7M603.9 1776.1V1770M603.9 2136.2V2152.2M606.9 1778.1V1776.9M606.9 2146.9V2149.6M609.6 1776.1V1769M609.6 2134.2V2149.2M611.8 2138.9V2146.2M614.7 1783.2V1779M614.7 2118.3V2132.1M617.1 1781.7V1774.3M617.1 2127.9V2139.7M822.1 1788.7V1784.8M822.1 2118.8V2123.1M824.8 1780.5V1776.7M824.8 2142.6V2149M827.8 1777.4V1764.3M827.8 2130.8V2147.5M830.8 1777.6V1774.4M830.8 2150.3V2154.1M833.4 2137V2140M835.3 1774.6V1770.4M835.3 2132.5V2135.2M838.6 1780.2V1774.1M838.6 2129.7V2137.1M840 1773.7V1772.5M840 2118.1V2127.5M842.3 1770.7V1763.3M842.3 2129.4V2144.1M845.3 1770.5V1763M845.3 2136.3V2141.3M847.5 1778.3V1776.2M847.5 2125.8V2132.6M850.5 1774.1V1770.7M850.5 2124.2V2127.6M852.9 1785.5V1783.4M853.6 1780.6V1775.9M856.4 1780.8V1771.9M856.4 2131.1V2139.7M859.5 1789.2V1786.3M859.5 2118.7V2123.3M861.9 1782.8V1781.7M861.9 2131.2V2136.6M864.2 1790.1V1785.2M864.2 2128.1V2140.7M867.6 1791.2V1783.8M867.6 2131.9V2152M868.6 1787.7V1780.7M868.6 2158.2V2172.9M871.2 1782.5V1777.1M871.2 2160.9V2181.2M873.4 2166.4V2188.7M876.3 1769.1V1765.1M876.3 2170V2184.1M878.7 1790.9V1785.3M878.7 2148.2V2156.7M881.4 1784.3V1763.5M881.4 2160.9V2170.7M882.3 1784.7V1778.1M882.3 2180V2187.4M884.5 2168V2188.8M887.7 1795.1V1792.8M887.7 2146.4V2148.8M889.9 1789.1V1784.3M889.9 2138.1V2164.1M893.1 1790.9V1776.4M893.1 2153.6V2172.6M895.5 1785.2V1783.8M895.5 2138.5V2162.6M897.4 1803.2V1789.7M897.4 2128V2146.7M910.9 2120.3V2127.9M912.7 1793.7V1776.4M912.7 2134.3V2143.5M915.3 1776.9V1772.3M915.3 2117.4V2145.1M918.5 1779.5V1769.7M918.5 2137.1V2139.8M920.8 1787V1782.5M920.8 2121.3V2127.3M920.9 1786.6V1782.8M920.9 2117.2V2123.2M923.3 1779.5V1776.8M923.3 2121V2134M925.7 1785.9V1767.9M925.7 2141.9V2145.1M928.4 1792.5V1789.3M928.4 2117V2120.9M931.3 1794.1V1788.1M931.3 2114.4V2120.2M1042.1 1859.6V1851M1042.1 2073.8V2089.1M1044.4 1860.8V1845.6M1044.4 2101.3V2107.8M1047.5 1840V1836.7M1047.5 2101.3V2115.9M1050 1842.6V1831.2M1050 2088.4V2101.8M1052.4 1836.8V1834M1052.4 2088.6V2112.7M1055.1 1827.1V1821M1055.1 2089.6V2108.8M1057.2 1835.3V1823.2M1057.2 2092.2V2115.4M1060.2 1840.6V1826.8M1060.2 2091.6V2101.7M1062.8 1821.1V1812.1M1062.8 2118V2125M1065.1 1828V1814.6M1065.1 2118V2123.9M1068.3 1817.6V1813.4M1068.3 2108V2112.5M1068.7 1821.1V1808.9M1068.7 2116.4V2129.2M1071 1817.7V1815.3M1071 2106V2109.9M1074.3 1812.1V1801.7M1074.3 2116.4V2119.2M1076.3 1800.6V1799.2M1076.3 2115.2V2118M1078.5 1800.1V1797.5M1078.5 2117.5V2121.5M1081.1 1804.4V1802.2M1081.1 2114V2119.1M1084.1 1802.7V1794.2M1084.1 2114.7V2118.7M1086.1 1803.4V1794.6M1086.9 1805.6V1795.4M1086.9 2111.6V2113.8M1088.9 1813.2V1809.5M1088.9 2112.9V2116.4M1091.6 2115.7V2117.4M1097 1779.1V1773M1097 2115.3V2120M1099.4 1765.9V1764.9M1099.4 2121V2124M1102 1760.7V1757M1105.3 1745.2V1744.1M1105.3 2123.2V2126.8M1107.5 1751.5V1749.2M1107.3 1748.2V1744.5M1107.3 2115.1V2118.8M1109.9 2114.9V2117.1M1113 1740.6V1737.6M1113 2111.1V2112.1M1115.8 1731.4V1729.4M1115.8 2104.6V2107.4M1117.7 1726.4V1724.7M1117.7 2104.8V2107.4M1118.6 1724.1V1721.5M1118.6 2101V2108.8M1120.5 1729.5V1727.2M1120.5 2103.1V2104.5M1123.5 1745.6V1739.8M1123.5 2096.5V2097.8M1205.5 1829.7V1821.7M1205.5 2121.5V2131.6M1208.3 1823.7V1812.9M1208.3 2128.8V2143.7M1211.3 1822.6V1808.6M1211.3 2129.5V2135.4M1213.7 1819V1809.8M1213.7 2125.9V2139.2M1216.1 1823.1V1817.1M1216.1 2127.5V2142.5M1216.5 1815.9V1805.9M1216.5 2142.3V2148.5M1219.7 1806.8V1786.8M1219.7 2149.7V2160.4M1222.1 2148.5V2154.1M1224.1 1801.1V1791M1224.1 2147.7V2149.9M1227.3 1808.2V1795.1M1227.3 2131.7V2134.4M1229.9 1811.3V1807M1229.9 2116.7V2128.9M1231.8 1793.9V1782.2M1231.8 2130.7V2149.6M1234.5 1777.4V1774.2M1234.5 2135.4V2146M1236.7 1798.4V1775.2M1236.7 2118.3V2138.6M1239.4 1785.1V1777.9M1239.4 2119.3V2143.2M1242.3 1789.2V1784.4M1242.3 2125.5V2135.9M1245.2 1804.2V1802.2M1245.2 2114.5V2119.3M1247.2 1808.9V1801.2M1247.2 2118.6V2122.1M1255.6 1807.5V1805.8M1255.6 2125.2V2132M1258.1 2127.4V2129.8M1260.8 1817.5V1812.5M1260.8 2120.5V2127.3M1263.5 1804.9V1800M1263.5 2131V2137.7M1265.9 1812.8V1810M1265.9 2122.7V2136M1274.7 1809.1V1801.9M1277.7 1806V1796.3M1277.7 2114.7V2124.3M1280.1 1786.6V1782.5M1280.1 2115.3V2117.3M1282.1 1766.3V1762.5M1282.1 2115.9V2125.8M1285.4 1775.2V1767.8M1285.4 2114V2118.3M1287.1 1775.7V1770.3M1287.1 2123.1V2126.6M1290 1769.4V1751.8M1290 2132.9V2142.4M1292.4 1774.3V1765.4M1292.4 2125.6V2134.8M1294.5 1792.5V1781.8M1294.5 2109.1V2112.6M1297.9 1762.3V1760.4M1297.9 2126.3V2133.5M1390.8 1798.6V1792.6M1393.1 1798.6V1792.6M1393.1 2118.6V2120.7M1395.6 1799.6V1797.4M1395.6 2110.4V2120M1397.9 1814.5V1808.8M1397.9 2114.8V2120.9M1400.9 1812.2V1807.6M1400.9 2113.8V2114.9M1403.7 1811.5V1808.4M1403.7 2116.3V2120.1M1406.4 1809.3V1797.7M1406.4 2114.1V2128.3M1406.7 1803.4V1795.6M1406.7 2123.1V2127M1409.4 1818.6V1814.5M1409.4 2122.2V2129.8M1411.8 1811.7V1804M1411.8 2123.4V2125.1M1414.2 1819V1814.3M1414.2 2128.8V2131.3M1417.5 1824.4V1819.4M1417.5 2120.6V2122.3M1419.5 1813.1V1811.3M1419.5 2115.6V2123.8M1420.4 1813.3V1805M1420.4 2119.1V2127.3M1423 1799.3V1784M1423 2128.5V2140.6M1425.7 1796.8V1781.3M1425.7 2120V2139M1428.4 1807.2V1799.3M1428.4 2129.5V2132.6M1430.8 1798.6V1789.4M1430.8 2125.4V2139.5M1433.8 1804.7V1789.6M1433.8 2138.1V2139.5M1435 1807.7V1800.3M1435 2114V2122.3M1437.8 1813.9V1806M1437.8 2118.2V2122.1M1439.9 1779V1772.7M1439.9 2126.6V2147.5M1442.8 1797.7V1781.9M1442.8 2147.8V2157.5M1445 1776V1773.1M1445 2141.8V2150.9M1448 1779.3V1767.8M1448 2147.9V2163.6M1449 1776.9V1761.9M1449 2156.2V2163.2M1451.1 1791.8V1775M1451.1 2153.5V2163.5M1453.7 1774.1V1769.5M1453.7 2139.3V2162.3M1456.4 1798.9V1785.5M1456.4 2126V2134.9M1458.9 1792V1789.3M1458.9 2138.7V2151M1461.4 1801.6V1794.8M1461.4 2134.4V2148.1M1463.4 1792.2V1788.5M1463.4 2138.8V2143.1M1465.3 1774.2V1772.1M1465.3 2157.1V2168.2M1468 2141.9V2157.9M1471.2 1787.6V1770.3M1471.2 2144.3V2171.1M1473.4 1808.1V1802.8M1473.4 2146.3V2155.7M1475.5 1790.1V1780.5M1475.5 2154.7V2164.9M1477.5 2155.3V2169.2M1479.2 1794.9V1788.7M1479.2 2143.5V2167.7M1482.7 1817.8V1816.5M1482.7 2136.2V2142.8M1482.5 1819.8V1813.9M1482.5 2136.6V2140.8M1484.6 1812.6V1806.2M1484.6 2145.8V2155.8M1487.9 1805.1V1803.8M1487.9 2156.4V2160.1M1489.7 1813.4V1806.8M1489.7 2146.8V2154.3M1492.6 1802.7V1796.6M1492.6 2134.8V2146.8M1495.5 1801.1V1793.8M1495.5 2130.7V2150.3M1498 1807.1V1802.3M1498 2145.7V2151.8M1498.6 1820.7V1816.8M1498.6 2135.9V2140.6M1500.8 1797.9V1791.7M1500.8 2139.5V2162.3M1503.6 1820.1V1815M1503.6 2122.2V2127M1506.1 1825.5V1818.1M1506.1 2124.4V2132M1508.1 1817.3V1801.5M1508.1 2158.2V2164.1M1511.1 1819.4V1812.7M1511.1 2158.6V2161M1512.5 1818.5V1806M1512.5 2140.4V2165.4M1515.3 1818.8V1812.4M1515.3 2128V2143.5M1517.7 1825.8V1819.3M1517.7 2134.6V2145.2M1520 1837.8V1834.8M1522.7 1820.2V1816.8M1522.7 2124.9V2128.8M1667.1 1857.7V1849.3M1667.1 2036.2V2048.1M1669.5 1839.9V1835.2M1669.5 2051.5V2056.4M1672.9 2060V2062.9M1675.2 1796.6V1792.5M1675.2 2069.9V2073.3M1676.3 1794V1784.1M1681 1775.9V1774.5M1684 1780.9V1766.6M1684.4 1780.7V1770.6M1687.8 1775.1V1771.7M1687.8 2093.6V2099.2M1689.6 2094.9V2098.8M1693 2100.1V2113.1M1695.3 1759.9V1756.5M1695.3 2108.9V2112.1M1695 2101.5V2103.8M1697.6 1763.7V1757.3M1697.6 2115.8V2119M1700.6 1759.9V1756.5M1702.8 1759.7V1757.4M1702.8 2121.8V2123.8M1705.4 2115.4V2117.3M1705.8 2114.2V2117.5M1711 2104.3V2105.9M1713.9 2108.8V2112.8M1716.8 1775.2V1769M1716.8 2116.8V2121.2M1869.9 1870.8V1865M1869.9 2070.3V2073.5M1872.1 1843.8V1839M1872.1 2078.3V2093.3M1875 1822V1820.1M1875 2063.1V2071.6M1877.7 1799V1796.4M1877.7 2087.7V2094.4M1878.7 1798.9V1792.9M1878.7 2077.5V2082.2M1881.2 1789.2V1787.9M1881.2 2061.6V2074.1M1883.3 2032.9V2044.8M1885.1 2024.6V2026.7M1887.6 2018.5V2028M1890.2 1749.1V1746.7M1890.2 1991.6V2010.8M1893.2 1743.8V1736.9M1893.2 1976.7V2001.9M1895.4 1728.1V1725.7M1895.4 1962.2V2008.8M1896.1 1726.4V1724.8M1896.1 1934.5V1960.4M1898.5 1960.6V1973.5M1900.8 1696.1V1692.6M1900.8 1929V1937M1902.7 1683.2V1681M1902.7 1916.7V1932.4M1905.6 1662.8V1661M1905.6 1913.5V1932.9M1908.3 1641.9V1640.6M1908.3 1899.5V1903.8M1907.8 1891.2V1898.8M1911.3 1895.7V1907M1913.6 1900.4V1902.7M1916.1 1897.4V1903.8M1917.2 1895.5V1896.9M1920.1 1893.5V1900.2M1922.1 1885.5V1896.5M1924.5 1885.6V1888.8M1927.9 1896.5V1899.7M1930.1 1901.5V1908.4M1932.9 1884.4V1891.8M1936.8 1883V1889.6M1939.6 1883.9V1887.5M1942.8 1873.6V1883M1944.9 1880.7V1887.9M1947.2 1875.7V1881.5M1949.8 1874.6V1881.4M1952.3 1902.4V1913.4M1954.3 1871.2V1907.5M1957.2 1883.2V1910.9M1960.1 1888.7V1898.2M1962.8 1641.6V1639M1962.8 1879V1891.4M2064.6 1839.3V1829.8M2064.6 2087V2088.1M2067.5 1831.9V1822.6M2067.5 2087.7V2098.1M2070.4 1830.5V1827.1M2070.4 2091.2V2095.1M2073 2094.9V2098.1M2075.4 1821.3V1806.8M2077.4 1802V1794.3M2077.4 2126.4V2129.1M2079.7 1802.5V1800.6M2079.7 2116.6V2118.6M2081.9 1803.6V1800.9M2081.9 2119.6V2122.4M2084.6 1813.7V1809.8M2084.6 2124.9V2127.7M2087.2 2138.4V2141M2089.7 1792.3V1790.1M2089.7 2156.5V2160.7M2092.2 1806.7V1798.4M2092.2 2144.2V2154.1M2094.2 1803.1V1788.7M2094.2 2153.1V2159.8M2097.6 1801.9V1793.7M2097.6 2151V2155.9M2099.8 1805.9V1793.1M2099.8 2151.5V2153.5M2100.3 1795.7V1792.6M2103 1804.6V1787.4M2103 2146.6V2152M2105.7 1793.1V1789.1M2105.7 2147.8V2156.7M2108 1804V1801.5M2108 2156.6V2161.2M2116.3 1804.5V1799.2M2116.3 2158.3V2165.2M2118.1 2158.1V2166.3M2121.4 1806.3V1782.5M2121.4 2157.7V2166.2M2123.7 1799.6V1793.7M2123.7 2151.6V2162.2M2125.9 1791.6V1782.9M2125.9 2159.3V2161.5M2127.9 1788V1783.5M2127.9 2155.9V2159.6M2131.1 1779.6V1771M2131.1 2151.5V2157.2M2133 1781.8V1780M2133 2137.6V2140.8M2135.6 1805.2V1802.2M2135.6 2134.1V2136.9M2138.1 1800.6V1795.7M2138.1 2124.1V2136.4M2139.2 1795.3V1785M2139.2 2132.1V2135.9M2141.3 1810.2V1801M2141.3 2126.7V2128.8M2144.3 1817.3V1810M2144.3 2117.4V2124.1M2146.8 1825.8V1816.8M2146.8 2114.1V2119.1M2148.7 1829.3V1820.7M2148.7 2116.7V2121.7M2151.6 1832.6V1828.3M2152.4 1820.6V1816.7M2152.4 2122.4V2128.9M2155.4 1826.2V1822.5M2155.4 2114.6V2119.2M2158.4 1838.1V1829M2158.4 2105.1V2107.9M2160.7 1850V1845M2160.7 2098.3V2101.2M2268.8 1789.3V1787.6M2268.8 2117.4V2120M2270.8 1800.3V1785.7M2270.8 2125.2V2128.2M2274.3 1806.7V1786.8M2274.3 2124.6V2125.7M2276.9 1798.1V1791.1M2276.9 2127.3V2128.4M2277.8 1791.8V1782.2M2280.5 1800.5V1792.3M2282.7 1812.2V1810.3M2285.4 1818.3V1811M2285.4 2133.7V2138.8M2286.9 1820.8V1811.4M2286.9 2135.3V2137.5M2289.6 1816.7V1811.7M2289.6 2134.6V2147.3M2291.8 1811.9V1809.2M2291.8 2152.7V2161.6M2294.3 1813.5V1811.3M2294.3 2155.6V2173.4M2297.3 1822.4V1818.9M2297.3 2144.9V2155.2M2299.4 1840.3V1831.8M2299.4 2145.7V2163.5M2301.1 1824.4V1822.5M2301.1 2144.1V2157.1M2302.8 1841.7V1837.6M2302.8 2144.5V2153M2305.5 1844.6V1841.8M2305.5 2144.8V2156.2M2312.8 1834.7V1826.3M2312.8 2135.9V2137.3M2315.3 1829.3V1822.5M2315.3 2131.1V2135.6M2318.2 1824.6V1817.3M2318.2 2140.5V2156.5M2320.6 1823.3V1810.3M2320.6 2146.8V2153.7M2323.7 1813.6V1810.2M2323.7 2147.2V2151M2325.9 1830.9V1813.6M2325.9 2135.2V2149.8M2329 1826.1V1819.7M2329 2131.7V2144.1M2329.1 1817.8V1805.8M2329.1 2142V2149.6M2331 1835.7V1825.4M2331 2135V2142.3M2334.2 1818.8V1817.1M2334.2 2126.2V2135.1M2336.4 1811V1798.1M2336.4 2140.8V2146M2339 1806V1798.4M2339 2147.4V2151.5M2341.4 1817.6V1802.2M2341.4 2132.9V2142.1M2343.1 1791.2V1788.1M2343.1 2136.4V2159.1M2345 1800V1789.3M2345 2148.4V2153.3M2347.7 1800.1V1791.6M2347.7 2135.2V2153.4M2350.5 1808.8V1794.1M2350.5 2161.9V2169.2M2353.3 1801.4V1799.2M2353.3 2149V2181.8M2353.2 1799.8V1795.9M2353.2 2137.9V2163.8M2355.5 1827V1806.6M2355.5 2140.6V2154.2M2358.4 1838.2V1823.6M2358.4 2132.3V2145.3M2360.7 1839.2V1829.8M2360.7 2114.9V2122.5M2364.2 1848V1842.2M2364.2 2098.4V2107.9" stroke="#FF8205" stroke-width="6.4" stroke-linecap="round" stroke-dasharray="0.1 32 0.1 44 2 36 0.1 54 0.1 28 2 40" fill="none"/>
<path d="M301.1 1795.2V2137.2M323.3 1793.8V2107.4M344.3 1777.8V2104.6M385.9 1753.8V2114.1M521.4 1827.9V2119.5M594.1 1786.8V2110.3M598.8 1781V2132.1M603.8 1778.9V2116.5M827.8 1788.9V2107.4M861.9 1795.1V2116.8M887.7 1808.7V2123.9M925.7 1804.6V2124.2M928.4 1802.3V2108.3M1297.9 1774V2112.1M1428.4 1822.5V2099.7M1439.9 1803V2108.7M1492.6 1818.7V2113.3M1711 1779V2096.9M1716.8 1787.5V2099.8M1927.9 1631.9V1881.9M1954.3 1639V1852.3M2339 1831.7V2125.1" stroke="#FF8205" stroke-width="3.6" stroke-linecap="round" stroke-dasharray="2 7 9 6 1 8 14 7 3 9 1 6" fill="none"/>
<path d="M284 1759h0m-1 363h0m2 19h0m-1 15h0M286 1769h0m-1 375h0m1 1h0m0 13h0M289 2155h0M291 2126h0m0 8h0M294 1769h0m0 357h0m0 18h0m-1 4h0M297 2123h0m0 1h0m0 5h0m-1 1h0M298 1784h0M301 1762h0M304 1757h0m1 371h0M306 1752h0m1 12h0M308 1765h0M311 1748h0m0 21h0m0 362h0m0 5h0m1 11h0M314 1754h0m-1 7h0M319 1742h0m1 22h0M321 1746h0m1 4h0m0 5h0m-1 8h0m-1 5h0m1 372h0m0 8h0m0 3h0M323 1751h0m0 374h0M329 2131h0M338 2136h0M344 1773h0M344 2139h0M355 1757h0M356 1774h0m0 378h0m0 31h0M359 1761h0m0 19h0m0 388h0M361 1778h0m0 370h0M364 2170h0M367 2134h0M369 2157h0m0 5h0m0 7h0M372 1764h0M375 2143h0M379 1774h0m1 355h0M381 2132h0m-1 2h0M386 2148h0M392 2122h0M394 1711h0m-1 25h0M397 2147h0M399 1702h0m-1 4h0m1 15h0m0 405h0m0 1h0m0 3h0M402 1720h0M404 1733h0M347 1930h0M348 2022h0M348 1892h0M352 2027h0M351 2042h0M350 1984h0M348 1928h0M347 2007h0M521 1804h0m0 8h0M524 2144h0m0 11h0M530 1796h0m-1 3h0m1 0h0m0 390h0M531 1832h0M560 1748h0m-1 10h0M563 1751h0m0 12h0M565 1765h0M568 1761h0M571 1758h0m1 364h0M575 1747h0m-1 10h0M579 1752h0m0 3h0m0 364h0m1 2h0M581 1750h0M599 1745h0M602 1756h0M604 2158h0M604 1765h0M615 2133h0M531 2185h0M530 2206h0M544 1966h0M548 1901h0M545 1862h0M553 1979h0M550 1953h0M549 2015h0M555 1947h0M551 1965h0M553 1914h0M549 1879h0M554 1962h0M552 2006h0M825 1770h0m0 11h0m0 3h0m0 359h0M828 1771h0m1 369h0m-2 14h0M842 2160h0M845 2142h0M848 2135h0M851 2148h0M869 2170h0M871 2158h0m0 14h0m0 6h0M873 2153h0M876 2165h0m1 4h0m-1 13h0M881 2162h0m0 1h0m-1 31h0M882 1762h0m0 427h0m1 1h0M885 2173h0m-1 10h0M890 1786h0m1 5h0m-2 350h0M893 1781h0m1 4h0m-1 373h0m-1 10h0m1 2h0m0 4h0m-1 0h0M897 2162h0M913 1791h0m-1 329h0m2 6h0m-2 10h0M915 1770h0m0 362h0M919 1775h0m0 4h0m0 6h0m0 5h0m0 339h0M923 1776h0m0 354h0m0 2h0M926 1778h0M900 2012h0M905 2028h0M901 2074h0M903 2031h0M904 1975h0M904 1845h0M901 1884h0M906 1989h0M905 1889h0M900 1967h0M907 1957h0M902 2061h0M904 2059h0M904 1819h0M901 1824h0M902 1932h0M902 1925h0M907 1935h0M1042 1853h0m-1 243h0m2 12h0M1044 1847h0m-1 12h0M1052 1819h0m-1 262h0m2 5h0M1057 1841h0M1060 1812h0m0 11h0m0 292h0M1065 1832h0m-1 286h0m1 3h0m1 2h0M1068 2111h0m0 17h0M1069 1818h0m0 291h0m1 4h0m0 6h0m-2 3h0M1074 1807h0M1078 2123h0M1081 2124h0M1084 2126h0M1086 1801h0M1087 1793h0m0 11h0M1097 1770h0M1118 2107h0M1077 1690h0M1085 2140h0M1094 2133h0M1087 2132h0M1079 2139h0M1208 2142h0M1217 1805h0M1220 1802h0m-1 7h0m2 320h0m0 23h0m-1 8h0m-1 1h0M1232 1790h0m-1 345h0m1 4h0M1237 1773h0m-1 12h0m2 15h0m0 314h0m0 15h0m-1 4h0M1239 1775h0m1 26h0M1242 2140h0M1245 2132h0M1258 1803h0m0 323h0M1261 1818h0m0 327h0M1263 1800h0m-1 8h0m1 320h0m0 8h0M1266 1809h0M1278 1788h0M1282 1767h0M1290 1747h0m1 4h0m-1 8h0m0 362h0M1246 1715h0M1391 2121h0M1393 1792h0M1406 1795h0M1407 1806h0m-1 317h0M1423 1779h0m0 7h0m1 3h0m-1 15h0m1 324h0M1431 1782h0m-1 349h0m1 14h0M1440 2125h0M1443 1766h0m0 9h0m0 28h0M1445 2159h0M1448 1773h0m0 369h0M1449 1782h0m0 0h0m-1 382h0M1454 1766h0M1459 2143h0M1461 1786h0M1465 1774h0m1 376h0m-1 28h0m1 0h0M1468 2174h0M1471 2163h0M1476 2147h0m-1 13h0M1478 2149h0M1479 1798h0m-1 353h0m0 1h0m1 3h0m0 2h0M1485 1805h0M1488 2158h0M1501 2149h0m0 3h0M1504 1807h0M1511 1814h0m0 342h0m-1 6h0M1513 1819h0m-1 329h0M1515 1831h0M1518 2139h0M1523 1826h0m1 299h0M1410 2242h0M1414 2192h0M1455 2176h0M1456 2186h0M1505 2178h0M1510 2177h0M1508 2192h0M1437 1723h0M1669 1823h0M1676 1782h0m0 3h0m-1 8h0M1684 1777h0M1684 2091h0m0 1h0M1688 1761h0m0 330h0M1690 2107h0m1 0h0M1693 2097h0M1717 1777h0M1661 1923h0M1661 1824h0M1663 1955h0M1670 2006h0M1656 1974h0M1652 2013h0M1658 1874h0M1660 1850h0M1666 1993h0M1658 2019h0M1650 2031h0M1664 1854h0M1650 1871h0M1653 2051h0M1661 1970h0M1687 1723h0M1695 1742h0M1705 1741h0M1707 1740h0M1641 1964h0M1644 2022h0M1641 1841h0M1640 1867h0M1640 2022h0M1639 1979h0M1639 1909h0M1643 2002h0M1640 1893h0M1641 1915h0M1644 1878h0M1643 1957h0M1644 1939h0M1642 2007h0M1646 1966h0M1642 1865h0M1643 1909h0M1645 1978h0M1639 1978h0M1641 2000h0M1644 1905h0M1642 1960h0M1646 1883h0M1639 1839h0M1643 2034h0M1639 1832h0M1643 1993h0M1640 1842h0M1645 1951h0M1640 2005h0M1640 1883h0M1642 1904h0M1642 2017h0M1641 1913h0M1643 1942h0M1639 1842h0M1639 1907h0M1640 2000h0M1645 1927h0M1641 1859h0M1870 2104h0M1878 2096h0M1879 2089h0M1881 2055h0M1883 2047h0M1888 1757h0m0 10h0m0 242h0m0 28h0M1890 2000h0m0 21h0M1893 1989h0m0 30h0M1895 1965h0M1896 1724h0m1 254h0m-2 7h0M1901 1975h0M1906 1960h0M1911 1914h0M1928 1908h0M1930 1908h0M1933 1907h0M1934 1904h0M1940 1884h0M1954 1634h0m1 2h0M1957 1882h0m-1 3h0M1960 1873h0m-1 8h0M1963 1877h0M1927 1956h0M1930 2011h0M1920 1954h0M1926 2005h0M1927 1923h0M1879 1792h0M1874 1794h0M2065 1837h0M2067 2096h0M2070 2106h0M2073 1811h0M2077 1809h0M2080 2120h0M2090 2153h0M2092 1794h0m0 12h0M2103 1809h0M2118 1801h0M2121 1783h0m-1 4h0m2 8h0M2124 1777h0m-1 3h0m1 18h0M2126 2163h0m-1 1h0M2128 1794h0m0 364h0M2131 2149h0M2133 2148h0m-1 7h0M2136 1803h0M2138 1796h0m1 2h0m0 2h0M2147 2120h0M2149 2114h0M2152 1823h0M2155 2101h0m0 3h0m1 1h0M2269 1791h0m1 1h0M2277 2137h0M2278 1794h0M2290 2135h0M2292 2138h0M2294 2145h0M2299 1822h0M2324 2160h0M2329 2159h0m0 4h0M2341 1797h0M2345 2145h0m1 4h0m-1 18h0M2348 2144h0m-1 4h0m0 9h0M2353 2160h0m1 1h0M2353 1789h0m0 389h0m0 1h0M2334 1729h0M2331 1735h0M2348 1773h0M2299 2189h0" stroke="#FF8205" stroke-width="6.8" stroke-linecap="round" fill="none"/>
<path d="M418.8 1831.7V2138.1M420.8 1836.5V2136M426.9 1833.3V2144.9M428.7 1836.5V2138.8M431.3 1811.4V2155.7M433.9 1810V2148.4M435.8 1838.8V2153.9M437.8 1821.5V2147.4M440.6 1839.2V2143.5M443.3 1831.9V2143.3M445.6 1829.4V2136.8M448 1836.5V2133.9M451.5 1834V2132.1M452.7 1832V2134.7M455.9 1829.2V2154.4M458.2 1819.2V2138.9M460.8 1805.5V2134.7M461.8 1832V2129M463.9 1829.7V2159.3M466.9 1822.4V2110.7M466.6 1830.1V2142.5M469.9 1827.2V2112.9M471.8 1789.4V2107.1M474.7 1806.4V2131.6M477.2 1783.1V2143.8M480.2 1792.8V2088.3M482.4 1789.8V2092.1M485.1 1784.6V2092.2M488.4 1764.9V2103.2M487.7 1779.3V2122.5M490.7 1777.2V2104.9M493.8 1778.8V2089.5M495.8 1778.3V2089.5M498.7 1770.9V2066.8M501.3 1769.3V2088M502.6 1776.8V2055M507 1778.3V2097.3M512.6 1771.1V2062.3M513.3 1769.4V2048.3M515.1 1796.6V2074.4M517.7 1805.8V2037.7M620.4 1834.8V2125.2M623.4 1832.8V2120.1M625.8 1834.2V2115.2M628.5 1827.9V2116.5M631.3 1824.7V2105.6M632.7 1826.5V2104.2M635.2 1828.2V2105.3M637.2 1819.9V2114.6M639.9 1827.8V2112.5M643.3 1828.1V2100.8M645.8 1825.8V2102.5M650.9 1824.9V2099.1M652.9 1807V2111.6M655.4 1804.1V2102.1M657.3 1822.2V2106.1M659.2 1826.4V2100.8M662 1825.2V2106.7M665.2 1811.8V2101.8M667.9 1826.8V2101.7M669.8 1813.4V2101M671 1794.8V2101M673.7 1804.2V2100.5M675.9 1772.7V2120.1M678.4 1800.7V2120.2M679.9 1775.2V2106.3M682.8 1795.4V2100M684.8 1800V2095.9M687.9 1811.7V2101.3M690.5 1814.9V2093.3M691.9 1811.5V2097.4M695.3 1805.1V2102.9M697.1 1800.4V2117.8M699.5 1788.3V2122.5M703 1785.1V2108.4M704.9 1755.5V2116.7M706.9 1775.2V2089.8M709.7 1778V2078.4M759.6 1825.3V2113.3M761.9 1824.2V2103.8M764.7 1821.5V2116.1M766.9 1819V2120.7M769.5 1819.3V2104.8M769.6 1816.5V2113M772.2 1821.2V2117.6M774.6 1820.1V2111.8M777.2 1824.9V2110.6M779.9 1797.5V2109.5M782.6 1825.9V2108.1M785.1 1829V2106.5M786.9 1834.8V2108.6M790.1 1825.4V2137.6M792.5 1824.7V2108.7M795.2 1828.2V2106.1M797.9 1825.8V2102.3M800.4 1813.5V2104.8M803.3 1814.9V2108.5M805.2 1817.1V2104.2M807.3 1821.8V2102.4M809.8 1817.3V2106.9M812.2 1815.9V2106M815.2 1822.2V2116.7M817.6 1819V2112.6M819.9 1815.9V2103.5M933.2 1835.6V2109M936.5 1838.9V2102M939.1 1838.1V2108.2M943.7 1834.1V2110.7M945.6 1830.4V2109.5M947.9 1826.2V2106.5M950.5 1816.3V2121.7M953.9 1817.5V2102.3M955.8 1816.8V2107.6M956.7 1817.6V2103.7M958.8 1811.3V2104.1M961.8 1798.2V2107.8M964.3 1796V2108.6M966.6 1768.4V2113.3M969.3 1764.1V2123.8M970.5 1776.4V2105.5M972.7 1773.3V2114.6M975.7 1789.9V2103.7M978.1 1793.1V2101.8M980.7 1805.3V2096.1M983.8 1801.1V2095.2M986.1 1820V2109M1009.4 1808V2087.5M1011.1 1824.8V2089.5M1014.1 1828.3V2086.4M1016.9 1825.6V2085.8M1019.2 1818.6V2077.4M1019.7 1813.3V2080M1125.6 1864.1V2113.7M1128 1870.4V2115.4M1130.5 1866.4V2107.7M1133.8 1860.4V2091.6M1136 1854.3V2103.2M1138.4 1857.3V2112.7M1139.6 1860.2V2112.6M1142.3 1858.8V2109.9M1144 1832.2V2104.8M1147.4 1836.5V2107.1M1149.3 1851.5V2103.9M1151.9 1852.4V2096.6M1153.8 1851.4V2132.8M1157 1836.4V2130M1159 1844.3V2106.4M1161.7 1844.3V2100.6M1168.4 1816.6V2102.8M1170.4 1810.7V2105.8M1172.9 1813.7V2100.7M1175.7 1802.8V2105.7M1178.4 1801.2V2103M1180.1 1809.2V2115.7M1182.9 1818V2118.3M1186.1 1812.4V2150.7M1188.4 1823.9V2142.8M1188 1821.8V2125M1190.9 1832.1V2166.8M1193.9 1820.4V2151.5M1196.1 1851V2149.1M1197.3 1851.9V2167M1199.6 1849.2V2181.8M1202.1 1849.5V2177.1M1301.3 1826.4V2100.1M1304.1 1823.7V2096.3M1306.7 1827.7V2102.3M1308.9 1814.2V2113.3M1314.2 1816.6V2103.4M1315.2 1820V2104.4M1318.2 1814.6V2111.9M1320.1 1821.8V2105.5M1323.3 1821.8V2108.2M1327.9 1819.3V2104M1329.5 1815.8V2103.2M1331.5 1819.3V2124.1M1334.3 1817.4V2107.6M1337.2 1825V2105.2M1339.5 1819.6V2115M1342 1832.6V2103.2M1346.1 1830.2V2108.1M1348.1 1823.1V2109.1M1350.7 1821V2133M1353.9 1822.3V2116.9M1355.9 1834.1V2111.5M1356.9 1834.2V2114.7M1359.7 1816.1V2110.1M1362.6 1827.4V2114M1365.3 1816.6V2108.7M1367.9 1801.8V2114.3M1370.4 1794.3V2109.8M1373.2 1786.8V2096.7M1377.6 1766.8V2098.1M1380.4 1758.3V2081.8M1382.6 1747.1V2089.3M1383.7 1743.6V2076.6M1386 1748.8V2075.1M1526 1814.8V2124.5M1528.5 1816V2104.8M1531 1810.6V2116.9M1533 1813.6V2110.6M1536.2 1814.6V2106.7M1538.6 1807.8V2106M1540.1 1808.9V2114.1M1543.1 1810.6V2102.1M1546.2 1814.1V2143.1M1547.9 1798.1V2105.7M1550.9 1808.5V2119.2M1550.9 1813.3V2115M1554.2 1806.4V2117M1555.9 1807.9V2104.5M1558.9 1808.2V2107.6M1561.3 1815.9V2112.9M1731.8 1868.6V2088.4M1735.3 1868.6V2076.8M1737.6 1862.5V2096M1739.9 1858V2101.4M1741.2 1850.9V2138M1744.2 1844.6V2132M1746.5 1843.8V2140.9M1748.6 1837.8V2141.4M1749.6 1833.3V2154.1M1752.1 1821.1V2162.2M1754.9 1800.5V2172.4M1757.3 1811.9V2133M1761.2 1823.5V2143.5M1763.6 1823.8V2131.1M1766.1 1815.4V2122.2M1769.3 1801.6V2124M1772 1819.2V2121.2M1774.3 1828.9V2110.4M1776.1 1794.9V2110.8M1778.5 1820.4V2111M1781.7 1831.1V2108.9M1792.4 1820.2V2120.1M1795 1810.6V2111M1797 1809.9V2117.5M1802.9 1800.2V2107.3M1808.2 1797.4V2109.8M1813.7 1786.1V2109.5M1817 1780.9V2097.7M1819.2 1779V2100.8M1821.5 1766.2V2096.9M1824.9 1768.4V2109.5M1829.2 1762.4V2100.9M1831.6 1761.5V2104.7M1834 1760.7V2109.8M1836.6 1746.1V2095.5M1839.5 1754.1V2109M1842.4 1751.6V2093M1844.8 1754.7V2109.5M1846.7 1751.2V2094.8M1849.5 1748.9V2096.1M1851.7 1752.3V2091M1854.5 1761.1V2091.2M1857.5 1764V2088.2M1859.4 1766.8V2089.1M1861.1 1767.6V2091.6M1863.7 1786.2V2082.8M1865.8 1794.9V2076.7M1965.9 1826.7V2129.6M1968.4 1813.1V2114.6M1971.1 1825V2122.2M1974.4 1818.3V2120.9M1976.2 1823V2116.8M1976.5 1807.7V2117.1M1979 1824.7V2118.8M1982 1829.2V2114.6M1987.3 1838.3V2109.2M2014.1 1817.7V2039.4M2016.8 1808.1V2039.1M2018.6 1782.2V2054.8M2021.9 1779.7V2055.1M2023 1788.3V2048.6M2025.3 1781.5V2048.8M2028 1778.9V2061.1M2030.7 1771.5V2054.7M2032.9 1758.2V2069.6M2033.6 1762.4V2063.9M2035.9 1753.5V2062.8M2038.2 1744.4V2054.6M2040.9 1736.4V2056M2043.5 1724.8V2060M2043.5 1726.6V2062.2M2046.3 1723.7V2083.3M2048.6 1720.8V2071M2051.3 1721V2062.6M2054.5 1719.2V2062.3M2057.2 1726.9V2060.1M2059.1 1722.3V2066.6M2062.3 1745.8V2070.5M2164.9 1806.5V2098M2167.3 1815.3V2107.2M2169.8 1812.9V2107.2M2173.1 1814.4V2111.3M2175.2 1819.7V2111.9M2175.5 1817.1V2110.8M2178.4 1811.4V2119.7M2180.7 1801.9V2115.8M2183.7 1794V2116.4M2184.5 1794.6V2123.7M2187.5 1804.5V2120.4M2189.2 1812.2V2110.6M2192.4 1816.6V2121.2M2233.8 1841.1V2099.3M2235.9 1839.2V2109.7M2239.4 1825.5V2106.7M2241 1813.5V2114M2243.7 1813.3V2123.7M2245.9 1811.3V2133.5M2248.5 1800.4V2126.2M2251.6 1804.7V2152.3M2251.3 1809.3V2130.2M2254.4 1799.3V2125.6M2256.4 1795.7V2129.7M2259.4 1786.8V2117.1M2261.7 1771.1V2115.1M2261.4 1784V2142.5M2264.8 1786.8V2102.6M2384.6 1864.4V2096.4M2388.1 1847.1V2100.6M2390.4 1831.2V2106.2M2392.5 1832.7V2150.6M2394.3 1829.2V2117.4M2397.7 1820.5V2120.3M2399.4 1815V2127M2400.4 1810.8V2130.9M2403.6 1839.6V2109.5M2449.2 1819V2090.5M2451.6 1812.6V2091.6M2454.3 1807.3V2093.6M2457.3 1810.5V2091.2M2459.8 1798.6V2109.5" stroke="#05A01C" stroke-width="4" stroke-linecap="round" fill="none"/>
<path d="M418.8 1828.7V1825.8M418.8 2141.1V2145.3M420.8 1833.5V1820.6M420.8 2139V2149.5M424 1835.2V1827.2M424 2148.5V2149.4M426.9 1830.3V1824.6M426.9 2147.9V2151.3M428.7 1833.5V1831.7M428.7 2141.8V2142.5M431.3 1808.4V1806.1M431.3 2158.7V2157.6M433.9 1807V1801.8M433.9 2151.4V2155.1M435.8 1835.8V1826.2M435.8 2156.9V2157.4M437.8 1818.5V1810.8M437.8 2150.4V2160.1M440.6 1836.2V1830.3M440.6 2146.5V2147.8M443.3 1828.9V1826.7M443.3 2146.3V2149.1M445.6 1826.4V1825.4M445.6 2139.8V2146.4M448 1833.5V1823.4M448 2136.9V2143.2M451.5 1831V1827.4M451.5 2135.1V2140.2M452.7 1829V1826.4M452.7 2137.7V2144M455.9 1826.2V1818.9M455.9 2157.4V2161.8M458.2 1816.2V1810M458.2 2141.9V2158M460.8 1802.5V1800.6M460.8 2137.7V2156.9M461.8 1829V1820.1M461.8 2132V2152.8M463.9 1826.7V1812.8M463.9 2162.3V2171.2M466.9 1819.4V1796.9M466.9 2113.7V2155.9M466.6 1827.1V1810.9M466.6 2145.5V2155.6M469.9 1824.2V1799.3M469.9 2115.9V2133.2M471.8 1786.4V1783.6M471.8 2110.1V2147.6M474.7 1803.4V1787.6M474.7 2134.6V2147.9M477.2 1780.1V1775.6M477.2 2146.8V2159.4M477.5 1804.5V1796M477.5 2099.3V2122.6M480.2 1789.8V1786.2M480.2 2091.3V2112.4M482.4 1786.8V1782.9M482.4 2095.1V2114.1M485.1 1781.6V1775M485.1 2095.2V2119.6M488.4 1761.9V1752.2M488.4 2106.2V2143M487.7 1776.3V1761.2M487.7 2125.5V2137.7M490.7 1774.2V1765M490.7 2107.9V2153.5M493.8 1775.8V1771.1M493.8 2092.5V2105.9M495.8 1775.3V1768M495.8 2092.5V2108.4M498.7 1767.9V1765M498.7 2069.8V2105.9M501.3 1766.3V1765.4M501.3 2091V2126.7M502.6 1773.8V1765.6M502.6 2058V2091.3M504.6 1776.4V1770.9M504.6 2099V2123.7M507 1775.3V1770.4M507 2100.3V2117.1M510.4 1781.6V1776.6M510.4 2059.3V2074.4M512.6 1768.1V1768.8M512.6 2065.3V2084.6M513.3 1766.4V1765.2M513.3 2051.3V2068.6M515.1 1793.6V1789.2M515.1 2077.4V2089.6M517.7 1802.8V1801.1M517.7 2040.7V2054.1M620.4 1831.8V1827.2M620.4 2128.2V2143M623.4 1829.8V1825.1M623.4 2123.1V2125.9M625.8 1831.2V1823.6M625.8 2118.2V2126.4M628.5 1824.9V1822.1M628.5 2119.5V2124.7M631.3 1821.7V1820.4M631.3 2108.6V2112.6M632.7 1823.5V1820.5M632.7 2107.2V2115.5M635.2 1825.2V1817.3M635.2 2108.3V2118.5M637.2 1816.9V1803.3M637.2 2117.6V2128M639.9 1824.8V1808.4M639.9 2115.5V2133.4M643.3 1825.1V1820.7M643.3 2103.8V2113.9M645.8 1822.8V1816.5M645.8 2105.5V2109.7M647.8 1822.2V1818.3M647.8 2109V2114.9M650.9 1821.9V1814.5M650.9 2102.1V2110.3M652.9 1804V1800.9M652.9 2114.6V2132.3M655.4 1801.1V1797.8M655.4 2105.1V2117.8M657.3 1819.2V1809.3M657.3 2109.1V2125.2M659.2 1823.4V1820.3M659.2 2103.8V2114M662 1822.2V1815.1M662 2109.7V2117.2M665.2 1808.8V1802.2M665.2 2104.8V2110M667.9 1823.8V1813.2M667.9 2104.7V2118.2M669.8 1810.4V1802.6M669.8 2104V2122.5M671 1791.8V1785.6M671 2104V2121M673.7 1801.2V1797.7M673.7 2103.5V2113.6M675.9 1769.7V1766.6M675.9 2123.1V2127.9M678.4 1797.7V1786.3M678.4 2123.2V2134.5M679.9 1772.2V1767.2M679.9 2109.3V2115.7M682.8 1792.4V1788.7M682.8 2103V2117.1M684.8 1797V1792.1M684.8 2098.9V2104.2M687.9 1808.7V1798.8M687.9 2104.3V2113.2M690.5 1811.9V1803.1M690.5 2096.3V2107.2M691.9 1808.5V1799.3M691.9 2100.4V2115.3M695.3 1802.1V1781.4M695.3 2105.9V2130.9M697.1 1797.4V1788.5M697.1 2120.8V2131.3M699.5 1785.3V1772M699.5 2125.5V2132.5M703 1782.1V1771.8M703 2111.4V2131.6M704.9 1752.5V1747.6M704.9 2119.7V2138.2M706.9 1772.2V1770.8M706.9 2092.8V2110.5M709.7 1775V1768M709.7 2081.4V2088.2M759.6 1822.3V1817.9M759.6 2116.3V2132.7M761.9 1821.2V1817.8M761.9 2106.8V2123.4M764.7 1818.5V1812.9M764.7 2119.1V2124.8M766.9 1816V1806.6M766.9 2123.7V2132.3M769.5 1816.3V1804.2M769.5 2107.8V2122M769.6 1813.5V1807.5M769.6 2116V2125.9M772.2 1818.2V1809M772.2 2120.6V2125.3M774.6 1817.1V1804M774.6 2114.8V2131.4M777.2 1821.9V1818M777.2 2113.6V2118.1M779.9 1794.5V1792.6M779.9 2112.5V2134.4M782.6 1822.9V1806M782.6 2111.1V2137.9M785.1 1826V1813.3M785.1 2109.5V2136.7M786.9 1831.8V1824M786.9 2111.6V2113.8M790.1 1822.4V1808.4M790.1 2140.6V2140.1M792.5 1821.7V1812.1M792.5 2111.7V2118.4M795.2 1825.2V1822.8M795.2 2109.1V2112.1M797.9 1822.8V1813.6M797.9 2105.3V2111.6M800.4 1810.5V1807.3M800.4 2107.8V2112.3M803.3 1811.9V1803.9M803.3 2111.5V2116M805.2 1814.1V1804.9M805.2 2107.2V2124.9M807.3 1818.8V1812.2M807.3 2105.4V2109.4M809.8 1814.3V1811.6M809.8 2109.9V2117.5M812.2 1812.9V1805M812.2 2109V2111.8M815.2 1819.2V1812.5M815.2 2119.7V2126.4M817.6 1816V1807.7M817.6 2115.6V2121M819.9 1812.9V1806.1M819.9 2106.5V2120.1M933.2 1832.6V1830.7M933.2 2112V2124.8M936.5 1835.9V1831.2M936.5 2105V2116.3M939.1 1835.1V1820.5M939.1 2111.2V2125.9M941.1 1832.9V1821.7M941.1 2114.1V2120.3M943.7 1831.1V1826.2M943.7 2113.7V2124.4M945.6 1827.4V1826.2M945.6 2112.5V2116.4M947.9 1823.2V1815.6M947.9 2109.5V2112.2M950.5 1813.3V1810.9M950.5 2124.7V2128M953.9 1814.5V1803.2M953.9 2105.3V2112.4M955.8 1813.8V1790.6M955.8 2110.6V2115.2M956.7 1814.6V1808.9M956.7 2106.7V2112.7M958.8 1808.3V1797.4M958.8 2107.1V2114.3M961.8 1795.2V1791.4M961.8 2110.8V2113M964.3 1793V1769M964.3 2111.6V2130.3M966.6 1765.4V1762M966.6 2116.3V2129.4M969.3 1761.1V1756.2M969.3 2126.8V2133.9M970.5 1773.4V1770.2M970.5 2108.5V2112.7M972.7 1770.3V1767.6M972.7 2117.6V2121.3M975.7 1786.9V1785.3M975.7 2106.7V2114.8M978.1 1790.1V1783.8M978.1 2104.8V2113.1M980.7 1802.3V1794.2M980.7 2099.1V2100.9M983.8 1798.1V1795.7M983.8 2098.2V2111.6M986.1 1817V1809.1M986.1 2112V2117.6M1004 1815V1808.8M1004 2101.2V2106.4M1006.6 1819.7V1812.6M1006.6 2098V2100.8M1009.4 1805V1803.4M1009.4 2090.5V2097.2M1011.1 1821.8V1814.4M1011.1 2092.5V2101.3M1014.1 1825.3V1815M1014.1 2089.4V2102.3M1016.9 1822.6V1809.5M1016.9 2088.8V2104.3M1019.2 1815.6V1811.7M1019.2 2080.4V2091.6M1019.7 1810.3V1805.6M1019.7 2083V2085.7M1125.6 1861.1V1850.5M1125.6 2116.7V2124M1128 1867.4V1860.3M1128 2118.4V2135.1M1130.5 1863.4V1854.5M1130.5 2110.7V2124.3M1133.8 1857.4V1845.9M1133.8 2094.6V2146.1M1136 1851.3V1841.2M1136 2106.2V2152.8M1138.4 1854.3V1854M1138.4 2115.7V2135.2M1139.6 1857.2V1854.8M1139.6 2115.6V2138M1142.3 1855.8V1845.7M1142.3 2112.9V2142.9M1144 1829.2V1829M1144 2107.8V2147.2M1147.4 1833.5V1828.6M1147.4 2110.1V2155.7M1149.3 1848.5V1845.7M1149.3 2106.9V2115.7M1151.9 1849.4V1842.7M1151.9 2099.6V2107.3M1153.8 1848.4V1843.6M1153.8 2135.8V2143.9M1157 1833.4V1830.6M1157 2133V2133.4M1159 1841.3V1835.1M1159 2109.4V2127.4M1161.7 1841.3V1828.5M1161.7 2103.6V2120.3M1168.4 1813.6V1808.4M1168.4 2105.8V2109.2M1170.4 1807.7V1804.8M1170.4 2108.8V2116.1M1172.9 1810.7V1803.6M1172.9 2103.7V2109.8M1175.7 1799.8V1795.8M1175.7 2108.7V2118.4M1178.4 1798.2V1794.6M1178.4 2106V2118.1M1180.1 1806.2V1801.5M1180.1 2118.7V2135.9M1182.9 1815V1813.2M1182.9 2121.3V2124M1186.1 1809.4V1803.4M1186.1 2153.7V2163M1188.4 1820.9V1800M1188.4 2145.8V2160.9M1188 1818.8V1805.7M1188 2128V2150M1190.9 1829.1V1811.6M1190.9 2169.8V2192M1193.9 1817.4V1812.5M1193.9 2154.5V2202.2M1196.1 1848V1827.4M1196.1 2152.1V2178.9M1197.3 1848.9V1821.9M1197.3 2170V2213.9M1199.6 1846.2V1833.8M1199.6 2184.8V2200.7M1202.1 1846.5V1836.3M1202.1 2180.1V2213.2M1301.3 1823.4V1822M1301.3 2103.1V2105.1M1304.1 1820.7V1818.7M1304.1 2099.3V2105.1M1306.7 1824.7V1820.3M1306.7 2105.3V2109.4M1308.9 1811.2V1800.2M1308.9 2116.3V2121.2M1312 1824.3V1818M1312 2111V2111.2M1314.2 1813.6V1811.5M1314.2 2106.4V2109.9M1315.2 1817V1811.2M1315.2 2107.4V2113.5M1318.2 1811.6V1794.9M1318.2 2114.9V2123.5M1320.1 1818.8V1803.4M1320.1 2108.5V2121M1323.3 1818.8V1796.1M1323.3 2111.2V2121.5M1325.2 1817V1814.2M1325.2 2107.5V2114.5M1327.9 1816.3V1810.4M1327.9 2107V2116.8M1329.5 1812.8V1806.5M1329.5 2106.2V2117.5M1331.5 1816.3V1800.5M1331.5 2127.1V2139.4M1334.3 1814.4V1806.5M1334.3 2110.6V2133.5M1337.2 1822V1813.3M1337.2 2108.2V2133.3M1339.5 1816.6V1806.2M1339.5 2118V2128.4M1342 1829.6V1820.6M1342 2106.2V2115.4M1343 1822.4V1818.2M1343 2108.8V2120.1M1346.1 1827.2V1823.3M1346.1 2111.1V2119.2M1348.1 1820.1V1818.3M1348.1 2112.1V2116.7M1350.7 1818V1813.7M1350.7 2136V2137.9M1353.9 1819.3V1816.6M1353.9 2119.9V2123.6M1355.9 1831.1V1825M1355.9 2114.5V2117.7M1356.9 1831.2V1825.4M1356.9 2117.7V2119.6M1359.7 1813.1V1807.4M1359.7 2113.1V2125.3M1362.6 1824.4V1820.5M1362.6 2117V2121.6M1365.3 1813.6V1805M1365.3 2111.7V2115.2M1367.9 1798.8V1792.7M1367.9 2117.3V2121.6M1367.5 1817.2V1795.5M1367.5 2121.7V2122.1M1370.4 1791.3V1782M1370.4 2112.8V2116.3M1373.2 1783.8V1770.4M1373.2 2099.7V2102.9M1375.2 1770.7V1756.3M1375.2 2096.4V2106.8M1377.6 1763.8V1753M1377.6 2101.1V2104.1M1380.4 1755.3V1748.9M1380.4 2084.8V2100.5M1382.6 1744.1V1734.6M1382.6 2092.3V2105.3M1383.7 1740.6V1732.9M1383.7 2079.6V2090.1M1386 1745.8V1739.1M1386 2078.1V2100.8M1526 1811.8V1799.6M1526 2127.5V2132.5M1528.5 1813V1799.9M1528.5 2107.8V2128.1M1531 1807.6V1799.5M1531 2119.9V2127.8M1533 1810.6V1805.9M1533 2113.6V2126.7M1536.2 1811.6V1807.1M1536.2 2109.7V2119M1538.6 1804.8V1799M1538.6 2109V2122.9M1540.1 1805.9V1805M1540.1 2117.1V2129.9M1543.1 1807.6V1806.3M1543.1 2105.1V2109.3M1546.2 1811.1V1800.5M1546.2 2146.1V2152.3M1547.9 1795.1V1787.3M1547.9 2108.7V2125.4M1550.9 1805.5V1799.7M1550.9 2122.2V2130.3M1550.9 1810.3V1804.4M1550.9 2118V2129.7M1554.2 1803.4V1802.1M1554.2 2120V2122.6M1555.9 1804.9V1804.3M1555.9 2107.5V2111.9M1558.9 1805.2V1793.5M1558.9 2110.6V2121.8M1561.3 1812.9V1811.2M1561.3 2115.9V2117.6M1731.8 1865.6V1861.5M1731.8 2091.4V2097.8M1735.3 1865.6V1840.1M1735.3 2079.8V2103.3M1737.6 1859.5V1847.5M1737.6 2099V2122.9M1739.9 1855V1835M1739.9 2104.4V2124.6M1741.2 1847.9V1837.2M1741.2 2141V2167.1M1744.2 1841.6V1825.4M1744.2 2135V2151.7M1746.5 1840.8V1816.9M1746.5 2143.9V2171.8M1748.6 1834.8V1826.3M1748.6 2144.4V2159.4M1749.6 1830.3V1825.3M1749.6 2157.1V2163.4M1752.1 1818.1V1812.2M1752.1 2165.2V2175.2M1754.9 1797.5V1794.3M1754.9 2175.4V2178.7M1757.3 1808.9V1797.7M1757.3 2136V2146.3M1759.1 1826.4V1813.3M1759.1 2133.8V2141.8M1761.2 1820.5V1799M1761.2 2146.5V2148.3M1763.6 1820.8V1809.8M1763.6 2134.1V2136.6M1766.1 1812.4V1799.7M1766.1 2125.2V2130.8M1769.3 1798.6V1790.5M1769.3 2127V2137.6M1772 1816.2V1809.9M1772 2124.2V2129.4M1774.3 1825.9V1809.7M1774.3 2113.4V2120.5M1776.1 1791.9V1784M1776.1 2113.8V2133.7M1778.5 1817.4V1809.8M1778.5 2114V2117.1M1781.7 1828.1V1809.8M1781.7 2111.9V2120.7M1792.4 1817.2V1810.6M1792.4 2123.1V2130.3M1795 1807.6V1799.4M1795 2114V2121.2M1797 1806.9V1800M1797 2120.5V2126.8M1800.1 1796.6V1792.8M1800.1 2132.4V2136.4M1802.9 1797.2V1794.7M1802.9 2110.3V2120.8M1805 1796V1785.3M1805 2129.9V2130.9M1808.2 1794.4V1785.5M1808.2 2112.8V2123.7M1810.1 1788.1V1782.4M1810.1 2106.8V2111.4M1811.8 1776.2V1773.8M1811.8 2115.8V2124.3M1813.7 1783.1V1774.8M1813.7 2112.5V2129.5M1817 1777.9V1772.9M1817 2100.7V2126.7M1819.2 1776V1770.9M1819.2 2103.8V2118.4M1821.5 1763.2V1759.5M1821.5 2099.9V2112.6M1824.9 1765.4V1761.8M1824.9 2112.5V2116.9M1827.2 1761.6V1759.9M1827.2 2102.2V2109.8M1829.2 1759.4V1758.4M1829.2 2103.9V2106.1M1831.6 1758.5V1755.3M1831.6 2107.7V2117.1M1834 1757.7V1755M1834 2112.8V2114.7M1836.6 1743.1V1743.3M1836.6 2098.5V2107.3M1839.5 1751.1V1745.9M1839.5 2112V2113.5M1842.4 1748.6V1745.1M1842.4 2096V2102.8M1844.8 1751.7V1748.5M1844.8 2112.5V2115M1846.7 1748.2V1744M1846.7 2097.8V2104.5M1849.5 1745.9V1746.4M1849.5 2099.1V2103.8M1851.7 1749.3V1749.2M1851.7 2094V2097.8M1854.5 1758.1V1752.7M1854.5 2094.2V2102.1M1857.5 1761V1759.2M1857.5 2091.2V2094.1M1859.4 1763.8V1763.5M1859.4 2092.1V2093.2M1861.1 1764.6V1765.4M1861.1 2094.6V2097.4M1863.7 1783.2V1778.5M1863.7 2085.8V2089.5M1865.8 1791.9V1791.2M1865.8 2079.7V2086.9M1965.9 1823.7V1815.2M1965.9 2132.6V2137.3M1968.4 1810.1V1807.1M1968.4 2117.6V2123.5M1971.1 1822V1811.7M1971.1 2125.2V2127.8M1974.4 1815.3V1805.6M1974.4 2123.9V2127.3M1976.2 1820V1804.3M1976.2 2119.8V2132.6M1976.5 1804.7V1803.1M1976.5 2120.1V2128.7M1979 1821.7V1812.4M1979 2121.8V2124.2M1982 1826.2V1824.3M1982 2117.6V2120.9M1984.6 1828.1V1825.2M1984.6 2111.7V2113M1987.3 1835.3V1833M1987.3 2112.2V2115.3M2014.1 1814.7V1812.8M2014.1 2042.4V2050.7M2016.8 1805.1V1798.7M2016.8 2042.1V2049.7M2018.6 1779.2V1778.2M2018.6 2057.8V2073.7M2021.9 1776.7V1772.8M2021.9 2058.1V2081M2023 1785.3V1782.8M2023 2051.6V2060.9M2025.3 1778.5V1773.7M2025.3 2051.8V2057.8M2028 1775.9V1766.4M2028 2064.1V2068.8M2030.7 1768.5V1752.9M2030.7 2057.7V2078.7M2032.9 1755.2V1741M2032.9 2072.6V2083M2033.6 1759.4V1747.7M2033.6 2066.9V2080.3M2035.9 1750.5V1741.4M2035.9 2065.8V2072.2M2038.2 1741.4V1740.5M2038.2 2057.6V2066.2M2040.9 1733.4V1730.2M2040.9 2059V2062.4M2043.5 1721.8V1719.7M2043.5 2063V2068.3M2043.5 1723.6V1719.9M2043.5 2065.2V2068M2046.3 1720.7V1713.7M2046.3 2086.3V2089.1M2048.6 1717.8V1710.9M2048.6 2074V2080.3M2051.3 1718V1719.1M2051.3 2065.6V2067.2M2054.3 1717.3V1718M2054.3 2062.2V2065.1M2054.5 1716.2V1715.2M2054.5 2065.3V2068.1M2057.2 1723.9V1722.3M2057.2 2063.1V2066.8M2059.1 1719.3V1720.6M2059.1 2069.6V2074.7M2062.3 1742.8V1734.1M2062.3 2073.5V2073.6M2164.9 1803.5V1803.8M2164.9 2101V2107.2M2167.3 1812.3V1805.6M2167.3 2110.2V2113.3M2169.8 1809.9V1804.7M2169.8 2110.2V2113M2173.1 1811.4V1802.5M2173.1 2114.3V2121.2M2175.2 1816.7V1809.5M2175.2 2114.9V2117.1M2175.5 1814.1V1812.8M2175.5 2113.8V2117.9M2178.4 1808.4V1805.2M2178.4 2122.7V2123M2180.7 1798.9V1794.7M2180.7 2118.8V2120.1M2183.7 1791V1789.5M2183.7 2119.4V2121.9M2184.5 1791.6V1783.6M2184.5 2126.7V2129.8M2187.5 1801.5V1798.5M2187.5 2123.4V2129M2189.2 1809.2V1797.5M2189.2 2113.6V2116M2192.4 1813.6V1806.2M2192.4 2124.2V2125.3M2233.8 1838.1V1834.8M2233.8 2102.3V2108.9M2235.9 1836.2V1820.9M2235.9 2112.7V2123.6M2239.4 1822.5V1813.6M2239.4 2109.7V2121.3M2241 1810.5V1808.5M2241 2117V2124.6M2243.7 1810.3V1806.2M2243.7 2126.7V2128.1M2245.9 1808.3V1793.9M2245.9 2136.5V2146.3M2248.5 1797.4V1785.4M2248.5 2129.2V2140.1M2251.6 1801.7V1794M2251.6 2155.3V2159.5M2251.3 1806.3V1790.8M2251.3 2133.2V2154.6M2254.4 1796.3V1787.8M2254.4 2128.6V2135.5M2256.4 1792.7V1783.5M2256.4 2132.7V2137.7M2259.4 1783.8V1778.4M2259.4 2120.1V2122.5M2261.7 1768.1V1756.6M2261.7 2118.1V2128.4M2261.4 1781V1774.1M2264.8 1783.8V1771M2264.8 2105.6V2114.3M2384.6 1861.4V1858M2384.6 2099.4V2102.7M2388.1 1844.1V1834.4M2388.1 2103.6V2119.3M2390.4 1828.2V1826.1M2390.4 2109.2V2124.2M2392.5 1829.7V1823.4M2392.5 2153.6V2156.8M2394.3 1826.2V1817.8M2394.3 2120.4V2137.5M2397.7 1817.5V1816.3M2397.7 2123.3V2131.3M2399.4 1812V1811.6M2399.4 2130V2136.3M2400.4 1807.8V1805.4M2400.4 2133.9V2150.6M2403.6 1836.6V1831M2403.6 2112.5V2117.6M2449.2 1816V1814.6M2449.2 2093.5V2096.6M2451.6 1809.6V1806.2M2451.6 2094.6V2098.9M2454.3 1804.3V1800.4M2454.3 2096.6V2097.8M2457.3 1807.5V1801.1M2457.3 2094.2V2100.3M2459.8 1795.6V1790M2459.8 2112.5V2114.7" stroke="#05A01C" stroke-width="5.8" stroke-linecap="round" stroke-dasharray="0.1 17 3 16 0.1 14 5 19 0.1 15 1 20" fill="none"/>
<path d="M418.8 1822.8V1813.9M418.8 2148.3V2152M420.8 1817.6V1815.4M420.8 2152.5V2163.4M424 1824.2V1819M424 2152.4V2154.7M426.9 1821.6V1820.5M426.9 2154.3V2157.4M428.7 1828.7V1824.3M428.7 2145.5V2152.5M433.9 2158.1V2163.5M435.8 1823.2V1807.4M435.8 2160.4V2162M437.8 1807.8V1802.3M437.8 2163.1V2167.3M440.6 1827.3V1826M440.6 2150.8V2154.2M443.3 1823.7V1817.8M443.3 2152.1V2155.7M445.6 1822.4V1818.4M448 1820.4V1817.7M448 2146.2V2149.7M451.5 1824.4V1823.3M451.5 2143.2V2145.3M452.7 1823.4V1819.7M452.7 2147V2150.5M455.9 1815.9V1806.1M455.9 2164.8V2169M458.2 1807V1799.5M458.2 2161V2177.1M460.8 2159.9V2174.2M461.8 1817.1V1799.3M461.8 2155.8V2169.8M463.9 1809.8V1790.5M463.9 2174.2V2183M466.9 1793.9V1786.5M466.9 2158.9V2172M466.6 1807.9V1789.8M466.6 2158.6V2180.7M469.9 1796.3V1776.7M469.9 2136.2V2159.9M471.8 1780.6V1777.9M471.8 2150.6V2178.4M474.7 1784.6V1778.1M474.7 2150.9V2159.1M477.2 1772.6V1768.2M477.2 2162.4V2164.2M477.5 1793V1786.3M477.5 2125.6V2138M480.2 1783.2V1782.1M480.2 2115.4V2132.3M482.4 1779.9V1773M482.4 2117.1V2128.7M485.1 1772V1767.6M485.1 2122.6V2137.1M488.4 1749.2V1738.9M488.4 2146V2177.1M487.7 1758.2V1749.5M487.7 2140.7V2155.1M490.7 1762V1747.4M490.7 2156.5V2164.5M493.8 1768.1V1765.2M493.8 2108.9V2130.2M495.8 2111.4V2133.9M498.7 1762V1754.7M498.7 2108.9V2144.7M501.3 1762.4V1760.8M501.3 2129.7V2138.6M502.6 2094.3V2137.9M504.6 1767.9V1764M504.6 2126.7V2133.2M507 1767.4V1765.9M507 2120.1V2125.2M510.4 1773.6V1766.8M510.4 2077.4V2110.6M512.6 1765.8V1763.7M512.6 2087.6V2095.8M513.3 2071.6V2101.1M515.1 1786.2V1776.7M515.1 2092.6V2099.2M517.7 1798.1V1796.4M517.7 2057.1V2065.6M620.4 1824.2V1820.1M620.4 2146V2156.6M623.4 1822.1V1817.4M623.4 2128.9V2139.5M625.8 1820.6V1819.4M625.8 2129.4V2132M628.5 1819.1V1816.4M628.5 2127.7V2133M631.3 1817.4V1813.9M631.3 2115.6V2121.6M632.7 1817.5V1811.9M632.7 2118.5V2120.5M635.2 1814.3V1812.2M635.2 2121.5V2123.4M637.2 1800.3V1792.2M637.2 2131V2140.5M639.9 1805.4V1795.5M639.9 2136.4V2141M643.3 1817.7V1814.3M643.3 2116.9V2123.6M645.8 1813.5V1811.2M645.8 2112.7V2118.1M647.8 1815.3V1810.5M647.8 2117.9V2125.9M650.9 1811.5V1807.6M650.9 2113.3V2120.4M652.9 1797.9V1791M652.9 2135.3V2137M655.4 1794.8V1792.8M655.4 2120.8V2134.2M657.3 1806.3V1800M657.3 2128.2V2134.4M659.2 1817.3V1809.7M659.2 2117V2120.3M662 1812.1V1810.6M662 2120.2V2125.3M665.2 1799.2V1794M665.2 2113V2119.4M667.9 1810.2V1786M667.9 2121.2V2126.5M669.8 1799.6V1790.4M669.8 2125.5V2132.9M671 1782.6V1781.1M671 2124V2131.3M673.7 1794.7V1788.9M673.7 2116.6V2127.1M675.9 2130.9V2142.8M678.4 1783.3V1778.5M678.4 2137.5V2141.4M679.9 1764.2V1761.1M679.9 2118.7V2137.8M682.8 1785.7V1776.1M682.8 2120.1V2128.2M684.8 1789.1V1782.9M684.8 2107.2V2111.8M687.9 1795.8V1785.6M687.9 2116.2V2128.4M690.5 1800.1V1798.3M690.5 2110.2V2113.8M691.9 1796.3V1778.5M691.9 2118.3V2137.7M695.3 1778.4V1772.5M695.3 2133.9V2146.2M697.1 1785.5V1772.3M699.5 1769V1756.7M699.5 2135.5V2137.5M703 1768.8V1756.2M703 2134.6V2137.9M704.9 2141.2V2146.3M706.9 1767.8V1760.6M706.9 2113.5V2119.2M709.7 1765V1760.2M709.7 2091.2V2098.5M759.6 1814.9V1809.5M759.6 2135.7V2141.6M761.9 1814.8V1808.3M761.9 2126.4V2131.1M764.7 1809.9V1808.1M764.7 2127.8V2140.8M766.9 1803.6V1795.4M766.9 2135.3V2146.5M769.5 1801.2V1792.5M769.5 2125V2133.4M769.6 1804.5V1800.5M769.6 2128.9V2140.9M772.2 1806V1801.2M772.2 2128.3V2131.3M774.6 1801V1794.3M774.6 2134.4V2155.6M777.2 1815V1808.1M777.2 2121.1V2129.7M779.9 2137.4V2146.7M782.6 1803V1798.5M782.6 2140.9V2142.6M785.1 1810.3V1801.9M785.1 2139.7V2141.6M786.9 2116.8V2120.5M790.1 1805.4V1799.1M792.5 1809.1V1802.9M792.5 2121.4V2129.2M795.2 1819.8V1818.3M795.2 2115.1V2123.6M797.9 1810.6V1806.2M797.9 2114.6V2120.4M800.4 1804.3V1799M800.4 2115.3V2122.7M803.3 1800.9V1798.9M803.3 2119V2126.8M805.2 1801.9V1782M805.2 2127.9V2133.2M807.3 1809.2V1804.6M807.3 2112.4V2118.4M809.8 1808.6V1798.4M809.8 2120.5V2124.7M812.2 1802V1798.3M812.2 2114.8V2122M815.2 1809.5V1795.9M815.2 2129.4V2131.5M817.6 1804.7V1797.2M817.6 2124V2126M819.9 1803.1V1796.4M933.2 2127.8V2131.9M936.5 1828.2V1819.4M936.5 2119.3V2124.1M939.1 1817.5V1812.2M939.1 2128.9V2140.3M941.1 1818.7V1812.9M941.1 2123.3V2134.8M943.7 1823.2V1819.9M943.7 2127.4V2133.6M945.6 1823.2V1817.9M945.6 2119.4V2124.2M947.9 1812.6V1809.6M947.9 2115.2V2126.1M950.5 1807.9V1798.8M953.9 1800.2V1792.8M953.9 2115.4V2123.5M955.8 1787.6V1776.8M955.8 2118.2V2128.7M956.7 1805.9V1796.8M956.7 2115.7V2120.2M958.8 1794.4V1785.1M958.8 2117.3V2122.6M961.8 1788.4V1784M961.8 2116V2123.4M964.3 1766V1760.2M964.3 2133.3V2136.3M966.6 1759V1755M966.6 2132.4V2136.3M969.3 1753.2V1749.6M970.5 1767.2V1761.5M970.5 2115.7V2125.7M972.7 1764.6V1757M972.7 2124.3V2133.7M975.7 1782.3V1776M975.7 2117.8V2119.1M978.1 1780.8V1776.6M978.1 2116.1V2121.6M980.7 1791.2V1789.5M980.7 2103.9V2109.3M983.8 1792.7V1789.1M983.8 2114.6V2116.7M986.1 1806.1V1797.4M986.1 2120.6V2124.2M1004 1805.8V1801M1004 2109.4V2118M1006.6 1809.6V1802.4M1009.4 2100.2V2106.3M1011.1 1811.4V1808.4M1011.1 2104.3V2105.6M1014.1 1812V1804.8M1014.1 2105.3V2107.9M1016.9 1806.5V1802.1M1016.9 2107.3V2110.8M1019.2 1808.7V1800.5M1019.2 2094.6V2109.1M1019.7 2088.7V2101.2M1125.6 2127V2137.1M1128 1857.3V1851.2M1128 2138.1V2148.1M1130.5 1851.5V1843.5M1130.5 2127.3V2145.9M1133.8 1842.9V1839.2M1133.8 2149.1V2164.1M1136 1838.2V1832.9M1136 2155.8V2181.1M1138.4 1851V1849.9M1138.4 2138.2V2149.2M1139.6 1851.8V1848.9M1139.6 2141V2157.6M1142.3 1842.7V1833.1M1142.3 2145.9V2168.5M1144 1826V1824.3M1144 2150.2V2177.2M1147.4 2158.7V2174.1M1149.3 2118.7V2122.1M1151.9 1839.7V1837.8M1151.9 2110.3V2127.6M1153.8 1840.6V1830.4M1157 2136.4V2141M1159 1832.1V1825.4M1159 2130.4V2138M1161.7 1825.5V1814.4M1161.7 2123.3V2126.9M1168.4 1805.4V1797.9M1168.4 2112.2V2115.4M1170.4 1801.8V1796.5M1170.4 2119.1V2122.7M1172.9 1800.6V1794.2M1172.9 2112.8V2120.6M1175.7 1792.8V1784M1175.7 2121.4V2126M1178.4 2121.1V2125.1M1180.1 1798.5V1782M1180.1 2138.9V2143.4M1182.9 1810.2V1802.3M1182.9 2127V2136.5M1186.1 1800.4V1793.8M1186.1 2166V2170.5M1188.4 1797V1788.8M1188.4 2163.9V2176.3M1188 1802.7V1794.9M1188 2153V2169.8M1190.9 1808.6V1797.2M1190.9 2195V2201.5M1193.9 1809.5V1800.4M1193.9 2205.2V2217.3M1196.1 1824.4V1805.4M1196.1 2181.9V2244.7M1197.3 1818.9V1812.7M1197.3 2216.9V2233M1199.6 1830.8V1820M1199.6 2203.7V2219.6M1202.1 1833.3V1816.8M1202.1 2216.2V2226.4M1301.3 1819V1812M1301.3 2108.1V2116M1304.1 1815.7V1809.7M1304.1 2108.1V2111.4M1306.7 1817.3V1812.6M1308.9 1797.2V1791.7M1308.9 2124.2V2126.8M1312 1815V1811.4M1312 2114.2V2115.2M1314.2 1808.5V1802.5M1314.2 2112.9V2115.4M1315.2 1808.2V1800.5M1318.2 1791.9V1790.3M1318.2 2126.5V2130.5M1320.1 1800.4V1788.3M1320.1 2124V2126.1M1323.3 1793.1V1789.1M1323.3 2124.5V2139.7M1325.2 2117.5V2123.7M1327.9 1807.4V1804.5M1327.9 2119.8V2126.1M1329.5 1803.5V1790.8M1329.5 2120.5V2147.5M1331.5 1797.5V1794.1M1331.5 2142.4V2145.8M1334.3 1803.5V1797.3M1334.3 2136.5V2140.5M1337.2 1810.3V1801.9M1337.2 2136.3V2139.5M1339.5 1803.2V1801.4M1339.5 2131.4V2140.3M1342 1817.6V1812.5M1342 2118.4V2133.8M1343 2123.1V2124.1M1346.1 1820.3V1818M1346.1 2122.2V2130M1348.1 1815.3V1814M1348.1 2119.7V2129.8M1350.7 1810.7V1806.9M1350.7 2140.9V2142M1353.9 2126.6V2132M1355.9 1822V1817.8M1355.9 2120.7V2128.4M1356.9 1822.4V1820.3M1356.9 2122.6V2125M1359.7 1804.4V1802.6M1359.7 2128.3V2139M1362.6 1817.5V1812M1362.6 2124.6V2127.9M1365.3 1802V1799.5M1365.3 2118.2V2127.1M1367.9 1789.7V1786.3M1367.5 1792.5V1787M1367.5 2125.1V2127.1M1370.4 1779V1775.3M1370.4 2119.3V2122.6M1373.2 1767.4V1753.7M1373.2 2105.9V2110M1375.2 1753.3V1745.6M1375.2 2109.8V2110.9M1377.6 1750V1745.9M1377.6 2107.1V2109.8M1380.4 1745.9V1740M1380.4 2103.5V2106M1382.6 2108.3V2110.2M1383.7 1729.9V1728.4M1383.7 2093.1V2103M1386 1736.1V1732.8M1386 2103.8V2107.7M1526 1796.6V1794.1M1526 2135.5V2152.3M1528.5 1796.9V1794.5M1528.5 2131.1V2146.3M1531 1796.5V1794.8M1531 2130.8V2141.5M1533 1802.9V1798.7M1533 2129.7V2139.1M1536.2 1804.1V1798.9M1536.2 2122V2124.8M1538.6 1796V1794.7M1538.6 2125.9V2132.3M1540.1 2132.9V2138.7M1543.1 1803.3V1798.2M1543.1 2112.3V2126.6M1546.2 1797.5V1779.7M1546.2 2155.3V2159.2M1547.9 1784.3V1780.7M1547.9 2128.4V2153.3M1550.9 1796.7V1792.8M1550.9 2133.3V2136.5M1550.9 2132.7V2141.2M1554.2 1799.1V1796.1M1554.2 2125.6V2127.7M1555.9 1801.3V1797.5M1555.9 2114.9V2117.8M1558.9 1790.5V1787M1558.9 2124.8V2132.7M1561.3 1808.2V1805.2M1561.3 2120.6V2128.4M1731.8 1858.5V1843M1731.8 2100.8V2105.5M1735.3 1837.1V1830.9M1735.3 2106.3V2123M1737.6 1844.5V1836.6M1737.6 2125.9V2131.8M1739.9 1832V1824.9M1739.9 2127.6V2167.4M1741.2 1834.2V1826.6M1741.2 2170.1V2179.8M1744.2 1822.4V1807.9M1744.2 2154.7V2189.7M1746.5 1813.9V1806.6M1746.5 2174.8V2187.4M1748.6 1823.3V1816.6M1748.6 2162.4V2177.2M1749.6 1822.3V1812M1749.6 2166.4V2174.5M1752.1 1809.2V1801.8M1752.1 2178.2V2184.4M1754.9 1791.3V1779.2M1754.9 2181.7V2183.6M1757.3 1794.7V1788.5M1757.3 2149.3V2155.8M1759.1 1810.3V1789.8M1759.1 2144.8V2146.9M1761.2 1796V1779.7M1761.2 2151.3V2154.3M1763.6 1806.8V1782.2M1763.6 2139.6V2147.8M1766.1 1796.7V1783M1766.1 2133.8V2141.1M1769.3 1787.5V1775.6M1769.3 2140.6V2147M1772 1806.9V1798.5M1774.3 1806.7V1794.1M1774.3 2123.5V2130.6M1776.1 1781V1761.1M1776.1 2136.7V2142.6M1778.5 1806.8V1789.7M1778.5 2120.1V2127.1M1781.7 1806.8V1795.6M1781.7 2123.7V2130.2M1792.4 1807.6V1801.6M1792.4 2133.3V2139.5M1795 1796.4V1789.1M1795 2124.2V2131M1797 1797V1789.9M1797 2129.8V2137.4M1800.1 1789.8V1780.5M1800.1 2139.4V2143.2M1802.9 1791.7V1789.2M1802.9 2123.8V2133.2M1805 1782.3V1776.3M1805 2133.9V2136.6M1808.2 1782.5V1770.1M1808.2 2126.7V2138.9M1810.1 1779.4V1778.2M1810.1 2114.4V2118M1811.8 1770.8V1761M1811.8 2127.3V2135.8M1813.7 1771.8V1760.1M1813.7 2132.5V2141M1817 1769.9V1756.4M1817 2129.7V2140M1819.2 1767.9V1757.5M1819.2 2121.4V2131.7M1821.5 2115.6V2135.4M1824.9 1758.8V1750.3M1824.9 2119.9V2123.2M1827.2 2112.8V2120M1829.2 2109.1V2113.7M1831.6 1752.3V1749.4M1831.6 2120.1V2121.3M1834 1752V1745.6M1834 2117.7V2119.9M1836.6 2110.3V2117M1842.4 1742.1V1739.9M1842.4 2105.8V2116.4M1844.8 1745.5V1742.8M1846.7 1741V1739.7M1846.7 2107.5V2114.7M1849.5 2106.8V2110M1851.7 2100.8V2107.9M1854.5 1749.7V1745.9M1854.5 2105.1V2111.5M1857.5 2097.1V2100.8M1859.4 2096.2V2102.1M1863.7 2092.5V2096.7M1865.8 1788.2V1784.7M1865.8 2089.9V2094.5M1965.9 1812.2V1809.4M1965.9 2140.3V2141.4M1968.4 1804.1V1802.7M1968.4 2126.5V2132.1M1971.1 1808.7V1803.5M1971.1 2130.8V2142.9M1974.4 1802.6V1800.7M1974.4 2130.3V2138.8M1976.2 1801.3V1795.7M1976.2 2135.6V2144M1976.5 2131.7V2136.6M1979 1809.4V1802.7M1979 2127.2V2129.6M1982 1821.3V1819.9M1982 2123.9V2125.8M1984.6 2116V2117.1M1987.3 1830V1827.7M2014.1 1809.8V1801.8M2014.1 2053.7V2057.1M2016.8 1795.7V1790.7M2016.8 2052.7V2059M2018.6 1775.2V1771.3M2018.6 2076.7V2080.5M2021.9 1769.8V1767.7M2021.9 2084V2086.8M2023 1779.8V1778.3M2023 2063.9V2071.8M2025.3 1770.7V1763.9M2025.3 2060.8V2067.6M2028 1763.4V1756.9M2028 2071.8V2077.6M2030.7 1749.9V1738.3M2030.7 2081.7V2093.2M2032.9 1738V1727.3M2032.9 2086V2094.1M2033.6 1744.7V1737.9M2033.6 2083.3V2088.5M2035.9 1738.4V1734.1M2035.9 2075.2V2089M2038.2 1737.5V1734.5M2038.2 2069.2V2073.7M2040.9 1727.2V1726M2040.9 2065.4V2068.2M2043.5 2071.3V2073.6M2043.5 2071V2077.2M2048.6 2083.3V2090.2M2051.3 1716.1V1714.6M2051.3 2070.2V2076.9M2054.3 1715V1713.9M2054.3 2068.1V2071.7M2054.5 2071.1V2075.3M2057.2 1719.3V1713.6M2057.2 2069.8V2076.4M2059.1 2077.7V2080.8M2169.8 1801.7V1795.1M2169.8 2116V2117.5M2173.1 1799.5V1795.4M2175.2 1806.5V1803.2M2175.2 2120.1V2122.4M2175.5 1809.8V1803M2178.4 1802.2V1797.6M2180.7 1791.7V1787.9M2183.7 2124.9V2131.3M2184.5 1780.6V1778.6M2184.5 2132.8V2134.2M2187.5 1795.5V1784.4M2187.5 2132V2134.1M2189.2 1794.5V1787.2M2189.2 2119V2130.5M2192.4 1803.2V1797.9M2233.8 2111.9V2115.3M2235.9 1817.9V1809.5M2235.9 2126.6V2132.4M2239.4 1810.6V1807.3M2239.4 2124.3V2134.4M2241 1805.5V1800.2M2241 2127.6V2131.2M2243.7 1803.2V1798M2245.9 1790.9V1787.8M2245.9 2149.3V2153.7M2248.5 2143.1V2147.9M2251.6 1791V1776.8M2251.3 1787.8V1784.6M2251.3 2157.6V2160M2254.4 1784.8V1769.6M2254.4 2138.5V2155.2M2256.4 1780.5V1778.3M2256.4 2140.7V2144.2M2259.4 1775.4V1764.6M2259.4 2125.5V2132.4M2261.7 1753.6V1746.3M2261.7 2131.4V2139.9M2261.4 1771.1V1761.3M2264.8 1768V1755.9M2264.8 2117.3V2121.2M2384.6 1855V1851.9M2384.6 2105.7V2116.9M2388.1 1831.4V1828.3M2388.1 2122.3V2143.4M2390.4 1823.1V1813.8M2390.4 2127.2V2146.2M2392.5 1820.4V1816.2M2394.3 1814.8V1813M2394.3 2140.5V2152.7M2397.7 1813.3V1810.2M2397.7 2134.3V2151M2399.4 1808.6V1806.2M2399.4 2139.3V2144.1M2400.4 1802.4V1796.3M2400.4 2153.6V2157.8M2403.6 1828V1822.8M2403.6 2120.6V2124.6M2449.2 1811.6V1808.9M2449.2 2099.6V2101.1M2454.3 2100.8V2106.5M2457.3 1798.1V1796.2M2457.3 2103.3V2108.9M2459.8 1787V1784.6M2459.8 2117.7V2119" stroke="#05A01C" stroke-width="6.4" stroke-linecap="round" stroke-dasharray="0.1 32 0.1 44 2 36 0.1 54 0.1 28 2 40" fill="none"/>
<path d="M424 1838.2V2145.5M477.5 1807.5V2096.3M504.6 1779.4V2096M510.4 1784.6V2056.3M647.8 1825.2V2106M941.1 1835.9V2111.1M1004 1818V2098.2M1006.6 1822.7V2095M1312 1827.3V2108M1325.2 1820V2104.5M1343 1825.4V2105.8M1367.5 1820.2V2118.7M1375.2 1773.7V2093.4M1759.1 1829.4V2130.8M1800.1 1799.6V2129.4M1805 1799V2126.9M1810.1 1791.1V2103.8M1811.8 1779.2V2112.8M1827.2 1764.6V2099.2M1984.6 1831.1V2108.7M2054.3 1720.3V2059.2" stroke="#05A01C" stroke-width="3.6" stroke-linecap="round" stroke-dasharray="2 7 9 6 1 8 14 7 3 9 1 6" fill="none"/>
<path d="M419 1822h0M421 1816h0m0 333h0m-1 4h0M424 1818h0M427 2162h0M436 1810h0m0 352h0M438 1799h0M456 1802h0m-1 9h0M458 1796h0m1 12h0m-2 1h0m1 348h0m0 17h0M462 1809h0m1 345h0m-1 2h0m1 8h0M467 1779h0m1 0h0m0 13h0m-2 342h0m0 17h0m1 2h0M467 1784h0m-1 21h0m1 7h0m1 354h0M470 1796h0m0 2h0m0 9h0m-1 340h0m1 30h0m-1 4h0M475 1778h0M478 2125h0M485 1761h0m1 388h0M488 2141h0m-1 3h0m1 13h0m0 17h0M488 1740h0m0 1h0m0 440h0M491 1756h0m0 8h0m0 411h0m0 1h0M494 2126h0m0 1h0m-1 26h0M499 2097h0m0 20h0m-1 2h0M501 2144h0M503 2123h0M505 1766h0m-1 4h0m0 357h0M507 1764h0m0 359h0M510 2120h0M513 2071h0m0 40h0M518 2092h0M635 1813h0m-1 323h0M640 2147h0M648 1797h0M653 1801h0M655 1799h0M657 1795h0m0 7h0m1 326h0m-1 13h0M659 2119h0M665 1800h0M668 2127h0m0 18h0M670 1786h0m0 12h0m-1 321h0M671 2125h0m1 7h0m0 7h0m-1 0h0M674 2143h0M676 1761h0m0 384h0M678 2144h0M680 1760h0m0 380h0M688 1775h0M691 2142h0M692 1782h0m0 1h0m-1 354h0M695 2122h0M700 1768h0M703 2130h0m1 10h0M705 1746h0m0 385h0M760 1795h0m1 364h0M765 1791h0m1 7h0M775 1794h0M780 2127h0m0 24h0M783 2138h0M785 1795h0M795 1802h0M805 1793h0m0 4h0m0 6h0M810 2141h0M818 1800h0M820 1799h0M750 2016h0M736 1849h0M747 1917h0M714 2007h0M743 1968h0M750 2005h0M739 1926h0M756 1937h0M679 1724h0M937 2133h0M944 2137h0M954 2123h0m1 2h0M956 1785h0m1 7h0m-1 326h0M959 2125h0M967 1761h0m1 369h0M984 2122h0M1004 1805h0M1009 1802h0M1011 2115h0M1017 1809h0m-1 285h0m1 1h0M1019 1798h0m-1 1h0M984 1751h0M1010 1748h0M1000 1755h0M963 1745h0M996 2159h0M982 2148h0M1028 2023h0M1027 1805h0M1031 1902h0M1035 2058h0M1027 1942h0M1031 1957h0M1029 1862h0M1029 1829h0M1032 2066h0M1038 1868h0M1038 2020h0M1037 1807h0M1024 1914h0M1038 2085h0M1034 2011h0M1025 1863h0M1030 1875h0M1030 1985h0M1030 2060h0M1039 1911h0M1026 1890h0M1029 1949h0M1033 1862h0M1032 2034h0M1037 1823h0M1024 2018h0M1030 2083h0M1036 2006h0M1034 1804h0M1035 2007h0M1028 2008h0M1034 2076h0M1034 2034h0M1034 1920h0M1031 2083h0M1034 2044h0M1024 2063h0M1027 1919h0M1032 1895h0M1038 1935h0M1039 1999h0M1023 2086h0M1038 1863h0M1023 1956h0M1034 1838h0M1024 1870h0M1033 1804h0M1031 1949h0M1037 2010h0M1027 2051h0M1030 1996h0M1023 1814h0M1030 1814h0M1025 1859h0M1033 1841h0M1031 2044h0M1024 1863h0M1035 2065h0M1030 1865h0M1029 1915h0M1126 2155h0M1128 1842h0M1130 1839h0M1134 2176h0M1136 2144h0m1 1h0m0 15h0M1142 1843h0m0 3h0m-1 3h0m1 299h0m0 2h0m0 16h0M1144 2150h0m0 25h0m0 10h0M1147 1823h0m0 8h0m0 302h0m0 28h0m0 2h0M1152 2144h0M1157 2140h0M1159 2137h0M1162 1817h0m0 296h0M1176 1771h0M1178 2139h0M1188 1808h0m1 356h0M1188 1790h0m0 11h0m1 4h0m-2 1h0m1 364h0M1191 1804h0M1194 1808h0m-1 376h0m1 7h0M1196 1825h0m0 6h0m0 2h0m0 362h0M1197 2203h0m-1 2h0m2 14h0m-1 5h0M1202 1821h0m1 415h0m0 17h0M1309 1796h0M1314 1792h0M1318 1789h0m0 2h0M1320 1792h0m0 0h0m-1 323h0M1323 2119h0M1325 2117h0M1330 1800h0m0 347h0M1332 2132h0M1334 1809h0M1337 1812h0m0 325h0M1348 1803h0M1360 2127h0m1 15h0M1370 1767h0m-1 1h0m0 349h0m1 4h0M1373 1776h0M1375 1760h0m0 349h0M1380 1744h0m1 363h0M1383 2097h0m-1 14h0M1526 2144h0M1528 2165h0M1540 2160h0M1554 2140h0M1571 2045h0M1577 1960h0M1574 2046h0M1576 2033h0M1573 1948h0M1579 1952h0M1582 2017h0M1583 1939h0M1574 1939h0M1580 1970h0M1579 2070h0M1582 2004h0M1585 1959h0M1584 2069h0M1578 2069h0M1574 1945h0M1573 2024h0M1566 1952h0M1626 1980h0M1626 2014h0M1616 2015h0M1617 1937h0M1606 1916h0M1609 1907h0M1614 1869h0M1604 1916h0M1612 1999h0M1603 1944h0M1621 1909h0M1609 1908h0M1618 1900h0M1601 1953h0M1602 1965h0M1622 1914h0M1613 1910h0M1624 1969h0M1612 1994h0M1603 1911h0M1612 2022h0M1620 1945h0M1600 1896h0M1602 1940h0M1624 2026h0M1548 2155h0M1549 2169h0M1549 2151h0M1593 2183h0M1596 1939h0M1596 1894h0M1592 2074h0M1594 1976h0M1593 2006h0M1596 1898h0M1594 2116h0M1590 1956h0M1594 1967h0M1593 1952h0M1591 1996h0M1591 1842h0M1590 1907h0M1595 1965h0M1593 1918h0M1593 2058h0M1595 2032h0M1590 1902h0M1592 1955h0M1589 1838h0M1589 1948h0M1596 1938h0M1594 2081h0M1591 1957h0M1595 2102h0M1593 2070h0M1596 1832h0M1594 2041h0M1589 1935h0M1589 1989h0M1596 2077h0M1596 2118h0M1590 2069h0M1594 2009h0M1594 2128h0M1594 1855h0M1593 1900h0M1595 2112h0M1594 2075h0M1591 2000h0M1595 1898h0M1594 2017h0M1594 1887h0M1596 2085h0M1595 1946h0M1591 1909h0M1591 2022h0M1592 1912h0M1591 1952h0M1591 1936h0M1591 1912h0M1595 1983h0M1594 1911h0M1596 1843h0M1594 2129h0M1732 1843h0M1735 1837h0m0 4h0m0 4h0m0 3h0m0 273h0M1738 1824h0m0 290h0M1740 2145h0m0 21h0M1741 1823h0m0 5h0m1 9h0m-2 319h0m0 0h0M1744 2188h0m-1 4h0m1 1h0M1747 2165h0m-1 10h0m1 16h0m0 2h0M1749 2182h0M1752 2190h0M1757 1792h0m0 359h0M1761 1802h0M1766 1794h0M1774 2125h0M1776 1779h0M1782 2130h0M1792 2143h0M1795 1799h0M1800 1775h0m1 373h0M1803 2125h0M1812 1772h0m0 366h0M1814 1770h0m0 363h0M1817 1764h0m0 5h0m0 366h0m0 1h0M1819 1769h0m0 370h0M1822 2118h0m0 7h0M1845 1744h0M1855 1756h0m1 349h0M1866 2090h0M1737 1942h0M1739 1949h0M1735 1986h0M1740 1993h0M1733 1959h0M1738 2049h0M1732 1963h0M1735 1891h0M1739 1907h0M1732 1895h0M1800 1692h0M1974 2140h0M2022 1763h0m-1 311h0M2031 1738h0m0 341h0m-1 7h0M2033 1737h0M2036 1730h0M2046 2091h0M2049 2085h0M2057 2071h0M1985 1741h0M1974 2148h0M2165 2107h0M2167 1807h0M2170 2116h0m0 2h0M2173 1795h0M2188 2138h0M2189 2133h0M2192 1806h0M2236 1808h0m1 8h0M2239 2128h0m0 3h0m0 13h0M2249 2160h0M2252 2158h0M2251 1789h0m0 358h0m1 6h0M2254 1782h0M2262 1740h0m-1 4h0M2181 1706h0M2183 1763h0M2266 1701h0M2264 1733h0M2266 1738h0M2263 1729h0M2189 2182h0M2224 1999h0M2202 2010h0M2388 2138h0M2400 2157h0m0 10h0M2457 1781h0m0 1h0M2420 1907h0M2418 2023h0M2417 2047h0M2418 2036h0M2419 1925h0M2417 1890h0M2420 2094h0M2416 1889h0M2421 1929h0M2420 1983h0M2420 2117h0M2419 2076h0M2420 2027h0M2420 2045h0M2415 1950h0M2420 2017h0M2418 1925h0M2417 1968h0M2418 2042h0M2420 1934h0M2420 2088h0M2417 2086h0M2418 2053h0M2420 2080h0M2415 2109h0M2416 2016h0M2418 1925h0M2416 2080h0M2420 1996h0M2418 1971h0M2421 1979h0M2421 1914h0M2415 2091h0M2419 1902h0M2417 1951h0M2418 1937h0M2420 2104h0M2418 2078h0M2421 1888h0M2416 1992h0M2371 2017h0M2375 1949h0M2376 1987h0M2368 2004h0M2376 1981h0M2378 2041h0M2377 2021h0M2370 1961h0M2368 2041h0M2368 2008h0M2369 1976h0M2374 1998h0M2370 2038h0M2378 2000h0M2371 1952h0M2368 2051h0M2374 1983h0M2376 2032h0M2372 2035h0M2379 2014h0M2432 1644h0M2433 1903h0M2419 1806h0" stroke="#05A01C" stroke-width="6.8" stroke-linecap="round" fill="none"/>
<polyline points="287.6,1957.8 291.1,1963.1 296.4,1959.5 301.7,1952.5 305.2,1968.3 309.4,1968.3 312.2,1954.3 317.5,1947.2 322.8,1936.7 328.1,1950.8 333.3,1950 340.4,1950.8 344.6,1949 346,1873.3 349.2,1876.9 352.7,1862.8 353.7,1919.1 356.2,1929.6 359.7,1926.1 362.2,1957.8 365.7,1987.7 372.7,1988.8 377.3,1968.3 381.9,1947.2 387.9,1936.7 393.2,1926.1 397.4,1920.8 401.9,1922.6 407.2,1933.2 412.5,1949" fill="none" stroke="#000" stroke-width="6.4" stroke-linejoin="round" stroke-linecap="round"/>
<polyline points="422,1989.5 428.3,1991.2 435.4,1989.5 442.4,1989.5 445.9,2003.5 448.7,1984.2 453,1989.5 458.2,1987.7 461.8,2010.6 464.2,1982.4 468.8,1982.4 474.1,1975.4 478.3,1963.1 482.9,1952.5 488.2,1954.3 493.4,1942 498.7,1929.6 502.2,1924.4 506.5,1933.2 511,1942 515.6,1926.1" fill="none" stroke="#000" stroke-width="6.4" stroke-linejoin="round" stroke-linecap="round"/>
<polyline points="526.9,2001.8 532.1,2003.5 535.7,2008.8 540.2,2007.1 544.5,1985.9 548,1968.3 551.5,1957.8 554.3,1978.9 557.8,1936.7 562,1922.6 567.3,1913.8 572.6,1910.3 577.9,1910.3 581.4,1922.6 586.7,1922.6 589.5,1903.3 592,1922.6 595.5,1936.7 600.8,1950.8 606,1961.3 614.1,1968.3" fill="none" stroke="#000" stroke-width="6.4" stroke-linejoin="round" stroke-linecap="round"/>
<polyline points="623.6,2007.1 627.1,1985.9 632.4,1957.8 637.7,1947.2 641.2,1949 646.5,1964.8 651.8,1957.8 657.1,1952.5 661.3,1964.8 665.8,1956 671.1,1943.7 676.4,1929.6 681.7,1943.7 687,1957.8 692.2,1980.7 695.8,1950.8 699.3,1936.7 704.6,1929.6 709.1,1929.6 710.5,1875.1 714.1,1873.3 715.1,1901.5 755.6,1924.4 759.1,1943.7 764.4,1947.2 769.6,1957.8 774.9,1968.3 780.2,1975.4 785.5,1989.5 790.8,1993 795,1989.5 797.8,1957.8 803.1,1938.4 808.4,1934.9 813.6,1933.2 818.2,1938.4" fill="none" stroke="#000" stroke-width="6.4" stroke-linejoin="round" stroke-linecap="round"/>
<polyline points="825.9,1949 833,1947.2 838.3,1934.9 843.5,1926.1 848.8,1926.1 852.3,1940.2 855.9,1957.8 859.4,1971.9 862.9,1950.8 868.2,1954.3 873.4,1959.5 878.7,1961.3 885.8,1963.1 891,1964.8 895.6,1970.1 899.8,1950.8 903.4,1938.4 906.2,1957.8 908.6,1947.2 912.2,1957.8 915.7,1943.7 921,1940.2 926.2,1931.4" fill="none" stroke="#000" stroke-width="6.4" stroke-linejoin="round" stroke-linecap="round"/>
<polyline points="936.9,1996.5 942.2,1985.9 947.5,1971.9 952.1,1942 956.3,1940.2 960.5,1936.7 963.3,1949 968.6,1945.5 973.9,1940.2 979.2,1945.5 984.4,1945.5 988,1936.7 990.8,1910.3 995,1913.8 997.8,1912 1002,1912 1003.8,1945.5 1009.1,1949 1014.4,1949 1019.6,1943.7 1023.9,1926.1 1027.4,1933.2 1030.9,1927.9 1033.7,1957.8 1037.2,1933.2" fill="none" stroke="#000" stroke-width="6.4" stroke-linejoin="round" stroke-linecap="round"/>
<polyline points="1047.8,1996.5 1049.5,1957.8 1053.1,1943.7 1056.6,1931.4 1061.9,1933.2 1065.4,1938.4 1068.9,1940.2 1074.2,1936.7 1079.5,1934.9 1084.7,1931.4 1090,1917.3 1092.8,1938.4 1097,1934.9 1102.3,1929.6 1107.6,1922.6 1111.1,1912 1115.3,1894.5 1119.9,1880.4" fill="none" stroke="#000" stroke-width="6.4" stroke-linejoin="round" stroke-linecap="round"/>
<polyline points="1128.7,2000 1134,1998.3 1139.3,1996.5 1143.5,2000 1148.1,1987.7 1152.6,1984.2 1156.9,1987.7 1160.4,1954.3 1163.2,1912 1166,1954.3 1168.1,1936.7 1172.7,1933.2 1178,1934.9 1183.3,1957.8 1188.5,1978.9 1193.8,2001.8 1199.1,2028.2" fill="none" stroke="#000" stroke-width="6.4" stroke-linejoin="round" stroke-linecap="round"/>
<polyline points="1210.7,1985.9 1214.9,1989.5 1218.4,1975.4 1223.7,1966.6 1227.9,1961.3 1232.5,1957.8 1236,1966.6 1241.3,1954.3 1246.6,1940.2 1251.2,1934.9 1252.6,2007.1 1254,2051 1255.4,2000 1258.2,1989.5 1262.4,1982.4 1267.7,1971.9 1271.2,1957.8 1273,1906.8 1274.4,1968.3 1278.3,1968.3 1282.8,1954.3 1287.1,1940.2 1291.3,1933.2 1295.8,1929.6" fill="none" stroke="#000" stroke-width="6.4" stroke-linejoin="round" stroke-linecap="round"/>
<polyline points="1304.6,1919.1 1309.9,1922.6 1315.2,1936.7 1320.5,1942 1325.8,1945.5 1331,1950.8 1336.3,1954.3 1341.6,1954.3 1345.1,1963.1 1350.4,1975.4 1355.7,1985.9 1360.9,1985.9 1365.2,1980.7 1369.7,1957.8 1375,1936.7 1380.3,1919.1 1384.9,1901.5 1387.3,1896.2" fill="none" stroke="#000" stroke-width="6.4" stroke-linejoin="round" stroke-linecap="round"/>
<polyline points="1395.4,1957.8 1399.6,1952.5 1404.9,1949 1410.2,1947.2 1415.5,1945.5 1420.1,1943.7 1422.5,1905 1426,1910.3 1430.6,1908.5 1434.1,1922.6 1438.4,1926.1 1441.9,1943.7 1447.1,1961.3 1452.4,1963.1 1457.7,1957.8 1463,1952.5 1468.3,1950 1473.5,1949 1478.8,1949 1482.3,1957.8 1484.8,1971.9 1486.9,2001.8 1488.3,1964.8 1492.9,1963.1 1498.2,1963.1 1502.4,1978.9 1507,1977.1 1510.5,1989.5 1515.1,1982.4 1519.3,1987.7" fill="none" stroke="#000" stroke-width="6.4" stroke-linejoin="round" stroke-linecap="round"/>
<polyline points="1530,1936.7 1535.3,1938.4 1538.8,1934.9 1542.3,1957.8 1547.6,1963.1 1552.9,1971.9 1558.1,1971.9 1563.4,1963.1 1566.9,1926.1 1568,1957.8 1572.2,1970.1 1577.5,1982.4 1582.8,1985.9 1587,1963.1 1588.1,2007.1 1590.5,1982.4 1594,1984.2 1598.6,1975.4 1602.1,2010.6 1609.2,2010.6 1612.7,2000 1618,1982.4 1623.2,1975.4" fill="none" stroke="#000" stroke-width="6.4" stroke-linejoin="round" stroke-linecap="round"/>
<polyline points="1637.3,1940.2 1639.1,1929.6 1644.4,1927.9 1647.9,1929.6 1651.4,1943.7 1656.7,1961.3 1663,1982.4 1665.5,1963.1 1670.7,1957.8 1673.6,1901.5 1677.8,1910.3 1680.6,1905 1684.8,1912 1688.3,1912 1693.6,1949 1698.2,1936.7 1702.4,1942 1705.9,1929.6 1709.5,1938.4 1712.3,1952.5" fill="none" stroke="#000" stroke-width="6.4" stroke-linejoin="round" stroke-linecap="round"/>
<polyline points="1730.6,1961.3 1732.3,1947.2 1737.6,1959.5 1741.1,1993 1742.9,2003.5 1748.2,1993 1753.4,1975.4 1758.7,1940.2 1762.9,1926.1 1765,1949 1769.3,1947.2 1776.3,1943.7 1781.6,1942 1785.1,1954.3 1790.4,1952.5 1795.7,1957.8 1800.9,1959.5 1808,1966.6 1813.3,1963.1 1818.5,1950.8 1823.8,1936.7 1829.1,1927.9 1834.4,1926.1 1839.6,1929.6 1844.9,1912 1848.4,1905 1852,1912 1855.5,1926.1 1860.8,1943.7 1865,1956" fill="none" stroke="#000" stroke-width="6.4" stroke-linejoin="round" stroke-linecap="round"/>
<polyline points="1874.1,1952.5 1877.6,1940.2 1881.9,1908.5 1887.1,1898 1892.4,1873.3 1897.7,1845.2 1903,1810 1906.5,1767.8 1909.3,1755.5 1917.1,1755.5 1927.6,1757.2 1934.6,1755.5 1943.4,1755.5 1950.5,1753.7 1955.8,1759 1961,1764.3" fill="none" stroke="#000" stroke-width="6.4" stroke-linejoin="round" stroke-linecap="round"/>
<polyline points="1968.1,1959.5 1973.3,1966.6 1978.6,1970.1 1983.9,1971.9 1987.4,1971.9 1991.6,1978.9 1996.2,1964.8 2001.5,1943.7 2006.8,1922.6 2011.4,1903.3 2012.8,1915.6 2017.3,1912 2022.6,1917.3 2027.9,1919.1 2033.2,1912 2038.4,1901.5 2043.7,1905 2049,1898 2054.3,1890.9 2057.8,1883.9 2061.3,1878.6" fill="none" stroke="#000" stroke-width="6.4" stroke-linejoin="round" stroke-linecap="round"/>
<polyline points="2070.1,1905 2075.4,1912 2078.9,1929.6 2082.4,1950.8 2087.7,1968.3 2093,1970.1 2098.3,1963.1 2103.5,1961.3 2108.8,1959.5 2112.3,1989.5 2117.6,1987.7 2121.1,1982.4 2126.4,1954.3 2131.7,1952.5 2135.9,1961.3 2139.4,1984.2 2144,1947.2 2146.5,1978.9 2151,1970.1 2155.6,1966.6 2159.8,1964.8" fill="none" stroke="#000" stroke-width="6.4" stroke-linejoin="round" stroke-linecap="round"/>
<polyline points="2167.6,1949 2173.9,1949 2179.2,1943.7 2184.4,1945.5 2189.7,1950.8 2194.3,1950.8 2196.8,1970.1 2199.2,1934.9 2230.9,1991.2 2235.5,1968.3 2240.7,1970.1 2246,1978.9 2251.3,1978.9 2256.6,1954.3 2260.1,1933.2 2262.6,1926.1" fill="none" stroke="#000" stroke-width="6.4" stroke-linejoin="round" stroke-linecap="round"/>
<polyline points="2273.1,1952.5 2279.5,1954.3 2283,1966.6 2286.5,1978.9 2291.8,1982.4 2297,1980.7 2300.6,1989.5 2305.8,1987.7 2309.4,2010.6 2311.1,1987.7 2316.4,1989.5 2321.7,1991.2 2327,2000 2330.5,1982.4 2335.7,1978.9 2341,1971.9 2344.5,2021.1 2346.3,2008.8 2351.6,2007.1 2356.9,2008.8 2359.7,1971.9" fill="none" stroke="#000" stroke-width="6.4" stroke-linejoin="round" stroke-linecap="round"/>
<polyline points="2370.2,2007.1 2376.2,2010.6 2383.3,2019.4 2385.7,1998.3 2390.3,1993 2395.6,1982.4 2400.8,1963.1 2405.4,1952.5 2409.6,1964.8 2414.9,1978.9 2420.2,1987.7 2425.5,1998.3 2432.5,1987.7 2439.5,1975.4 2446.6,1961.3 2451.9,1956 2456.1,1956" fill="none" stroke="#000" stroke-width="6.4" stroke-linejoin="round" stroke-linecap="round"/>
<polyline points="287.6,1819.3 291.1,1819 294.6,1819.5 298.1,1818.9 301.6,1818.2 305.1,1817 308.6,1816.5 312.1,1816.9 315.6,1818 319.1,1818.6 322.6,1818.5 326.1,1818.8 329.6,1818 333.1,1817.9 336.6,1819.6 340.1,1819.9 343.6,1820.9 345.5,1819.3 347.1,1816 348,1813.8 350,1813.9 350.6,1813.7 352.5,1816.3 354.1,1817.6 357.6,1816.8 361.1,1817.4 364.6,1818.5 368.1,1817.9 371.6,1817.8 375.1,1817 378.6,1817.5 382.1,1818.2 385.6,1818.8 389.1,1819.9 392.6,1820.8 396.1,1820.1 399.6,1818.5 403.1,1818.7 406.6,1818.5 410.1,1819.3" fill="none" stroke="#FF0505" stroke-width="5.8" stroke-linejoin="round" stroke-linecap="round"/>
<polyline points="287.6,1851.8 291.1,1852 294.6,1851.1 298.1,1850 301.6,1849 305.1,1849.1 308.6,1850.3 312.1,1850.3 315.6,1851.6 319.1,1850.4 322.6,1850 326.1,1850.3 329.6,1851.9 333.1,1852.8 336.6,1852.4 340.1,1852.1 343.6,1850.6 345.5,1849.2 347.1,1846.5 348,1844 350,1844.2 350.6,1845.3 352.5,1847.4 354.1,1849.6 357.6,1850.7 361.1,1850.8 364.6,1850 368.1,1849.2 371.6,1849.3 375.1,1849.5 378.6,1851.1 382.1,1852.1 385.6,1852.2 389.1,1851.9 392.6,1851.8 396.1,1850.4 399.6,1850.9 403.1,1851.1 406.6,1851.1 410.1,1850.2" fill="none" stroke="#2222D2" stroke-width="5.8" stroke-linejoin="round" stroke-linecap="round"/>
<polyline points="287.6,2062.7 291.1,2064.4 294.6,2064.2 298.1,2063.6 301.6,2061.7 305.1,2060.7 308.6,2060.5 312.1,2062 315.6,2062.9 319.1,2063.3 322.6,2062.9 326.1,2062.9 329.6,2063 333.1,2063.2 336.6,2064.6 340.1,2064.2 343.6,2064.3 345.5,2066.2 347.1,2067.4 348,2069.2 350,2067.5 350.6,2066.9 352.5,2063.9 354.1,2061.8 357.6,2062.3 361.1,2062.8 364.6,2063.1 368.1,2061.7 371.6,2061.4 375.1,2061.7 378.6,2062.1 382.1,2063.1 385.6,2063.8 389.1,2065.2 392.6,2064.9 396.1,2063.8 399.6,2063.3 403.1,2062.7 406.6,2063.6 410.1,2063.4" fill="none" stroke="#2222D2" stroke-width="5.8" stroke-linejoin="round" stroke-linecap="round"/>
<polyline points="287.6,2093.2 291.1,2092.6 294.6,2092.2 298.1,2092.5 301.6,2093.7 305.1,2094.5 308.6,2095.2 312.1,2095.1 315.6,2094.8 319.1,2094.8 322.6,2095.3 326.1,2096.8 329.6,2095.9 333.1,2094.8 336.6,2094.5 340.1,2093.8 343.6,2093.6 345.5,2094.3 347.1,2097.7 348,2099.5 350,2099.6 350.6,2098 352.5,2095.3 354.1,2093.9 357.6,2093.1 361.1,2093.7 364.6,2093.7 368.1,2094.3 371.6,2096.3 375.1,2096.7 378.6,2096.2 382.1,2095.6 385.6,2094.4 389.1,2094 392.6,2094 396.1,2094.9 399.6,2094.1 403.1,2093.9 406.6,2093 410.1,2092.9" fill="none" stroke="#FF0505" stroke-width="5.8" stroke-linejoin="round" stroke-linecap="round"/>
<polyline points="422,1816.6 425.5,1818.5 429,1819.5 432.5,1818.8 436,1819 439.5,1818.7 443,1819 446.5,1819.2 450,1820.3 453.5,1820.1 457,1819.3 460.5,1817.2 464,1817.3 467.5,1817.3 471,1817.4 474.5,1818 478,1818.7 481.5,1818.3 485,1818.1 488.5,1817.3 492,1819.1 495.5,1819.9 499,1821 502.5,1819.5 506,1819.1 509.5,1818.3 513,1817.3" fill="none" stroke="#FF0505" stroke-width="5.8" stroke-linejoin="round" stroke-linecap="round"/>
<polyline points="422,1851.2 425.5,1850.5 429,1851.1 432.5,1851.6 436,1852.6 439.5,1851.7 443,1850.7 446.5,1848.9 450,1848.4 453.5,1849.5 457,1850.8 460.5,1850.2 464,1850.3 467.5,1849.7 471,1849.6 474.5,1850.5 478,1852.3 481.5,1852.4 485,1852.1 488.5,1851.2 492,1851.1 495.5,1850.2 499,1849.4 502.5,1850.4 506,1851.2 509.5,1849.5 513,1849.9" fill="none" stroke="#2222D2" stroke-width="5.8" stroke-linejoin="round" stroke-linecap="round"/>
<polyline points="422,2061.5 425.5,2061.9 429,2063.4 432.5,2063.2 436,2064 439.5,2063.6 443,2062.5 446.5,2063.1 450,2063.6 453.5,2064.2 457,2064.4 460.5,2063.5 464,2061.8 467.5,2060.7 471,2061.3 474.5,2062.3 478,2062.5 481.5,2063.1 485,2062.8 488.5,2061.3 492,2062.7 495.5,2063.7 499,2064.3 502.5,2064.8 506,2064.1 509.5,2062.9 513,2062.3" fill="none" stroke="#2222D2" stroke-width="5.8" stroke-linejoin="round" stroke-linecap="round"/>
<polyline points="422,2092.6 425.5,2092.2 429,2094.1 432.5,2094.3 436,2095.5 439.5,2094.9 443,2094.8 446.5,2094.6 450,2095.5 453.5,2095.5 457,2096.9 460.5,2095.4 464,2095.1 467.5,2093 471,2093 474.5,2093.9 478,2093.7 481.5,2094.3 485,2093.3 488.5,2093.2 492,2093.5 495.5,2094 499,2095.9 502.5,2096.1 506,2097.2 509.5,2096.3 513,2095.1" fill="none" stroke="#FF0505" stroke-width="5.8" stroke-linejoin="round" stroke-linecap="round"/>
<polyline points="526.9,1820.1 530.4,1819.9 533.9,1818.4 537.4,1817.9 540.9,1818.8 544.4,1819.2 546.2,1821.2 547.9,1822.8 548.7,1823.1 550.7,1823.3 551.4,1822.5 553.2,1819.7 554.9,1817.4 558.4,1816.4 561.9,1816.7 565.4,1817 568.9,1818.7 572.4,1819 575.9,1819.1 579.4,1818.5 582.9,1817.8 586.4,1819.2 589.9,1819.9 593.4,1820.8 596.9,1820.2 600.4,1818.7 603.9,1817.1 607.4,1816.8 610.9,1817.1" fill="none" stroke="#FF0505" stroke-width="5.8" stroke-linejoin="round" stroke-linecap="round"/>
<polyline points="526.9,1849.6 530.4,1849.5 533.9,1849.8 537.4,1851.6 540.9,1852.1 544.4,1852.3 546.2,1852.6 547.9,1854.4 548.7,1856.6 550.7,1856.5 551.4,1855.2 553.2,1852.2 554.9,1850.9 558.4,1851.6 561.9,1852.5 565.4,1851.6 568.9,1850.6 572.4,1849.7 575.9,1848.7 579.4,1849.4 582.9,1849.4 586.4,1850.5 589.9,1850.9 593.4,1850.4 596.9,1850.9 600.4,1850.8 603.9,1852 607.4,1852.7 610.9,1853.4" fill="none" stroke="#2222D2" stroke-width="5.8" stroke-linejoin="round" stroke-linecap="round"/>
<polyline points="526.9,2062.6 530.4,2064.5 533.9,2064.3 537.4,2064.4 540.9,2062.8 544.4,2063 546.2,2062 547.9,2059.4 548.7,2058.2 550.7,2059.6 551.4,2059.8 553.2,2061.9 554.9,2063.8 558.4,2063.7 561.9,2062.5 565.4,2061.4 568.9,2061.4 572.4,2061.1 575.9,2062.8 579.4,2062.9 582.9,2063.3 586.4,2063.2 589.9,2062.8 593.4,2063.6 596.9,2063.5 600.4,2065.2 603.9,2064.7 607.4,2063.1 610.9,2062.4" fill="none" stroke="#2222D2" stroke-width="5.8" stroke-linejoin="round" stroke-linecap="round"/>
<polyline points="526.9,2092.7 530.4,2092.2 533.9,2093.8 537.4,2094 540.9,2095.5 544.4,2096.2 546.2,2094.1 547.9,2092.1 548.7,2090.3 550.7,2091 551.4,2090.8 553.2,2094 554.9,2094.5 558.4,2095.6 561.9,2095.2 565.4,2095.4 568.9,2094.8 572.4,2093.7 575.9,2093 579.4,2092.5 582.9,2093.7 586.4,2093.5 589.9,2095 593.4,2094.3 596.9,2094.8 600.4,2094.8 603.9,2095.3 607.4,2095.5 610.9,2096.7" fill="none" stroke="#FF0505" stroke-width="5.8" stroke-linejoin="round" stroke-linecap="round"/>
<polyline points="623.6,1817.8 627.1,1817.6 630.6,1819 634.1,1819.7 637.6,1820.7 641.1,1820.4 644.6,1819 648.1,1818.4 651.6,1817.9 655.1,1817.8 658.6,1819.1 662.1,1818.2 665.6,1817.3 669.1,1816.6 672.6,1816.4 676.1,1817.7 679.6,1818.3 683.1,1819.1 686.6,1819.5 690.1,1818.6 693.6,1818.2 697.1,1818.9 700.6,1819.8 704.1,1820.5 707.6,1819.7 711.1,1810.8 714.6,1803.6 718.1,1805.3 721.6,1807 725.1,1808.8 728.6,1810.9 732.1,1812.7 735.6,1814.4 739.1,1816.1 742.6,1818.1 746.1,1820 749.6,1822 753.1,1823.8 756.6,1823.3 760.1,1819.3 763.6,1818.5 767.1,1817.9 770.6,1817.4 774.1,1819 777.6,1817.5 781.1,1818.1 784.6,1817 788.1,1816 791.6,1817 795.1,1818 798.6,1819.2 802.1,1819.9 805.6,1819.3 809.1,1818.9 812.6,1818.5 816.1,1819" fill="none" stroke="#FF0505" stroke-width="5.8" stroke-linejoin="round" stroke-linecap="round"/>
<polyline points="623.6,1849.1 627.1,1849.7 630.6,1849.8 634.1,1851.4 637.6,1851.8 641.1,1852.9 644.6,1851.8 648.1,1850.9 651.6,1850.5 655.1,1850.9 658.6,1851.6 662.1,1850.4 665.6,1850.1 669.1,1850 672.6,1848.9 676.1,1849 679.6,1849.7 683.1,1850.7 686.6,1851.7 690.1,1851.9 693.6,1850.6 697.1,1850.6 700.6,1851.8 704.1,1851.9 707.6,1851.8 711.1,1843.4 714.6,1836.1 718.1,1837.8 721.6,1839.3 725.1,1841.2 728.6,1843 732.1,1844.9 735.6,1846.8 739.1,1848.4 742.6,1850.2 746.1,1852 749.6,1854 753.1,1856 756.6,1855.5 760.1,1852.1 763.6,1850.6 767.1,1850 770.6,1849.6 774.1,1850.3 777.6,1851.2 781.1,1850.4 784.6,1849.8 788.1,1849.6 791.6,1848.2 795.1,1850.2 798.6,1850.8 802.1,1851.6 805.6,1851.9 809.1,1851.4 812.6,1851.1 816.1,1850.8" fill="none" stroke="#2222D2" stroke-width="5.8" stroke-linejoin="round" stroke-linecap="round"/>
<polyline points="623.6,2063.1 627.1,2062.5 630.6,2062.6 634.1,2061.7 637.6,2061.6 641.1,2062.6 644.6,2063 648.1,2063.9 651.6,2064.6 655.1,2064 658.6,2063.9 662.1,2063.2 665.6,2063.2 669.1,2063.8 672.6,2063.3 676.1,2062.6 679.6,2061.8 683.1,2060.3 686.6,2061.7 690.1,2062.4 693.6,2062.6 697.1,2063.1 700.6,2063.7 704.1,2063.3 707.6,2062.3 711.1,2071 714.6,2077.7 718.1,2076.1 721.6,2074.1 725.1,2072.2 728.6,2070.2 732.1,2068.3 735.6,2066.6 739.1,2065 742.6,2063.1 746.1,2061.4 749.6,2059.4 753.1,2057.7 756.6,2058.4 760.1,2062.3 763.6,2064.8 767.1,2064.4 770.6,2064 774.1,2063.2 777.6,2062.1 781.1,2062.5 784.6,2062.5 788.1,2062.9 791.6,2062.9 795.1,2062.2 798.6,2060.4 802.1,2060.4 805.6,2062.1 809.1,2063.8 812.6,2063.7 816.1,2063.9" fill="none" stroke="#2222D2" stroke-width="5.8" stroke-linejoin="round" stroke-linecap="round"/>
<polyline points="623.6,2096.8 627.1,2095.7 630.6,2094.9 634.1,2094.4 637.6,2094 641.1,2094.4 644.6,2094.5 648.1,2094.1 651.6,2093.8 655.1,2092.3 658.6,2093.1 662.1,2094.1 665.6,2095.7 669.1,2095.4 672.6,2095.3 676.1,2095.2 679.6,2094.7 683.1,2095.5 686.6,2095 690.1,2096 693.6,2095.2 697.1,2094.2 700.6,2093.7 704.1,2092.4 707.6,2093.4 711.1,2102.3 714.6,2109.2 718.1,2107.4 721.6,2105.6 725.1,2103.8 728.6,2102.1 732.1,2100.3 735.6,2098.8 739.1,2097 742.6,2095.1 746.1,2093.1 749.6,2091.1 753.1,2089.2 756.6,2089.9 760.1,2093.7 763.6,2093.7 767.1,2093.6 770.6,2093.5 774.1,2093.1 777.6,2094.1 781.1,2094.7 784.6,2096.9 788.1,2096.8 791.6,2095.5 795.1,2095.4 798.6,2095.2 802.1,2094.3 805.6,2094.6 809.1,2094.7 812.6,2094.1 816.1,2093.5" fill="none" stroke="#FF0505" stroke-width="5.8" stroke-linejoin="round" stroke-linecap="round"/>
<polyline points="825.9,1819.7 829.4,1820.3 832.9,1819.4 836.4,1817.6 839.9,1817.3 843.4,1817.1 846.9,1817.6 850.4,1817.7 853.9,1817.9 855.5,1817.2 857.4,1815.6 858,1814.6 860,1814.1 860.9,1814.6 862.5,1816.3 864.4,1818.4 867.9,1818.8 871.4,1818.9 874.9,1820.2 878.4,1820.7 881.9,1820.1 885.4,1818.3 888.9,1818.2 892.4,1817.3 894.5,1815.4 895.9,1813.8 897,1811.2 899,1811.6 899.4,1812.7 901.5,1816.8 902.9,1817.9 906.4,1817.3 909.9,1817.3 913.4,1817.6 916.9,1817.9 920.4,1819.5 923.9,1819.4" fill="none" stroke="#FF0505" stroke-width="5.8" stroke-linejoin="round" stroke-linecap="round"/>
<polyline points="825.9,1851.2 829.4,1851.1 832.9,1852.7 836.4,1852.3 839.9,1851.1 843.4,1850.1 846.9,1849.5 850.4,1849.1 853.9,1849.6 855.5,1848.7 857.4,1847.3 858,1846.3 860,1847 860.9,1847.2 862.5,1850.2 864.4,1851.1 867.9,1849.5 871.4,1850 874.9,1851.4 878.4,1852.2 881.9,1852.7 885.4,1853.3 888.9,1851.3 892.4,1850.2 894.5,1848.9 895.9,1846.1 897,1844.3 899,1843.7 899.4,1844.7 901.5,1848 902.9,1851.2 906.4,1850.4 909.9,1849.9 913.4,1848.7 916.9,1848.4 920.4,1849.6 923.9,1850.2" fill="none" stroke="#2222D2" stroke-width="5.8" stroke-linejoin="round" stroke-linecap="round"/>
<polyline points="825.9,2061.9 829.4,2062.5 832.9,2063.2 836.4,2063.8 839.9,2063.3 843.4,2062.7 846.9,2063.3 850.4,2064 853.9,2064.5 855.5,2066.4 857.4,2068.2 858,2068.4 860,2067.7 860.9,2065.7 862.5,2064.5 864.4,2062.3 867.9,2061.3 871.4,2062 874.9,2062.5 878.4,2061.9 881.9,2061.9 885.4,2061.6 888.9,2062 892.4,2061.7 894.5,2063.7 895.9,2067.2 897,2069.2 899,2071 899.4,2070.1 901.5,2065.8 902.9,2064.7 906.4,2065 909.9,2063.2 913.4,2063 916.9,2063.3 920.4,2062.6 923.9,2063.1" fill="none" stroke="#2222D2" stroke-width="5.8" stroke-linejoin="round" stroke-linecap="round"/>
<polyline points="825.9,2095.2 829.4,2095.5 832.9,2093.5 836.4,2093 839.9,2092.1 843.4,2093.5 846.9,2094.7 850.4,2094.1 853.9,2095.2 855.5,2095.4 857.4,2097.1 858,2098.1 860,2097.3 860.9,2097.6 862.5,2094.8 864.4,2094 867.9,2095.7 871.4,2096 874.9,2096.8 878.4,2096.3 881.9,2094 885.4,2093.1 888.9,2093.7 892.4,2094.5 894.5,2096 895.9,2099.1 897,2100.9 899,2099.8 899.4,2099.1 901.5,2095.5 902.9,2093.6 906.4,2093 909.9,2093.3 913.4,2094.5 916.9,2095.4 920.4,2096.1 923.9,2095.9" fill="none" stroke="#FF0505" stroke-width="5.8" stroke-linejoin="round" stroke-linecap="round"/>
<polyline points="936.9,1816.6 940.4,1817.4 943.9,1818.3 947.4,1819.8 950.9,1820 954.4,1818.2 957.9,1818.3 961.4,1819.2 964.9,1819.9 968.4,1820.3 971.9,1820.2 975.4,1818.8 978.9,1817.3 982.4,1817 985.9,1816.6 988.5,1819 989.4,1821.1 991,1824.5 992.9,1824.8 993,1825.4 995.5,1820.2 996.4,1817.9 999.9,1818.2 1003.4,1817.3 1006.9,1818.2 1010.4,1818.7 1013.9,1819.5 1017.4,1820.8 1020.9,1819.6 1024.4,1818.5 1027.9,1817.9 1031.4,1818.2 1034.9,1817.7" fill="none" stroke="#FF0505" stroke-width="5.8" stroke-linejoin="round" stroke-linecap="round"/>
<polyline points="936.9,1852.5 940.4,1851.9 943.9,1851.4 947.4,1850.7 950.9,1851.9 954.4,1851.7 957.9,1852.1 961.4,1851 964.9,1849.8 968.4,1849 971.9,1848.5 975.4,1849.5 978.9,1850.6 982.4,1850.6 985.9,1850.1 988.5,1852.7 989.4,1854.8 991,1856.7 992.9,1858.2 993,1857.4 995.5,1853.6 996.4,1852.1 999.9,1852.8 1003.4,1853.3 1006.9,1852.2 1010.4,1851.4 1013.9,1849.9 1017.4,1849.4 1020.9,1849.6 1024.4,1849.8 1027.9,1849.9 1031.4,1850.2 1034.9,1848.6" fill="none" stroke="#2222D2" stroke-width="5.8" stroke-linejoin="round" stroke-linecap="round"/>
<polyline points="936.9,2063.4 940.4,2063.7 943.9,2064.1 947.4,2063.4 950.9,2063.3 954.4,2061.9 957.9,2061 961.4,2060.7 964.9,2060.7 968.4,2062.3 971.9,2063.6 975.4,2062.7 978.9,2063.2 982.4,2063.3 985.9,2062.6 988.5,2062 989.4,2060.7 991,2056.7 992.9,2057.5 993,2058.1 995.5,2062.9 996.4,2065.3 999.9,2063.5 1003.4,2062.4 1006.9,2061.3 1010.4,2061.7 1013.9,2061.7 1017.4,2062.1 1020.9,2062.3 1024.4,2062 1027.9,2062.1 1031.4,2062 1034.9,2062.2" fill="none" stroke="#2222D2" stroke-width="5.8" stroke-linejoin="round" stroke-linecap="round"/>
<polyline points="936.9,2095 940.4,2094.7 943.9,2094 947.4,2093.2 950.9,2092.1 954.4,2092.8 957.9,2093.6 961.4,2095 964.9,2094.5 968.4,2095 971.9,2095 975.4,2095.4 978.9,2095.4 982.4,2096.6 985.9,2096 988.5,2094.5 989.4,2092.3 991,2087.8 992.9,2088 993,2087.1 995.5,2092.1 996.4,2093 999.9,2092.7 1003.4,2093.9 1006.9,2094.4 1010.4,2094.2 1013.9,2093.3 1017.4,2093.1 1020.9,2093.9 1024.4,2094.7 1027.9,2095.5 1031.4,2097 1034.9,2096.6" fill="none" stroke="#FF0505" stroke-width="5.8" stroke-linejoin="round" stroke-linecap="round"/>
<polyline points="1047.8,1820.5 1051.3,1820.3 1054.8,1819.6 1058.3,1818 1061.8,1818.9 1065.3,1819.2 1068.8,1819.6 1072.3,1818.6 1075.8,1817.6 1079.3,1816.3 1082.8,1816.8 1086.3,1814.5 1086.5,1814.6 1089,1809 1089.8,1807.8 1091,1809 1093.3,1815.6 1093.5,1816.3 1096.8,1818.5 1100.3,1818.2 1103.8,1819 1107.3,1818.2 1110.8,1819.5 1114.3,1819.8 1117.8,1820.6" fill="none" stroke="#FF0505" stroke-width="5.8" stroke-linejoin="round" stroke-linecap="round"/>
<polyline points="1047.8,1849.5 1051.3,1850.8 1054.8,1851.4 1058.3,1851.8 1061.8,1851.7 1065.3,1851.4 1068.8,1851.4 1072.3,1851.2 1075.8,1851.1 1079.3,1851.9 1082.8,1850.8 1086.3,1847.9 1086.5,1847.1 1089,1840.2 1089.8,1839 1091,1840.6 1093.3,1845.6 1093.5,1846.6 1096.8,1848.6 1100.3,1850.4 1103.8,1851 1107.3,1851.4 1110.8,1851.1 1114.3,1850.6 1117.8,1850.3" fill="none" stroke="#2222D2" stroke-width="5.8" stroke-linejoin="round" stroke-linecap="round"/>
<polyline points="1047.8,2061.1 1051.3,2063.1 1054.8,2063.6 1058.3,2064 1061.8,2063.5 1065.3,2063.8 1068.8,2063.7 1072.3,2063.5 1075.8,2064.1 1079.3,2064.5 1082.8,2064 1086.3,2064.5 1086.5,2064.9 1089,2069.9 1089.8,2071.2 1091,2070 1093.3,2064 1093.5,2063.9 1096.8,2060.8 1100.3,2062.4 1103.8,2062.8 1107.3,2062.9 1110.8,2062.8 1114.3,2063 1117.8,2063.8" fill="none" stroke="#2222D2" stroke-width="5.8" stroke-linejoin="round" stroke-linecap="round"/>
<polyline points="1047.8,2095.3 1051.3,2095 1054.8,2094.8 1058.3,2095.4 1061.8,2094.6 1065.3,2094.1 1068.8,2094.4 1072.3,2092.8 1075.8,2093.1 1079.3,2093.3 1082.8,2094.3 1086.3,2096.8 1086.5,2097 1089,2103.2 1089.8,2105.2 1091,2103.5 1093.3,2097.8 1093.5,2098 1096.8,2095 1100.3,2094.6 1103.8,2095.8 1107.3,2096 1110.8,2096.4 1114.3,2094.9 1117.8,2094.5" fill="none" stroke="#FF0505" stroke-width="5.8" stroke-linejoin="round" stroke-linecap="round"/>
<polyline points="1128.7,1818.6 1132.2,1818.6 1135.7,1818.1 1139.2,1818 1142.7,1818.8 1146.2,1818.8 1149.7,1820.1 1153.2,1820.5 1156.7,1819.3 1159.5,1817.3 1160.2,1817.1 1162,1814.3 1163.7,1813.4 1164,1814.7 1166.5,1816.7 1167.2,1817.7 1170.7,1817.6 1174.2,1818.9 1177.7,1818.5 1181.2,1816.7 1184.7,1816.4 1188.2,1816.5 1191.7,1817.3 1195.2,1819.3 1198.7,1819.8" fill="none" stroke="#FF0505" stroke-width="5.8" stroke-linejoin="round" stroke-linecap="round"/>
<polyline points="1128.7,1850.4 1132.2,1850.7 1135.7,1850.6 1139.2,1851.9 1142.7,1852.8 1146.2,1852.1 1149.7,1851.3 1153.2,1850.9 1156.7,1850.2 1159.5,1849.1 1160.2,1848.4 1162,1846 1163.7,1846.4 1164,1846.9 1166.5,1848.9 1167.2,1850.8 1170.7,1849.6 1174.2,1848.5 1177.7,1849.3 1181.2,1849.5 1184.7,1850.5 1188.2,1851.8 1191.7,1852.2 1195.2,1851.2 1198.7,1851.1" fill="none" stroke="#2222D2" stroke-width="5.8" stroke-linejoin="round" stroke-linecap="round"/>
<polyline points="1128.7,2062.5 1132.2,2062.7 1135.7,2062.2 1139.2,2062.4 1142.7,2061.2 1146.2,2061.9 1149.7,2063.2 1153.2,2064.8 1156.7,2065.1 1159.5,2065.9 1160.2,2066.1 1162,2068.5 1163.7,2068.4 1164,2066.7 1166.5,2063.9 1167.2,2062.4 1170.7,2062.2 1174.2,2063.5 1177.7,2062.7 1181.2,2062.2 1184.7,2062 1188.2,2061.3 1191.7,2060.8 1195.2,2061.3 1198.7,2062.2" fill="none" stroke="#2222D2" stroke-width="5.8" stroke-linejoin="round" stroke-linecap="round"/>
<polyline points="1128.7,2096.5 1132.2,2096 1135.7,2095 1139.2,2094.9 1142.7,2093.5 1146.2,2094.1 1149.7,2094.3 1153.2,2094.7 1156.7,2093.7 1159.5,2094.3 1160.2,2095.6 1162,2097.6 1163.7,2097.2 1164,2097.3 1166.5,2094.9 1167.2,2094 1170.7,2094.3 1174.2,2095.5 1177.7,2096.7 1181.2,2096 1184.7,2095.8 1188.2,2095.4 1191.7,2095.2 1195.2,2095.7 1198.7,2095" fill="none" stroke="#FF0505" stroke-width="5.8" stroke-linejoin="round" stroke-linecap="round"/>
<polyline points="1210.7,1816.9 1214.2,1816.5 1217.7,1818.3 1221.2,1819.5 1224.7,1819.4 1228.2,1819.1 1231.7,1818.9 1235.2,1819.5 1238.7,1819.8 1242.2,1820.3 1245.7,1820.1 1248.5,1817.6 1249.2,1816.7 1251,1813 1252.7,1812.9 1253,1812.2 1255.5,1815.7 1256.2,1817.1 1259.7,1816.8 1263.2,1817.8 1266.7,1818.2 1270.2,1817.9 1273.7,1817.8 1277.2,1817.6 1280.7,1817.8 1284.2,1819.5 1287.7,1819.3 1291.2,1819.9 1294.7,1819.3" fill="none" stroke="#FF0505" stroke-width="5.8" stroke-linejoin="round" stroke-linecap="round"/>
<polyline points="1210.7,1851.1 1214.2,1851.8 1217.7,1850.4 1221.2,1850.8 1224.7,1851.1 1228.2,1851.9 1231.7,1852.8 1235.2,1851.7 1238.7,1850 1242.2,1849.3 1245.7,1849.1 1248.5,1847.6 1249.2,1846.7 1251,1844.6 1252.7,1845.4 1253,1845.5 1255.5,1848.8 1256.2,1849.9 1259.7,1850.4 1263.2,1849.3 1266.7,1849.9 1270.2,1850.9 1273.7,1851.7 1277.2,1853.2 1280.7,1852.4 1284.2,1851.4 1287.7,1850.7 1291.2,1849.5 1294.7,1850.3" fill="none" stroke="#2222D2" stroke-width="5.8" stroke-linejoin="round" stroke-linecap="round"/>
<polyline points="1210.7,2064.2 1214.2,2063.9 1217.7,2063 1221.2,2063.5 1224.7,2063.1 1228.2,2064.1 1231.7,2064.7 1235.2,2064.1 1238.7,2063.1 1242.2,2061.8 1245.7,2060.5 1248.5,2062.8 1249.2,2063.6 1251,2066.1 1252.7,2066.9 1253,2066.6 1255.5,2064.5 1256.2,2063.4 1259.7,2062.3 1263.2,2062.8 1266.7,2061.7 1270.2,2063.1 1273.7,2063.8 1277.2,2064.7 1280.7,2065.5 1284.2,2064.9 1287.7,2063.2 1291.2,2063.2 1294.7,2062.8" fill="none" stroke="#2222D2" stroke-width="5.8" stroke-linejoin="round" stroke-linecap="round"/>
<polyline points="1210.7,2095.4 1214.2,2094.6 1217.7,2095.8 1221.2,2096.5 1224.7,2095.4 1228.2,2095 1231.7,2093.5 1235.2,2092.8 1238.7,2092.5 1242.2,2093.2 1245.7,2093.8 1248.5,2095.8 1249.2,2097.1 1251,2098.9 1252.7,2098.8 1253,2099.4 1255.5,2095.5 1256.2,2094.2 1259.7,2094.7 1263.2,2095.7 1266.7,2095.7 1270.2,2096.4 1273.7,2096.1 1277.2,2094.4 1280.7,2093.4 1284.2,2093.8 1287.7,2094.4 1291.2,2094.3 1294.7,2093.9" fill="none" stroke="#FF0505" stroke-width="5.8" stroke-linejoin="round" stroke-linecap="round"/>
<polyline points="1304.6,1818.3 1308.1,1818.9 1311.6,1818.5 1315.1,1818.9 1318.6,1817.7 1322.1,1816.6 1325.6,1815.9 1329.1,1816.9 1332.6,1817.5 1336.1,1819 1339.6,1819.1 1343.1,1819 1346.6,1819.4 1350.1,1818.3 1353.6,1819.2 1357.1,1819.8 1360.6,1819.4 1364.1,1819.4 1367.6,1818 1371.1,1816.5 1374.6,1815.9 1378.1,1816.7 1381.6,1817.4 1385.1,1817.8" fill="none" stroke="#FF0505" stroke-width="5.8" stroke-linejoin="round" stroke-linecap="round"/>
<polyline points="1304.6,1850 1308.1,1851.4 1311.6,1852.4 1315.1,1852.5 1318.6,1851.8 1322.1,1850.4 1325.6,1851.3 1329.1,1851.6 1332.6,1851.2 1336.1,1851.7 1339.6,1850.5 1343.1,1849.7 1346.6,1849.3 1350.1,1848.8 1353.6,1850 1357.1,1850.2 1360.6,1851.7 1364.1,1851.7 1367.6,1850.1 1371.1,1850.4 1374.6,1851.6 1378.1,1852.1 1381.6,1852.2 1385.1,1852.3" fill="none" stroke="#2222D2" stroke-width="5.8" stroke-linejoin="round" stroke-linecap="round"/>
<polyline points="1304.6,2062.2 1308.1,2063 1311.6,2063.7 1315.1,2062.1 1318.6,2062.2 1322.1,2061.3 1325.6,2060.9 1329.1,2062.3 1332.6,2063.1 1336.1,2063.9 1339.6,2063.5 1343.1,2063.1 1346.6,2063.7 1350.1,2063.4 1353.6,2064.3 1357.1,2064.4 1360.6,2064.3 1364.1,2063.1 1367.6,2062.2 1371.1,2060.5 1374.6,2060.7 1378.1,2061.9 1381.6,2062.4 1385.1,2062.7" fill="none" stroke="#2222D2" stroke-width="5.8" stroke-linejoin="round" stroke-linecap="round"/>
<polyline points="1304.6,2094.2 1308.1,2095.6 1311.6,2096.7 1315.1,2096 1318.6,2095.7 1322.1,2095.1 1325.6,2094.8 1329.1,2094.6 1332.6,2095.2 1336.1,2094.8 1339.6,2093.8 1343.1,2092.6 1346.6,2092.5 1350.1,2092.5 1353.6,2094.5 1357.1,2094.9 1360.6,2094.7 1364.1,2094.7 1367.6,2094.5 1371.1,2094.2 1374.6,2095.2 1378.1,2096.5 1381.6,2096.6 1385.1,2095.4" fill="none" stroke="#FF0505" stroke-width="5.8" stroke-linejoin="round" stroke-linecap="round"/>
<polyline points="1395.4,1820.1 1398.9,1819.9 1402.4,1820.2 1405.9,1819 1409.4,1817.7 1412.9,1817.5 1416.4,1817.7 1419.9,1817.4 1423.4,1818 1426.9,1817.7 1430.4,1816.9 1433.9,1816.6 1437.4,1817.4 1440.9,1818.2 1444.4,1819.8 1447.9,1820.3 1451.4,1818.9 1454.9,1819.3 1458.4,1819 1461.9,1818.2 1465.4,1819.1 1468.9,1819.2 1472.4,1817.7 1475.9,1817.1 1479.4,1816.1 1482.5,1814.5 1482.9,1813.8 1485,1811 1486.4,1810.3 1487,1810.9 1489.5,1817.1 1489.9,1818 1493.4,1818.3 1496.9,1818.3 1500.4,1818.7 1503.9,1818.3 1507.4,1819.2 1510.9,1820 1514.4,1820.4 1517.9,1820.2" fill="none" stroke="#FF0505" stroke-width="5.8" stroke-linejoin="round" stroke-linecap="round"/>
<polyline points="1395.4,1853.1 1398.9,1851.5 1402.4,1850.8 1405.9,1850.2 1409.4,1849.4 1412.9,1850.7 1416.4,1851.1 1419.9,1850 1423.4,1849.3 1426.9,1849.3 1430.4,1848.9 1433.9,1850.3 1437.4,1852.5 1440.9,1852.1 1444.4,1851.8 1447.9,1852.1 1451.4,1850.9 1454.9,1850.9 1458.4,1851.7 1461.9,1851.4 1465.4,1850.8 1468.9,1850.6 1472.4,1849.1 1475.9,1848.6 1479.4,1848.7 1482.5,1848.3 1482.9,1848.4 1485,1844.5 1486.4,1843.9 1487,1844.8 1489.5,1850 1489.9,1849.7 1493.4,1850.4 1496.9,1851.2 1500.4,1850.9 1503.9,1852.2 1507.4,1852.2 1510.9,1852.2 1514.4,1852 1517.9,1850.4" fill="none" stroke="#2222D2" stroke-width="5.8" stroke-linejoin="round" stroke-linecap="round"/>
<polyline points="1395.4,2063.8 1398.9,2062.7 1402.4,2061.3 1405.9,2061.6 1409.4,2062.1 1412.9,2062 1416.4,2061.9 1419.9,2062.3 1423.4,2060.9 1426.9,2061.3 1430.4,2062.6 1433.9,2064.1 1437.4,2064.4 1440.9,2064.5 1444.4,2064.2 1447.9,2063.2 1451.4,2063.2 1454.9,2063.9 1458.4,2064 1461.9,2064 1465.4,2063 1468.9,2061.5 1472.4,2061.2 1475.9,2061.1 1479.4,2062.6 1482.5,2065 1482.9,2065.2 1485,2069.3 1486.4,2070.2 1487,2069.2 1489.5,2064.8 1489.9,2063.7 1493.4,2062.5 1496.9,2062.4 1500.4,2063.3 1503.9,2064.4 1507.4,2065.3 1510.9,2064.3 1514.4,2062.2 1517.9,2062" fill="none" stroke="#2222D2" stroke-width="5.8" stroke-linejoin="round" stroke-linecap="round"/>
<polyline points="1395.4,2093 1398.9,2094.1 1402.4,2093.6 1405.9,2093.7 1409.4,2093.6 1412.9,2093.7 1416.4,2093.7 1419.9,2094 1423.4,2095.6 1426.9,2096.4 1430.4,2097.1 1433.9,2095.5 1437.4,2094.2 1440.9,2094.9 1444.4,2094.9 1447.9,2094.4 1451.4,2095 1454.9,2094.2 1458.4,2093 1461.9,2092.2 1465.4,2092.8 1468.9,2093 1472.4,2094.5 1475.9,2096 1479.4,2094.9 1482.5,2097.2 1482.9,2097.2 1485,2100.7 1486.4,2101.5 1487,2100.7 1489.5,2096.8 1489.9,2096.4 1493.4,2096.5 1496.9,2096.6 1500.4,2095.2 1503.9,2095 1507.4,2093.7 1510.9,2093.2 1514.4,2093.1 1517.9,2093.7" fill="none" stroke="#FF0505" stroke-width="5.8" stroke-linejoin="round" stroke-linecap="round"/>
<polyline points="1530,1817.8 1533.5,1817.5 1537,1817.8 1540.5,1817.8 1544,1818.2 1547.5,1818.2 1551,1819.3 1554.5,1820.5 1558,1819.7 1561.5,1819.8 1565,1818.4 1568.5,1818.2 1572,1817.9 1575.5,1818.5 1579,1818.7 1582.5,1817.3 1586,1817 1589.5,1816.9 1593,1816.7 1596.5,1817.8 1600,1819 1603.5,1819.6 1607,1818.4 1610.5,1818.5 1614,1819 1617.5,1819.1 1621,1820.1" fill="none" stroke="#FF0505" stroke-width="5.8" stroke-linejoin="round" stroke-linecap="round"/>
<polyline points="1530,1852.3 1533.5,1852.5 1537,1853.2 1540.5,1852 1544,1851.3 1547.5,1850 1551,1850.7 1554.5,1850.5 1558,1850 1561.5,1849.7 1565,1849.5 1568.5,1849 1572,1848.5 1575.5,1850.4 1579,1851 1582.5,1852.1 1586,1852.8 1589.5,1852.1 1593,1851.5 1596.5,1850.7 1600,1850.9 1603.5,1851.8 1607,1851.1 1610.5,1849.9 1614,1849.1 1617.5,1849.1 1621,1848.9" fill="none" stroke="#2222D2" stroke-width="5.8" stroke-linejoin="round" stroke-linecap="round"/>
<polyline points="1530,2061.1 1533.5,2061.7 1537,2063 1540.5,2061.6 1544,2061.3 1547.5,2061.7 1551,2062.4 1554.5,2063.3 1558,2063.8 1561.5,2064.9 1565,2064.1 1568.5,2063.3 1572,2063 1575.5,2062.3 1579,2062.9 1582.5,2063.1 1586,2062.2 1589.5,2061.4 1593,2061.4 1596.5,2060.8 1600,2062.2 1603.5,2062.4 1607,2063.8 1610.5,2063.6 1614,2064 1617.5,2063.3 1621,2063.7" fill="none" stroke="#2222D2" stroke-width="5.8" stroke-linejoin="round" stroke-linecap="round"/>
<polyline points="1530,2093.2 1533.5,2094.9 1537,2095.2 1540.5,2096.9 1544,2097 1547.5,2095.7 1551,2095.6 1554.5,2094.7 1558,2094.1 1561.5,2095 1565,2095.1 1568.5,2093.6 1572,2093.7 1575.5,2092.9 1579,2093.1 1582.5,2094.1 1586,2094.8 1589.5,2096.2 1593,2096.5 1596.5,2094.9 1600,2094.2 1603.5,2094.4 1607,2096.1 1610.5,2095.8 1614,2096.2 1617.5,2095.1 1621,2092.7" fill="none" stroke="#FF0505" stroke-width="5.8" stroke-linejoin="round" stroke-linecap="round"/>
<polyline points="1637.3,1810.5 1640.8,1812.2 1644.3,1820 1647.8,1819.8 1651.3,1817.9 1654.8,1818.1 1658.3,1816.7 1661.8,1817.2 1665.3,1817.7 1668.8,1818.5 1672.3,1817.7 1675.8,1816.9 1679.3,1816.9 1682.8,1818.1 1686.3,1819 1689.8,1820.5 1693.3,1820.1 1696.8,1819.1 1700.3,1818.4 1703.8,1818.6 1707.3,1818.5 1710.8,1819.5" fill="none" stroke="#FF0505" stroke-width="5.8" stroke-linejoin="round" stroke-linecap="round"/>
<polyline points="1637.3,1843.3 1640.8,1843.7 1644.3,1853.2 1647.8,1851.7 1651.3,1850.1 1654.8,1850.2 1658.3,1849.6 1661.8,1849.6 1665.3,1850.2 1668.8,1850.4 1672.3,1849.2 1675.8,1849.6 1679.3,1849.5 1682.8,1850.1 1686.3,1852 1689.8,1852 1693.3,1852.7 1696.8,1851.1 1700.3,1851 1703.8,1850.1 1707.3,1850.5 1710.8,1850.9" fill="none" stroke="#2222D2" stroke-width="5.8" stroke-linejoin="round" stroke-linecap="round"/>
<polyline points="1637.3,2071.3 1640.8,2070.8 1644.3,2062.2 1647.8,2063 1651.3,2063.3 1654.8,2064.4 1658.3,2065 1661.8,2065.1 1665.3,2064.5 1668.8,2062.3 1672.3,2062.4 1675.8,2062.6 1679.3,2062.9 1682.8,2062.6 1686.3,2062.3 1689.8,2061.4 1693.3,2061.2 1696.8,2061.1 1700.3,2062.6 1703.8,2064 1707.3,2065.1 1710.8,2063.8" fill="none" stroke="#2222D2" stroke-width="5.8" stroke-linejoin="round" stroke-linecap="round"/>
<polyline points="1637.3,2103.2 1640.8,2102.9 1644.3,2096.1 1647.8,2095.8 1651.3,2096.8 1654.8,2095.7 1658.3,2094.3 1661.8,2093.7 1665.3,2093.2 1668.8,2094.4 1672.3,2094 1675.8,2093.9 1679.3,2093 1682.8,2092.5 1686.3,2092.8 1689.8,2093.9 1693.3,2096 1696.8,2096.8 1700.3,2095.6 1703.8,2095 1707.3,2094.1 1710.8,2095.1" fill="none" stroke="#FF0505" stroke-width="5.8" stroke-linejoin="round" stroke-linecap="round"/>
<polyline points="1730.6,1804.4 1734.1,1805.5 1737.6,1818.7 1741.1,1819.2 1744.6,1819.2 1748.1,1818.3 1751.6,1817.4 1755.1,1817 1758.6,1816.1 1762.1,1817.9 1765.6,1818 1769.1,1817.9 1772.6,1817.6 1776.1,1817.5 1779.6,1818 1783.1,1819 1786.6,1819.7 1790.1,1820.5 1793.6,1819.7 1797.1,1818.6 1800.6,1817.1 1804.1,1817 1807.6,1817.4 1811.1,1818.4 1814.6,1817.9 1818.1,1817.4 1821.6,1816.3 1825.1,1817.1 1828.6,1817.6 1832.1,1818.9 1835.6,1819.6 1839.1,1819.4 1842.6,1818.9 1846.1,1819.3 1849.6,1818.7 1853.1,1818.9 1856.6,1819 1860.1,1818.8 1863.6,1817.5" fill="none" stroke="#FF0505" stroke-width="5.8" stroke-linejoin="round" stroke-linecap="round"/>
<polyline points="1730.6,1837.4 1734.1,1836.7 1737.6,1851 1741.1,1851.6 1744.6,1851.9 1748.1,1850.5 1751.6,1850 1755.1,1849 1758.6,1848.5 1762.1,1850.2 1765.6,1849.9 1769.1,1851 1772.6,1849.9 1776.1,1850.4 1779.6,1851 1783.1,1851 1786.6,1852.9 1790.1,1853.1 1793.6,1852.1 1797.1,1851.8 1800.6,1850.1 1804.1,1849.3 1807.6,1849.9 1811.1,1850.6 1814.6,1850.9 1818.1,1849.3 1821.6,1849.7 1825.1,1848.9 1828.6,1850.2 1832.1,1850.7 1835.6,1851.6 1839.1,1852.3 1842.6,1852.5 1846.1,1850.9 1849.6,1850.8 1853.1,1850.6 1856.6,1851.1 1860.1,1851.7 1863.6,1850.5" fill="none" stroke="#2222D2" stroke-width="5.8" stroke-linejoin="round" stroke-linecap="round"/>
<polyline points="1730.6,2075.6 1734.1,2077.2 1737.6,2063.9 1741.1,2064.1 1744.6,2063.2 1748.1,2062.5 1751.6,2063.6 1755.1,2064.5 1758.6,2064.1 1762.1,2064.5 1765.6,2062.8 1769.1,2061.8 1772.6,2061.3 1776.1,2062.2 1779.6,2061.9 1783.1,2063 1786.6,2063 1790.1,2062 1793.6,2061.7 1797.1,2062.9 1800.6,2063.8 1804.1,2065.1 1807.6,2065.3 1811.1,2064.1 1814.6,2063.6 1818.1,2062.5 1821.6,2063.2 1825.1,2063.2 1828.6,2062.8 1832.1,2062.2 1835.6,2061.3 1839.1,2061.6 1842.6,2061 1846.1,2061.8 1849.6,2063.3 1853.1,2064.1 1856.6,2064.4 1860.1,2062.9 1863.6,2063.8" fill="none" stroke="#2222D2" stroke-width="5.8" stroke-linejoin="round" stroke-linecap="round"/>
<polyline points="1730.6,2107.4 1734.1,2108.5 1737.6,2095.5 1741.1,2094.7 1744.6,2095.3 1748.1,2094.2 1751.6,2094.7 1755.1,2096.5 1758.6,2095.7 1762.1,2095.1 1765.6,2094.4 1769.1,2093.4 1772.6,2093.4 1776.1,2092.7 1779.6,2093.5 1783.1,2095 1786.6,2094.3 1790.1,2093.4 1793.6,2093.5 1797.1,2093.9 1800.6,2095.5 1804.1,2095.8 1807.6,2096.4 1811.1,2096.4 1814.6,2094.4 1818.1,2093.9 1821.6,2094 1825.1,2094.6 1828.6,2094.2 1832.1,2094.4 1835.6,2093.6 1839.1,2092.1 1842.6,2093.4 1846.1,2094.3 1849.6,2095.6 1853.1,2095.2 1856.6,2095.5 1860.1,2095.5 1863.6,2094.9" fill="none" stroke="#FF0505" stroke-width="5.8" stroke-linejoin="round" stroke-linecap="round"/>
<polyline points="1874.1,1818.1 1877.6,1818.3 1881.1,1819.8 1884.6,1819.7 1888.1,1819.5 1891.6,1819 1895.1,1817.7 1898.6,1816.8 1902.1,1816.5 1905.6,1817.7 1909.1,1818.1 1912.6,1817.9 1916.1,1817.6 1919.6,1817.5 1923.1,1817.9 1926.6,1818.3 1930.1,1819.6 1933.6,1820.1 1937.1,1820.8 1940.6,1819.8 1944.1,1818.6 1947.6,1817.7 1951.1,1817.9 1954.6,1817.7 1958.1,1818.6" fill="none" stroke="#FF0505" stroke-width="5.8" stroke-linejoin="round" stroke-linecap="round"/>
<polyline points="1874.1,1848.1 1877.6,1849.1 1881.1,1850.2 1884.6,1850 1888.1,1850.8 1891.6,1850.6 1895.1,1850.2 1898.6,1849.9 1902.1,1851.8 1905.6,1852.5 1909.1,1852.1 1912.6,1851.8 1916.1,1851.1 1919.6,1849.7 1923.1,1849.4 1926.6,1849.9 1930.1,1850.1 1933.6,1849.7 1937.1,1850.2 1940.6,1849.5 1944.1,1849.7 1947.6,1849.9 1951.1,1851.1 1954.6,1852.8 1958.1,1852.4" fill="none" stroke="#2222D2" stroke-width="5.8" stroke-linejoin="round" stroke-linecap="round"/>
<polyline points="1874.1,2061.7 1877.6,2062.7 1881.1,2063 1884.6,2063.8 1888.1,2062.3 1891.6,2063.3 1895.1,2063.8 1898.6,2064.3 1902.1,2065.2 1905.6,2064.1 1909.1,2063.2 1912.6,2061.4 1916.1,2061.3 1919.6,2062.4 1923.1,2062.4 1926.6,2061.9 1930.1,2062.5 1933.6,2061.4 1937.1,2062.4 1940.6,2062.2 1944.1,2064.3 1947.6,2064.1 1951.1,2064.9 1954.6,2063.8 1958.1,2063.1" fill="none" stroke="#2222D2" stroke-width="5.8" stroke-linejoin="round" stroke-linecap="round"/>
<polyline points="1874.1,2095 1877.6,2096.5 1881.1,2095.5 1884.6,2095 1888.1,2093.8 1891.6,2093.6 1895.1,2093.2 1898.6,2093.9 1902.1,2094 1905.6,2094.6 1909.1,2094.3 1912.6,2094.3 1916.1,2093.9 1919.6,2094.5 1923.1,2095.1 1926.6,2096.9 1930.1,2097 1933.6,2095.8 1937.1,2094.9 1940.6,2093.8 1944.1,2093.7 1947.6,2094.1 1951.1,2094.2 1954.6,2093.7 1958.1,2093" fill="none" stroke="#FF0505" stroke-width="5.8" stroke-linejoin="round" stroke-linecap="round"/>
<polyline points="1968.1,1818.3 1971.6,1818.8 1975.1,1817.3 1978.6,1816.8 1982.1,1817 1985.6,1816.3 1989.1,1817.6 1992.6,1818.9 1996.1,1819.4 1999.5,1820.7 1999.6,1820.4 2002,1825.5 2003.1,1826.3 2004,1825.2 2006.5,1819.9 2006.6,1820.6 2010.1,1818.9 2013.6,1820.2 2017.1,1820.3 2020.6,1818.7 2024.1,1818.4 2027.6,1817.3 2031.1,1816.5 2034.6,1817.2 2038.1,1818.2 2041.6,1817.7 2045.1,1818.4 2048.6,1817.3 2052.1,1818.1 2055.6,1817.8 2059.1,1819.6" fill="none" stroke="#FF0505" stroke-width="5.8" stroke-linejoin="round" stroke-linecap="round"/>
<polyline points="1968.1,1850.6 1971.6,1850.3 1975.1,1851.4 1978.6,1851.6 1982.1,1851.4 1985.6,1850.7 1989.1,1849.7 1992.6,1848 1996.1,1849.4 1999.5,1852.2 1999.6,1852.5 2002,1856.2 2003.1,1858.4 2004,1857.2 2006.5,1853.2 2006.6,1852.5 2010.1,1851.5 2013.6,1850.9 2017.1,1850.9 2020.6,1851.3 2024.1,1851.8 2027.6,1853.1 2031.1,1852.2 2034.6,1851.4 2038.1,1849.1 2041.6,1849.4 2045.1,1850.1 2048.6,1850 2052.1,1851.1 2055.6,1850.2 2059.1,1849.5" fill="none" stroke="#2222D2" stroke-width="5.8" stroke-linejoin="round" stroke-linecap="round"/>
<polyline points="1968.1,2063.6 1971.6,2062.9 1975.1,2062.7 1978.6,2062.8 1982.1,2062.3 1985.6,2061.4 1989.1,2060.5 1992.6,2060.7 1996.1,2061 1999.5,2061.3 1999.6,2061.4 2002,2056.5 2003.1,2055.3 2004,2057.4 2006.5,2061.5 2006.6,2061.6 2010.1,2063.2 2013.6,2063.4 2017.1,2062.7 2020.6,2063.4 2024.1,2064.8 2027.6,2064.4 2031.1,2063.3 2034.6,2062.5 2038.1,2061.8 2041.6,2061.8 2045.1,2062 2048.6,2062.8 2052.1,2062.6 2055.6,2061.8 2059.1,2061.6" fill="none" stroke="#2222D2" stroke-width="5.8" stroke-linejoin="round" stroke-linecap="round"/>
<polyline points="1968.1,2094.6 1971.6,2094.1 1975.1,2093.8 1978.6,2092.6 1982.1,2092.9 1985.6,2093.5 1989.1,2094 1992.6,2094.5 1996.1,2096.1 1999.5,2093.5 1999.6,2093.6 2002,2088.8 2003.1,2086.6 2004,2089.2 2006.5,2092.9 2006.6,2093.4 2010.1,2095.9 2013.6,2096.3 2017.1,2095.8 2020.6,2095.2 2024.1,2094.2 2027.6,2092.5 2031.1,2092.4 2034.6,2093.2 2038.1,2093.5 2041.6,2095 2045.1,2094.2 2048.6,2093.4 2052.1,2093.8 2055.6,2094.1 2059.1,2095.6" fill="none" stroke="#FF0505" stroke-width="5.8" stroke-linejoin="round" stroke-linecap="round"/>
<polyline points="2070.1,1819.1 2073.6,1817.7 2077.1,1817.2 2080.6,1817.9 2084.1,1818.1 2087.6,1818.2 2091.1,1816.5 2094.6,1816.5 2098.1,1817.1 2101.6,1817 2105.1,1818.5 2108.6,1819.4 2112.1,1820.3 2115.6,1819.2 2119.1,1819.1 2122.6,1819.2 2126.1,1819.8 2129.6,1820.1 2133.1,1819 2136.5,1816.4 2136.6,1816.4 2139,1810.4 2140.1,1809.4 2141,1810.8 2143.5,1814.9 2143.6,1815.3 2147.1,1817 2150.6,1817.2 2154.1,1818.5 2157.6,1818.4" fill="none" stroke="#FF0505" stroke-width="5.8" stroke-linejoin="round" stroke-linecap="round"/>
<polyline points="2070.1,1852.9 2073.6,1852.6 2077.1,1851.5 2080.6,1850 2084.1,1850.3 2087.6,1851 2091.1,1851.3 2094.6,1850.2 2098.1,1849.6 2101.6,1849.5 2105.1,1848.9 2108.6,1849 2112.1,1850.8 2115.6,1851 2119.1,1852.1 2122.6,1851.6 2126.1,1851.1 2129.6,1850.6 2133.1,1851.9 2136.5,1850.1 2136.6,1849.5 2139,1845.2 2140.1,1843.9 2141,1845.3 2143.5,1849.9 2143.6,1849 2147.1,1850 2150.6,1848.3 2154.1,1849 2157.6,1849.5" fill="none" stroke="#2222D2" stroke-width="5.8" stroke-linejoin="round" stroke-linecap="round"/>
<polyline points="2070.1,2061.6 2073.6,2060.9 2077.1,2062 2080.6,2062.6 2084.1,2063.7 2087.6,2064.3 2091.1,2064.2 2094.6,2063.5 2098.1,2063.4 2101.6,2062.5 2105.1,2063.6 2108.6,2064.1 2112.1,2062.7 2115.6,2062.2 2119.1,2061.8 2122.6,2061.1 2126.1,2060.8 2129.6,2062.8 2133.1,2063.1 2136.5,2066.1 2136.6,2065.6 2139,2070.2 2140.1,2070.6 2141,2069.9 2143.5,2064.3 2143.6,2065.2 2147.1,2063.2 2150.6,2064 2154.1,2063.9 2157.6,2064.7" fill="none" stroke="#2222D2" stroke-width="5.8" stroke-linejoin="round" stroke-linecap="round"/>
<polyline points="2070.1,2093.8 2073.6,2093.7 2077.1,2093.3 2080.6,2093.9 2084.1,2094.9 2087.6,2096 2091.1,2096.6 2094.6,2095.7 2098.1,2094.5 2101.6,2094.1 2105.1,2095.4 2108.6,2095.5 2112.1,2094.4 2115.6,2094.5 2119.1,2092.3 2122.6,2092.1 2126.1,2093.3 2129.6,2093.5 2133.1,2095 2136.5,2097.6 2136.6,2097.9 2139,2101.5 2140.1,2102.6 2141,2101.2 2143.5,2096.7 2143.6,2095.6 2147.1,2095.2 2150.6,2095.4 2154.1,2095.8 2157.6,2096.2" fill="none" stroke="#FF0505" stroke-width="5.8" stroke-linejoin="round" stroke-linecap="round"/>
<polyline points="2167.6,1816.1 2171.1,1817.8 2174.6,1817.7 2178.1,1818.2 2181.6,1817.6 2185.1,1817.6 2188.6,1817.9 2192.1,1818.1 2195.6,1820.4 2199.1,1820.7 2202.6,1820.4 2206.1,1819.1 2209.6,1817.8 2213.1,1817.7 2216.6,1817.8 2220.1,1818.8 2223.6,1817.6 2227.1,1817.9 2230.6,1816.3 2234.1,1816.7 2237.6,1816.6 2241.1,1818.8 2244.6,1818.8 2248.1,1819.5 2251.6,1818.9 2255.1,1818.5 2258.6,1819.1 2262.1,1819.6" fill="none" stroke="#FF0505" stroke-width="5.8" stroke-linejoin="round" stroke-linecap="round"/>
<polyline points="2167.6,1851 2171.1,1850.3 2174.6,1850 2178.1,1850.8 2181.6,1851.7 2185.1,1852.3 2188.6,1852.2 2192.1,1851.9 2195.6,1850 2199.1,1849.8 2202.6,1850.5 2206.1,1850.1 2209.6,1850.7 2213.1,1849.4 2216.6,1849.2 2220.1,1849.2 2223.6,1849 2227.1,1851.1 2230.6,1852.5 2234.1,1853 2237.6,1851.9 2241.1,1850.8 2244.6,1850.7 2248.1,1851.3 2251.6,1852.2 2255.1,1851.7 2258.6,1850.5 2262.1,1849.4" fill="none" stroke="#2222D2" stroke-width="5.8" stroke-linejoin="round" stroke-linecap="round"/>
<polyline points="2167.6,2064.5 2171.1,2063.9 2174.6,2062.8 2178.1,2062.1 2181.6,2061.9 2185.1,2062.3 2188.6,2062.6 2192.1,2062.2 2195.6,2061.9 2199.1,2061.4 2202.6,2061.7 2206.1,2062.5 2209.6,2064.1 2213.1,2064.3 2216.6,2065 2220.1,2064.2 2223.6,2062.7 2227.1,2062.5 2230.6,2063.5 2234.1,2063.7 2237.6,2063.4 2241.1,2062.7 2244.6,2061.1 2248.1,2061.2 2251.6,2060.6 2255.1,2062.4 2258.6,2062.8 2262.1,2063.5" fill="none" stroke="#2222D2" stroke-width="5.8" stroke-linejoin="round" stroke-linecap="round"/>
<polyline points="2167.6,2094.5 2171.1,2093.5 2174.6,2094 2178.1,2094.7 2181.6,2095.6 2185.1,2096.9 2188.6,2096.1 2192.1,2095.7 2195.6,2094.9 2199.1,2093.2 2202.6,2094.5 2206.1,2094.7 2209.6,2093.9 2213.1,2093.9 2216.6,2093.5 2220.1,2093.3 2223.6,2092.4 2227.1,2094.1 2230.6,2095.7 2234.1,2096 2237.6,2096.6 2241.1,2095.8 2244.6,2095.1 2248.1,2094.6 2251.6,2094.7 2255.1,2095.8 2258.6,2095.2 2262.1,2094.5" fill="none" stroke="#FF0505" stroke-width="5.8" stroke-linejoin="round" stroke-linecap="round"/>
<polyline points="2273.1,1819.9 2276.6,1820.1 2280.1,1818.4 2283.6,1817.3 2287.1,1816 2290.6,1816.8 2294.1,1817.8 2297.6,1818.4 2301.1,1818.3 2304.6,1818.1 2308.1,1817.9 2311.6,1818.6 2315.1,1819.1 2318.6,1820.1 2322.1,1820.7 2325.6,1820 2329.1,1818.1 2332.6,1818.5 2336.1,1817.7 2337.5,1815.6 2339.6,1812.6 2340,1812 2342,1813.4 2343.1,1814.4 2344.5,1816.3 2346.6,1818.4 2350.1,1817 2353.6,1816.2 2357.1,1816.7" fill="none" stroke="#FF0505" stroke-width="5.8" stroke-linejoin="round" stroke-linecap="round"/>
<polyline points="2273.1,1849.6 2276.6,1849.4 2280.1,1848.4 2283.6,1849.5 2287.1,1851.3 2290.6,1850.8 2294.1,1850.5 2297.6,1850.4 2301.1,1850.6 2304.6,1851.7 2308.1,1852.3 2311.6,1853.4 2315.1,1852.3 2318.6,1850.9 2322.1,1850.3 2325.6,1849.1 2329.1,1850.2 2332.6,1850.4 2336.1,1850 2337.5,1849 2339.6,1844.2 2340,1844.8 2342,1843.3 2343.1,1844.8 2344.5,1847.8 2346.6,1848.9 2350.1,1850.6 2353.6,1851.2 2357.1,1852.3" fill="none" stroke="#2222D2" stroke-width="5.8" stroke-linejoin="round" stroke-linecap="round"/>
<polyline points="2273.1,2064 2276.6,2063 2280.1,2062 2283.6,2061.4 2287.1,2061.2 2290.6,2062.3 2294.1,2063 2297.6,2062.3 2301.1,2062.9 2304.6,2062.8 2308.1,2062.3 2311.6,2063.7 2315.1,2064.9 2318.6,2064.4 2322.1,2064.4 2325.6,2063.8 2329.1,2062.4 2332.6,2062.5 2336.1,2062.6 2337.5,2064.3 2339.6,2068.3 2340,2068.6 2342,2068.6 2343.1,2065.7 2344.5,2064.3 2346.6,2061.6 2350.1,2060.8 2353.6,2060.7 2357.1,2061.8" fill="none" stroke="#2222D2" stroke-width="5.8" stroke-linejoin="round" stroke-linecap="round"/>
<polyline points="2273.1,2096.4 2276.6,2095.6 2280.1,2095.9 2283.6,2094 2287.1,2092.6 2290.6,2092.6 2294.1,2093.7 2297.6,2094.4 2301.1,2095.1 2304.6,2094.5 2308.1,2093.5 2311.6,2094.4 2315.1,2094.4 2318.6,2095 2322.1,2096.9 2325.6,2097.1 2329.1,2095.7 2332.6,2094.5 2336.1,2093.6 2337.5,2095.4 2339.6,2099.5 2340,2098.9 2342,2099.2 2343.1,2098.6 2344.5,2096 2346.6,2094.8 2350.1,2093.5 2353.6,2093.5 2357.1,2093.1" fill="none" stroke="#FF0505" stroke-width="5.8" stroke-linejoin="round" stroke-linecap="round"/>
<polyline points="2370.2,1817.6 2373.7,1816.4 2377.2,1816.5 2380.7,1817.6 2384.2,1818.3 2387.7,1818.6 2391.2,1819.3 2394.7,1819.4 2398.2,1819.1 2401.7,1818.9 2405.2,1820.1 2408.7,1820.4 2412.2,1820.3 2415.7,1818.7 2419.2,1817 2422.7,1817.3 2426.2,1816.2 2429.7,1817.2 2433.2,1818.6 2436.7,1818.3 2440.2,1818.4 2443.7,1817.4 2447.2,1818.2 2450.7,1818.4 2454.2,1820" fill="none" stroke="#FF0505" stroke-width="5.8" stroke-linejoin="round" stroke-linecap="round"/>
<polyline points="2370.2,1848.9 2373.7,1848.4 2377.2,1849.3 2380.7,1851.6 2384.2,1851.2 2387.7,1851.4 2391.2,1851.2 2394.7,1850.4 2398.2,1851.3 2401.7,1851.7 2405.2,1852.5 2408.7,1851.2 2412.2,1850.7 2415.7,1850.1 2419.2,1848.6 2422.7,1848.6 2426.2,1849.9 2429.7,1850.7 2433.2,1851.2 2436.7,1850.7 2440.2,1850.1 2443.7,1850.8 2447.2,1851.2 2450.7,1853.2 2454.2,1852.6" fill="none" stroke="#2222D2" stroke-width="5.8" stroke-linejoin="round" stroke-linecap="round"/>
<polyline points="2370.2,2064.2 2373.7,2063.3 2377.2,2063.1 2380.7,2063.2 2384.2,2063.8 2387.7,2063.4 2391.2,2061.6 2394.7,2061.6 2398.2,2060.5 2401.7,2061.5 2405.2,2062.3 2408.7,2063.5 2412.2,2063.2 2415.7,2062.2 2419.2,2063.1 2422.7,2062.6 2426.2,2063.5 2429.7,2064.5 2433.2,2064.2 2436.7,2063.4 2440.2,2062.6 2443.7,2061.6 2447.2,2062 2450.7,2062.3 2454.2,2061.9" fill="none" stroke="#2222D2" stroke-width="5.8" stroke-linejoin="round" stroke-linecap="round"/>
<polyline points="2370.2,2094.8 2373.7,2095.3 2377.2,2094.2 2380.7,2093.7 2384.2,2093.1 2387.7,2092.1 2391.2,2092.5 2394.7,2094.4 2398.2,2094.8 2401.7,2094.8 2405.2,2094.7 2408.7,2094.1 2412.2,2094.6 2415.7,2096 2419.2,2096.4 2422.7,2096 2426.2,2096 2429.7,2094.4 2433.2,2092.6 2436.7,2093.7 2440.2,2093.2 2443.7,2093.8 2447.2,2093.9 2450.7,2094.2 2454.2,2092.9" fill="none" stroke="#FF0505" stroke-width="5.8" stroke-linejoin="round" stroke-linecap="round"/>
</g>
<rect x="279" y="1627" width="2182" height="660" fill="none" stroke="#333" stroke-width="2"/>
<line x1="262.7" x2="279" y1="2286.9" y2="2286.9" stroke="#333" stroke-width="2"/>
<text x="232.1" y="2309.4" font-size="60" text-anchor="end">−1.0</text>
<line x1="262.7" x2="279" y1="2121.9" y2="2121.9" stroke="#333" stroke-width="2"/>
<text x="232.1" y="2144.4" font-size="60" text-anchor="end">−0.5</text>
<line x1="262.7" x2="279" y1="1957" y2="1957" stroke="#333" stroke-width="2"/>
<text x="232.1" y="1979.5" font-size="60" text-anchor="end">0.0</text>
<line x1="262.7" x2="279" y1="1792" y2="1792" stroke="#333" stroke-width="2"/>
<text x="232.1" y="1814.5" font-size="60" text-anchor="end">0.5</text>
<line x1="262.7" x2="279" y1="1627" y2="1627" stroke="#333" stroke-width="2"/>
<text x="232.1" y="1652" font-size="60" text-anchor="end">1.0</text>
<line x1="349.6" x2="349.6" y1="2287" y2="2303" stroke="#333" stroke-width="2"/>
<line x1="469.6" x2="469.6" y1="2287" y2="2303" stroke="#333" stroke-width="2"/>
<line x1="570" x2="570" y1="2287" y2="2303" stroke="#333" stroke-width="2"/>
<line x1="720" x2="720" y1="2287" y2="2303" stroke="#333" stroke-width="2"/>
<line x1="876" x2="876" y1="2287" y2="2303" stroke="#333" stroke-width="2"/>
<line x1="988" x2="988" y1="2287" y2="2303" stroke="#333" stroke-width="2"/>
<line x1="1082.7" x2="1082.7" y1="2287" y2="2303" stroke="#333" stroke-width="2"/>
<line x1="1165" x2="1165" y1="2287" y2="2303" stroke="#333" stroke-width="2"/>
<line x1="1253" x2="1253" y1="2287" y2="2303" stroke="#333" stroke-width="2"/>
<line x1="1345.7" x2="1345.7" y1="2287" y2="2303" stroke="#333" stroke-width="2"/>
<line x1="1457.4" x2="1457.4" y1="2287" y2="2303" stroke="#333" stroke-width="2"/>
<line x1="1577" x2="1577" y1="2287" y2="2303" stroke="#333" stroke-width="2"/>
<line x1="1672.6" x2="1672.6" y1="2287" y2="2303" stroke="#333" stroke-width="2"/>
<line x1="1793.7" x2="1793.7" y1="2287" y2="2303" stroke="#333" stroke-width="2"/>
<line x1="1917.4" x2="1917.4" y1="2287" y2="2303" stroke="#333" stroke-width="2"/>
<line x1="2015" x2="2015" y1="2287" y2="2303" stroke="#333" stroke-width="2"/>
<line x1="2114.8" x2="2114.8" y1="2287" y2="2303" stroke="#333" stroke-width="2"/>
<line x1="2216.2" x2="2216.2" y1="2287" y2="2303" stroke="#333" stroke-width="2"/>
<line x1="2317.6" x2="2317.6" y1="2287" y2="2303" stroke="#333" stroke-width="2"/>
<line x1="2413.6" x2="2413.6" y1="2287" y2="2303" stroke="#333" stroke-width="2"/>
<text x="299.3" y="1612" font-size="60.5" font-weight="bold">Wt-Bu bulk</text>
<text transform="translate(72 1960.5) rotate(-90)" font-size="71" text-anchor="middle">Δ(SNP-index)</text>
</g>
<text transform="translate(390.5 2338.5) rotate(-35)" font-size="49" font-weight="bold" letter-spacing="1.8" text-anchor="end">Chr01</text>
<text transform="translate(496 2338.5) rotate(-35)" font-size="49" font-weight="bold" letter-spacing="1.8" text-anchor="end">Chr02</text>
<text transform="translate(601.9 2338.5) rotate(-35)" font-size="49" font-weight="bold" letter-spacing="1.8" text-anchor="end">Chr03</text>
<text transform="translate(749.9 2338.5) rotate(-35)" font-size="49" font-weight="bold" letter-spacing="1.8" text-anchor="end">Chr04</text>
<text transform="translate(908.4 2338.5) rotate(-35)" font-size="49" font-weight="bold" letter-spacing="1.8" text-anchor="end">Chr05</text>
<text transform="translate(1014.7 2338.5) rotate(-35)" font-size="49" font-weight="bold" letter-spacing="1.8" text-anchor="end">Chr06</text>
<text transform="translate(1113.9 2338.5) rotate(-35)" font-size="49" font-weight="bold" letter-spacing="1.8" text-anchor="end">Chr07</text>
<text transform="translate(1193.2 2338.5) rotate(-35)" font-size="49" font-weight="bold" letter-spacing="1.8" text-anchor="end">Chr08</text>
<text transform="translate(1279.8 2338.5) rotate(-35)" font-size="49" font-weight="bold" letter-spacing="1.8" text-anchor="end">Chr09</text>
<text transform="translate(1379.6 2338.5) rotate(-35)" font-size="49" font-weight="bold" letter-spacing="1.8" text-anchor="end">Chr10</text>
<text transform="translate(1493.7 2338.5) rotate(-35)" font-size="49" font-weight="bold" letter-spacing="1.8" text-anchor="end">Chr11</text>
<text transform="translate(1606.7 2338.5) rotate(-35)" font-size="49" font-weight="bold" letter-spacing="1.8" text-anchor="end">Chr12</text>
<text transform="translate(1701.7 2338.5) rotate(-35)" font-size="49" font-weight="bold" letter-spacing="1.8" text-anchor="end">Chr13</text>
<text transform="translate(1829.1 2338.5) rotate(-35)" font-size="49" font-weight="bold" letter-spacing="1.8" text-anchor="end">Chr14</text>
<text transform="translate(1945.6 2338.5) rotate(-35)" font-size="49" font-weight="bold" letter-spacing="1.8" text-anchor="end">Chr15</text>
<text transform="translate(2042.6 2338.5) rotate(-35)" font-size="49" font-weight="bold" letter-spacing="1.8" text-anchor="end">Chr16</text>
<text transform="translate(2136.1 2338.5) rotate(-35)" font-size="49" font-weight="bold" letter-spacing="1.8" text-anchor="end">Chr17</text>
<text transform="translate(2244.1 2338.5) rotate(-35)" font-size="49" font-weight="bold" letter-spacing="1.8" text-anchor="end">Chr18</text>
<text transform="translate(2340.7 2338.5) rotate(-35)" font-size="49" font-weight="bold" letter-spacing="1.8" text-anchor="end">Chr19</text>
<text transform="translate(2437.2 2338.5) rotate(-35)" font-size="49" font-weight="bold" letter-spacing="1.8" text-anchor="end">Chr20</text>
</svg></body></html>
